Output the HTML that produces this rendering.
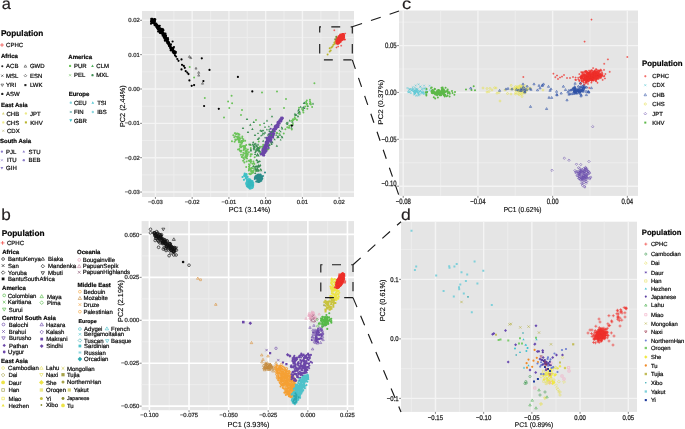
<!DOCTYPE html><html><head><meta charset="utf-8"><style>html,body{margin:0;padding:0;background:#fff;}svg{display:block;will-change:transform;}text{font-family:"Liberation Sans",sans-serif;stroke:#1a1a1a;stroke-width:0.22px;text-rendering:geometricPrecision;}</style></head><body>
<svg width="685" height="429" viewBox="0 0 685 429">
<rect width="685" height="429" fill="#fff"/>
<rect x="142" y="11" width="212" height="186" fill="#E5E5E5"/>
<g stroke="#EDEDED" stroke-width="1.0">
<line x1="173.8" y1="11" x2="173.8" y2="197"/>
<line x1="210.55" y1="11" x2="210.55" y2="197"/>
<line x1="247.3" y1="11" x2="247.3" y2="197"/>
<line x1="284.05" y1="11" x2="284.05" y2="197"/>
<line x1="320.8" y1="11" x2="320.8" y2="197"/>
<line x1="142" y1="174.88" x2="354" y2="174.88"/>
<line x1="142" y1="140.53" x2="354" y2="140.53"/>
<line x1="142" y1="106.18" x2="354" y2="106.18"/>
<line x1="142" y1="71.82" x2="354" y2="71.82"/>
<line x1="142" y1="37.47" x2="354" y2="37.47"/>
</g>
<g stroke="#F4F4F4" stroke-width="1.4">
<line x1="155.42" y1="11" x2="155.42" y2="197"/>
<line x1="192.17" y1="11" x2="192.17" y2="197"/>
<line x1="228.92" y1="11" x2="228.92" y2="197"/>
<line x1="265.67" y1="11" x2="265.67" y2="197"/>
<line x1="302.42" y1="11" x2="302.42" y2="197"/>
<line x1="339.17" y1="11" x2="339.17" y2="197"/>
<line x1="142" y1="192.06" x2="354" y2="192.06"/>
<line x1="142" y1="157.71" x2="354" y2="157.71"/>
<line x1="142" y1="123.35" x2="354" y2="123.35"/>
<line x1="142" y1="89" x2="354" y2="89"/>
<line x1="142" y1="54.65" x2="354" y2="54.65"/>
<line x1="142" y1="20.29" x2="354" y2="20.29"/>
</g>
<g stroke="#333333" stroke-width="0.6">
<line x1="155.42" y1="197" x2="155.42" y2="198.9"/>
<line x1="192.17" y1="197" x2="192.17" y2="198.9"/>
<line x1="228.92" y1="197" x2="228.92" y2="198.9"/>
<line x1="265.67" y1="197" x2="265.67" y2="198.9"/>
<line x1="302.42" y1="197" x2="302.42" y2="198.9"/>
<line x1="339.17" y1="197" x2="339.17" y2="198.9"/>
<line x1="140.1" y1="192.06" x2="142" y2="192.06"/>
<line x1="140.1" y1="157.71" x2="142" y2="157.71"/>
<line x1="140.1" y1="123.35" x2="142" y2="123.35"/>
<line x1="140.1" y1="89" x2="142" y2="89"/>
<line x1="140.1" y1="54.65" x2="142" y2="54.65"/>
<line x1="140.1" y1="20.29" x2="142" y2="20.29"/>
</g>
<g font-family='"Liberation Sans", sans-serif' font-size="5.9" fill="#383838">
<text transform="translate(155.42 202.08) scale(1.0 1.0)" y="2.12" text-anchor="middle">−0.03</text>
<text transform="translate(192.17 202.08) scale(1.0 1.0)" y="2.12" text-anchor="middle">−0.02</text>
<text transform="translate(228.92 202.08) scale(1.0 1.0)" y="2.12" text-anchor="middle">−0.01</text>
<text transform="translate(265.67 202.08) scale(1.0 1.0)" y="2.12" text-anchor="middle">0.00</text>
<text transform="translate(302.42 202.08) scale(1.0 1.0)" y="2.12" text-anchor="middle">0.01</text>
<text transform="translate(339.17 202.08) scale(1.0 1.0)" y="2.12" text-anchor="middle">0.02</text>
<text transform="translate(139.7 192.06) scale(1.0 1.0)" y="2.12" text-anchor="end">−0.03</text>
<text transform="translate(139.7 157.71) scale(1.0 1.0)" y="2.12" text-anchor="end">−0.02</text>
<text transform="translate(139.7 123.35) scale(1.0 1.0)" y="2.12" text-anchor="end">−0.01</text>
<text transform="translate(139.7 89) scale(1.0 1.0)" y="2.12" text-anchor="end">0.00</text>
<text transform="translate(139.7 54.65) scale(1.0 1.0)" y="2.12" text-anchor="end">0.01</text>
<text transform="translate(139.7 20.29) scale(1.0 1.0)" y="2.12" text-anchor="end">0.02</text>
</g>
<text x="249.5" y="212.4" font-size="7.25" font-weight="normal" text-anchor="middle" fill="#000" style="stroke-width:0.13px">PC1 (3.14%)</text>
<text x="125.2" y="106.2" font-size="7.25" font-weight="normal" text-anchor="middle" fill="#000" style="stroke-width:0.13px" transform="rotate(-90 125.2 106.2)">PC2 (2.44%)</text>
<rect x="399" y="10.5" width="239" height="185.4" fill="#E5E5E5"/>
<g stroke="#EDEDED" stroke-width="1.0">
<line x1="440.58" y1="10.5" x2="440.58" y2="195.9"/>
<line x1="515.28" y1="10.5" x2="515.28" y2="195.9"/>
<line x1="589.98" y1="10.5" x2="589.98" y2="195.9"/>
<line x1="399" y1="162.76" x2="638" y2="162.76"/>
<line x1="399" y1="115.89" x2="638" y2="115.89"/>
<line x1="399" y1="69.01" x2="638" y2="69.01"/>
<line x1="399" y1="22.14" x2="638" y2="22.14"/>
</g>
<g stroke="#F4F4F4" stroke-width="1.4">
<line x1="403.23" y1="10.5" x2="403.23" y2="195.9"/>
<line x1="477.93" y1="10.5" x2="477.93" y2="195.9"/>
<line x1="552.63" y1="10.5" x2="552.63" y2="195.9"/>
<line x1="627.33" y1="10.5" x2="627.33" y2="195.9"/>
<line x1="399" y1="186.2" x2="638" y2="186.2"/>
<line x1="399" y1="139.32" x2="638" y2="139.32"/>
<line x1="399" y1="92.45" x2="638" y2="92.45"/>
<line x1="399" y1="45.58" x2="638" y2="45.58"/>
</g>
<g stroke="#333333" stroke-width="0.6">
<line x1="403.23" y1="195.9" x2="403.23" y2="197.8"/>
<line x1="477.93" y1="195.9" x2="477.93" y2="197.8"/>
<line x1="552.63" y1="195.9" x2="552.63" y2="197.8"/>
<line x1="627.33" y1="195.9" x2="627.33" y2="197.8"/>
<line x1="397.1" y1="186.2" x2="399" y2="186.2"/>
<line x1="397.1" y1="139.32" x2="399" y2="139.32"/>
<line x1="397.1" y1="92.45" x2="399" y2="92.45"/>
<line x1="397.1" y1="45.58" x2="399" y2="45.58"/>
</g>
<g font-family='"Liberation Sans", sans-serif' font-size="6.0" fill="#383838">
<text transform="translate(403.23 201.04) scale(1.0 1.3)" y="2.16" text-anchor="middle">−0.08</text>
<text transform="translate(477.93 201.04) scale(1.0 1.3)" y="2.16" text-anchor="middle">−0.04</text>
<text transform="translate(552.63 201.04) scale(1.0 1.3)" y="2.16" text-anchor="middle">0.00</text>
<text transform="translate(627.33 201.04) scale(1.0 1.3)" y="2.16" text-anchor="middle">0.04</text>
<text transform="translate(396.7 183.5) scale(1.0 1.3)" y="2.16" text-anchor="end">−0.10</text>
<text transform="translate(396.7 139.32) scale(1.0 1.3)" y="2.16" text-anchor="end">−0.05</text>
<text transform="translate(396.7 92.45) scale(1.0 1.3)" y="2.16" text-anchor="end">0.00</text>
<text transform="translate(396.7 45.58) scale(1.0 1.3)" y="2.16" text-anchor="end">0.05</text>
</g>
<text transform="translate(522.6 211.6) scale(0.92 1)" font-size="7.2" text-anchor="middle" fill="#000" style="stroke-width:0.13px">PC1 (0.62%)</text>
<text transform="translate(383.2 102.2) rotate(-90) scale(1.10 0.95)" font-size="7.2" text-anchor="middle" fill="#000" style="stroke-width:0.13px">PC2 (0.37%)</text>
<rect x="141.6" y="221.1" width="212.4" height="189.1" fill="#E5E5E5"/>
<g stroke="#EDEDED" stroke-width="1.0">
<line x1="169.21" y1="221.1" x2="169.21" y2="410.2"/>
<line x1="208.82" y1="221.1" x2="208.82" y2="410.2"/>
<line x1="248.43" y1="221.1" x2="248.43" y2="410.2"/>
<line x1="288.04" y1="221.1" x2="288.04" y2="410.2"/>
<line x1="327.64" y1="221.1" x2="327.64" y2="410.2"/>
<line x1="141.6" y1="384.68" x2="354" y2="384.68"/>
<line x1="141.6" y1="341.75" x2="354" y2="341.75"/>
<line x1="141.6" y1="298.81" x2="354" y2="298.81"/>
<line x1="141.6" y1="255.88" x2="354" y2="255.88"/>
</g>
<g stroke="#FFFFFF" stroke-width="1.6">
<line x1="149.41" y1="221.1" x2="149.41" y2="410.2"/>
<line x1="189.02" y1="221.1" x2="189.02" y2="410.2"/>
<line x1="228.62" y1="221.1" x2="228.62" y2="410.2"/>
<line x1="268.23" y1="221.1" x2="268.23" y2="410.2"/>
<line x1="307.84" y1="221.1" x2="307.84" y2="410.2"/>
<line x1="347.45" y1="221.1" x2="347.45" y2="410.2"/>
<line x1="141.6" y1="406.14" x2="354" y2="406.14"/>
<line x1="141.6" y1="363.21" x2="354" y2="363.21"/>
<line x1="141.6" y1="320.28" x2="354" y2="320.28"/>
<line x1="141.6" y1="277.35" x2="354" y2="277.35"/>
<line x1="141.6" y1="234.41" x2="354" y2="234.41"/>
</g>
<g stroke="#333333" stroke-width="0.6">
<line x1="149.41" y1="410.2" x2="149.41" y2="412.1"/>
<line x1="189.02" y1="410.2" x2="189.02" y2="412.1"/>
<line x1="228.62" y1="410.2" x2="228.62" y2="412.1"/>
<line x1="268.23" y1="410.2" x2="268.23" y2="412.1"/>
<line x1="307.84" y1="410.2" x2="307.84" y2="412.1"/>
<line x1="347.45" y1="410.2" x2="347.45" y2="412.1"/>
<line x1="139.7" y1="406.14" x2="141.6" y2="406.14"/>
<line x1="139.7" y1="363.21" x2="141.6" y2="363.21"/>
<line x1="139.7" y1="320.28" x2="141.6" y2="320.28"/>
<line x1="139.7" y1="277.35" x2="141.6" y2="277.35"/>
<line x1="139.7" y1="234.41" x2="141.6" y2="234.41"/>
</g>
<g font-family='"Liberation Sans", sans-serif' font-size="5.9" fill="#383838">
<text transform="translate(149.41 415.28) scale(1.0 1.0)" y="2.12" text-anchor="middle">−0.100</text>
<text transform="translate(189.02 415.28) scale(1.0 1.0)" y="2.12" text-anchor="middle">−0.075</text>
<text transform="translate(228.62 415.28) scale(1.0 1.0)" y="2.12" text-anchor="middle">−0.050</text>
<text transform="translate(268.23 415.28) scale(1.0 1.0)" y="2.12" text-anchor="middle">−0.025</text>
<text transform="translate(307.84 415.28) scale(1.0 1.0)" y="2.12" text-anchor="middle">0.000</text>
<text transform="translate(347.45 415.28) scale(1.0 1.0)" y="2.12" text-anchor="middle">0.025</text>
<text transform="translate(139.3 406.14) scale(1.0 1.0)" y="2.12" text-anchor="end">−0.050</text>
<text transform="translate(139.3 363.21) scale(1.0 1.0)" y="2.12" text-anchor="end">−0.025</text>
<text transform="translate(139.3 320.28) scale(1.0 1.0)" y="2.12" text-anchor="end">0.000</text>
<text transform="translate(139.3 277.35) scale(1.0 1.0)" y="2.12" text-anchor="end">0.025</text>
<text transform="translate(139.3 234.41) scale(1.0 1.0)" y="2.12" text-anchor="end">0.050</text>
</g>
<text x="248.5" y="426.5" font-size="7.3" font-weight="normal" text-anchor="middle" fill="#000" style="stroke-width:0.13px">PC1 (3.93%)</text>
<text x="122.6" y="301" font-size="7.3" font-weight="normal" text-anchor="middle" fill="#000" style="stroke-width:0.13px" transform="rotate(-90 122.6 301)">PC2 (2.19%)</text>
<rect x="401" y="221.7" width="236" height="190.2" fill="#E5E5E5"/>
<g stroke="#EDEDED" stroke-width="1.0">
<line x1="459.56" y1="221.7" x2="459.56" y2="411.9"/>
<line x1="507.77" y1="221.7" x2="507.77" y2="411.9"/>
<line x1="555.99" y1="221.7" x2="555.99" y2="411.9"/>
<line x1="604.21" y1="221.7" x2="604.21" y2="411.9"/>
<line x1="411.34" y1="221.7" x2="411.34" y2="411.9"/>
<line x1="401" y1="368.63" x2="637" y2="368.63"/>
<line x1="401" y1="309.12" x2="637" y2="309.12"/>
<line x1="401" y1="249.61" x2="637" y2="249.61"/>
</g>
<g stroke="#F4F4F4" stroke-width="1.4">
<line x1="435.45" y1="221.7" x2="435.45" y2="411.9"/>
<line x1="483.67" y1="221.7" x2="483.67" y2="411.9"/>
<line x1="531.88" y1="221.7" x2="531.88" y2="411.9"/>
<line x1="580.1" y1="221.7" x2="580.1" y2="411.9"/>
<line x1="628.32" y1="221.7" x2="628.32" y2="411.9"/>
<line x1="401" y1="398.39" x2="637" y2="398.39"/>
<line x1="401" y1="338.88" x2="637" y2="338.88"/>
<line x1="401" y1="279.37" x2="637" y2="279.37"/>
</g>
<g stroke="#333333" stroke-width="0.6">
<line x1="435.45" y1="411.9" x2="435.45" y2="413.8"/>
<line x1="483.67" y1="411.9" x2="483.67" y2="413.8"/>
<line x1="531.88" y1="411.9" x2="531.88" y2="413.8"/>
<line x1="580.1" y1="411.9" x2="580.1" y2="413.8"/>
<line x1="628.32" y1="411.9" x2="628.32" y2="413.8"/>
<line x1="399.1" y1="398.39" x2="401" y2="398.39"/>
<line x1="399.1" y1="338.88" x2="401" y2="338.88"/>
<line x1="399.1" y1="279.37" x2="401" y2="279.37"/>
</g>
<g font-family='"Liberation Sans", sans-serif' font-size="6.0" fill="#383838">
<text transform="translate(435.45 417.04) scale(1.0 1.15)" y="2.16" text-anchor="middle">−0.15</text>
<text transform="translate(483.67 417.04) scale(1.0 1.15)" y="2.16" text-anchor="middle">−0.10</text>
<text transform="translate(531.88 417.04) scale(1.0 1.15)" y="2.16" text-anchor="middle">−0.05</text>
<text transform="translate(580.1 417.04) scale(1.0 1.15)" y="2.16" text-anchor="middle">0.00</text>
<text transform="translate(628.32 417.04) scale(1.0 1.15)" y="2.16" text-anchor="middle">0.05</text>
<text transform="translate(398.7 398.39) scale(1.0 1.15)" y="2.16" text-anchor="end">−0.1</text>
<text transform="translate(398.7 338.88) scale(1.0 1.15)" y="2.16" text-anchor="end">0.0</text>
<text transform="translate(398.7 279.37) scale(1.0 1.15)" y="2.16" text-anchor="end">0.1</text>
</g>
<text x="534" y="427.3" font-size="6.75" font-weight="normal" text-anchor="middle" fill="#000" style="stroke-width:0.13px">PC1 (0.89%)</text>
<text x="384.6" y="300.4" font-size="7.3" font-weight="normal" text-anchor="middle" fill="#000" style="stroke-width:0.13px" transform="rotate(-90 384.6 300.4)">PC2 (0.61%)</text>
<text transform="translate(1.7 8.7) scale(1.03 1)" font-size="16" fill="#231F20" style="stroke:#231F20;stroke-width:0.15px">a</text>
<text transform="translate(401.95 8.8) scale(1.15 1)" font-size="16" fill="#231F20" style="stroke:#231F20;stroke-width:0.15px">c</text>
<text transform="translate(1.35 219.8) scale(1.07 1)" font-size="16" fill="#231F20" style="stroke:#231F20;stroke-width:0.15px">b</text>
<text transform="translate(401.1 219.7) scale(1.1 1)" font-size="16" fill="#231F20" style="stroke:#231F20;stroke-width:0.15px">d</text>
<svg x="142" y="11" width="212" height="186" viewBox="142 11 212 186" overflow="hidden">
<path d="M239.07 146.64a1 1 0 1 0 2 0a1 1 0 1 0 -2 0M233.32 137.26a1 1 0 1 0 2 0a1 1 0 1 0 -2 0M245.76 153.97a1 1 0 1 0 2 0a1 1 0 1 0 -2 0M243.97 153.3a1 1 0 1 0 2 0a1 1 0 1 0 -2 0M235.57 134a1 1 0 1 0 2 0a1 1 0 1 0 -2 0M235.83 136.65a1 1 0 1 0 2 0a1 1 0 1 0 -2 0M242.65 149.9a1 1 0 1 0 2 0a1 1 0 1 0 -2 0M240.4 140.94a1 1 0 1 0 2 0a1 1 0 1 0 -2 0M243.36 159.31a1 1 0 1 0 2 0a1 1 0 1 0 -2 0M243.85 147.9a1 1 0 1 0 2 0a1 1 0 1 0 -2 0M248.29 173.81a1 1 0 1 0 2 0a1 1 0 1 0 -2 0M239.12 144.9a1 1 0 1 0 2 0a1 1 0 1 0 -2 0M236.02 139.36a1 1 0 1 0 2 0a1 1 0 1 0 -2 0M247.96 166.48a1 1 0 1 0 2 0a1 1 0 1 0 -2 0M241.16 138.08a1 1 0 1 0 2 0a1 1 0 1 0 -2 0M244.09 146.57a1 1 0 1 0 2 0a1 1 0 1 0 -2 0M244.46 155.05a1 1 0 1 0 2 0a1 1 0 1 0 -2 0M238.57 141.03a1 1 0 1 0 2 0a1 1 0 1 0 -2 0M249.41 159.65a1 1 0 1 0 2 0a1 1 0 1 0 -2 0M244.93 156.68a1 1 0 1 0 2 0a1 1 0 1 0 -2 0M245.32 150.17a1 1 0 1 0 2 0a1 1 0 1 0 -2 0M243.38 162.41a1 1 0 1 0 2 0a1 1 0 1 0 -2 0M242.43 140.97a1 1 0 1 0 2 0a1 1 0 1 0 -2 0M251.04 168.31a1 1 0 1 0 2 0a1 1 0 1 0 -2 0M249.66 161.87a1 1 0 1 0 2 0a1 1 0 1 0 -2 0M230.95 141.14a1 1 0 1 0 2 0a1 1 0 1 0 -2 0M243.09 149.36a1 1 0 1 0 2 0a1 1 0 1 0 -2 0M245.95 151.64a1 1 0 1 0 2 0a1 1 0 1 0 -2 0M236.57 133.47a1 1 0 1 0 2 0a1 1 0 1 0 -2 0M249.71 154.22a1 1 0 1 0 2 0a1 1 0 1 0 -2 0M251.14 168.3a1 1 0 1 0 2 0a1 1 0 1 0 -2 0M242.31 158.12a1 1 0 1 0 2 0a1 1 0 1 0 -2 0M250.77 154.14a1 1 0 1 0 2 0a1 1 0 1 0 -2 0M249.95 171.86a1 1 0 1 0 2 0a1 1 0 1 0 -2 0M244.64 151.44a1 1 0 1 0 2 0a1 1 0 1 0 -2 0M248.45 160.94a1 1 0 1 0 2 0a1 1 0 1 0 -2 0M242.1 160.74a1 1 0 1 0 2 0a1 1 0 1 0 -2 0M240.69 143.87a1 1 0 1 0 2 0a1 1 0 1 0 -2 0M242.79 147.89a1 1 0 1 0 2 0a1 1 0 1 0 -2 0M244.45 150.91a1 1 0 1 0 2 0a1 1 0 1 0 -2 0M237.4 139.75a1 1 0 1 0 2 0a1 1 0 1 0 -2 0M248.03 164.2a1 1 0 1 0 2 0a1 1 0 1 0 -2 0M237.04 137.94a1 1 0 1 0 2 0a1 1 0 1 0 -2 0M247.95 169.02a1 1 0 1 0 2 0a1 1 0 1 0 -2 0M238.38 134.52a1 1 0 1 0 2 0a1 1 0 1 0 -2 0M249.3 169.19a1 1 0 1 0 2 0a1 1 0 1 0 -2 0M248.11 166.58a1 1 0 1 0 2 0a1 1 0 1 0 -2 0M244.73 148.4a1 1 0 1 0 2 0a1 1 0 1 0 -2 0M237.05 149.41a1 1 0 1 0 2 0a1 1 0 1 0 -2 0M241.32 136.4a1 1 0 1 0 2 0a1 1 0 1 0 -2 0M238 139.81a1 1 0 1 0 2 0a1 1 0 1 0 -2 0M242.32 152.86a1 1 0 1 0 2 0a1 1 0 1 0 -2 0M246.02 156.43a1 1 0 1 0 2 0a1 1 0 1 0 -2 0M242.94 149.48a1 1 0 1 0 2 0a1 1 0 1 0 -2 0M248.13 144.39a1 1 0 1 0 2 0a1 1 0 1 0 -2 0M250.09 159.91a1 1 0 1 0 2 0a1 1 0 1 0 -2 0M247.83 152.18a1 1 0 1 0 2 0a1 1 0 1 0 -2 0M237.3 133.79a1 1 0 1 0 2 0a1 1 0 1 0 -2 0M249.55 169.87a1 1 0 1 0 2 0a1 1 0 1 0 -2 0M253.42 163.91a1 1 0 1 0 2 0a1 1 0 1 0 -2 0M243.64 147.79a1 1 0 1 0 2 0a1 1 0 1 0 -2 0M246.01 158.6a1 1 0 1 0 2 0a1 1 0 1 0 -2 0M234.22 136.15a1 1 0 1 0 2 0a1 1 0 1 0 -2 0M237.22 139.56a1 1 0 1 0 2 0a1 1 0 1 0 -2 0M241.54 146.22a1 1 0 1 0 2 0a1 1 0 1 0 -2 0M237.58 138.76a1 1 0 1 0 2 0a1 1 0 1 0 -2 0M236.72 136.66a1 1 0 1 0 2 0a1 1 0 1 0 -2 0M249.62 168.68a1 1 0 1 0 2 0a1 1 0 1 0 -2 0M245.21 157.94a1 1 0 1 0 2 0a1 1 0 1 0 -2 0M240.14 147.29a1 1 0 1 0 2 0a1 1 0 1 0 -2 0M238.42 148.99a1 1 0 1 0 2 0a1 1 0 1 0 -2 0M249.42 174.27a1 1 0 1 0 2 0a1 1 0 1 0 -2 0M245.17 150.84a1 1 0 1 0 2 0a1 1 0 1 0 -2 0M236.34 136.94a1 1 0 1 0 2 0a1 1 0 1 0 -2 0M242.1 146.07a1 1 0 1 0 2 0a1 1 0 1 0 -2 0M233.61 141.77a1 1 0 1 0 2 0a1 1 0 1 0 -2 0M232.3 135.28a1 1 0 1 0 2 0a1 1 0 1 0 -2 0M238.31 138.06a1 1 0 1 0 2 0a1 1 0 1 0 -2 0M241.99 155.79a1 1 0 1 0 2 0a1 1 0 1 0 -2 0M250.92 173.16a1 1 0 1 0 2 0a1 1 0 1 0 -2 0M250.34 167.96a1 1 0 1 0 2 0a1 1 0 1 0 -2 0M244.06 146.3a1 1 0 1 0 2 0a1 1 0 1 0 -2 0M237.58 139.59a1 1 0 1 0 2 0a1 1 0 1 0 -2 0M251.5 163.63a1 1 0 1 0 2 0a1 1 0 1 0 -2 0M240.59 146.18a1 1 0 1 0 2 0a1 1 0 1 0 -2 0M248.6 174.12a1 1 0 1 0 2 0a1 1 0 1 0 -2 0M248.38 168.02a1 1 0 1 0 2 0a1 1 0 1 0 -2 0M252.35 161.52a1 1 0 1 0 2 0a1 1 0 1 0 -2 0M241.67 140.48a1 1 0 1 0 2 0a1 1 0 1 0 -2 0M234.89 133.98a1 1 0 1 0 2 0a1 1 0 1 0 -2 0M234.94 133.89a1 1 0 1 0 2 0a1 1 0 1 0 -2 0M245.62 161.4a1 1 0 1 0 2 0a1 1 0 1 0 -2 0M254.57 171.1a1 1 0 1 0 2 0a1 1 0 1 0 -2 0M250.21 173.81a1 1 0 1 0 2 0a1 1 0 1 0 -2 0M251.7 171.84a1 1 0 1 0 2 0a1 1 0 1 0 -2 0M237.99 142.32a1 1 0 1 0 2 0a1 1 0 1 0 -2 0M237.75 141.05a1 1 0 1 0 2 0a1 1 0 1 0 -2 0M247.78 170.42a1 1 0 1 0 2 0a1 1 0 1 0 -2 0M252.57 166.26a1 1 0 1 0 2 0a1 1 0 1 0 -2 0M248.58 165.51a1 1 0 1 0 2 0a1 1 0 1 0 -2 0M238.43 134.71a1 1 0 1 0 2 0a1 1 0 1 0 -2 0M252.97 163.32a1 1 0 1 0 2 0a1 1 0 1 0 -2 0M249.8 162.8a1 1 0 1 0 2 0a1 1 0 1 0 -2 0M248.66 164.99a1 1 0 1 0 2 0a1 1 0 1 0 -2 0M239.26 146.98a1 1 0 1 0 2 0a1 1 0 1 0 -2 0M249.44 145.07a1 1 0 1 0 2 0a1 1 0 1 0 -2 0M238.79 150.67a1 1 0 1 0 2 0a1 1 0 1 0 -2 0M239.24 138.71a1 1 0 1 0 2 0a1 1 0 1 0 -2 0M234.28 139.54a1 1 0 1 0 2 0a1 1 0 1 0 -2 0M245.21 166.88a1 1 0 1 0 2 0a1 1 0 1 0 -2 0M234.6 140.35a1 1 0 1 0 2 0a1 1 0 1 0 -2 0M253.68 157.23a1 1 0 1 0 2 0a1 1 0 1 0 -2 0M243.13 145.95a1 1 0 1 0 2 0a1 1 0 1 0 -2 0M234.64 133.35a1 1 0 1 0 2 0a1 1 0 1 0 -2 0M252.27 172.42a1 1 0 1 0 2 0a1 1 0 1 0 -2 0M252.38 170.66a1 1 0 1 0 2 0a1 1 0 1 0 -2 0M240 151.69a1 1 0 1 0 2 0a1 1 0 1 0 -2 0M242.39 139.33a1 1 0 1 0 2 0a1 1 0 1 0 -2 0M240.33 142.41a1 1 0 1 0 2 0a1 1 0 1 0 -2 0M244.05 157.06a1 1 0 1 0 2 0a1 1 0 1 0 -2 0M241.16 142.37a1 1 0 1 0 2 0a1 1 0 1 0 -2 0M249.92 170.26a1 1 0 1 0 2 0a1 1 0 1 0 -2 0M245.22 145.07a1 1 0 1 0 2 0a1 1 0 1 0 -2 0M249.69 170.06a1 1 0 1 0 2 0a1 1 0 1 0 -2 0M240.47 150.79a1 1 0 1 0 2 0a1 1 0 1 0 -2 0M246.65 153.43a1 1 0 1 0 2 0a1 1 0 1 0 -2 0M242.03 154.83a1 1 0 1 0 2 0a1 1 0 1 0 -2 0M238.06 140.14a1 1 0 1 0 2 0a1 1 0 1 0 -2 0M233.74 133.37a1 1 0 1 0 2 0a1 1 0 1 0 -2 0M245.74 150.98a1 1 0 1 0 2 0a1 1 0 1 0 -2 0M250.03 161.56a1 1 0 1 0 2 0a1 1 0 1 0 -2 0M245.69 153.15a1 1 0 1 0 2 0a1 1 0 1 0 -2 0M245.18 155.13a1 1 0 1 0 2 0a1 1 0 1 0 -2 0M246.78 154.75a1 1 0 1 0 2 0a1 1 0 1 0 -2 0M240.5 142.16a1 1 0 1 0 2 0a1 1 0 1 0 -2 0M240.05 154.84a1 1 0 1 0 2 0a1 1 0 1 0 -2 0M245.19 155.44a1 1 0 1 0 2 0a1 1 0 1 0 -2 0M249.78 147.95a1 1 0 1 0 2 0a1 1 0 1 0 -2 0M249.55 156.18a1 1 0 1 0 2 0a1 1 0 1 0 -2 0M247.67 160.77a1 1 0 1 0 2 0a1 1 0 1 0 -2 0M246.88 149.52a1 1 0 1 0 2 0a1 1 0 1 0 -2 0M251.18 171.37a1 1 0 1 0 2 0a1 1 0 1 0 -2 0M243.35 162.43a1 1 0 1 0 2 0a1 1 0 1 0 -2 0M244.24 140.84a1 1 0 1 0 2 0a1 1 0 1 0 -2 0M240.7 157.07a1 1 0 1 0 2 0a1 1 0 1 0 -2 0M238.72 137.29a1 1 0 1 0 2 0a1 1 0 1 0 -2 0M237.67 137.13a1 1 0 1 0 2 0a1 1 0 1 0 -2 0M239.25 142.38a1 1 0 1 0 2 0a1 1 0 1 0 -2 0M237.47 134.7a1 1 0 1 0 2 0a1 1 0 1 0 -2 0M253.09 168.75a1 1 0 1 0 2 0a1 1 0 1 0 -2 0M188.7 67.1a1 1 0 1 0 2 0a1 1 0 1 0 -2 0M193.1 77.6a1 1 0 1 0 2 0a1 1 0 1 0 -2 0M203.8 97.9a1 1 0 1 0 2 0a1 1 0 1 0 -2 0M230.6 95.8a1 1 0 1 0 2 0a1 1 0 1 0 -2 0M227.1 101.4a1 1 0 1 0 2 0a1 1 0 1 0 -2 0M231.1 103.2a1 1 0 1 0 2 0a1 1 0 1 0 -2 0M228.3 107.9a1 1 0 1 0 2 0a1 1 0 1 0 -2 0M223 117.6a1 1 0 1 0 2 0a1 1 0 1 0 -2 0M241 110a1 1 0 1 0 2 0a1 1 0 1 0 -2 0M240 115a1 1 0 1 0 2 0a1 1 0 1 0 -2 0M261 92.5a1 1 0 1 0 2 0a1 1 0 1 0 -2 0M276 91.5a1 1 0 1 0 2 0a1 1 0 1 0 -2 0M285 99a1 1 0 1 0 2 0a1 1 0 1 0 -2 0M269 109a1 1 0 1 0 2 0a1 1 0 1 0 -2 0M283 108a1 1 0 1 0 2 0a1 1 0 1 0 -2 0M313.4 83.3a1 1 0 1 0 2 0a1 1 0 1 0 -2 0M255 120a1 1 0 1 0 2 0a1 1 0 1 0 -2 0M259 125a1 1 0 1 0 2 0a1 1 0 1 0 -2 0" fill="#6CC35A" stroke="none"/>
<path d="M259.87 150.38L261.08 152.49L258.66 152.49zM256.05 144.15L257.26 146.26L254.84 146.26zM263.21 139.64L264.42 141.75L262 141.75zM258.5 154.28L259.71 156.39L257.29 156.39zM254.03 148.21L255.24 150.32L252.82 150.32zM263.04 145.37L264.24 147.48L261.83 147.48zM258.8 148.95L260 151.06L257.59 151.06zM254.1 145.48L255.31 147.59L252.89 147.59zM257.94 148.68L259.14 150.79L256.73 150.79zM256.89 145.11L258.1 147.22L255.68 147.22zM253.75 144.54L254.96 146.65L252.54 146.65zM259.85 146.15L261.06 148.26L258.65 148.26zM254.27 142.85L255.48 144.96L253.06 144.96zM265.53 149.78L266.74 151.9L264.33 151.9zM259.04 136.72L260.25 138.83L257.83 138.83zM258.99 147.47L260.2 149.59L257.78 149.59zM262.39 147.29L263.6 149.4L261.18 149.4zM256.78 147.62L257.99 149.73L255.58 149.73zM250.78 149.41L251.99 151.52L249.57 151.52zM258.04 143.34L259.25 145.45L256.83 145.45zM261.24 152.13L262.45 154.24L260.03 154.24zM252.51 143.46L253.72 145.57L251.3 145.57zM257.93 146.43L259.14 148.55L256.72 148.55zM255.72 142.38L256.93 144.5L254.52 144.5zM263.79 149.42L264.99 151.54L262.58 151.54zM253.18 141.08L254.39 143.2L251.97 143.2zM262.45 149.25L263.66 151.37L261.24 151.37zM262.83 148.63L264.03 150.74L261.62 150.74zM254.21 146.7L255.42 148.82L253 148.82zM250.09 143.17L251.3 145.29L248.88 145.29zM256.81 147.62L258.02 149.74L255.6 149.74zM254.67 145.36L255.88 147.47L253.46 147.47zM258.47 147.11L259.67 149.22L257.26 149.22zM259.04 146.52L260.25 148.64L257.83 148.64zM255.96 148.55L257.17 150.67L254.76 150.67zM257.61 161.08L258.82 163.19L256.4 163.19zM256.12 164.79L257.33 166.9L254.92 166.9zM257.26 165.5L258.47 167.61L256.05 167.61zM257.5 165.58L258.71 167.7L256.29 167.7zM257.2 159.13L258.41 161.24L256 161.24zM258.43 169.53L259.63 171.65L257.22 171.65zM258.46 163.94L259.66 166.05L257.25 166.05zM258.48 160.45L259.69 162.56L257.27 162.56zM253.33 165.06L254.54 167.17L252.12 167.17zM255.45 168.12L256.66 170.23L254.25 170.23zM255.12 152.96L256.32 155.08L253.91 155.08zM255.21 171.89L256.42 174.01L254.01 174.01zM256.66 158.63L257.87 160.74L255.45 160.74zM255.82 167.14L257.03 169.25L254.61 169.25zM258.59 165.59L259.8 167.7L257.39 167.7zM260.76 167.97L261.97 170.08L259.56 170.08zM257.45 167.48L258.66 169.59L256.25 169.59zM261.14 169.16L262.35 171.28L259.93 171.28zM259.75 159.92L260.96 162.03L258.54 162.03zM257.17 168.08L258.38 170.19L255.97 170.19zM256.85 169.6L258.06 171.72L255.64 171.72zM258.81 168.88L260.02 170.99L257.6 170.99zM257.03 176.25L258.24 178.36L255.83 178.36zM260.23 163.82L261.44 165.94L259.02 165.94zM257.7 176.47L258.91 178.58L256.49 178.58zM256.74 168.73L257.95 170.84L255.54 170.84zM259.66 164.82L260.86 166.94L258.45 166.94zM254.93 165.64L256.14 167.75L253.72 167.75zM274.6 138.13L275.81 140.24L273.39 140.24zM277.77 135.21L278.98 137.32L276.57 137.32zM269.52 143.76L270.72 145.88L268.31 145.88zM267.27 147.86L268.48 149.97L266.06 149.97zM280.03 133.63L281.24 135.75L278.82 135.75zM292.47 123.98L293.68 126.1L291.26 126.1zM298.37 109.29L299.58 111.41L297.17 111.41zM303.85 101.94L305.05 104.05L302.64 104.05zM282.22 127.35L283.42 129.46L281.01 129.46zM276.86 144.58L278.07 146.7L275.65 146.7zM298.29 111.64L299.5 113.75L297.08 113.75zM303.28 105.94L304.48 108.05L302.07 108.05zM304.79 101.69L305.99 103.8L303.58 103.8zM300.7 105.73L301.91 107.85L299.49 107.85zM270.1 139.85L271.3 141.96L268.89 141.96zM303.36 106.04L304.56 108.15L302.15 108.15zM303.26 108.73L304.47 110.85L302.06 110.85zM304.77 101.58L305.98 103.7L303.57 103.7zM296.3 113.63L297.51 115.74L295.09 115.74zM266.21 146.21L267.42 148.32L265.01 148.32zM271.3 141.4L272.5 143.51L270.09 143.51zM304.27 106.79L305.48 108.9L303.07 108.9zM289.74 119.29L290.94 121.41L288.53 121.41zM294.96 112.63L296.17 114.74L293.75 114.74zM291.6 126.76L292.81 128.87L290.39 128.87zM299.75 110.74L300.96 112.86L298.55 112.86zM286.61 121.65L287.81 123.76L285.4 123.76zM268.34 144.88L269.54 146.99L267.13 146.99zM299.16 111.26L300.37 113.38L297.95 113.38zM278.42 135.8L279.63 137.91L277.22 137.91zM299.57 112.32L300.78 114.43L298.37 114.43zM313 102.5L314.21 104.61L311.79 104.61zM287.24 122.93L288.45 125.04L286.04 125.04zM298.01 115.09L299.21 117.2L296.8 117.2zM298.8 108.18L300.01 110.29L297.6 110.29zM267.75 143.38L268.96 145.5L266.55 145.5zM272.36 141.02L273.57 143.13L271.15 143.13zM282.24 136.1L283.45 138.21L281.03 138.21zM292.42 120.6L293.63 122.72L291.21 122.72zM278.05 135.05L279.26 137.16L276.85 137.16zM295.34 113.77L296.55 115.88L294.14 115.88zM277.09 131.7L278.3 133.81L275.88 133.81zM287.76 121.38L288.97 123.5L286.56 123.5zM271.59 142.94L272.79 145.05L270.38 145.05zM307.74 104.96L308.95 107.07L306.53 107.07zM247 117.79L248.21 119.91L245.79 119.91zM253.8 120.79L255.01 122.91L252.59 122.91zM250.3 123.59L251.51 125.71L249.09 125.71zM252.4 127.79L253.61 129.91L251.19 129.91zM267 119.39L268.21 121.51L265.79 121.51zM261.5 129.79L262.71 131.91L260.29 131.91zM265 131.29L266.21 133.41L263.79 133.41zM272 115.19L273.21 117.31L270.79 117.31zM248 130.79L249.21 132.91L246.79 132.91zM243 126.79L244.21 128.91L241.79 128.91zM255 133.79L256.21 135.91L253.79 135.91zM258 137.79L259.21 139.91L256.79 139.91z" fill="#3C8E52" stroke="none"/>
<path d="M311.13 106.99a1 1 0 1 0 2 0a1 1 0 1 0 -2 0M275.53 132.63a1 1 0 1 0 2 0a1 1 0 1 0 -2 0M309.46 102.73a1 1 0 1 0 2 0a1 1 0 1 0 -2 0M291.93 120.49a1 1 0 1 0 2 0a1 1 0 1 0 -2 0M308.91 103.76a1 1 0 1 0 2 0a1 1 0 1 0 -2 0M284.35 129.26a1 1 0 1 0 2 0a1 1 0 1 0 -2 0M293.82 117.36a1 1 0 1 0 2 0a1 1 0 1 0 -2 0M309.92 104.38a1 1 0 1 0 2 0a1 1 0 1 0 -2 0M295.98 119.93a1 1 0 1 0 2 0a1 1 0 1 0 -2 0M305.6 104.29a1 1 0 1 0 2 0a1 1 0 1 0 -2 0M305.36 103.22a1 1 0 1 0 2 0a1 1 0 1 0 -2 0M293.26 119.26a1 1 0 1 0 2 0a1 1 0 1 0 -2 0M293.31 118.96a1 1 0 1 0 2 0a1 1 0 1 0 -2 0M291.82 120.32a1 1 0 1 0 2 0a1 1 0 1 0 -2 0M289.83 125.3a1 1 0 1 0 2 0a1 1 0 1 0 -2 0M288.24 125.79a1 1 0 1 0 2 0a1 1 0 1 0 -2 0M301.02 109.06a1 1 0 1 0 2 0a1 1 0 1 0 -2 0M306.33 108.64a1 1 0 1 0 2 0a1 1 0 1 0 -2 0M302.4 112.51a1 1 0 1 0 2 0a1 1 0 1 0 -2 0M306.1 103.78a1 1 0 1 0 2 0a1 1 0 1 0 -2 0M291.91 123.9a1 1 0 1 0 2 0a1 1 0 1 0 -2 0M308.9 99.83a1 1 0 1 0 2 0a1 1 0 1 0 -2 0M290.64 120.81a1 1 0 1 0 2 0a1 1 0 1 0 -2 0M287.7 127.87a1 1 0 1 0 2 0a1 1 0 1 0 -2 0M304.16 106.48a1 1 0 1 0 2 0a1 1 0 1 0 -2 0M288.41 127.77a1 1 0 1 0 2 0a1 1 0 1 0 -2 0M286.25 127.35a1 1 0 1 0 2 0a1 1 0 1 0 -2 0M294.42 118.63a1 1 0 1 0 2 0a1 1 0 1 0 -2 0M309.59 103.75a1 1 0 1 0 2 0a1 1 0 1 0 -2 0M306.49 105.5a1 1 0 1 0 2 0a1 1 0 1 0 -2 0M305.12 101.8a1 1 0 1 0 2 0a1 1 0 1 0 -2 0M305.84 100.61a1 1 0 1 0 2 0a1 1 0 1 0 -2 0M278.33 133.79a1 1 0 1 0 2 0a1 1 0 1 0 -2 0M298.06 107.83a1 1 0 1 0 2 0a1 1 0 1 0 -2 0M298.68 113.78a1 1 0 1 0 2 0a1 1 0 1 0 -2 0M290.8 129.52a1 1 0 1 0 2 0a1 1 0 1 0 -2 0M282.76 133.41a1 1 0 1 0 2 0a1 1 0 1 0 -2 0M291.98 119.14a1 1 0 1 0 2 0a1 1 0 1 0 -2 0M301.84 110.44a1 1 0 1 0 2 0a1 1 0 1 0 -2 0M309.01 101.62a1 1 0 1 0 2 0a1 1 0 1 0 -2 0M265.37 143.4a1 1 0 1 0 2 0a1 1 0 1 0 -2 0M264.64 143.09a1 1 0 1 0 2 0a1 1 0 1 0 -2 0M262.12 146.44a1 1 0 1 0 2 0a1 1 0 1 0 -2 0M262.74 148.89a1 1 0 1 0 2 0a1 1 0 1 0 -2 0M259.04 146.63a1 1 0 1 0 2 0a1 1 0 1 0 -2 0M267.41 149.37a1 1 0 1 0 2 0a1 1 0 1 0 -2 0M260.93 146.67a1 1 0 1 0 2 0a1 1 0 1 0 -2 0M262.51 148.08a1 1 0 1 0 2 0a1 1 0 1 0 -2 0M262.48 147.49a1 1 0 1 0 2 0a1 1 0 1 0 -2 0M262.2 144.73a1 1 0 1 0 2 0a1 1 0 1 0 -2 0M264.89 150.06a1 1 0 1 0 2 0a1 1 0 1 0 -2 0M257.75 141.47a1 1 0 1 0 2 0a1 1 0 1 0 -2 0" fill="#6CC35A" stroke="none"/>
<path d="M248.54 182.52a1.1 1.1 0 1 0 2.2 0a1.1 1.1 0 1 0 -2.2 0M246.4 179.7a1.1 1.1 0 1 0 2.2 0a1.1 1.1 0 1 0 -2.2 0M246.11 184.53a1.1 1.1 0 1 0 2.2 0a1.1 1.1 0 1 0 -2.2 0M250.58 187.2a1.1 1.1 0 1 0 2.2 0a1.1 1.1 0 1 0 -2.2 0M246.11 182.03a1.1 1.1 0 1 0 2.2 0a1.1 1.1 0 1 0 -2.2 0M246.68 183.26a1.1 1.1 0 1 0 2.2 0a1.1 1.1 0 1 0 -2.2 0M249.55 188.46a1.1 1.1 0 1 0 2.2 0a1.1 1.1 0 1 0 -2.2 0M251.22 187.38a1.1 1.1 0 1 0 2.2 0a1.1 1.1 0 1 0 -2.2 0M248.75 184.73a1.1 1.1 0 1 0 2.2 0a1.1 1.1 0 1 0 -2.2 0M245.9 180.34a1.1 1.1 0 1 0 2.2 0a1.1 1.1 0 1 0 -2.2 0M246.36 184.67a1.1 1.1 0 1 0 2.2 0a1.1 1.1 0 1 0 -2.2 0M251.15 187.9a1.1 1.1 0 1 0 2.2 0a1.1 1.1 0 1 0 -2.2 0M250.64 184.87a1.1 1.1 0 1 0 2.2 0a1.1 1.1 0 1 0 -2.2 0M250.43 182.88a1.1 1.1 0 1 0 2.2 0a1.1 1.1 0 1 0 -2.2 0M247.82 179.08a1.1 1.1 0 1 0 2.2 0a1.1 1.1 0 1 0 -2.2 0M249.94 180.59a1.1 1.1 0 1 0 2.2 0a1.1 1.1 0 1 0 -2.2 0M252.01 184.48a1.1 1.1 0 1 0 2.2 0a1.1 1.1 0 1 0 -2.2 0M246.33 180.43a1.1 1.1 0 1 0 2.2 0a1.1 1.1 0 1 0 -2.2 0M247.34 185.63a1.1 1.1 0 1 0 2.2 0a1.1 1.1 0 1 0 -2.2 0M249.04 179.53a1.1 1.1 0 1 0 2.2 0a1.1 1.1 0 1 0 -2.2 0M245.78 184.85a1.1 1.1 0 1 0 2.2 0a1.1 1.1 0 1 0 -2.2 0M248.98 182.52a1.1 1.1 0 1 0 2.2 0a1.1 1.1 0 1 0 -2.2 0M247.05 185.33a1.1 1.1 0 1 0 2.2 0a1.1 1.1 0 1 0 -2.2 0M249.66 188.48a1.1 1.1 0 1 0 2.2 0a1.1 1.1 0 1 0 -2.2 0M250.74 187.39a1.1 1.1 0 1 0 2.2 0a1.1 1.1 0 1 0 -2.2 0M247.81 181.18a1.1 1.1 0 1 0 2.2 0a1.1 1.1 0 1 0 -2.2 0M249.6 181.48a1.1 1.1 0 1 0 2.2 0a1.1 1.1 0 1 0 -2.2 0M245.37 184.67a1.1 1.1 0 1 0 2.2 0a1.1 1.1 0 1 0 -2.2 0M249.7 182.67a1.1 1.1 0 1 0 2.2 0a1.1 1.1 0 1 0 -2.2 0M247.46 185.93a1.1 1.1 0 1 0 2.2 0a1.1 1.1 0 1 0 -2.2 0M245.02 183.04a1.1 1.1 0 1 0 2.2 0a1.1 1.1 0 1 0 -2.2 0M248.64 185.78a1.1 1.1 0 1 0 2.2 0a1.1 1.1 0 1 0 -2.2 0M247.4 187.35a1.1 1.1 0 1 0 2.2 0a1.1 1.1 0 1 0 -2.2 0M250.38 183.4a1.1 1.1 0 1 0 2.2 0a1.1 1.1 0 1 0 -2.2 0M248.25 187.37a1.1 1.1 0 1 0 2.2 0a1.1 1.1 0 1 0 -2.2 0M246.08 181.5a1.1 1.1 0 1 0 2.2 0a1.1 1.1 0 1 0 -2.2 0M249.96 181.25a1.1 1.1 0 1 0 2.2 0a1.1 1.1 0 1 0 -2.2 0M251.83 182.92a1.1 1.1 0 1 0 2.2 0a1.1 1.1 0 1 0 -2.2 0M245.78 181.6a1.1 1.1 0 1 0 2.2 0a1.1 1.1 0 1 0 -2.2 0M248.57 185.62a1.1 1.1 0 1 0 2.2 0a1.1 1.1 0 1 0 -2.2 0M247.19 181.11a1.1 1.1 0 1 0 2.2 0a1.1 1.1 0 1 0 -2.2 0M249.03 188a1.1 1.1 0 1 0 2.2 0a1.1 1.1 0 1 0 -2.2 0M251.99 185.42a1.1 1.1 0 1 0 2.2 0a1.1 1.1 0 1 0 -2.2 0M246.67 180.96a1.1 1.1 0 1 0 2.2 0a1.1 1.1 0 1 0 -2.2 0M245.89 186.32a1.1 1.1 0 1 0 2.2 0a1.1 1.1 0 1 0 -2.2 0M247.52 182.76a1.1 1.1 0 1 0 2.2 0a1.1 1.1 0 1 0 -2.2 0M246.64 180.79a1.1 1.1 0 1 0 2.2 0a1.1 1.1 0 1 0 -2.2 0M248.89 188.65a1.1 1.1 0 1 0 2.2 0a1.1 1.1 0 1 0 -2.2 0M246.28 182.91a1.1 1.1 0 1 0 2.2 0a1.1 1.1 0 1 0 -2.2 0M251.8 186.44a1.1 1.1 0 1 0 2.2 0a1.1 1.1 0 1 0 -2.2 0M247.02 179.4a1.1 1.1 0 1 0 2.2 0a1.1 1.1 0 1 0 -2.2 0M248.17 182.57a1.1 1.1 0 1 0 2.2 0a1.1 1.1 0 1 0 -2.2 0M248.82 188.04a1.1 1.1 0 1 0 2.2 0a1.1 1.1 0 1 0 -2.2 0M245.19 183.78a1.1 1.1 0 1 0 2.2 0a1.1 1.1 0 1 0 -2.2 0M251.59 185.9a1.1 1.1 0 1 0 2.2 0a1.1 1.1 0 1 0 -2.2 0M247.68 186.74a1.1 1.1 0 1 0 2.2 0a1.1 1.1 0 1 0 -2.2 0M251.04 181.44a1.1 1.1 0 1 0 2.2 0a1.1 1.1 0 1 0 -2.2 0M248.87 181.19a1.1 1.1 0 1 0 2.2 0a1.1 1.1 0 1 0 -2.2 0M249.71 181.55a1.1 1.1 0 1 0 2.2 0a1.1 1.1 0 1 0 -2.2 0M251.6 187.51a1.1 1.1 0 1 0 2.2 0a1.1 1.1 0 1 0 -2.2 0M250.82 188a1.1 1.1 0 1 0 2.2 0a1.1 1.1 0 1 0 -2.2 0M249.76 188.43a1.1 1.1 0 1 0 2.2 0a1.1 1.1 0 1 0 -2.2 0M251.55 181.81a1.1 1.1 0 1 0 2.2 0a1.1 1.1 0 1 0 -2.2 0M246.78 183.56a1.1 1.1 0 1 0 2.2 0a1.1 1.1 0 1 0 -2.2 0M249.81 188.11a1.1 1.1 0 1 0 2.2 0a1.1 1.1 0 1 0 -2.2 0M247.31 187.43a1.1 1.1 0 1 0 2.2 0a1.1 1.1 0 1 0 -2.2 0M251.23 186.6a1.1 1.1 0 1 0 2.2 0a1.1 1.1 0 1 0 -2.2 0M250.89 184.37a1.1 1.1 0 1 0 2.2 0a1.1 1.1 0 1 0 -2.2 0M247.02 182.31a1.1 1.1 0 1 0 2.2 0a1.1 1.1 0 1 0 -2.2 0M248.5 186.89a1.1 1.1 0 1 0 2.2 0a1.1 1.1 0 1 0 -2.2 0M249.78 180.79a1.1 1.1 0 1 0 2.2 0a1.1 1.1 0 1 0 -2.2 0M248.6 181.95a1.1 1.1 0 1 0 2.2 0a1.1 1.1 0 1 0 -2.2 0M249.25 185.91a1.1 1.1 0 1 0 2.2 0a1.1 1.1 0 1 0 -2.2 0M247.62 181.23a1.1 1.1 0 1 0 2.2 0a1.1 1.1 0 1 0 -2.2 0M248.45 185.16a1.1 1.1 0 1 0 2.2 0a1.1 1.1 0 1 0 -2.2 0M250.58 185.97a1.1 1.1 0 1 0 2.2 0a1.1 1.1 0 1 0 -2.2 0M251.56 184.81a1.1 1.1 0 1 0 2.2 0a1.1 1.1 0 1 0 -2.2 0M247.45 184.86a1.1 1.1 0 1 0 2.2 0a1.1 1.1 0 1 0 -2.2 0M248.46 186.43a1.1 1.1 0 1 0 2.2 0a1.1 1.1 0 1 0 -2.2 0M245.93 181.82a1.1 1.1 0 1 0 2.2 0a1.1 1.1 0 1 0 -2.2 0M246 180.79a1.1 1.1 0 1 0 2.2 0a1.1 1.1 0 1 0 -2.2 0M251.58 183.87a1.1 1.1 0 1 0 2.2 0a1.1 1.1 0 1 0 -2.2 0M247.21 183.08a1.1 1.1 0 1 0 2.2 0a1.1 1.1 0 1 0 -2.2 0M252.14 182.96a1.1 1.1 0 1 0 2.2 0a1.1 1.1 0 1 0 -2.2 0M247.66 187.4a1.1 1.1 0 1 0 2.2 0a1.1 1.1 0 1 0 -2.2 0M245.87 184.29a1.1 1.1 0 1 0 2.2 0a1.1 1.1 0 1 0 -2.2 0M251.84 186.63a1.1 1.1 0 1 0 2.2 0a1.1 1.1 0 1 0 -2.2 0M246.24 180.36a1.1 1.1 0 1 0 2.2 0a1.1 1.1 0 1 0 -2.2 0M250.44 187.97a1.1 1.1 0 1 0 2.2 0a1.1 1.1 0 1 0 -2.2 0M248.8 187.72a1.1 1.1 0 1 0 2.2 0a1.1 1.1 0 1 0 -2.2 0M247.7 181.48a1.1 1.1 0 1 0 2.2 0a1.1 1.1 0 1 0 -2.2 0M246.22 185.5a1.1 1.1 0 1 0 2.2 0a1.1 1.1 0 1 0 -2.2 0M248.77 180.74a1.1 1.1 0 1 0 2.2 0a1.1 1.1 0 1 0 -2.2 0M246.82 180.44a1.1 1.1 0 1 0 2.2 0a1.1 1.1 0 1 0 -2.2 0M245.98 181.89a1.1 1.1 0 1 0 2.2 0a1.1 1.1 0 1 0 -2.2 0M249.8 185.14a1.1 1.1 0 1 0 2.2 0a1.1 1.1 0 1 0 -2.2 0M247.98 185.91a1.1 1.1 0 1 0 2.2 0a1.1 1.1 0 1 0 -2.2 0M246 182.5a1.1 1.1 0 1 0 2.2 0a1.1 1.1 0 1 0 -2.2 0M247.43 187.32a1.1 1.1 0 1 0 2.2 0a1.1 1.1 0 1 0 -2.2 0M247.86 179.32a1.1 1.1 0 1 0 2.2 0a1.1 1.1 0 1 0 -2.2 0M245.65 183.49a1.1 1.1 0 1 0 2.2 0a1.1 1.1 0 1 0 -2.2 0M249.42 185.1a1.1 1.1 0 1 0 2.2 0a1.1 1.1 0 1 0 -2.2 0M249.82 182.53a1.1 1.1 0 1 0 2.2 0a1.1 1.1 0 1 0 -2.2 0M246.68 182.27a1.1 1.1 0 1 0 2.2 0a1.1 1.1 0 1 0 -2.2 0M251.35 181.07a1.1 1.1 0 1 0 2.2 0a1.1 1.1 0 1 0 -2.2 0M248.78 182.24a1.1 1.1 0 1 0 2.2 0a1.1 1.1 0 1 0 -2.2 0M249.1 187.61a1.1 1.1 0 1 0 2.2 0a1.1 1.1 0 1 0 -2.2 0M247.21 186.65a1.1 1.1 0 1 0 2.2 0a1.1 1.1 0 1 0 -2.2 0M251.29 182.29a1.1 1.1 0 1 0 2.2 0a1.1 1.1 0 1 0 -2.2 0M250.68 182.26a1.1 1.1 0 1 0 2.2 0a1.1 1.1 0 1 0 -2.2 0M251.26 182.69a1.1 1.1 0 1 0 2.2 0a1.1 1.1 0 1 0 -2.2 0M249.44 185.12a1.1 1.1 0 1 0 2.2 0a1.1 1.1 0 1 0 -2.2 0M249.2 182.27a1.1 1.1 0 1 0 2.2 0a1.1 1.1 0 1 0 -2.2 0M247.78 180.23a1.1 1.1 0 1 0 2.2 0a1.1 1.1 0 1 0 -2.2 0M247.25 184.42a1.1 1.1 0 1 0 2.2 0a1.1 1.1 0 1 0 -2.2 0M249.45 186.88a1.1 1.1 0 1 0 2.2 0a1.1 1.1 0 1 0 -2.2 0M251.96 182.74a1.1 1.1 0 1 0 2.2 0a1.1 1.1 0 1 0 -2.2 0M249.01 188.07a1.1 1.1 0 1 0 2.2 0a1.1 1.1 0 1 0 -2.2 0M250.41 186.84a1.1 1.1 0 1 0 2.2 0a1.1 1.1 0 1 0 -2.2 0M247.11 187.3a1.1 1.1 0 1 0 2.2 0a1.1 1.1 0 1 0 -2.2 0M244.76 176.82a1.1 1.1 0 1 0 2.2 0a1.1 1.1 0 1 0 -2.2 0M245.5 178.43a1.1 1.1 0 1 0 2.2 0a1.1 1.1 0 1 0 -2.2 0M241.43 177.02a1.1 1.1 0 1 0 2.2 0a1.1 1.1 0 1 0 -2.2 0M244.92 174.74a1.1 1.1 0 1 0 2.2 0a1.1 1.1 0 1 0 -2.2 0M245.04 175.81a1.1 1.1 0 1 0 2.2 0a1.1 1.1 0 1 0 -2.2 0M244.45 176.55a1.1 1.1 0 1 0 2.2 0a1.1 1.1 0 1 0 -2.2 0M246.47 176.92a1.1 1.1 0 1 0 2.2 0a1.1 1.1 0 1 0 -2.2 0M243.62 173.7a1.1 1.1 0 1 0 2.2 0a1.1 1.1 0 1 0 -2.2 0M242.87 179.84a1.1 1.1 0 1 0 2.2 0a1.1 1.1 0 1 0 -2.2 0M244.62 178.3a1.1 1.1 0 1 0 2.2 0a1.1 1.1 0 1 0 -2.2 0M245.36 174.1a1.1 1.1 0 1 0 2.2 0a1.1 1.1 0 1 0 -2.2 0M243.2 175.85a1.1 1.1 0 1 0 2.2 0a1.1 1.1 0 1 0 -2.2 0M245.47 174.85a1.1 1.1 0 1 0 2.2 0a1.1 1.1 0 1 0 -2.2 0M243.06 175.44a1.1 1.1 0 1 0 2.2 0a1.1 1.1 0 1 0 -2.2 0" fill="#3FC0C6" stroke="none"/>
<path d="M248.78 180.88a1.1 1.1 0 1 0 2.2 0a1.1 1.1 0 1 0 -2.2 0M249.72 184.42a1.1 1.1 0 1 0 2.2 0a1.1 1.1 0 1 0 -2.2 0M247.72 186.5a1.1 1.1 0 1 0 2.2 0a1.1 1.1 0 1 0 -2.2 0M250.56 184.18a1.1 1.1 0 1 0 2.2 0a1.1 1.1 0 1 0 -2.2 0M247.43 184.3a1.1 1.1 0 1 0 2.2 0a1.1 1.1 0 1 0 -2.2 0M248.74 181.4a1.1 1.1 0 1 0 2.2 0a1.1 1.1 0 1 0 -2.2 0M248.8 184.58a1.1 1.1 0 1 0 2.2 0a1.1 1.1 0 1 0 -2.2 0M246.71 185.54a1.1 1.1 0 1 0 2.2 0a1.1 1.1 0 1 0 -2.2 0M246.93 186.27a1.1 1.1 0 1 0 2.2 0a1.1 1.1 0 1 0 -2.2 0M250.54 184.59a1.1 1.1 0 1 0 2.2 0a1.1 1.1 0 1 0 -2.2 0M246.78 184.53a1.1 1.1 0 1 0 2.2 0a1.1 1.1 0 1 0 -2.2 0M248.46 187.93a1.1 1.1 0 1 0 2.2 0a1.1 1.1 0 1 0 -2.2 0M250.74 182.17a1.1 1.1 0 1 0 2.2 0a1.1 1.1 0 1 0 -2.2 0M251.6 184.44a1.1 1.1 0 1 0 2.2 0a1.1 1.1 0 1 0 -2.2 0M247.36 186.69a1.1 1.1 0 1 0 2.2 0a1.1 1.1 0 1 0 -2.2 0M248.32 186.45a1.1 1.1 0 1 0 2.2 0a1.1 1.1 0 1 0 -2.2 0M247.93 186.9a1.1 1.1 0 1 0 2.2 0a1.1 1.1 0 1 0 -2.2 0M247.25 184.52a1.1 1.1 0 1 0 2.2 0a1.1 1.1 0 1 0 -2.2 0M247.87 184.55a1.1 1.1 0 1 0 2.2 0a1.1 1.1 0 1 0 -2.2 0M248.16 180.98a1.1 1.1 0 1 0 2.2 0a1.1 1.1 0 1 0 -2.2 0M247.45 181.93a1.1 1.1 0 1 0 2.2 0a1.1 1.1 0 1 0 -2.2 0M251.37 185.87a1.1 1.1 0 1 0 2.2 0a1.1 1.1 0 1 0 -2.2 0M250.58 181.57a1.1 1.1 0 1 0 2.2 0a1.1 1.1 0 1 0 -2.2 0M249.26 185.54a1.1 1.1 0 1 0 2.2 0a1.1 1.1 0 1 0 -2.2 0M248.37 187.33a1.1 1.1 0 1 0 2.2 0a1.1 1.1 0 1 0 -2.2 0M249.39 185.11a1.1 1.1 0 1 0 2.2 0a1.1 1.1 0 1 0 -2.2 0M248.55 186.76a1.1 1.1 0 1 0 2.2 0a1.1 1.1 0 1 0 -2.2 0M249.5 183.44a1.1 1.1 0 1 0 2.2 0a1.1 1.1 0 1 0 -2.2 0M250.48 184.06a1.1 1.1 0 1 0 2.2 0a1.1 1.1 0 1 0 -2.2 0M247.42 186.35a1.1 1.1 0 1 0 2.2 0a1.1 1.1 0 1 0 -2.2 0M247.82 185.56a1.1 1.1 0 1 0 2.2 0a1.1 1.1 0 1 0 -2.2 0M251.62 185.15a1.1 1.1 0 1 0 2.2 0a1.1 1.1 0 1 0 -2.2 0M249.95 183.08a1.1 1.1 0 1 0 2.2 0a1.1 1.1 0 1 0 -2.2 0M247.28 185.38a1.1 1.1 0 1 0 2.2 0a1.1 1.1 0 1 0 -2.2 0M248.75 184.6a1.1 1.1 0 1 0 2.2 0a1.1 1.1 0 1 0 -2.2 0M247.68 185.66a1.1 1.1 0 1 0 2.2 0a1.1 1.1 0 1 0 -2.2 0M248.35 181.51a1.1 1.1 0 1 0 2.2 0a1.1 1.1 0 1 0 -2.2 0M248.36 182.4a1.1 1.1 0 1 0 2.2 0a1.1 1.1 0 1 0 -2.2 0M249.53 185.18a1.1 1.1 0 1 0 2.2 0a1.1 1.1 0 1 0 -2.2 0M247.56 185.44a1.1 1.1 0 1 0 2.2 0a1.1 1.1 0 1 0 -2.2 0" fill="#36B8BE" stroke="none"/>
<path d="M256.04 176a1 1 0 1 0 2 0a1 1 0 1 0 -2 0M259.97 180.19a1 1 0 1 0 2 0a1 1 0 1 0 -2 0M259.18 176.53a1 1 0 1 0 2 0a1 1 0 1 0 -2 0M258.84 178.13a1 1 0 1 0 2 0a1 1 0 1 0 -2 0M257.12 179.86a1 1 0 1 0 2 0a1 1 0 1 0 -2 0M258.87 181.4a1 1 0 1 0 2 0a1 1 0 1 0 -2 0M258.26 175.71a1 1 0 1 0 2 0a1 1 0 1 0 -2 0M257.46 177.56a1 1 0 1 0 2 0a1 1 0 1 0 -2 0M259.63 181a1 1 0 1 0 2 0a1 1 0 1 0 -2 0M253.98 177.75a1 1 0 1 0 2 0a1 1 0 1 0 -2 0M258.38 177.91a1 1 0 1 0 2 0a1 1 0 1 0 -2 0M259.77 179.8a1 1 0 1 0 2 0a1 1 0 1 0 -2 0M254.62 178.35a1 1 0 1 0 2 0a1 1 0 1 0 -2 0M254.5 176.13a1 1 0 1 0 2 0a1 1 0 1 0 -2 0M261.37 178.61a1 1 0 1 0 2 0a1 1 0 1 0 -2 0M260.92 178.54a1 1 0 1 0 2 0a1 1 0 1 0 -2 0M258.28 180.03a1 1 0 1 0 2 0a1 1 0 1 0 -2 0M256.23 176.69a1 1 0 1 0 2 0a1 1 0 1 0 -2 0M253.85 178.12a1 1 0 1 0 2 0a1 1 0 1 0 -2 0M253.78 179.06a1 1 0 1 0 2 0a1 1 0 1 0 -2 0M260.07 178.59a1 1 0 1 0 2 0a1 1 0 1 0 -2 0M260.8 178.31a1 1 0 1 0 2 0a1 1 0 1 0 -2 0M256.18 179.59a1 1 0 1 0 2 0a1 1 0 1 0 -2 0M258.25 180.45a1 1 0 1 0 2 0a1 1 0 1 0 -2 0M256.87 176.66a1 1 0 1 0 2 0a1 1 0 1 0 -2 0M260.35 180.79a1 1 0 1 0 2 0a1 1 0 1 0 -2 0M257.08 181.93a1 1 0 1 0 2 0a1 1 0 1 0 -2 0M256.7 180.96a1 1 0 1 0 2 0a1 1 0 1 0 -2 0M257.85 181.49a1 1 0 1 0 2 0a1 1 0 1 0 -2 0M255.42 177.27a1 1 0 1 0 2 0a1 1 0 1 0 -2 0M260.92 177.53a1 1 0 1 0 2 0a1 1 0 1 0 -2 0M259.56 178.62a1 1 0 1 0 2 0a1 1 0 1 0 -2 0M260.8 176.18a1 1 0 1 0 2 0a1 1 0 1 0 -2 0M260.7 178.24a1 1 0 1 0 2 0a1 1 0 1 0 -2 0M259.84 176.46a1 1 0 1 0 2 0a1 1 0 1 0 -2 0M259.42 177.86a1 1 0 1 0 2 0a1 1 0 1 0 -2 0M255.17 177.17a1 1 0 1 0 2 0a1 1 0 1 0 -2 0M256.85 175.03a1 1 0 1 0 2 0a1 1 0 1 0 -2 0M259.98 175.56a1 1 0 1 0 2 0a1 1 0 1 0 -2 0M255.16 181.4a1 1 0 1 0 2 0a1 1 0 1 0 -2 0M259.28 179.06a1 1 0 1 0 2 0a1 1 0 1 0 -2 0M257.59 174.49a1 1 0 1 0 2 0a1 1 0 1 0 -2 0M257.71 177.04a1 1 0 1 0 2 0a1 1 0 1 0 -2 0M261.01 179.13a1 1 0 1 0 2 0a1 1 0 1 0 -2 0M254.09 176.92a1 1 0 1 0 2 0a1 1 0 1 0 -2 0M260.27 177.94a1 1 0 1 0 2 0a1 1 0 1 0 -2 0M260.35 177.87a1 1 0 1 0 2 0a1 1 0 1 0 -2 0M254.61 176.52a1 1 0 1 0 2 0a1 1 0 1 0 -2 0M255.79 181.6a1 1 0 1 0 2 0a1 1 0 1 0 -2 0M254.87 178.29a1 1 0 1 0 2 0a1 1 0 1 0 -2 0M255.25 175.45a1 1 0 1 0 2 0a1 1 0 1 0 -2 0M255.09 177.84a1 1 0 1 0 2 0a1 1 0 1 0 -2 0M258.59 176.57a1 1 0 1 0 2 0a1 1 0 1 0 -2 0M258.12 182.07a1 1 0 1 0 2 0a1 1 0 1 0 -2 0M258.96 180.6a1 1 0 1 0 2 0a1 1 0 1 0 -2 0M256.64 174.74a1 1 0 1 0 2 0a1 1 0 1 0 -2 0M256.76 178.23a1 1 0 1 0 2 0a1 1 0 1 0 -2 0M258.91 176.2a1 1 0 1 0 2 0a1 1 0 1 0 -2 0M259.16 177.73a1 1 0 1 0 2 0a1 1 0 1 0 -2 0M257.01 181.82a1 1 0 1 0 2 0a1 1 0 1 0 -2 0M256.53 181.22a1 1 0 1 0 2 0a1 1 0 1 0 -2 0M257.5 178.28a1 1 0 1 0 2 0a1 1 0 1 0 -2 0M258.46 175.04a1 1 0 1 0 2 0a1 1 0 1 0 -2 0M256.98 177.32a1 1 0 1 0 2 0a1 1 0 1 0 -2 0M258.99 175.4a1 1 0 1 0 2 0a1 1 0 1 0 -2 0M259.85 175.1a1 1 0 1 0 2 0a1 1 0 1 0 -2 0M256.38 180.75a1 1 0 1 0 2 0a1 1 0 1 0 -2 0M256.11 175.74a1 1 0 1 0 2 0a1 1 0 1 0 -2 0M256.95 175a1 1 0 1 0 2 0a1 1 0 1 0 -2 0M260.34 178.45a1 1 0 1 0 2 0a1 1 0 1 0 -2 0M260.07 177.99a1 1 0 1 0 2 0a1 1 0 1 0 -2 0M256.22 178.23a1 1 0 1 0 2 0a1 1 0 1 0 -2 0M258.35 181.29a1 1 0 1 0 2 0a1 1 0 1 0 -2 0M257.48 181.89a1 1 0 1 0 2 0a1 1 0 1 0 -2 0M257.15 177.5a1 1 0 1 0 2 0a1 1 0 1 0 -2 0M259.25 175.01a1 1 0 1 0 2 0a1 1 0 1 0 -2 0M257.45 178.66a1 1 0 1 0 2 0a1 1 0 1 0 -2 0M260.32 178.95a1 1 0 1 0 2 0a1 1 0 1 0 -2 0M258.04 176.72a1 1 0 1 0 2 0a1 1 0 1 0 -2 0M255.09 176.72a1 1 0 1 0 2 0a1 1 0 1 0 -2 0M260.59 177.99a1 1 0 1 0 2 0a1 1 0 1 0 -2 0M258.02 175.16a1 1 0 1 0 2 0a1 1 0 1 0 -2 0M258.22 180.34a1 1 0 1 0 2 0a1 1 0 1 0 -2 0M256.73 175.52a1 1 0 1 0 2 0a1 1 0 1 0 -2 0M258.8 180.99a1 1 0 1 0 2 0a1 1 0 1 0 -2 0M254.61 177.32a1 1 0 1 0 2 0a1 1 0 1 0 -2 0M257 180.43a1 1 0 1 0 2 0a1 1 0 1 0 -2 0M258.67 174.65a1 1 0 1 0 2 0a1 1 0 1 0 -2 0M254.26 178.01a1 1 0 1 0 2 0a1 1 0 1 0 -2 0M256.48 179.14a1 1 0 1 0 2 0a1 1 0 1 0 -2 0M259.5 174.5a1 1 0 1 0 2 0a1 1 0 1 0 -2 0M262 176a1 1 0 1 0 2 0a1 1 0 1 0 -2 0M264 172.5a1 1 0 1 0 2 0a1 1 0 1 0 -2 0" fill="#2A8C8A" stroke="none"/>
<path d="M268.46 137.71L269.5 139.52L267.43 139.52zM277.31 136.34L278.34 138.15L276.27 138.15zM281.74 126.34L282.77 128.15L280.7 128.15zM270.36 136.45L271.4 138.26L269.33 138.26zM264.09 122.09L265.13 123.9L263.06 123.9zM280.63 130.54L281.66 132.35L279.59 132.35zM262.42 133.72L263.45 135.53L261.38 135.53zM271.21 130.71L272.25 132.52L270.18 132.52zM270.23 135.26L271.27 137.07L269.2 137.07zM278.09 135.7L279.13 137.51L277.06 137.51zM273.1 134.47L274.14 136.28L272.07 136.28zM260.32 129.33L261.35 131.14L259.28 131.14zM269.37 130.18L270.4 131.99L268.33 131.99zM269.12 128.44L270.15 130.25L268.08 130.25zM267.95 133.86L268.99 135.68L266.92 135.68zM258.01 132.27L259.04 134.09L256.97 134.09zM273.39 131.54L274.42 133.36L272.35 133.36zM267.12 136.7L268.15 138.51L266.08 138.51zM281.64 135.54L282.68 137.35L280.61 137.35zM264.08 132.78L265.11 134.59L263.04 134.59zM261.1 134.43L262.14 136.24L260.07 136.24zM262.9 131.89L263.94 133.7L261.87 133.7zM271.13 130.71L272.16 132.52L270.09 132.52zM265 125.84L266.03 127.65L263.96 127.65zM273.69 129.17L274.73 130.98L272.66 130.98zM265.06 136.39L266.09 138.2L264.02 138.2zM271.53 123.38L272.56 125.19L270.49 125.19zM268.89 125.43L269.92 127.25L267.85 127.25zM276.23 133.93L277.26 135.75L275.19 135.75zM266.89 128.55L267.93 130.36L265.86 130.36zM253.7 147.41L254.74 149.22L252.67 149.22zM260.24 152.07L261.28 153.88L259.21 153.88zM257.87 148.68L258.9 150.49L256.83 150.49zM257.52 152.85L258.56 154.66L256.49 154.66zM251.01 149.13L252.05 150.94L249.98 150.94zM257.83 146.51L258.87 148.32L256.8 148.32zM256.31 149.99L257.34 151.8L255.27 151.8zM254.48 146.15L255.52 147.96L253.45 147.96zM253.67 146.89L254.71 148.7L252.64 148.7zM257.58 153.57L258.62 155.38L256.55 155.38zM257.34 149.36L258.37 151.18L256.3 151.18zM255.26 151.13L256.29 152.94L254.22 152.94zM256.47 154.7L257.51 156.51L255.44 156.51zM257.73 153.97L258.76 155.78L256.69 155.78zM258.84 150.44L259.87 152.25L257.8 152.25zM258.29 147.32L259.32 149.13L257.25 149.13zM259.53 149.77L260.57 151.59L258.5 151.59zM255.35 150.69L256.39 152.51L254.32 152.51zM260.13 150.46L261.16 152.27L259.09 152.27zM250.9 148.19L251.93 150.01L249.86 150.01z" fill="#3C8E52" stroke="none"/>
<path d="M264.74 147.57a1.05 1.05 0 1 0 2.1 0a1.05 1.05 0 1 0 -2.1 0M272.05 131.58a1.05 1.05 0 1 0 2.1 0a1.05 1.05 0 1 0 -2.1 0M264.42 146.27a1.05 1.05 0 1 0 2.1 0a1.05 1.05 0 1 0 -2.1 0M265.35 148.22a1.05 1.05 0 1 0 2.1 0a1.05 1.05 0 1 0 -2.1 0M269.8 138.63a1.05 1.05 0 1 0 2.1 0a1.05 1.05 0 1 0 -2.1 0M275.28 125.2a1.05 1.05 0 1 0 2.1 0a1.05 1.05 0 1 0 -2.1 0M267.65 141.22a1.05 1.05 0 1 0 2.1 0a1.05 1.05 0 1 0 -2.1 0M263.76 147.95a1.05 1.05 0 1 0 2.1 0a1.05 1.05 0 1 0 -2.1 0M275.22 128.62a1.05 1.05 0 1 0 2.1 0a1.05 1.05 0 1 0 -2.1 0M267.67 136.9a1.05 1.05 0 1 0 2.1 0a1.05 1.05 0 1 0 -2.1 0M271.84 129.56a1.05 1.05 0 1 0 2.1 0a1.05 1.05 0 1 0 -2.1 0M263.92 149.5a1.05 1.05 0 1 0 2.1 0a1.05 1.05 0 1 0 -2.1 0M274.58 126.15a1.05 1.05 0 1 0 2.1 0a1.05 1.05 0 1 0 -2.1 0M271.45 132.93a1.05 1.05 0 1 0 2.1 0a1.05 1.05 0 1 0 -2.1 0M265.89 144.34a1.05 1.05 0 1 0 2.1 0a1.05 1.05 0 1 0 -2.1 0M274.67 127.61a1.05 1.05 0 1 0 2.1 0a1.05 1.05 0 1 0 -2.1 0M269.57 134.55a1.05 1.05 0 1 0 2.1 0a1.05 1.05 0 1 0 -2.1 0M272.39 133.52a1.05 1.05 0 1 0 2.1 0a1.05 1.05 0 1 0 -2.1 0M273.83 131.2a1.05 1.05 0 1 0 2.1 0a1.05 1.05 0 1 0 -2.1 0M262.45 152.54a1.05 1.05 0 1 0 2.1 0a1.05 1.05 0 1 0 -2.1 0M264.47 148.69a1.05 1.05 0 1 0 2.1 0a1.05 1.05 0 1 0 -2.1 0M262.87 151.64a1.05 1.05 0 1 0 2.1 0a1.05 1.05 0 1 0 -2.1 0M264.73 148.96a1.05 1.05 0 1 0 2.1 0a1.05 1.05 0 1 0 -2.1 0M267.33 140.81a1.05 1.05 0 1 0 2.1 0a1.05 1.05 0 1 0 -2.1 0M262.33 153.54a1.05 1.05 0 1 0 2.1 0a1.05 1.05 0 1 0 -2.1 0M267.11 141.79a1.05 1.05 0 1 0 2.1 0a1.05 1.05 0 1 0 -2.1 0M277.67 122.45a1.05 1.05 0 1 0 2.1 0a1.05 1.05 0 1 0 -2.1 0M275.66 125.82a1.05 1.05 0 1 0 2.1 0a1.05 1.05 0 1 0 -2.1 0M278.23 123.39a1.05 1.05 0 1 0 2.1 0a1.05 1.05 0 1 0 -2.1 0M262.85 151.56a1.05 1.05 0 1 0 2.1 0a1.05 1.05 0 1 0 -2.1 0M263.87 151.33a1.05 1.05 0 1 0 2.1 0a1.05 1.05 0 1 0 -2.1 0M267.65 139.78a1.05 1.05 0 1 0 2.1 0a1.05 1.05 0 1 0 -2.1 0M264.82 151.79a1.05 1.05 0 1 0 2.1 0a1.05 1.05 0 1 0 -2.1 0M264.41 146.8a1.05 1.05 0 1 0 2.1 0a1.05 1.05 0 1 0 -2.1 0M267.14 143.53a1.05 1.05 0 1 0 2.1 0a1.05 1.05 0 1 0 -2.1 0M269.53 136.99a1.05 1.05 0 1 0 2.1 0a1.05 1.05 0 1 0 -2.1 0M264.56 151.19a1.05 1.05 0 1 0 2.1 0a1.05 1.05 0 1 0 -2.1 0M269.08 137.93a1.05 1.05 0 1 0 2.1 0a1.05 1.05 0 1 0 -2.1 0M277.6 122.22a1.05 1.05 0 1 0 2.1 0a1.05 1.05 0 1 0 -2.1 0M269.09 134.96a1.05 1.05 0 1 0 2.1 0a1.05 1.05 0 1 0 -2.1 0M277.66 122.53a1.05 1.05 0 1 0 2.1 0a1.05 1.05 0 1 0 -2.1 0M271.54 136.11a1.05 1.05 0 1 0 2.1 0a1.05 1.05 0 1 0 -2.1 0M263.6 149.95a1.05 1.05 0 1 0 2.1 0a1.05 1.05 0 1 0 -2.1 0M281.16 117.76a1.05 1.05 0 1 0 2.1 0a1.05 1.05 0 1 0 -2.1 0M269.9 138.71a1.05 1.05 0 1 0 2.1 0a1.05 1.05 0 1 0 -2.1 0M266.32 141.88a1.05 1.05 0 1 0 2.1 0a1.05 1.05 0 1 0 -2.1 0M272.43 133.07a1.05 1.05 0 1 0 2.1 0a1.05 1.05 0 1 0 -2.1 0M260.93 153.45a1.05 1.05 0 1 0 2.1 0a1.05 1.05 0 1 0 -2.1 0M266.67 140.67a1.05 1.05 0 1 0 2.1 0a1.05 1.05 0 1 0 -2.1 0M281.3 119.04a1.05 1.05 0 1 0 2.1 0a1.05 1.05 0 1 0 -2.1 0M263.66 153.09a1.05 1.05 0 1 0 2.1 0a1.05 1.05 0 1 0 -2.1 0M272.56 128.78a1.05 1.05 0 1 0 2.1 0a1.05 1.05 0 1 0 -2.1 0M270.5 135.26a1.05 1.05 0 1 0 2.1 0a1.05 1.05 0 1 0 -2.1 0M261.37 150.74a1.05 1.05 0 1 0 2.1 0a1.05 1.05 0 1 0 -2.1 0M267.27 140.4a1.05 1.05 0 1 0 2.1 0a1.05 1.05 0 1 0 -2.1 0M272.85 129.38a1.05 1.05 0 1 0 2.1 0a1.05 1.05 0 1 0 -2.1 0M271.31 135.18a1.05 1.05 0 1 0 2.1 0a1.05 1.05 0 1 0 -2.1 0M269.47 136.71a1.05 1.05 0 1 0 2.1 0a1.05 1.05 0 1 0 -2.1 0M271.99 133.64a1.05 1.05 0 1 0 2.1 0a1.05 1.05 0 1 0 -2.1 0M273.31 133.68a1.05 1.05 0 1 0 2.1 0a1.05 1.05 0 1 0 -2.1 0M274.92 128.36a1.05 1.05 0 1 0 2.1 0a1.05 1.05 0 1 0 -2.1 0M265.31 149.05a1.05 1.05 0 1 0 2.1 0a1.05 1.05 0 1 0 -2.1 0M274.38 126.95a1.05 1.05 0 1 0 2.1 0a1.05 1.05 0 1 0 -2.1 0M268.4 135.26a1.05 1.05 0 1 0 2.1 0a1.05 1.05 0 1 0 -2.1 0M265.04 147.25a1.05 1.05 0 1 0 2.1 0a1.05 1.05 0 1 0 -2.1 0M273.85 129.61a1.05 1.05 0 1 0 2.1 0a1.05 1.05 0 1 0 -2.1 0M267.53 138.67a1.05 1.05 0 1 0 2.1 0a1.05 1.05 0 1 0 -2.1 0M267.4 140.92a1.05 1.05 0 1 0 2.1 0a1.05 1.05 0 1 0 -2.1 0M266.29 144.56a1.05 1.05 0 1 0 2.1 0a1.05 1.05 0 1 0 -2.1 0M263.64 150.99a1.05 1.05 0 1 0 2.1 0a1.05 1.05 0 1 0 -2.1 0M274.32 128.37a1.05 1.05 0 1 0 2.1 0a1.05 1.05 0 1 0 -2.1 0M281.08 117.69a1.05 1.05 0 1 0 2.1 0a1.05 1.05 0 1 0 -2.1 0M265.58 138.76a1.05 1.05 0 1 0 2.1 0a1.05 1.05 0 1 0 -2.1 0M266.44 141.59a1.05 1.05 0 1 0 2.1 0a1.05 1.05 0 1 0 -2.1 0M270.35 141.29a1.05 1.05 0 1 0 2.1 0a1.05 1.05 0 1 0 -2.1 0M269.06 140.88a1.05 1.05 0 1 0 2.1 0a1.05 1.05 0 1 0 -2.1 0M269.46 140.1a1.05 1.05 0 1 0 2.1 0a1.05 1.05 0 1 0 -2.1 0M266.26 142.59a1.05 1.05 0 1 0 2.1 0a1.05 1.05 0 1 0 -2.1 0M269.39 133.42a1.05 1.05 0 1 0 2.1 0a1.05 1.05 0 1 0 -2.1 0M264.66 145.72a1.05 1.05 0 1 0 2.1 0a1.05 1.05 0 1 0 -2.1 0M280.46 118.87a1.05 1.05 0 1 0 2.1 0a1.05 1.05 0 1 0 -2.1 0M263.57 145.8a1.05 1.05 0 1 0 2.1 0a1.05 1.05 0 1 0 -2.1 0M273.36 131.23a1.05 1.05 0 1 0 2.1 0a1.05 1.05 0 1 0 -2.1 0M263.89 148.19a1.05 1.05 0 1 0 2.1 0a1.05 1.05 0 1 0 -2.1 0M276.17 127.38a1.05 1.05 0 1 0 2.1 0a1.05 1.05 0 1 0 -2.1 0M274.84 128.77a1.05 1.05 0 1 0 2.1 0a1.05 1.05 0 1 0 -2.1 0M270.97 132.91a1.05 1.05 0 1 0 2.1 0a1.05 1.05 0 1 0 -2.1 0M266.98 141.07a1.05 1.05 0 1 0 2.1 0a1.05 1.05 0 1 0 -2.1 0M268.91 138.45a1.05 1.05 0 1 0 2.1 0a1.05 1.05 0 1 0 -2.1 0M279.98 118.65a1.05 1.05 0 1 0 2.1 0a1.05 1.05 0 1 0 -2.1 0M267.23 137.98a1.05 1.05 0 1 0 2.1 0a1.05 1.05 0 1 0 -2.1 0M262.99 152.27a1.05 1.05 0 1 0 2.1 0a1.05 1.05 0 1 0 -2.1 0M272.23 131.44a1.05 1.05 0 1 0 2.1 0a1.05 1.05 0 1 0 -2.1 0M265.36 137.84a1.05 1.05 0 1 0 2.1 0a1.05 1.05 0 1 0 -2.1 0M271.65 135.4a1.05 1.05 0 1 0 2.1 0a1.05 1.05 0 1 0 -2.1 0M270.6 131.85a1.05 1.05 0 1 0 2.1 0a1.05 1.05 0 1 0 -2.1 0M275.64 124.73a1.05 1.05 0 1 0 2.1 0a1.05 1.05 0 1 0 -2.1 0M277.65 122.92a1.05 1.05 0 1 0 2.1 0a1.05 1.05 0 1 0 -2.1 0M266.62 142.88a1.05 1.05 0 1 0 2.1 0a1.05 1.05 0 1 0 -2.1 0M278.24 121.75a1.05 1.05 0 1 0 2.1 0a1.05 1.05 0 1 0 -2.1 0M263.62 150.26a1.05 1.05 0 1 0 2.1 0a1.05 1.05 0 1 0 -2.1 0M277.39 121.52a1.05 1.05 0 1 0 2.1 0a1.05 1.05 0 1 0 -2.1 0M275.44 126.12a1.05 1.05 0 1 0 2.1 0a1.05 1.05 0 1 0 -2.1 0M265.62 144.77a1.05 1.05 0 1 0 2.1 0a1.05 1.05 0 1 0 -2.1 0M264.72 146.28a1.05 1.05 0 1 0 2.1 0a1.05 1.05 0 1 0 -2.1 0M264.93 143.53a1.05 1.05 0 1 0 2.1 0a1.05 1.05 0 1 0 -2.1 0M280.05 121.08a1.05 1.05 0 1 0 2.1 0a1.05 1.05 0 1 0 -2.1 0M267.92 140.88a1.05 1.05 0 1 0 2.1 0a1.05 1.05 0 1 0 -2.1 0M263.76 153.17a1.05 1.05 0 1 0 2.1 0a1.05 1.05 0 1 0 -2.1 0M274.12 125.89a1.05 1.05 0 1 0 2.1 0a1.05 1.05 0 1 0 -2.1 0M281.4 118.19a1.05 1.05 0 1 0 2.1 0a1.05 1.05 0 1 0 -2.1 0M281.59 118.51a1.05 1.05 0 1 0 2.1 0a1.05 1.05 0 1 0 -2.1 0M280.26 120.99a1.05 1.05 0 1 0 2.1 0a1.05 1.05 0 1 0 -2.1 0M274.07 128.75a1.05 1.05 0 1 0 2.1 0a1.05 1.05 0 1 0 -2.1 0M264.35 150.13a1.05 1.05 0 1 0 2.1 0a1.05 1.05 0 1 0 -2.1 0M269.39 134.79a1.05 1.05 0 1 0 2.1 0a1.05 1.05 0 1 0 -2.1 0M268.23 138.46a1.05 1.05 0 1 0 2.1 0a1.05 1.05 0 1 0 -2.1 0M271.49 133.55a1.05 1.05 0 1 0 2.1 0a1.05 1.05 0 1 0 -2.1 0M265.27 147.61a1.05 1.05 0 1 0 2.1 0a1.05 1.05 0 1 0 -2.1 0M273.59 131.09a1.05 1.05 0 1 0 2.1 0a1.05 1.05 0 1 0 -2.1 0M272.74 133.19a1.05 1.05 0 1 0 2.1 0a1.05 1.05 0 1 0 -2.1 0M271.81 131.11a1.05 1.05 0 1 0 2.1 0a1.05 1.05 0 1 0 -2.1 0M267.69 148.07a1.05 1.05 0 1 0 2.1 0a1.05 1.05 0 1 0 -2.1 0M268.88 138.4a1.05 1.05 0 1 0 2.1 0a1.05 1.05 0 1 0 -2.1 0M261.69 154.33a1.05 1.05 0 1 0 2.1 0a1.05 1.05 0 1 0 -2.1 0M265.79 143.43a1.05 1.05 0 1 0 2.1 0a1.05 1.05 0 1 0 -2.1 0M268.93 140.3a1.05 1.05 0 1 0 2.1 0a1.05 1.05 0 1 0 -2.1 0M261.32 154.36a1.05 1.05 0 1 0 2.1 0a1.05 1.05 0 1 0 -2.1 0M275.04 129.23a1.05 1.05 0 1 0 2.1 0a1.05 1.05 0 1 0 -2.1 0M270.69 132.67a1.05 1.05 0 1 0 2.1 0a1.05 1.05 0 1 0 -2.1 0M267.36 143.25a1.05 1.05 0 1 0 2.1 0a1.05 1.05 0 1 0 -2.1 0M266.47 138.87a1.05 1.05 0 1 0 2.1 0a1.05 1.05 0 1 0 -2.1 0M275.52 128.25a1.05 1.05 0 1 0 2.1 0a1.05 1.05 0 1 0 -2.1 0M281.54 117.78a1.05 1.05 0 1 0 2.1 0a1.05 1.05 0 1 0 -2.1 0M267.22 138.52a1.05 1.05 0 1 0 2.1 0a1.05 1.05 0 1 0 -2.1 0M264.09 147.96a1.05 1.05 0 1 0 2.1 0a1.05 1.05 0 1 0 -2.1 0M264.28 148.86a1.05 1.05 0 1 0 2.1 0a1.05 1.05 0 1 0 -2.1 0M263.38 147.46a1.05 1.05 0 1 0 2.1 0a1.05 1.05 0 1 0 -2.1 0M275.61 127.83a1.05 1.05 0 1 0 2.1 0a1.05 1.05 0 1 0 -2.1 0M263.14 149.25a1.05 1.05 0 1 0 2.1 0a1.05 1.05 0 1 0 -2.1 0M264.44 152.56a1.05 1.05 0 1 0 2.1 0a1.05 1.05 0 1 0 -2.1 0M272.24 129.42a1.05 1.05 0 1 0 2.1 0a1.05 1.05 0 1 0 -2.1 0M263.9 147.01a1.05 1.05 0 1 0 2.1 0a1.05 1.05 0 1 0 -2.1 0M276.52 124.68a1.05 1.05 0 1 0 2.1 0a1.05 1.05 0 1 0 -2.1 0M277.47 126.97a1.05 1.05 0 1 0 2.1 0a1.05 1.05 0 1 0 -2.1 0M268.57 140.17a1.05 1.05 0 1 0 2.1 0a1.05 1.05 0 1 0 -2.1 0M277.1 125.35a1.05 1.05 0 1 0 2.1 0a1.05 1.05 0 1 0 -2.1 0M275.28 126.65a1.05 1.05 0 1 0 2.1 0a1.05 1.05 0 1 0 -2.1 0M272.65 135.15a1.05 1.05 0 1 0 2.1 0a1.05 1.05 0 1 0 -2.1 0M279.03 120.52a1.05 1.05 0 1 0 2.1 0a1.05 1.05 0 1 0 -2.1 0M276.98 126.6a1.05 1.05 0 1 0 2.1 0a1.05 1.05 0 1 0 -2.1 0M266.67 137.91a1.05 1.05 0 1 0 2.1 0a1.05 1.05 0 1 0 -2.1 0M270.99 137.3a1.05 1.05 0 1 0 2.1 0a1.05 1.05 0 1 0 -2.1 0M271.08 135.17a1.05 1.05 0 1 0 2.1 0a1.05 1.05 0 1 0 -2.1 0M276.95 124.53a1.05 1.05 0 1 0 2.1 0a1.05 1.05 0 1 0 -2.1 0M277.16 124.1a1.05 1.05 0 1 0 2.1 0a1.05 1.05 0 1 0 -2.1 0M269.83 138.76a1.05 1.05 0 1 0 2.1 0a1.05 1.05 0 1 0 -2.1 0M272.49 132.32a1.05 1.05 0 1 0 2.1 0a1.05 1.05 0 1 0 -2.1 0M280.45 119.27a1.05 1.05 0 1 0 2.1 0a1.05 1.05 0 1 0 -2.1 0M262.01 155.5a1.05 1.05 0 1 0 2.1 0a1.05 1.05 0 1 0 -2.1 0M267.12 140.68a1.05 1.05 0 1 0 2.1 0a1.05 1.05 0 1 0 -2.1 0M263.95 146.56a1.05 1.05 0 1 0 2.1 0a1.05 1.05 0 1 0 -2.1 0M272.27 129.33a1.05 1.05 0 1 0 2.1 0a1.05 1.05 0 1 0 -2.1 0M269.41 136.39a1.05 1.05 0 1 0 2.1 0a1.05 1.05 0 1 0 -2.1 0M261.76 155.1a1.05 1.05 0 1 0 2.1 0a1.05 1.05 0 1 0 -2.1 0M265.09 150.62a1.05 1.05 0 1 0 2.1 0a1.05 1.05 0 1 0 -2.1 0M275.05 126.85a1.05 1.05 0 1 0 2.1 0a1.05 1.05 0 1 0 -2.1 0M267.56 147.76a1.05 1.05 0 1 0 2.1 0a1.05 1.05 0 1 0 -2.1 0M263.9 145.6a1.05 1.05 0 1 0 2.1 0a1.05 1.05 0 1 0 -2.1 0M263.42 147.8a1.05 1.05 0 1 0 2.1 0a1.05 1.05 0 1 0 -2.1 0M280.66 119.07a1.05 1.05 0 1 0 2.1 0a1.05 1.05 0 1 0 -2.1 0M276.39 124.62a1.05 1.05 0 1 0 2.1 0a1.05 1.05 0 1 0 -2.1 0M280.09 119.35a1.05 1.05 0 1 0 2.1 0a1.05 1.05 0 1 0 -2.1 0M268.12 137.56a1.05 1.05 0 1 0 2.1 0a1.05 1.05 0 1 0 -2.1 0M263.24 153.66a1.05 1.05 0 1 0 2.1 0a1.05 1.05 0 1 0 -2.1 0M261.57 151.37a1.05 1.05 0 1 0 2.1 0a1.05 1.05 0 1 0 -2.1 0M271.55 131.54a1.05 1.05 0 1 0 2.1 0a1.05 1.05 0 1 0 -2.1 0M278.1 121.56a1.05 1.05 0 1 0 2.1 0a1.05 1.05 0 1 0 -2.1 0M269.04 138.36a1.05 1.05 0 1 0 2.1 0a1.05 1.05 0 1 0 -2.1 0M265.66 140.44a1.05 1.05 0 1 0 2.1 0a1.05 1.05 0 1 0 -2.1 0M272.51 131.93a1.05 1.05 0 1 0 2.1 0a1.05 1.05 0 1 0 -2.1 0M269.63 133.09a1.05 1.05 0 1 0 2.1 0a1.05 1.05 0 1 0 -2.1 0M259.67 154.42a1.05 1.05 0 1 0 2.1 0a1.05 1.05 0 1 0 -2.1 0M275.5 125.12a1.05 1.05 0 1 0 2.1 0a1.05 1.05 0 1 0 -2.1 0M272.91 130.1a1.05 1.05 0 1 0 2.1 0a1.05 1.05 0 1 0 -2.1 0M261.29 150.94a1.05 1.05 0 1 0 2.1 0a1.05 1.05 0 1 0 -2.1 0M280.83 119.67a1.05 1.05 0 1 0 2.1 0a1.05 1.05 0 1 0 -2.1 0M265.29 147.1a1.05 1.05 0 1 0 2.1 0a1.05 1.05 0 1 0 -2.1 0M263.21 155.39a1.05 1.05 0 1 0 2.1 0a1.05 1.05 0 1 0 -2.1 0M279.67 119.29a1.05 1.05 0 1 0 2.1 0a1.05 1.05 0 1 0 -2.1 0M261.13 152.56a1.05 1.05 0 1 0 2.1 0a1.05 1.05 0 1 0 -2.1 0M267.23 142.82a1.05 1.05 0 1 0 2.1 0a1.05 1.05 0 1 0 -2.1 0M263.83 145.13a1.05 1.05 0 1 0 2.1 0a1.05 1.05 0 1 0 -2.1 0M279.06 121.49a1.05 1.05 0 1 0 2.1 0a1.05 1.05 0 1 0 -2.1 0M278.02 121.72a1.05 1.05 0 1 0 2.1 0a1.05 1.05 0 1 0 -2.1 0M270.04 134.87a1.05 1.05 0 1 0 2.1 0a1.05 1.05 0 1 0 -2.1 0M277.55 122.39a1.05 1.05 0 1 0 2.1 0a1.05 1.05 0 1 0 -2.1 0M264.85 141.81a1.05 1.05 0 1 0 2.1 0a1.05 1.05 0 1 0 -2.1 0M276.56 124.43a1.05 1.05 0 1 0 2.1 0a1.05 1.05 0 1 0 -2.1 0M280.37 118.75a1.05 1.05 0 1 0 2.1 0a1.05 1.05 0 1 0 -2.1 0M262.92 152.94a1.05 1.05 0 1 0 2.1 0a1.05 1.05 0 1 0 -2.1 0M263.06 149.93a1.05 1.05 0 1 0 2.1 0a1.05 1.05 0 1 0 -2.1 0M271.43 133.94a1.05 1.05 0 1 0 2.1 0a1.05 1.05 0 1 0 -2.1 0M278.2 120.41a1.05 1.05 0 1 0 2.1 0a1.05 1.05 0 1 0 -2.1 0M268.56 141.19a1.05 1.05 0 1 0 2.1 0a1.05 1.05 0 1 0 -2.1 0M271.99 134.46a1.05 1.05 0 1 0 2.1 0a1.05 1.05 0 1 0 -2.1 0M268.85 134.1a1.05 1.05 0 1 0 2.1 0a1.05 1.05 0 1 0 -2.1 0M267.09 140.45a1.05 1.05 0 1 0 2.1 0a1.05 1.05 0 1 0 -2.1 0M279.86 119.48a1.05 1.05 0 1 0 2.1 0a1.05 1.05 0 1 0 -2.1 0M266.74 144.33a1.05 1.05 0 1 0 2.1 0a1.05 1.05 0 1 0 -2.1 0M263.72 150.34a1.05 1.05 0 1 0 2.1 0a1.05 1.05 0 1 0 -2.1 0M275.41 127.32a1.05 1.05 0 1 0 2.1 0a1.05 1.05 0 1 0 -2.1 0M274.68 127.1a1.05 1.05 0 1 0 2.1 0a1.05 1.05 0 1 0 -2.1 0M264.32 149.14a1.05 1.05 0 1 0 2.1 0a1.05 1.05 0 1 0 -2.1 0M269.68 135.16a1.05 1.05 0 1 0 2.1 0a1.05 1.05 0 1 0 -2.1 0M273.51 128.75a1.05 1.05 0 1 0 2.1 0a1.05 1.05 0 1 0 -2.1 0M262.23 154.73a1.05 1.05 0 1 0 2.1 0a1.05 1.05 0 1 0 -2.1 0M279.58 119.28a1.05 1.05 0 1 0 2.1 0a1.05 1.05 0 1 0 -2.1 0M276.93 125.48a1.05 1.05 0 1 0 2.1 0a1.05 1.05 0 1 0 -2.1 0M270.67 135.01a1.05 1.05 0 1 0 2.1 0a1.05 1.05 0 1 0 -2.1 0M275.97 124.39a1.05 1.05 0 1 0 2.1 0a1.05 1.05 0 1 0 -2.1 0M269.65 128.68a1.05 1.05 0 1 0 2.1 0a1.05 1.05 0 1 0 -2.1 0M262.94 152.54a1.05 1.05 0 1 0 2.1 0a1.05 1.05 0 1 0 -2.1 0M279.35 121.28a1.05 1.05 0 1 0 2.1 0a1.05 1.05 0 1 0 -2.1 0M279.16 119.01a1.05 1.05 0 1 0 2.1 0a1.05 1.05 0 1 0 -2.1 0M266.78 144.95a1.05 1.05 0 1 0 2.1 0a1.05 1.05 0 1 0 -2.1 0M280.11 117.5a1.05 1.05 0 1 0 2.1 0a1.05 1.05 0 1 0 -2.1 0M264.86 147.88a1.05 1.05 0 1 0 2.1 0a1.05 1.05 0 1 0 -2.1 0M281.33 117.64a1.05 1.05 0 1 0 2.1 0a1.05 1.05 0 1 0 -2.1 0M264.83 149.05a1.05 1.05 0 1 0 2.1 0a1.05 1.05 0 1 0 -2.1 0M271.41 133.35a1.05 1.05 0 1 0 2.1 0a1.05 1.05 0 1 0 -2.1 0M262.63 151.84a1.05 1.05 0 1 0 2.1 0a1.05 1.05 0 1 0 -2.1 0M277.32 121.95a1.05 1.05 0 1 0 2.1 0a1.05 1.05 0 1 0 -2.1 0M276.86 123.85a1.05 1.05 0 1 0 2.1 0a1.05 1.05 0 1 0 -2.1 0M277.7 125.23a1.05 1.05 0 1 0 2.1 0a1.05 1.05 0 1 0 -2.1 0M278.98 120.03a1.05 1.05 0 1 0 2.1 0a1.05 1.05 0 1 0 -2.1 0M269.39 135.23a1.05 1.05 0 1 0 2.1 0a1.05 1.05 0 1 0 -2.1 0M274.56 127.17a1.05 1.05 0 1 0 2.1 0a1.05 1.05 0 1 0 -2.1 0M264.64 143.13a1.05 1.05 0 1 0 2.1 0a1.05 1.05 0 1 0 -2.1 0M265.12 148.21a1.05 1.05 0 1 0 2.1 0a1.05 1.05 0 1 0 -2.1 0M280.04 120.09a1.05 1.05 0 1 0 2.1 0a1.05 1.05 0 1 0 -2.1 0M267.38 145.5a1.05 1.05 0 1 0 2.1 0a1.05 1.05 0 1 0 -2.1 0M279.76 119.33a1.05 1.05 0 1 0 2.1 0a1.05 1.05 0 1 0 -2.1 0M265.61 148.38a1.05 1.05 0 1 0 2.1 0a1.05 1.05 0 1 0 -2.1 0M261.64 149.33a1.05 1.05 0 1 0 2.1 0a1.05 1.05 0 1 0 -2.1 0M267.89 134.36a1.05 1.05 0 1 0 2.1 0a1.05 1.05 0 1 0 -2.1 0M270.29 134.77a1.05 1.05 0 1 0 2.1 0a1.05 1.05 0 1 0 -2.1 0M263.56 150.35a1.05 1.05 0 1 0 2.1 0a1.05 1.05 0 1 0 -2.1 0M263.32 148.36a1.05 1.05 0 1 0 2.1 0a1.05 1.05 0 1 0 -2.1 0M272.29 130.47a1.05 1.05 0 1 0 2.1 0a1.05 1.05 0 1 0 -2.1 0M267.31 138.96a1.05 1.05 0 1 0 2.1 0a1.05 1.05 0 1 0 -2.1 0M281.83 118.15a1.05 1.05 0 1 0 2.1 0a1.05 1.05 0 1 0 -2.1 0M269.9 136.45a1.05 1.05 0 1 0 2.1 0a1.05 1.05 0 1 0 -2.1 0M278.72 122.05a1.05 1.05 0 1 0 2.1 0a1.05 1.05 0 1 0 -2.1 0M265.7 150.81a1.05 1.05 0 1 0 2.1 0a1.05 1.05 0 1 0 -2.1 0M273.98 129.19a1.05 1.05 0 1 0 2.1 0a1.05 1.05 0 1 0 -2.1 0M266.6 146.03a1.05 1.05 0 1 0 2.1 0a1.05 1.05 0 1 0 -2.1 0M279.21 119.24a1.05 1.05 0 1 0 2.1 0a1.05 1.05 0 1 0 -2.1 0M272.04 136.52a1.05 1.05 0 1 0 2.1 0a1.05 1.05 0 1 0 -2.1 0M271.11 136.94a1.05 1.05 0 1 0 2.1 0a1.05 1.05 0 1 0 -2.1 0M281.12 118.49a1.05 1.05 0 1 0 2.1 0a1.05 1.05 0 1 0 -2.1 0M262.01 154.14a1.05 1.05 0 1 0 2.1 0a1.05 1.05 0 1 0 -2.1 0M278.62 121.02a1.05 1.05 0 1 0 2.1 0a1.05 1.05 0 1 0 -2.1 0M275.31 126.45a1.05 1.05 0 1 0 2.1 0a1.05 1.05 0 1 0 -2.1 0M279.22 121.13a1.05 1.05 0 1 0 2.1 0a1.05 1.05 0 1 0 -2.1 0M266.29 143.45a1.05 1.05 0 1 0 2.1 0a1.05 1.05 0 1 0 -2.1 0M267.95 139.5a1.05 1.05 0 1 0 2.1 0a1.05 1.05 0 1 0 -2.1 0M270.31 139.58a1.05 1.05 0 1 0 2.1 0a1.05 1.05 0 1 0 -2.1 0M279.06 121.35a1.05 1.05 0 1 0 2.1 0a1.05 1.05 0 1 0 -2.1 0M263.59 150.25a1.05 1.05 0 1 0 2.1 0a1.05 1.05 0 1 0 -2.1 0M278.6 122.09a1.05 1.05 0 1 0 2.1 0a1.05 1.05 0 1 0 -2.1 0M271.04 135.96a1.05 1.05 0 1 0 2.1 0a1.05 1.05 0 1 0 -2.1 0M278.46 121.93a1.05 1.05 0 1 0 2.1 0a1.05 1.05 0 1 0 -2.1 0M271.01 131.73a1.05 1.05 0 1 0 2.1 0a1.05 1.05 0 1 0 -2.1 0M262.43 149.45a1.05 1.05 0 1 0 2.1 0a1.05 1.05 0 1 0 -2.1 0M278.7 123.45a1.05 1.05 0 1 0 2.1 0a1.05 1.05 0 1 0 -2.1 0M277.84 123.73a1.05 1.05 0 1 0 2.1 0a1.05 1.05 0 1 0 -2.1 0M263.09 148a1.05 1.05 0 1 0 2.1 0a1.05 1.05 0 1 0 -2.1 0M271.96 132.92a1.05 1.05 0 1 0 2.1 0a1.05 1.05 0 1 0 -2.1 0M265.16 149.44a1.05 1.05 0 1 0 2.1 0a1.05 1.05 0 1 0 -2.1 0M262.66 153.18a1.05 1.05 0 1 0 2.1 0a1.05 1.05 0 1 0 -2.1 0M265.49 146.75a1.05 1.05 0 1 0 2.1 0a1.05 1.05 0 1 0 -2.1 0M272.92 129.25a1.05 1.05 0 1 0 2.1 0a1.05 1.05 0 1 0 -2.1 0M269.48 132.4a1.05 1.05 0 1 0 2.1 0a1.05 1.05 0 1 0 -2.1 0M263.13 152.05a1.05 1.05 0 1 0 2.1 0a1.05 1.05 0 1 0 -2.1 0M264.14 147.94a1.05 1.05 0 1 0 2.1 0a1.05 1.05 0 1 0 -2.1 0M270.02 136.59a1.05 1.05 0 1 0 2.1 0a1.05 1.05 0 1 0 -2.1 0M261.55 153.55a1.05 1.05 0 1 0 2.1 0a1.05 1.05 0 1 0 -2.1 0M271.86 132.94a1.05 1.05 0 1 0 2.1 0a1.05 1.05 0 1 0 -2.1 0M268.45 141.35a1.05 1.05 0 1 0 2.1 0a1.05 1.05 0 1 0 -2.1 0M279.36 119.78a1.05 1.05 0 1 0 2.1 0a1.05 1.05 0 1 0 -2.1 0M271.55 133.31a1.05 1.05 0 1 0 2.1 0a1.05 1.05 0 1 0 -2.1 0M278.02 122.54a1.05 1.05 0 1 0 2.1 0a1.05 1.05 0 1 0 -2.1 0M261.69 154.14a1.05 1.05 0 1 0 2.1 0a1.05 1.05 0 1 0 -2.1 0M270.19 142.24a1.05 1.05 0 1 0 2.1 0a1.05 1.05 0 1 0 -2.1 0M262.62 147.01a1.05 1.05 0 1 0 2.1 0a1.05 1.05 0 1 0 -2.1 0M281.26 119.31a1.05 1.05 0 1 0 2.1 0a1.05 1.05 0 1 0 -2.1 0M267.53 141.3a1.05 1.05 0 1 0 2.1 0a1.05 1.05 0 1 0 -2.1 0M273.69 126.6a1.05 1.05 0 1 0 2.1 0a1.05 1.05 0 1 0 -2.1 0M267.9 136.73a1.05 1.05 0 1 0 2.1 0a1.05 1.05 0 1 0 -2.1 0M275.87 126.81a1.05 1.05 0 1 0 2.1 0a1.05 1.05 0 1 0 -2.1 0M272.08 137.77a1.05 1.05 0 1 0 2.1 0a1.05 1.05 0 1 0 -2.1 0M273.75 127.35a1.05 1.05 0 1 0 2.1 0a1.05 1.05 0 1 0 -2.1 0M274.39 128.66a1.05 1.05 0 1 0 2.1 0a1.05 1.05 0 1 0 -2.1 0M268.71 139.63a1.05 1.05 0 1 0 2.1 0a1.05 1.05 0 1 0 -2.1 0M263.08 154.01a1.05 1.05 0 1 0 2.1 0a1.05 1.05 0 1 0 -2.1 0M270.77 134.53a1.05 1.05 0 1 0 2.1 0a1.05 1.05 0 1 0 -2.1 0M269.08 136.91a1.05 1.05 0 1 0 2.1 0a1.05 1.05 0 1 0 -2.1 0M277.99 122.08a1.05 1.05 0 1 0 2.1 0a1.05 1.05 0 1 0 -2.1 0M274.96 128.42a1.05 1.05 0 1 0 2.1 0a1.05 1.05 0 1 0 -2.1 0M275.2 126.03a1.05 1.05 0 1 0 2.1 0a1.05 1.05 0 1 0 -2.1 0M280.24 121.41a1.05 1.05 0 1 0 2.1 0a1.05 1.05 0 1 0 -2.1 0M268.58 140.32a1.05 1.05 0 1 0 2.1 0a1.05 1.05 0 1 0 -2.1 0M269.15 138.69a1.05 1.05 0 1 0 2.1 0a1.05 1.05 0 1 0 -2.1 0M266.82 144.21a1.05 1.05 0 1 0 2.1 0a1.05 1.05 0 1 0 -2.1 0M272.16 134.96a1.05 1.05 0 1 0 2.1 0a1.05 1.05 0 1 0 -2.1 0M271.08 134.8a1.05 1.05 0 1 0 2.1 0a1.05 1.05 0 1 0 -2.1 0M273.99 128.67a1.05 1.05 0 1 0 2.1 0a1.05 1.05 0 1 0 -2.1 0M269.07 135.88a1.05 1.05 0 1 0 2.1 0a1.05 1.05 0 1 0 -2.1 0M272.49 131.41a1.05 1.05 0 1 0 2.1 0a1.05 1.05 0 1 0 -2.1 0M273.13 130.26a1.05 1.05 0 1 0 2.1 0a1.05 1.05 0 1 0 -2.1 0M263.52 149.87a1.05 1.05 0 1 0 2.1 0a1.05 1.05 0 1 0 -2.1 0M268.89 134.78a1.05 1.05 0 1 0 2.1 0a1.05 1.05 0 1 0 -2.1 0M273.94 127.34a1.05 1.05 0 1 0 2.1 0a1.05 1.05 0 1 0 -2.1 0M265.18 146.39a1.05 1.05 0 1 0 2.1 0a1.05 1.05 0 1 0 -2.1 0M276.41 122.37a1.05 1.05 0 1 0 2.1 0a1.05 1.05 0 1 0 -2.1 0M270.38 133.06a1.05 1.05 0 1 0 2.1 0a1.05 1.05 0 1 0 -2.1 0M280.36 120.13a1.05 1.05 0 1 0 2.1 0a1.05 1.05 0 1 0 -2.1 0M264.91 144.55a1.05 1.05 0 1 0 2.1 0a1.05 1.05 0 1 0 -2.1 0M278.58 121.33a1.05 1.05 0 1 0 2.1 0a1.05 1.05 0 1 0 -2.1 0" fill="#6B46A8" stroke="none"/>
<path d="M279.47 129.47L280.45 131.18L278.5 131.18zM269.04 132.94L270.01 134.65L268.06 134.65zM272.85 129.92L273.83 131.63L271.87 131.63zM270.98 140.91L271.96 142.62L270.01 142.62zM263.38 129.6L264.36 131.31L262.4 131.31zM271.27 134.03L272.25 135.74L270.29 135.74zM262.56 129.48L263.53 131.19L261.58 131.19zM271.4 131.07L272.37 132.78L270.42 132.78zM269.03 143.88L270 145.59L268.05 145.59zM280.66 138.86L281.63 140.57L279.68 140.57z" fill="#3C8E52" stroke="none"/>
<path d="M150.2 21.2a2.6 2.6 0 1 0 5.2 0a2.6 2.6 0 1 0 -5.2 0" fill="#000" stroke="none"/>
<path d="M165.44 39.78a1.1 1.1 0 1 0 2.2 0a1.1 1.1 0 1 0 -2.2 0M162.71 37.4a1.1 1.1 0 1 0 2.2 0a1.1 1.1 0 1 0 -2.2 0M162.2 33.9a1.1 1.1 0 1 0 2.2 0a1.1 1.1 0 1 0 -2.2 0M168.8 46.98a1.1 1.1 0 1 0 2.2 0a1.1 1.1 0 1 0 -2.2 0M161.93 32.24a1.1 1.1 0 1 0 2.2 0a1.1 1.1 0 1 0 -2.2 0M163.97 34.37a1.1 1.1 0 1 0 2.2 0a1.1 1.1 0 1 0 -2.2 0M158.76 30.23a1.1 1.1 0 1 0 2.2 0a1.1 1.1 0 1 0 -2.2 0M162.12 32.64a1.1 1.1 0 1 0 2.2 0a1.1 1.1 0 1 0 -2.2 0M160.09 30.67a1.1 1.1 0 1 0 2.2 0a1.1 1.1 0 1 0 -2.2 0M169.04 46.99a1.1 1.1 0 1 0 2.2 0a1.1 1.1 0 1 0 -2.2 0M163.31 34.42a1.1 1.1 0 1 0 2.2 0a1.1 1.1 0 1 0 -2.2 0M156.6 26.4a1.1 1.1 0 1 0 2.2 0a1.1 1.1 0 1 0 -2.2 0M164.86 39.64a1.1 1.1 0 1 0 2.2 0a1.1 1.1 0 1 0 -2.2 0M163.91 40.47a1.1 1.1 0 1 0 2.2 0a1.1 1.1 0 1 0 -2.2 0M158.87 31.7a1.1 1.1 0 1 0 2.2 0a1.1 1.1 0 1 0 -2.2 0M169.8 49.15a1.1 1.1 0 1 0 2.2 0a1.1 1.1 0 1 0 -2.2 0M158.68 25.84a1.1 1.1 0 1 0 2.2 0a1.1 1.1 0 1 0 -2.2 0M162.03 34.42a1.1 1.1 0 1 0 2.2 0a1.1 1.1 0 1 0 -2.2 0M152.9 22.38a1.1 1.1 0 1 0 2.2 0a1.1 1.1 0 1 0 -2.2 0M166.84 38.03a1.1 1.1 0 1 0 2.2 0a1.1 1.1 0 1 0 -2.2 0M169.19 46.27a1.1 1.1 0 1 0 2.2 0a1.1 1.1 0 1 0 -2.2 0M163.57 38.68a1.1 1.1 0 1 0 2.2 0a1.1 1.1 0 1 0 -2.2 0M164.13 37.38a1.1 1.1 0 1 0 2.2 0a1.1 1.1 0 1 0 -2.2 0M167.96 42.92a1.1 1.1 0 1 0 2.2 0a1.1 1.1 0 1 0 -2.2 0M165.19 40.34a1.1 1.1 0 1 0 2.2 0a1.1 1.1 0 1 0 -2.2 0M159.24 32.67a1.1 1.1 0 1 0 2.2 0a1.1 1.1 0 1 0 -2.2 0M164.67 37.44a1.1 1.1 0 1 0 2.2 0a1.1 1.1 0 1 0 -2.2 0M154.69 23.54a1.1 1.1 0 1 0 2.2 0a1.1 1.1 0 1 0 -2.2 0M164.43 39.24a1.1 1.1 0 1 0 2.2 0a1.1 1.1 0 1 0 -2.2 0M163.78 40.2a1.1 1.1 0 1 0 2.2 0a1.1 1.1 0 1 0 -2.2 0M164.89 35.41a1.1 1.1 0 1 0 2.2 0a1.1 1.1 0 1 0 -2.2 0M164.38 33.52a1.1 1.1 0 1 0 2.2 0a1.1 1.1 0 1 0 -2.2 0M162.33 30.23a1.1 1.1 0 1 0 2.2 0a1.1 1.1 0 1 0 -2.2 0M164.18 37.95a1.1 1.1 0 1 0 2.2 0a1.1 1.1 0 1 0 -2.2 0M160.19 30.41a1.1 1.1 0 1 0 2.2 0a1.1 1.1 0 1 0 -2.2 0M173.15 53.45a1.1 1.1 0 1 0 2.2 0a1.1 1.1 0 1 0 -2.2 0M155.25 23.67a1.1 1.1 0 1 0 2.2 0a1.1 1.1 0 1 0 -2.2 0M172.07 50.18a1.1 1.1 0 1 0 2.2 0a1.1 1.1 0 1 0 -2.2 0M174.58 53.11a1.1 1.1 0 1 0 2.2 0a1.1 1.1 0 1 0 -2.2 0M171.83 50.02a1.1 1.1 0 1 0 2.2 0a1.1 1.1 0 1 0 -2.2 0M158.81 30.04a1.1 1.1 0 1 0 2.2 0a1.1 1.1 0 1 0 -2.2 0M164.54 36.89a1.1 1.1 0 1 0 2.2 0a1.1 1.1 0 1 0 -2.2 0M156.43 26.46a1.1 1.1 0 1 0 2.2 0a1.1 1.1 0 1 0 -2.2 0M166.91 40.98a1.1 1.1 0 1 0 2.2 0a1.1 1.1 0 1 0 -2.2 0M174.06 53.61a1.1 1.1 0 1 0 2.2 0a1.1 1.1 0 1 0 -2.2 0M165.75 41.94a1.1 1.1 0 1 0 2.2 0a1.1 1.1 0 1 0 -2.2 0M169.33 46.85a1.1 1.1 0 1 0 2.2 0a1.1 1.1 0 1 0 -2.2 0M159.47 30.38a1.1 1.1 0 1 0 2.2 0a1.1 1.1 0 1 0 -2.2 0M159.46 30.28a1.1 1.1 0 1 0 2.2 0a1.1 1.1 0 1 0 -2.2 0M171.39 48.17a1.1 1.1 0 1 0 2.2 0a1.1 1.1 0 1 0 -2.2 0M157.39 26.44a1.1 1.1 0 1 0 2.2 0a1.1 1.1 0 1 0 -2.2 0M164.31 36.33a1.1 1.1 0 1 0 2.2 0a1.1 1.1 0 1 0 -2.2 0M166.88 41.77a1.1 1.1 0 1 0 2.2 0a1.1 1.1 0 1 0 -2.2 0M163.35 38.48a1.1 1.1 0 1 0 2.2 0a1.1 1.1 0 1 0 -2.2 0M161.81 33.83a1.1 1.1 0 1 0 2.2 0a1.1 1.1 0 1 0 -2.2 0M154.16 25.21a1.1 1.1 0 1 0 2.2 0a1.1 1.1 0 1 0 -2.2 0M153.45 25.04a1.1 1.1 0 1 0 2.2 0a1.1 1.1 0 1 0 -2.2 0M153.85 24.35a1.1 1.1 0 1 0 2.2 0a1.1 1.1 0 1 0 -2.2 0M169.54 48.37a1.1 1.1 0 1 0 2.2 0a1.1 1.1 0 1 0 -2.2 0M165.92 40.76a1.1 1.1 0 1 0 2.2 0a1.1 1.1 0 1 0 -2.2 0M152.13 21.19a1.1 1.1 0 1 0 2.2 0a1.1 1.1 0 1 0 -2.2 0M169.62 45.89a1.1 1.1 0 1 0 2.2 0a1.1 1.1 0 1 0 -2.2 0M159.3 32.76a1.1 1.1 0 1 0 2.2 0a1.1 1.1 0 1 0 -2.2 0M156.1 26.05a1.1 1.1 0 1 0 2.2 0a1.1 1.1 0 1 0 -2.2 0M171.6 50.91a1.1 1.1 0 1 0 2.2 0a1.1 1.1 0 1 0 -2.2 0M165.9 39.36a1.1 1.1 0 1 0 2.2 0a1.1 1.1 0 1 0 -2.2 0M160.48 33.5a1.1 1.1 0 1 0 2.2 0a1.1 1.1 0 1 0 -2.2 0M152.39 23.22a1.1 1.1 0 1 0 2.2 0a1.1 1.1 0 1 0 -2.2 0M173.5 52.35a1.1 1.1 0 1 0 2.2 0a1.1 1.1 0 1 0 -2.2 0M162.88 34.49a1.1 1.1 0 1 0 2.2 0a1.1 1.1 0 1 0 -2.2 0M153.09 22.03a1.1 1.1 0 1 0 2.2 0a1.1 1.1 0 1 0 -2.2 0M172.14 51.84a1.1 1.1 0 1 0 2.2 0a1.1 1.1 0 1 0 -2.2 0M172.16 50.32a1.1 1.1 0 1 0 2.2 0a1.1 1.1 0 1 0 -2.2 0M170.36 47.56a1.1 1.1 0 1 0 2.2 0a1.1 1.1 0 1 0 -2.2 0M172.36 53.08a1.1 1.1 0 1 0 2.2 0a1.1 1.1 0 1 0 -2.2 0M163.1 37.02a1.1 1.1 0 1 0 2.2 0a1.1 1.1 0 1 0 -2.2 0M161.52 33a1.1 1.1 0 1 0 2.2 0a1.1 1.1 0 1 0 -2.2 0M168.01 44.42a1.1 1.1 0 1 0 2.2 0a1.1 1.1 0 1 0 -2.2 0M170.75 50.07a1.1 1.1 0 1 0 2.2 0a1.1 1.1 0 1 0 -2.2 0M163.26 36.38a1.1 1.1 0 1 0 2.2 0a1.1 1.1 0 1 0 -2.2 0M156.7 25.74a1.1 1.1 0 1 0 2.2 0a1.1 1.1 0 1 0 -2.2 0M159.74 32.68a1.1 1.1 0 1 0 2.2 0a1.1 1.1 0 1 0 -2.2 0M157.03 31.44a1.1 1.1 0 1 0 2.2 0a1.1 1.1 0 1 0 -2.2 0M164.27 39.34a1.1 1.1 0 1 0 2.2 0a1.1 1.1 0 1 0 -2.2 0M160.54 33.46a1.1 1.1 0 1 0 2.2 0a1.1 1.1 0 1 0 -2.2 0M161.23 33.84a1.1 1.1 0 1 0 2.2 0a1.1 1.1 0 1 0 -2.2 0M170.14 48.14a1.1 1.1 0 1 0 2.2 0a1.1 1.1 0 1 0 -2.2 0M160.45 31.87a1.1 1.1 0 1 0 2.2 0a1.1 1.1 0 1 0 -2.2 0M158.35 30.07a1.1 1.1 0 1 0 2.2 0a1.1 1.1 0 1 0 -2.2 0M156.59 29.08a1.1 1.1 0 1 0 2.2 0a1.1 1.1 0 1 0 -2.2 0M159.97 31.71a1.1 1.1 0 1 0 2.2 0a1.1 1.1 0 1 0 -2.2 0M155.8 25.6a1.1 1.1 0 1 0 2.2 0a1.1 1.1 0 1 0 -2.2 0M158.89 28.96a1.1 1.1 0 1 0 2.2 0a1.1 1.1 0 1 0 -2.2 0M169.98 48.66a1.1 1.1 0 1 0 2.2 0a1.1 1.1 0 1 0 -2.2 0M169.99 48.71a1.1 1.1 0 1 0 2.2 0a1.1 1.1 0 1 0 -2.2 0M169.53 47.53a1.1 1.1 0 1 0 2.2 0a1.1 1.1 0 1 0 -2.2 0M167.65 44.81a1.1 1.1 0 1 0 2.2 0a1.1 1.1 0 1 0 -2.2 0M160.48 33.08a1.1 1.1 0 1 0 2.2 0a1.1 1.1 0 1 0 -2.2 0M172.96 52.28a1.1 1.1 0 1 0 2.2 0a1.1 1.1 0 1 0 -2.2 0M163.75 37.04a1.1 1.1 0 1 0 2.2 0a1.1 1.1 0 1 0 -2.2 0M154.29 25.6a1.1 1.1 0 1 0 2.2 0a1.1 1.1 0 1 0 -2.2 0M167.97 43.89a1.1 1.1 0 1 0 2.2 0a1.1 1.1 0 1 0 -2.2 0M163.86 40.77a1.1 1.1 0 1 0 2.2 0a1.1 1.1 0 1 0 -2.2 0M160.81 32.43a1.1 1.1 0 1 0 2.2 0a1.1 1.1 0 1 0 -2.2 0M156.07 28.24a1.1 1.1 0 1 0 2.2 0a1.1 1.1 0 1 0 -2.2 0M170.68 49.98a1.1 1.1 0 1 0 2.2 0a1.1 1.1 0 1 0 -2.2 0M163.95 38.65a1.1 1.1 0 1 0 2.2 0a1.1 1.1 0 1 0 -2.2 0M158.45 29.33a1.1 1.1 0 1 0 2.2 0a1.1 1.1 0 1 0 -2.2 0M167.61 41.84a1.1 1.1 0 1 0 2.2 0a1.1 1.1 0 1 0 -2.2 0M165.41 38.97a1.1 1.1 0 1 0 2.2 0a1.1 1.1 0 1 0 -2.2 0M153.25 24.12a1.1 1.1 0 1 0 2.2 0a1.1 1.1 0 1 0 -2.2 0M155.88 26.65a1.1 1.1 0 1 0 2.2 0a1.1 1.1 0 1 0 -2.2 0M167.52 42.14a1.1 1.1 0 1 0 2.2 0a1.1 1.1 0 1 0 -2.2 0M155.07 23.74a1.1 1.1 0 1 0 2.2 0a1.1 1.1 0 1 0 -2.2 0M164.06 36.62a1.1 1.1 0 1 0 2.2 0a1.1 1.1 0 1 0 -2.2 0M158.55 30.59a1.1 1.1 0 1 0 2.2 0a1.1 1.1 0 1 0 -2.2 0M157.22 28.06a1.1 1.1 0 1 0 2.2 0a1.1 1.1 0 1 0 -2.2 0M155.04 24.68a1.1 1.1 0 1 0 2.2 0a1.1 1.1 0 1 0 -2.2 0M162.29 33.14a1.1 1.1 0 1 0 2.2 0a1.1 1.1 0 1 0 -2.2 0M171.79 51.03a1.1 1.1 0 1 0 2.2 0a1.1 1.1 0 1 0 -2.2 0M172.24 48.56a1.1 1.1 0 1 0 2.2 0a1.1 1.1 0 1 0 -2.2 0M155.11 24.94a1.1 1.1 0 1 0 2.2 0a1.1 1.1 0 1 0 -2.2 0M167.17 43.12a1.1 1.1 0 1 0 2.2 0a1.1 1.1 0 1 0 -2.2 0M167.46 42.21a1.1 1.1 0 1 0 2.2 0a1.1 1.1 0 1 0 -2.2 0M166.33 42.65a1.1 1.1 0 1 0 2.2 0a1.1 1.1 0 1 0 -2.2 0M167.71 43.7a1.1 1.1 0 1 0 2.2 0a1.1 1.1 0 1 0 -2.2 0M158.82 32.99a1.1 1.1 0 1 0 2.2 0a1.1 1.1 0 1 0 -2.2 0M166.18 41.34a1.1 1.1 0 1 0 2.2 0a1.1 1.1 0 1 0 -2.2 0M171.79 51.2a1.1 1.1 0 1 0 2.2 0a1.1 1.1 0 1 0 -2.2 0M168.47 44.87a1.1 1.1 0 1 0 2.2 0a1.1 1.1 0 1 0 -2.2 0M152.83 22.04a1.1 1.1 0 1 0 2.2 0a1.1 1.1 0 1 0 -2.2 0M155.68 26.03a1.1 1.1 0 1 0 2.2 0a1.1 1.1 0 1 0 -2.2 0M160.44 33.29a1.1 1.1 0 1 0 2.2 0a1.1 1.1 0 1 0 -2.2 0M152.97 21.88a1.1 1.1 0 1 0 2.2 0a1.1 1.1 0 1 0 -2.2 0M155.36 27.25a1.1 1.1 0 1 0 2.2 0a1.1 1.1 0 1 0 -2.2 0M171.44 48.01a1.1 1.1 0 1 0 2.2 0a1.1 1.1 0 1 0 -2.2 0M158.74 28.33a1.1 1.1 0 1 0 2.2 0a1.1 1.1 0 1 0 -2.2 0M162.63 34.43a1.1 1.1 0 1 0 2.2 0a1.1 1.1 0 1 0 -2.2 0M152.14 20.58a1.1 1.1 0 1 0 2.2 0a1.1 1.1 0 1 0 -2.2 0M170.36 48.41a1.1 1.1 0 1 0 2.2 0a1.1 1.1 0 1 0 -2.2 0M153.25 21.84a1.1 1.1 0 1 0 2.2 0a1.1 1.1 0 1 0 -2.2 0M170.99 48.95a1.1 1.1 0 1 0 2.2 0a1.1 1.1 0 1 0 -2.2 0M158.09 28.3a1.1 1.1 0 1 0 2.2 0a1.1 1.1 0 1 0 -2.2 0M154.41 24.44a1.1 1.1 0 1 0 2.2 0a1.1 1.1 0 1 0 -2.2 0M172.47 50.87a1.1 1.1 0 1 0 2.2 0a1.1 1.1 0 1 0 -2.2 0M167.85 45.95a1.1 1.1 0 1 0 2.2 0a1.1 1.1 0 1 0 -2.2 0M160.74 33.71a1.1 1.1 0 1 0 2.2 0a1.1 1.1 0 1 0 -2.2 0M168.44 45.52a1.1 1.1 0 1 0 2.2 0a1.1 1.1 0 1 0 -2.2 0M154.45 23.28a1.1 1.1 0 1 0 2.2 0a1.1 1.1 0 1 0 -2.2 0M173.89 51.48a1.1 1.1 0 1 0 2.2 0a1.1 1.1 0 1 0 -2.2 0M166.83 43.86a1.1 1.1 0 1 0 2.2 0a1.1 1.1 0 1 0 -2.2 0M168.06 45.32a1.1 1.1 0 1 0 2.2 0a1.1 1.1 0 1 0 -2.2 0M163.72 34.56a1.1 1.1 0 1 0 2.2 0a1.1 1.1 0 1 0 -2.2 0M153.25 22.44a1.1 1.1 0 1 0 2.2 0a1.1 1.1 0 1 0 -2.2 0M164.84 36.73a1.1 1.1 0 1 0 2.2 0a1.1 1.1 0 1 0 -2.2 0M171.72 51.98a1.1 1.1 0 1 0 2.2 0a1.1 1.1 0 1 0 -2.2 0M151.98 22.99a1.1 1.1 0 1 0 2.2 0a1.1 1.1 0 1 0 -2.2 0M167.61 43.92a1.1 1.1 0 1 0 2.2 0a1.1 1.1 0 1 0 -2.2 0M165.28 38.06a1.1 1.1 0 1 0 2.2 0a1.1 1.1 0 1 0 -2.2 0M173.68 52.69a1.1 1.1 0 1 0 2.2 0a1.1 1.1 0 1 0 -2.2 0M158.84 28a1.1 1.1 0 1 0 2.2 0a1.1 1.1 0 1 0 -2.2 0M153.58 22.41a1.1 1.1 0 1 0 2.2 0a1.1 1.1 0 1 0 -2.2 0M156.25 27.54a1.1 1.1 0 1 0 2.2 0a1.1 1.1 0 1 0 -2.2 0M158.69 31.17a1.1 1.1 0 1 0 2.2 0a1.1 1.1 0 1 0 -2.2 0M166.3 43.18a1.1 1.1 0 1 0 2.2 0a1.1 1.1 0 1 0 -2.2 0M157.73 28.25a1.1 1.1 0 1 0 2.2 0a1.1 1.1 0 1 0 -2.2 0M161.56 35.63a1.1 1.1 0 1 0 2.2 0a1.1 1.1 0 1 0 -2.2 0M172.82 51.65a1.1 1.1 0 1 0 2.2 0a1.1 1.1 0 1 0 -2.2 0M171.06 50.35a1.1 1.1 0 1 0 2.2 0a1.1 1.1 0 1 0 -2.2 0M155.93 24.74a1.1 1.1 0 1 0 2.2 0a1.1 1.1 0 1 0 -2.2 0M170.28 47.58a1.1 1.1 0 1 0 2.2 0a1.1 1.1 0 1 0 -2.2 0M164.7 38.48a1.1 1.1 0 1 0 2.2 0a1.1 1.1 0 1 0 -2.2 0M167.52 42.31a1.1 1.1 0 1 0 2.2 0a1.1 1.1 0 1 0 -2.2 0M167 39.49a1.1 1.1 0 1 0 2.2 0a1.1 1.1 0 1 0 -2.2 0M170.12 48.4a1.1 1.1 0 1 0 2.2 0a1.1 1.1 0 1 0 -2.2 0M154.78 24.29a1.1 1.1 0 1 0 2.2 0a1.1 1.1 0 1 0 -2.2 0M156.28 27.77a1.1 1.1 0 1 0 2.2 0a1.1 1.1 0 1 0 -2.2 0M153.27 22.74a1.1 1.1 0 1 0 2.2 0a1.1 1.1 0 1 0 -2.2 0M167.32 44.04a1.1 1.1 0 1 0 2.2 0a1.1 1.1 0 1 0 -2.2 0M162.06 35.44a1.1 1.1 0 1 0 2.2 0a1.1 1.1 0 1 0 -2.2 0M162.6 36.07a1.1 1.1 0 1 0 2.2 0a1.1 1.1 0 1 0 -2.2 0M160.57 32.35a1.1 1.1 0 1 0 2.2 0a1.1 1.1 0 1 0 -2.2 0M151.68 21.5a1.1 1.1 0 1 0 2.2 0a1.1 1.1 0 1 0 -2.2 0M173.73 53.73a1.1 1.1 0 1 0 2.2 0a1.1 1.1 0 1 0 -2.2 0M168.37 44.15a1.1 1.1 0 1 0 2.2 0a1.1 1.1 0 1 0 -2.2 0M173.71 53.19a1.1 1.1 0 1 0 2.2 0a1.1 1.1 0 1 0 -2.2 0M163.67 36.33a1.1 1.1 0 1 0 2.2 0a1.1 1.1 0 1 0 -2.2 0M161.93 34.86a1.1 1.1 0 1 0 2.2 0a1.1 1.1 0 1 0 -2.2 0M151.11 21.87a1.1 1.1 0 1 0 2.2 0a1.1 1.1 0 1 0 -2.2 0M172.69 50.97a1.1 1.1 0 1 0 2.2 0a1.1 1.1 0 1 0 -2.2 0M173.14 51.42a1.1 1.1 0 1 0 2.2 0a1.1 1.1 0 1 0 -2.2 0M166.81 42.08a1.1 1.1 0 1 0 2.2 0a1.1 1.1 0 1 0 -2.2 0M154.72 25.63a1.1 1.1 0 1 0 2.2 0a1.1 1.1 0 1 0 -2.2 0M152.15 21.99a1.1 1.1 0 1 0 2.2 0a1.1 1.1 0 1 0 -2.2 0M160.75 28.88a1.1 1.1 0 1 0 2.2 0a1.1 1.1 0 1 0 -2.2 0M157.43 25.75a1.1 1.1 0 1 0 2.2 0a1.1 1.1 0 1 0 -2.2 0M173.18 51a1.1 1.1 0 1 0 2.2 0a1.1 1.1 0 1 0 -2.2 0M155.75 26.31a1.1 1.1 0 1 0 2.2 0a1.1 1.1 0 1 0 -2.2 0M169.83 44.46a1.1 1.1 0 1 0 2.2 0a1.1 1.1 0 1 0 -2.2 0M159.27 31.47a1.1 1.1 0 1 0 2.2 0a1.1 1.1 0 1 0 -2.2 0M158.34 31.92a1.1 1.1 0 1 0 2.2 0a1.1 1.1 0 1 0 -2.2 0M161.63 31.91a1.1 1.1 0 1 0 2.2 0a1.1 1.1 0 1 0 -2.2 0M170.57 48.15a1.1 1.1 0 1 0 2.2 0a1.1 1.1 0 1 0 -2.2 0M156.8 29.03a1.1 1.1 0 1 0 2.2 0a1.1 1.1 0 1 0 -2.2 0M166.07 41.38a1.1 1.1 0 1 0 2.2 0a1.1 1.1 0 1 0 -2.2 0M170.53 47.63a1.1 1.1 0 1 0 2.2 0a1.1 1.1 0 1 0 -2.2 0M173.88 51.42a1.1 1.1 0 1 0 2.2 0a1.1 1.1 0 1 0 -2.2 0M164.11 36.3a1.1 1.1 0 1 0 2.2 0a1.1 1.1 0 1 0 -2.2 0M159.27 30.17a1.1 1.1 0 1 0 2.2 0a1.1 1.1 0 1 0 -2.2 0M164.35 40.19a1.1 1.1 0 1 0 2.2 0a1.1 1.1 0 1 0 -2.2 0M155.38 26.38a1.1 1.1 0 1 0 2.2 0a1.1 1.1 0 1 0 -2.2 0M162.16 35.14a1.1 1.1 0 1 0 2.2 0a1.1 1.1 0 1 0 -2.2 0M152.71 22.15a1.1 1.1 0 1 0 2.2 0a1.1 1.1 0 1 0 -2.2 0M161.95 35.1a1.1 1.1 0 1 0 2.2 0a1.1 1.1 0 1 0 -2.2 0M150.77 21.88a1.1 1.1 0 1 0 2.2 0a1.1 1.1 0 1 0 -2.2 0M169.9 48.98a1.1 1.1 0 1 0 2.2 0a1.1 1.1 0 1 0 -2.2 0M163.26 33.55a1.1 1.1 0 1 0 2.2 0a1.1 1.1 0 1 0 -2.2 0M159.4 29.26a1.1 1.1 0 1 0 2.2 0a1.1 1.1 0 1 0 -2.2 0M162.87 33.61a1.1 1.1 0 1 0 2.2 0a1.1 1.1 0 1 0 -2.2 0M161.38 30.64a1.1 1.1 0 1 0 2.2 0a1.1 1.1 0 1 0 -2.2 0M169.92 48.28a1.1 1.1 0 1 0 2.2 0a1.1 1.1 0 1 0 -2.2 0M171.62 50.9a1.1 1.1 0 1 0 2.2 0a1.1 1.1 0 1 0 -2.2 0M161.92 35.3a1.1 1.1 0 1 0 2.2 0a1.1 1.1 0 1 0 -2.2 0M165.33 38.81a1.1 1.1 0 1 0 2.2 0a1.1 1.1 0 1 0 -2.2 0M153.48 23.87a1.1 1.1 0 1 0 2.2 0a1.1 1.1 0 1 0 -2.2 0M162.01 29.3a1.1 1.1 0 1 0 2.2 0a1.1 1.1 0 1 0 -2.2 0M171.59 51.14a1.1 1.1 0 1 0 2.2 0a1.1 1.1 0 1 0 -2.2 0M169.52 50.33a1.1 1.1 0 1 0 2.2 0a1.1 1.1 0 1 0 -2.2 0M166.46 40.77a1.1 1.1 0 1 0 2.2 0a1.1 1.1 0 1 0 -2.2 0M169.08 48.08a1.1 1.1 0 1 0 2.2 0a1.1 1.1 0 1 0 -2.2 0M152.31 20.49a1.1 1.1 0 1 0 2.2 0a1.1 1.1 0 1 0 -2.2 0M151.12 18.75a1.1 1.1 0 1 0 2.2 0a1.1 1.1 0 1 0 -2.2 0M150.53 19.62a1.1 1.1 0 1 0 2.2 0a1.1 1.1 0 1 0 -2.2 0M151.89 20.89a1.1 1.1 0 1 0 2.2 0a1.1 1.1 0 1 0 -2.2 0M152.66 21.4a1.1 1.1 0 1 0 2.2 0a1.1 1.1 0 1 0 -2.2 0M151.53 21.82a1.1 1.1 0 1 0 2.2 0a1.1 1.1 0 1 0 -2.2 0M153.24 20.76a1.1 1.1 0 1 0 2.2 0a1.1 1.1 0 1 0 -2.2 0M151.85 20.63a1.1 1.1 0 1 0 2.2 0a1.1 1.1 0 1 0 -2.2 0M150.8 20.2a1.1 1.1 0 1 0 2.2 0a1.1 1.1 0 1 0 -2.2 0M151.15 19.81a1.1 1.1 0 1 0 2.2 0a1.1 1.1 0 1 0 -2.2 0M151.43 20.77a1.1 1.1 0 1 0 2.2 0a1.1 1.1 0 1 0 -2.2 0M152.03 22.18a1.1 1.1 0 1 0 2.2 0a1.1 1.1 0 1 0 -2.2 0M153.79 20.69a1.1 1.1 0 1 0 2.2 0a1.1 1.1 0 1 0 -2.2 0M151.54 21.74a1.1 1.1 0 1 0 2.2 0a1.1 1.1 0 1 0 -2.2 0M151.06 22.32a1.1 1.1 0 1 0 2.2 0a1.1 1.1 0 1 0 -2.2 0M152.46 21.19a1.1 1.1 0 1 0 2.2 0a1.1 1.1 0 1 0 -2.2 0M152.98 20.46a1.1 1.1 0 1 0 2.2 0a1.1 1.1 0 1 0 -2.2 0M151.44 20.72a1.1 1.1 0 1 0 2.2 0a1.1 1.1 0 1 0 -2.2 0M151.46 19.74a1.1 1.1 0 1 0 2.2 0a1.1 1.1 0 1 0 -2.2 0M151.58 22.19a1.1 1.1 0 1 0 2.2 0a1.1 1.1 0 1 0 -2.2 0M152.24 22.26a1.1 1.1 0 1 0 2.2 0a1.1 1.1 0 1 0 -2.2 0M152.23 22.11a1.1 1.1 0 1 0 2.2 0a1.1 1.1 0 1 0 -2.2 0M150.65 20.79a1.1 1.1 0 1 0 2.2 0a1.1 1.1 0 1 0 -2.2 0M149.9 23.73a1.1 1.1 0 1 0 2.2 0a1.1 1.1 0 1 0 -2.2 0M153.92 21.11a1.1 1.1 0 1 0 2.2 0a1.1 1.1 0 1 0 -2.2 0M151.2 21.73a1.1 1.1 0 1 0 2.2 0a1.1 1.1 0 1 0 -2.2 0M150.74 22.53a1.1 1.1 0 1 0 2.2 0a1.1 1.1 0 1 0 -2.2 0M154.16 19.45a1.1 1.1 0 1 0 2.2 0a1.1 1.1 0 1 0 -2.2 0M150.97 22.44a1.1 1.1 0 1 0 2.2 0a1.1 1.1 0 1 0 -2.2 0M153.14 21.96a1.1 1.1 0 1 0 2.2 0a1.1 1.1 0 1 0 -2.2 0M151.99 21.07a1.1 1.1 0 1 0 2.2 0a1.1 1.1 0 1 0 -2.2 0M151.84 20.57a1.1 1.1 0 1 0 2.2 0a1.1 1.1 0 1 0 -2.2 0M151.27 20.67a1.1 1.1 0 1 0 2.2 0a1.1 1.1 0 1 0 -2.2 0M153.34 19.14a1.1 1.1 0 1 0 2.2 0a1.1 1.1 0 1 0 -2.2 0M152.73 19.58a1.1 1.1 0 1 0 2.2 0a1.1 1.1 0 1 0 -2.2 0M150.16 18.93a1.1 1.1 0 1 0 2.2 0a1.1 1.1 0 1 0 -2.2 0M150.75 21.66a1.1 1.1 0 1 0 2.2 0a1.1 1.1 0 1 0 -2.2 0M151.22 21.17a1.1 1.1 0 1 0 2.2 0a1.1 1.1 0 1 0 -2.2 0M150.7 21.34a1.1 1.1 0 1 0 2.2 0a1.1 1.1 0 1 0 -2.2 0M150.04 21.46a1.1 1.1 0 1 0 2.2 0a1.1 1.1 0 1 0 -2.2 0M151.2 19.94a1.1 1.1 0 1 0 2.2 0a1.1 1.1 0 1 0 -2.2 0M152.99 22.87a1.1 1.1 0 1 0 2.2 0a1.1 1.1 0 1 0 -2.2 0M151.14 22.64a1.1 1.1 0 1 0 2.2 0a1.1 1.1 0 1 0 -2.2 0M152.1 22.32a1.1 1.1 0 1 0 2.2 0a1.1 1.1 0 1 0 -2.2 0M152.51 21.38a1.1 1.1 0 1 0 2.2 0a1.1 1.1 0 1 0 -2.2 0M175 56.6a1.1 1.1 0 1 0 2.2 0a1.1 1.1 0 1 0 -2.2 0M176.2 59a1.1 1.1 0 1 0 2.2 0a1.1 1.1 0 1 0 -2.2 0M177.4 60.8a1.1 1.1 0 1 0 2.2 0a1.1 1.1 0 1 0 -2.2 0M180.4 59.4a1.1 1.1 0 1 0 2.2 0a1.1 1.1 0 1 0 -2.2 0M180.9 64.8a1.1 1.1 0 1 0 2.2 0a1.1 1.1 0 1 0 -2.2 0M182.7 65.9a1.1 1.1 0 1 0 2.2 0a1.1 1.1 0 1 0 -2.2 0M183.7 67.8a1.1 1.1 0 1 0 2.2 0a1.1 1.1 0 1 0 -2.2 0M180.4 69.4a1.1 1.1 0 1 0 2.2 0a1.1 1.1 0 1 0 -2.2 0M184.6 71.1a1.1 1.1 0 1 0 2.2 0a1.1 1.1 0 1 0 -2.2 0M186.2 72.5a1.1 1.1 0 1 0 2.2 0a1.1 1.1 0 1 0 -2.2 0M187.4 74.1a1.1 1.1 0 1 0 2.2 0a1.1 1.1 0 1 0 -2.2 0M188.3 80.4a1.1 1.1 0 1 0 2.2 0a1.1 1.1 0 1 0 -2.2 0M190.6 85.8a1.1 1.1 0 1 0 2.2 0a1.1 1.1 0 1 0 -2.2 0M193 85.1a1.1 1.1 0 1 0 2.2 0a1.1 1.1 0 1 0 -2.2 0M172.7 53.1a1.1 1.1 0 1 0 2.2 0a1.1 1.1 0 1 0 -2.2 0M173.9 55.5a1.1 1.1 0 1 0 2.2 0a1.1 1.1 0 1 0 -2.2 0M171.5 41.5a1.1 1.1 0 1 0 2.2 0a1.1 1.1 0 1 0 -2.2 0M172.9 47a1.1 1.1 0 1 0 2.2 0a1.1 1.1 0 1 0 -2.2 0M174.9 52a1.1 1.1 0 1 0 2.2 0a1.1 1.1 0 1 0 -2.2 0M200.7 58.3a1.1 1.1 0 1 0 2.2 0a1.1 1.1 0 1 0 -2.2 0M208.4 69.9a1.1 1.1 0 1 0 2.2 0a1.1 1.1 0 1 0 -2.2 0M236.8 76.9a1.1 1.1 0 1 0 2.2 0a1.1 1.1 0 1 0 -2.2 0M202.3 81.1a1.1 1.1 0 1 0 2.2 0a1.1 1.1 0 1 0 -2.2 0M203 106a1.1 1.1 0 1 0 2.2 0a1.1 1.1 0 1 0 -2.2 0M217.7 108.8a1.1 1.1 0 1 0 2.2 0a1.1 1.1 0 1 0 -2.2 0M251.2 91.4a1.1 1.1 0 1 0 2.2 0a1.1 1.1 0 1 0 -2.2 0M290.7 125.7a1.1 1.1 0 1 0 2.2 0a1.1 1.1 0 1 0 -2.2 0" fill="#000" stroke="none"/>
<path d="M189.4 55.57L190.44 57.38L188.37 57.38zM190.8 56.77L191.84 58.58L189.77 58.58zM196 67.27L197.03 69.08L194.97 69.08zM198.7 71.47L199.73 73.28L197.66 73.28zM198.7 74.27L199.73 76.08L197.66 76.08zM202.5 82.37L203.53 84.18L201.47 84.18z" fill="none" stroke="#222" stroke-width="0.5"/>
<path d="M326.6 54.6a1 1 0 1 0 2 0a1 1 0 1 0 -2 0M328.7 51.5a1 1 0 1 0 2 0a1 1 0 1 0 -2 0M329.7 50.4a1 1 0 1 0 2 0a1 1 0 1 0 -2 0M328.7 48.3a1 1 0 1 0 2 0a1 1 0 1 0 -2 0M330.5 47.5a1 1 0 1 0 2 0a1 1 0 1 0 -2 0M332.4 44.7a1 1 0 1 0 2 0a1 1 0 1 0 -2 0M333.4 42.6a1 1 0 1 0 2 0a1 1 0 1 0 -2 0M334.5 41a1 1 0 1 0 2 0a1 1 0 1 0 -2 0M335.5 37.8a1 1 0 1 0 2 0a1 1 0 1 0 -2 0M331.5 46.5a1 1 0 1 0 2 0a1 1 0 1 0 -2 0M333.8 43.8a1 1 0 1 0 2 0a1 1 0 1 0 -2 0" fill="#B8B42C" stroke="none"/>
<path d="M335.3 36.8a1 1 0 1 0 2 0a1 1 0 1 0 -2 0M334.2 39.2a1 1 0 1 0 2 0a1 1 0 1 0 -2 0M336.2 38.6a1 1 0 1 0 2 0a1 1 0 1 0 -2 0" fill="#7E8A34" stroke="none"/>
<path d="M342.92 35.35a1.05 1.05 0 1 0 2.1 0a1.05 1.05 0 1 0 -2.1 0M336.15 40.33a1.05 1.05 0 1 0 2.1 0a1.05 1.05 0 1 0 -2.1 0M340.12 40.43a1.05 1.05 0 1 0 2.1 0a1.05 1.05 0 1 0 -2.1 0M338.19 36.96a1.05 1.05 0 1 0 2.1 0a1.05 1.05 0 1 0 -2.1 0M340.06 35.07a1.05 1.05 0 1 0 2.1 0a1.05 1.05 0 1 0 -2.1 0M338.7 37.75a1.05 1.05 0 1 0 2.1 0a1.05 1.05 0 1 0 -2.1 0M340.03 36.75a1.05 1.05 0 1 0 2.1 0a1.05 1.05 0 1 0 -2.1 0M340.18 39.1a1.05 1.05 0 1 0 2.1 0a1.05 1.05 0 1 0 -2.1 0M336.64 42.25a1.05 1.05 0 1 0 2.1 0a1.05 1.05 0 1 0 -2.1 0M343.04 36.23a1.05 1.05 0 1 0 2.1 0a1.05 1.05 0 1 0 -2.1 0M342.17 36.39a1.05 1.05 0 1 0 2.1 0a1.05 1.05 0 1 0 -2.1 0M338.28 39.86a1.05 1.05 0 1 0 2.1 0a1.05 1.05 0 1 0 -2.1 0M338.06 43.21a1.05 1.05 0 1 0 2.1 0a1.05 1.05 0 1 0 -2.1 0M339.87 41.04a1.05 1.05 0 1 0 2.1 0a1.05 1.05 0 1 0 -2.1 0M338.26 36.56a1.05 1.05 0 1 0 2.1 0a1.05 1.05 0 1 0 -2.1 0M336.78 39.68a1.05 1.05 0 1 0 2.1 0a1.05 1.05 0 1 0 -2.1 0M342.35 35.39a1.05 1.05 0 1 0 2.1 0a1.05 1.05 0 1 0 -2.1 0M338.02 40.14a1.05 1.05 0 1 0 2.1 0a1.05 1.05 0 1 0 -2.1 0M339.26 37.82a1.05 1.05 0 1 0 2.1 0a1.05 1.05 0 1 0 -2.1 0M339.06 37.64a1.05 1.05 0 1 0 2.1 0a1.05 1.05 0 1 0 -2.1 0M335.53 43.37a1.05 1.05 0 1 0 2.1 0a1.05 1.05 0 1 0 -2.1 0M337.27 42.81a1.05 1.05 0 1 0 2.1 0a1.05 1.05 0 1 0 -2.1 0M336.6 40.4a1.05 1.05 0 1 0 2.1 0a1.05 1.05 0 1 0 -2.1 0M338.2 38.18a1.05 1.05 0 1 0 2.1 0a1.05 1.05 0 1 0 -2.1 0M339.76 38.32a1.05 1.05 0 1 0 2.1 0a1.05 1.05 0 1 0 -2.1 0M336.03 43.55a1.05 1.05 0 1 0 2.1 0a1.05 1.05 0 1 0 -2.1 0M342.59 37.42a1.05 1.05 0 1 0 2.1 0a1.05 1.05 0 1 0 -2.1 0M341.66 36.67a1.05 1.05 0 1 0 2.1 0a1.05 1.05 0 1 0 -2.1 0M339.57 37.2a1.05 1.05 0 1 0 2.1 0a1.05 1.05 0 1 0 -2.1 0M338.75 41.88a1.05 1.05 0 1 0 2.1 0a1.05 1.05 0 1 0 -2.1 0M339.68 36.57a1.05 1.05 0 1 0 2.1 0a1.05 1.05 0 1 0 -2.1 0M342.01 37.1a1.05 1.05 0 1 0 2.1 0a1.05 1.05 0 1 0 -2.1 0M339.75 39.22a1.05 1.05 0 1 0 2.1 0a1.05 1.05 0 1 0 -2.1 0M338.27 40.49a1.05 1.05 0 1 0 2.1 0a1.05 1.05 0 1 0 -2.1 0M336.72 38.48a1.05 1.05 0 1 0 2.1 0a1.05 1.05 0 1 0 -2.1 0M337.27 39.93a1.05 1.05 0 1 0 2.1 0a1.05 1.05 0 1 0 -2.1 0M342.6 34.16a1.05 1.05 0 1 0 2.1 0a1.05 1.05 0 1 0 -2.1 0M337.17 39.4a1.05 1.05 0 1 0 2.1 0a1.05 1.05 0 1 0 -2.1 0M336.63 40.99a1.05 1.05 0 1 0 2.1 0a1.05 1.05 0 1 0 -2.1 0M341.64 35.2a1.05 1.05 0 1 0 2.1 0a1.05 1.05 0 1 0 -2.1 0M339.03 39.63a1.05 1.05 0 1 0 2.1 0a1.05 1.05 0 1 0 -2.1 0M336.4 39.8a1.05 1.05 0 1 0 2.1 0a1.05 1.05 0 1 0 -2.1 0M335.23 42.46a1.05 1.05 0 1 0 2.1 0a1.05 1.05 0 1 0 -2.1 0M338.67 41.42a1.05 1.05 0 1 0 2.1 0a1.05 1.05 0 1 0 -2.1 0M341.27 39.72a1.05 1.05 0 1 0 2.1 0a1.05 1.05 0 1 0 -2.1 0M339.68 41.7a1.05 1.05 0 1 0 2.1 0a1.05 1.05 0 1 0 -2.1 0M338.07 36.84a1.05 1.05 0 1 0 2.1 0a1.05 1.05 0 1 0 -2.1 0M337.15 42.22a1.05 1.05 0 1 0 2.1 0a1.05 1.05 0 1 0 -2.1 0M340.85 36.05a1.05 1.05 0 1 0 2.1 0a1.05 1.05 0 1 0 -2.1 0M340.63 40.25a1.05 1.05 0 1 0 2.1 0a1.05 1.05 0 1 0 -2.1 0M336.56 40.32a1.05 1.05 0 1 0 2.1 0a1.05 1.05 0 1 0 -2.1 0M338.29 41.74a1.05 1.05 0 1 0 2.1 0a1.05 1.05 0 1 0 -2.1 0M336.71 41.3a1.05 1.05 0 1 0 2.1 0a1.05 1.05 0 1 0 -2.1 0M337.4 42.08a1.05 1.05 0 1 0 2.1 0a1.05 1.05 0 1 0 -2.1 0M342.37 35.86a1.05 1.05 0 1 0 2.1 0a1.05 1.05 0 1 0 -2.1 0M337.89 42.51a1.05 1.05 0 1 0 2.1 0a1.05 1.05 0 1 0 -2.1 0M342.9 34.77a1.05 1.05 0 1 0 2.1 0a1.05 1.05 0 1 0 -2.1 0M341.23 34.82a1.05 1.05 0 1 0 2.1 0a1.05 1.05 0 1 0 -2.1 0M335.28 41.44a1.05 1.05 0 1 0 2.1 0a1.05 1.05 0 1 0 -2.1 0M340.92 39.68a1.05 1.05 0 1 0 2.1 0a1.05 1.05 0 1 0 -2.1 0M341.85 38.83a1.05 1.05 0 1 0 2.1 0a1.05 1.05 0 1 0 -2.1 0M336.38 41.14a1.05 1.05 0 1 0 2.1 0a1.05 1.05 0 1 0 -2.1 0M341.55 36.96a1.05 1.05 0 1 0 2.1 0a1.05 1.05 0 1 0 -2.1 0M339.18 40.35a1.05 1.05 0 1 0 2.1 0a1.05 1.05 0 1 0 -2.1 0M336.21 39.12a1.05 1.05 0 1 0 2.1 0a1.05 1.05 0 1 0 -2.1 0M336.72 38.35a1.05 1.05 0 1 0 2.1 0a1.05 1.05 0 1 0 -2.1 0M339.4 37.19a1.05 1.05 0 1 0 2.1 0a1.05 1.05 0 1 0 -2.1 0M339.5 39.25a1.05 1.05 0 1 0 2.1 0a1.05 1.05 0 1 0 -2.1 0M337.25 41.12a1.05 1.05 0 1 0 2.1 0a1.05 1.05 0 1 0 -2.1 0M341.56 39.75a1.05 1.05 0 1 0 2.1 0a1.05 1.05 0 1 0 -2.1 0M336.4 43.5a1.05 1.05 0 1 0 2.1 0a1.05 1.05 0 1 0 -2.1 0M340.09 36.24a1.05 1.05 0 1 0 2.1 0a1.05 1.05 0 1 0 -2.1 0M337.64 43.13a1.05 1.05 0 1 0 2.1 0a1.05 1.05 0 1 0 -2.1 0M338.75 39.75a1.05 1.05 0 1 0 2.1 0a1.05 1.05 0 1 0 -2.1 0M340.01 38.22a1.05 1.05 0 1 0 2.1 0a1.05 1.05 0 1 0 -2.1 0M340.69 37.7a1.05 1.05 0 1 0 2.1 0a1.05 1.05 0 1 0 -2.1 0M338.89 41.25a1.05 1.05 0 1 0 2.1 0a1.05 1.05 0 1 0 -2.1 0M338.25 41.86a1.05 1.05 0 1 0 2.1 0a1.05 1.05 0 1 0 -2.1 0M342.15 37.21a1.05 1.05 0 1 0 2.1 0a1.05 1.05 0 1 0 -2.1 0M338.86 41.55a1.05 1.05 0 1 0 2.1 0a1.05 1.05 0 1 0 -2.1 0M342.41 34.18a1.05 1.05 0 1 0 2.1 0a1.05 1.05 0 1 0 -2.1 0M337.64 41.1a1.05 1.05 0 1 0 2.1 0a1.05 1.05 0 1 0 -2.1 0M335.51 43.53a1.05 1.05 0 1 0 2.1 0a1.05 1.05 0 1 0 -2.1 0M341.37 38.24a1.05 1.05 0 1 0 2.1 0a1.05 1.05 0 1 0 -2.1 0M338.21 42.28a1.05 1.05 0 1 0 2.1 0a1.05 1.05 0 1 0 -2.1 0M339.38 39.05a1.05 1.05 0 1 0 2.1 0a1.05 1.05 0 1 0 -2.1 0M336.78 39.13a1.05 1.05 0 1 0 2.1 0a1.05 1.05 0 1 0 -2.1 0M337.77 42.71a1.05 1.05 0 1 0 2.1 0a1.05 1.05 0 1 0 -2.1 0M339.69 39.32a1.05 1.05 0 1 0 2.1 0a1.05 1.05 0 1 0 -2.1 0M339.23 41.3a1.05 1.05 0 1 0 2.1 0a1.05 1.05 0 1 0 -2.1 0M338.16 38.75a1.05 1.05 0 1 0 2.1 0a1.05 1.05 0 1 0 -2.1 0M339.1 35.36a1.05 1.05 0 1 0 2.1 0a1.05 1.05 0 1 0 -2.1 0M339.81 37.21a1.05 1.05 0 1 0 2.1 0a1.05 1.05 0 1 0 -2.1 0M339.25 38.01a1.05 1.05 0 1 0 2.1 0a1.05 1.05 0 1 0 -2.1 0M338.97 36.85a1.05 1.05 0 1 0 2.1 0a1.05 1.05 0 1 0 -2.1 0M336.41 40.56a1.05 1.05 0 1 0 2.1 0a1.05 1.05 0 1 0 -2.1 0M337.6 38.73a1.05 1.05 0 1 0 2.1 0a1.05 1.05 0 1 0 -2.1 0M338.04 42.52a1.05 1.05 0 1 0 2.1 0a1.05 1.05 0 1 0 -2.1 0M339.38 36.93a1.05 1.05 0 1 0 2.1 0a1.05 1.05 0 1 0 -2.1 0M338.28 37.2a1.05 1.05 0 1 0 2.1 0a1.05 1.05 0 1 0 -2.1 0M338.47 41.89a1.05 1.05 0 1 0 2.1 0a1.05 1.05 0 1 0 -2.1 0M340.61 35.15a1.05 1.05 0 1 0 2.1 0a1.05 1.05 0 1 0 -2.1 0M337.88 40.47a1.05 1.05 0 1 0 2.1 0a1.05 1.05 0 1 0 -2.1 0M340.86 37.44a1.05 1.05 0 1 0 2.1 0a1.05 1.05 0 1 0 -2.1 0M339.13 39.59a1.05 1.05 0 1 0 2.1 0a1.05 1.05 0 1 0 -2.1 0M340.76 34.36a1.05 1.05 0 1 0 2.1 0a1.05 1.05 0 1 0 -2.1 0M341.36 34.8a1.05 1.05 0 1 0 2.1 0a1.05 1.05 0 1 0 -2.1 0M342.62 37.31a1.05 1.05 0 1 0 2.1 0a1.05 1.05 0 1 0 -2.1 0M338.31 43.04a1.05 1.05 0 1 0 2.1 0a1.05 1.05 0 1 0 -2.1 0M339.25 35.43a1.05 1.05 0 1 0 2.1 0a1.05 1.05 0 1 0 -2.1 0M337.49 42.62a1.05 1.05 0 1 0 2.1 0a1.05 1.05 0 1 0 -2.1 0M335.55 42.34a1.05 1.05 0 1 0 2.1 0a1.05 1.05 0 1 0 -2.1 0M343.04 35.54a1.05 1.05 0 1 0 2.1 0a1.05 1.05 0 1 0 -2.1 0M342.02 36.67a1.05 1.05 0 1 0 2.1 0a1.05 1.05 0 1 0 -2.1 0M335.83 43.34a1.05 1.05 0 1 0 2.1 0a1.05 1.05 0 1 0 -2.1 0M336.93 41.26a1.05 1.05 0 1 0 2.1 0a1.05 1.05 0 1 0 -2.1 0M337.6 37.93a1.05 1.05 0 1 0 2.1 0a1.05 1.05 0 1 0 -2.1 0M337.35 38.62a1.05 1.05 0 1 0 2.1 0a1.05 1.05 0 1 0 -2.1 0M339.08 36.06a1.05 1.05 0 1 0 2.1 0a1.05 1.05 0 1 0 -2.1 0M340.87 36.62a1.05 1.05 0 1 0 2.1 0a1.05 1.05 0 1 0 -2.1 0M335.77 42.17a1.05 1.05 0 1 0 2.1 0a1.05 1.05 0 1 0 -2.1 0M340.79 40.2a1.05 1.05 0 1 0 2.1 0a1.05 1.05 0 1 0 -2.1 0M336.93 39.49a1.05 1.05 0 1 0 2.1 0a1.05 1.05 0 1 0 -2.1 0M339.91 36a1.05 1.05 0 1 0 2.1 0a1.05 1.05 0 1 0 -2.1 0M335.88 41.29a1.05 1.05 0 1 0 2.1 0a1.05 1.05 0 1 0 -2.1 0M338.85 38.54a1.05 1.05 0 1 0 2.1 0a1.05 1.05 0 1 0 -2.1 0M339.01 37.94a1.05 1.05 0 1 0 2.1 0a1.05 1.05 0 1 0 -2.1 0M340.43 37.56a1.05 1.05 0 1 0 2.1 0a1.05 1.05 0 1 0 -2.1 0M340.26 39a1.05 1.05 0 1 0 2.1 0a1.05 1.05 0 1 0 -2.1 0M340.32 36.51a1.05 1.05 0 1 0 2.1 0a1.05 1.05 0 1 0 -2.1 0M337.51 40.4a1.05 1.05 0 1 0 2.1 0a1.05 1.05 0 1 0 -2.1 0M342.11 34.03a1.05 1.05 0 1 0 2.1 0a1.05 1.05 0 1 0 -2.1 0M337.96 39.73a1.05 1.05 0 1 0 2.1 0a1.05 1.05 0 1 0 -2.1 0M341.25 34.08a1.05 1.05 0 1 0 2.1 0a1.05 1.05 0 1 0 -2.1 0M339.46 37.47a1.05 1.05 0 1 0 2.1 0a1.05 1.05 0 1 0 -2.1 0M336.07 40.48a1.05 1.05 0 1 0 2.1 0a1.05 1.05 0 1 0 -2.1 0M342.83 37.41a1.05 1.05 0 1 0 2.1 0a1.05 1.05 0 1 0 -2.1 0M336.67 43.8a1.05 1.05 0 1 0 2.1 0a1.05 1.05 0 1 0 -2.1 0M338.47 41.02a1.05 1.05 0 1 0 2.1 0a1.05 1.05 0 1 0 -2.1 0M338.77 37.88a1.05 1.05 0 1 0 2.1 0a1.05 1.05 0 1 0 -2.1 0M342.34 37.6a1.05 1.05 0 1 0 2.1 0a1.05 1.05 0 1 0 -2.1 0M339.59 39.08a1.05 1.05 0 1 0 2.1 0a1.05 1.05 0 1 0 -2.1 0M341.06 38.39a1.05 1.05 0 1 0 2.1 0a1.05 1.05 0 1 0 -2.1 0M339.12 40.7a1.05 1.05 0 1 0 2.1 0a1.05 1.05 0 1 0 -2.1 0M338.49 40a1.05 1.05 0 1 0 2.1 0a1.05 1.05 0 1 0 -2.1 0M340.67 38.35a1.05 1.05 0 1 0 2.1 0a1.05 1.05 0 1 0 -2.1 0M338.38 40.99a1.05 1.05 0 1 0 2.1 0a1.05 1.05 0 1 0 -2.1 0M338.36 37.65a1.05 1.05 0 1 0 2.1 0a1.05 1.05 0 1 0 -2.1 0M339.02 37.11a1.05 1.05 0 1 0 2.1 0a1.05 1.05 0 1 0 -2.1 0M342 34.9a1.05 1.05 0 1 0 2.1 0a1.05 1.05 0 1 0 -2.1 0M340.84 36.84a1.05 1.05 0 1 0 2.1 0a1.05 1.05 0 1 0 -2.1 0M337.87 38.29a1.05 1.05 0 1 0 2.1 0a1.05 1.05 0 1 0 -2.1 0M339.45 38.7a1.05 1.05 0 1 0 2.1 0a1.05 1.05 0 1 0 -2.1 0M340.6 39.58a1.05 1.05 0 1 0 2.1 0a1.05 1.05 0 1 0 -2.1 0M335.95 40.42a1.05 1.05 0 1 0 2.1 0a1.05 1.05 0 1 0 -2.1 0M341.32 35.7a1.05 1.05 0 1 0 2.1 0a1.05 1.05 0 1 0 -2.1 0M341.47 38.54a1.05 1.05 0 1 0 2.1 0a1.05 1.05 0 1 0 -2.1 0M335.38 42.92a1.05 1.05 0 1 0 2.1 0a1.05 1.05 0 1 0 -2.1 0M342.82 36.67a1.05 1.05 0 1 0 2.1 0a1.05 1.05 0 1 0 -2.1 0M335.77 40.09a1.05 1.05 0 1 0 2.1 0a1.05 1.05 0 1 0 -2.1 0M339.33 41.19a1.05 1.05 0 1 0 2.1 0a1.05 1.05 0 1 0 -2.1 0M339.12 38.55a1.05 1.05 0 1 0 2.1 0a1.05 1.05 0 1 0 -2.1 0M335.76 42.53a1.05 1.05 0 1 0 2.1 0a1.05 1.05 0 1 0 -2.1 0M338.7 39.32a1.05 1.05 0 1 0 2.1 0a1.05 1.05 0 1 0 -2.1 0M342.34 36.82a1.05 1.05 0 1 0 2.1 0a1.05 1.05 0 1 0 -2.1 0M337.34 42.8a1.05 1.05 0 1 0 2.1 0a1.05 1.05 0 1 0 -2.1 0M338.27 40.24a1.05 1.05 0 1 0 2.1 0a1.05 1.05 0 1 0 -2.1 0M336.74 41.03a1.05 1.05 0 1 0 2.1 0a1.05 1.05 0 1 0 -2.1 0M337.52 40.07a1.05 1.05 0 1 0 2.1 0a1.05 1.05 0 1 0 -2.1 0M337.89 36.89a1.05 1.05 0 1 0 2.1 0a1.05 1.05 0 1 0 -2.1 0M337.7 42.64a1.05 1.05 0 1 0 2.1 0a1.05 1.05 0 1 0 -2.1 0M336.82 40.53a1.05 1.05 0 1 0 2.1 0a1.05 1.05 0 1 0 -2.1 0M338.62 42.38a1.05 1.05 0 1 0 2.1 0a1.05 1.05 0 1 0 -2.1 0M336.74 43.23a1.05 1.05 0 1 0 2.1 0a1.05 1.05 0 1 0 -2.1 0M340.55 34.56a1.05 1.05 0 1 0 2.1 0a1.05 1.05 0 1 0 -2.1 0M339.76 40.52a1.05 1.05 0 1 0 2.1 0a1.05 1.05 0 1 0 -2.1 0M339.49 37.38a1.05 1.05 0 1 0 2.1 0a1.05 1.05 0 1 0 -2.1 0M335.63 43.1a1.05 1.05 0 1 0 2.1 0a1.05 1.05 0 1 0 -2.1 0M339.04 40.81a1.05 1.05 0 1 0 2.1 0a1.05 1.05 0 1 0 -2.1 0M337.3 40.59a1.05 1.05 0 1 0 2.1 0a1.05 1.05 0 1 0 -2.1 0M341.46 38.42a1.05 1.05 0 1 0 2.1 0a1.05 1.05 0 1 0 -2.1 0M337.63 39.97a1.05 1.05 0 1 0 2.1 0a1.05 1.05 0 1 0 -2.1 0M341.41 39.42a1.05 1.05 0 1 0 2.1 0a1.05 1.05 0 1 0 -2.1 0M340.17 36.49a1.05 1.05 0 1 0 2.1 0a1.05 1.05 0 1 0 -2.1 0M339.66 36.8a1.05 1.05 0 1 0 2.1 0a1.05 1.05 0 1 0 -2.1 0M337.07 43.78a1.05 1.05 0 1 0 2.1 0a1.05 1.05 0 1 0 -2.1 0M338.38 40.13a1.05 1.05 0 1 0 2.1 0a1.05 1.05 0 1 0 -2.1 0M340.73 40.14a1.05 1.05 0 1 0 2.1 0a1.05 1.05 0 1 0 -2.1 0M339.67 37.9a1.05 1.05 0 1 0 2.1 0a1.05 1.05 0 1 0 -2.1 0M340.23 40.28a1.05 1.05 0 1 0 2.1 0a1.05 1.05 0 1 0 -2.1 0M338.43 39.64a1.05 1.05 0 1 0 2.1 0a1.05 1.05 0 1 0 -2.1 0M341.73 34.98a1.05 1.05 0 1 0 2.1 0a1.05 1.05 0 1 0 -2.1 0M339.13 39.02a1.05 1.05 0 1 0 2.1 0a1.05 1.05 0 1 0 -2.1 0M342.18 36.3a1.05 1.05 0 1 0 2.1 0a1.05 1.05 0 1 0 -2.1 0M340.49 36.3a1.05 1.05 0 1 0 2.1 0a1.05 1.05 0 1 0 -2.1 0M336.55 43.84a1.05 1.05 0 1 0 2.1 0a1.05 1.05 0 1 0 -2.1 0M340.61 39.19a1.05 1.05 0 1 0 2.1 0a1.05 1.05 0 1 0 -2.1 0M339.57 35.16a1.05 1.05 0 1 0 2.1 0a1.05 1.05 0 1 0 -2.1 0M337.19 43.61a1.05 1.05 0 1 0 2.1 0a1.05 1.05 0 1 0 -2.1 0M337.84 36.94a1.05 1.05 0 1 0 2.1 0a1.05 1.05 0 1 0 -2.1 0M341.3 37.8a1.05 1.05 0 1 0 2.1 0a1.05 1.05 0 1 0 -2.1 0M337.25 37.73a1.05 1.05 0 1 0 2.1 0a1.05 1.05 0 1 0 -2.1 0M340.2 36.82a1.05 1.05 0 1 0 2.1 0a1.05 1.05 0 1 0 -2.1 0M342.92 36.98a1.05 1.05 0 1 0 2.1 0a1.05 1.05 0 1 0 -2.1 0M335.93 41.8a1.05 1.05 0 1 0 2.1 0a1.05 1.05 0 1 0 -2.1 0M337.31 37.24a1.05 1.05 0 1 0 2.1 0a1.05 1.05 0 1 0 -2.1 0M336.69 40.62a1.05 1.05 0 1 0 2.1 0a1.05 1.05 0 1 0 -2.1 0M338.81 42.33a1.05 1.05 0 1 0 2.1 0a1.05 1.05 0 1 0 -2.1 0M339.6 38.4a1.05 1.05 0 1 0 2.1 0a1.05 1.05 0 1 0 -2.1 0M336.78 38.31a1.05 1.05 0 1 0 2.1 0a1.05 1.05 0 1 0 -2.1 0M339.2 41.88a1.05 1.05 0 1 0 2.1 0a1.05 1.05 0 1 0 -2.1 0M342.75 37.08a1.05 1.05 0 1 0 2.1 0a1.05 1.05 0 1 0 -2.1 0M336.21 40.33a1.05 1.05 0 1 0 2.1 0a1.05 1.05 0 1 0 -2.1 0M336.06 43.3a1.05 1.05 0 1 0 2.1 0a1.05 1.05 0 1 0 -2.1 0M338.1 40a1.05 1.05 0 1 0 2.1 0a1.05 1.05 0 1 0 -2.1 0M339.4 39.26a1.05 1.05 0 1 0 2.1 0a1.05 1.05 0 1 0 -2.1 0M339.38 41.09a1.05 1.05 0 1 0 2.1 0a1.05 1.05 0 1 0 -2.1 0M337.76 37.01a1.05 1.05 0 1 0 2.1 0a1.05 1.05 0 1 0 -2.1 0M337.94 40.78a1.05 1.05 0 1 0 2.1 0a1.05 1.05 0 1 0 -2.1 0M338.75 39.97a1.05 1.05 0 1 0 2.1 0a1.05 1.05 0 1 0 -2.1 0M336.97 39.91a1.05 1.05 0 1 0 2.1 0a1.05 1.05 0 1 0 -2.1 0M340.46 35.44a1.05 1.05 0 1 0 2.1 0a1.05 1.05 0 1 0 -2.1 0M341.88 37.79a1.05 1.05 0 1 0 2.1 0a1.05 1.05 0 1 0 -2.1 0M339.63 37.88a1.05 1.05 0 1 0 2.1 0a1.05 1.05 0 1 0 -2.1 0M342.07 34.57a1.05 1.05 0 1 0 2.1 0a1.05 1.05 0 1 0 -2.1 0M339.23 39.95a1.05 1.05 0 1 0 2.1 0a1.05 1.05 0 1 0 -2.1 0M336.44 43.29a1.05 1.05 0 1 0 2.1 0a1.05 1.05 0 1 0 -2.1 0M340.79 39.22a1.05 1.05 0 1 0 2.1 0a1.05 1.05 0 1 0 -2.1 0M339.83 39.44a1.05 1.05 0 1 0 2.1 0a1.05 1.05 0 1 0 -2.1 0M339.59 36.61a1.05 1.05 0 1 0 2.1 0a1.05 1.05 0 1 0 -2.1 0M338.41 42.69a1.05 1.05 0 1 0 2.1 0a1.05 1.05 0 1 0 -2.1 0M335.44 40.51a1.05 1.05 0 1 0 2.1 0a1.05 1.05 0 1 0 -2.1 0M337.36 43.63a1.05 1.05 0 1 0 2.1 0a1.05 1.05 0 1 0 -2.1 0M342.07 34.32a1.05 1.05 0 1 0 2.1 0a1.05 1.05 0 1 0 -2.1 0M339.33 36.65a1.05 1.05 0 1 0 2.1 0a1.05 1.05 0 1 0 -2.1 0M342.82 35.57a1.05 1.05 0 1 0 2.1 0a1.05 1.05 0 1 0 -2.1 0M338.73 35.65a1.05 1.05 0 1 0 2.1 0a1.05 1.05 0 1 0 -2.1 0M340.75 35.06a1.05 1.05 0 1 0 2.1 0a1.05 1.05 0 1 0 -2.1 0M337.55 41.71a1.05 1.05 0 1 0 2.1 0a1.05 1.05 0 1 0 -2.1 0M338.08 40.82a1.05 1.05 0 1 0 2.1 0a1.05 1.05 0 1 0 -2.1 0M339.24 41.61a1.05 1.05 0 1 0 2.1 0a1.05 1.05 0 1 0 -2.1 0M337.83 43.14a1.05 1.05 0 1 0 2.1 0a1.05 1.05 0 1 0 -2.1 0M342.18 33.97a1.05 1.05 0 1 0 2.1 0a1.05 1.05 0 1 0 -2.1 0M335.3 43.01a1.05 1.05 0 1 0 2.1 0a1.05 1.05 0 1 0 -2.1 0M339.06 36.72a1.05 1.05 0 1 0 2.1 0a1.05 1.05 0 1 0 -2.1 0M337.86 37.24a1.05 1.05 0 1 0 2.1 0a1.05 1.05 0 1 0 -2.1 0M339.8 39.93a1.05 1.05 0 1 0 2.1 0a1.05 1.05 0 1 0 -2.1 0M339.36 40.11a1.05 1.05 0 1 0 2.1 0a1.05 1.05 0 1 0 -2.1 0M338.5 38.02a1.05 1.05 0 1 0 2.1 0a1.05 1.05 0 1 0 -2.1 0M339.05 41.11a1.05 1.05 0 1 0 2.1 0a1.05 1.05 0 1 0 -2.1 0M340.84 40.23a1.05 1.05 0 1 0 2.1 0a1.05 1.05 0 1 0 -2.1 0M336.15 42.75a1.05 1.05 0 1 0 2.1 0a1.05 1.05 0 1 0 -2.1 0M342.17 35.71a1.05 1.05 0 1 0 2.1 0a1.05 1.05 0 1 0 -2.1 0M337.8 37.27a1.05 1.05 0 1 0 2.1 0a1.05 1.05 0 1 0 -2.1 0M335.63 41.66a1.05 1.05 0 1 0 2.1 0a1.05 1.05 0 1 0 -2.1 0M336.17 43.68a1.05 1.05 0 1 0 2.1 0a1.05 1.05 0 1 0 -2.1 0M341.9 33.95a1.05 1.05 0 1 0 2.1 0a1.05 1.05 0 1 0 -2.1 0M342.98 35.11a1.05 1.05 0 1 0 2.1 0a1.05 1.05 0 1 0 -2.1 0M335.23 42.71a1.05 1.05 0 1 0 2.1 0a1.05 1.05 0 1 0 -2.1 0M337.78 38.62a1.05 1.05 0 1 0 2.1 0a1.05 1.05 0 1 0 -2.1 0M338.86 39.22a1.05 1.05 0 1 0 2.1 0a1.05 1.05 0 1 0 -2.1 0M338.88 39.64a1.05 1.05 0 1 0 2.1 0a1.05 1.05 0 1 0 -2.1 0M339.58 40.64a1.05 1.05 0 1 0 2.1 0a1.05 1.05 0 1 0 -2.1 0M341.1 38.39a1.05 1.05 0 1 0 2.1 0a1.05 1.05 0 1 0 -2.1 0M340.62 37.59a1.05 1.05 0 1 0 2.1 0a1.05 1.05 0 1 0 -2.1 0M337.63 40.4a1.05 1.05 0 1 0 2.1 0a1.05 1.05 0 1 0 -2.1 0M339.09 38.07a1.05 1.05 0 1 0 2.1 0a1.05 1.05 0 1 0 -2.1 0M339.1 38.33a1.05 1.05 0 1 0 2.1 0a1.05 1.05 0 1 0 -2.1 0M338.15 38.58a1.05 1.05 0 1 0 2.1 0a1.05 1.05 0 1 0 -2.1 0M337.92 38.45a1.05 1.05 0 1 0 2.1 0a1.05 1.05 0 1 0 -2.1 0M341.01 37.06a1.05 1.05 0 1 0 2.1 0a1.05 1.05 0 1 0 -2.1 0M340.88 38.27a1.05 1.05 0 1 0 2.1 0a1.05 1.05 0 1 0 -2.1 0M340.13 39.82a1.05 1.05 0 1 0 2.1 0a1.05 1.05 0 1 0 -2.1 0M336.86 40.81a1.05 1.05 0 1 0 2.1 0a1.05 1.05 0 1 0 -2.1 0M341.17 39.62a1.05 1.05 0 1 0 2.1 0a1.05 1.05 0 1 0 -2.1 0M341.66 37.3a1.05 1.05 0 1 0 2.1 0a1.05 1.05 0 1 0 -2.1 0M339.93 36.89a1.05 1.05 0 1 0 2.1 0a1.05 1.05 0 1 0 -2.1 0M338.75 38.26a1.05 1.05 0 1 0 2.1 0a1.05 1.05 0 1 0 -2.1 0M338.48 37.47a1.05 1.05 0 1 0 2.1 0a1.05 1.05 0 1 0 -2.1 0M338.71 38.6a1.05 1.05 0 1 0 2.1 0a1.05 1.05 0 1 0 -2.1 0M339.51 37.31a1.05 1.05 0 1 0 2.1 0a1.05 1.05 0 1 0 -2.1 0M340.41 38.26a1.05 1.05 0 1 0 2.1 0a1.05 1.05 0 1 0 -2.1 0M340.87 38.24a1.05 1.05 0 1 0 2.1 0a1.05 1.05 0 1 0 -2.1 0M338.55 39.96a1.05 1.05 0 1 0 2.1 0a1.05 1.05 0 1 0 -2.1 0M340.36 39.46a1.05 1.05 0 1 0 2.1 0a1.05 1.05 0 1 0 -2.1 0M339.28 39.38a1.05 1.05 0 1 0 2.1 0a1.05 1.05 0 1 0 -2.1 0M337.68 40.31a1.05 1.05 0 1 0 2.1 0a1.05 1.05 0 1 0 -2.1 0M338.64 39.57a1.05 1.05 0 1 0 2.1 0a1.05 1.05 0 1 0 -2.1 0M338.73 39.41a1.05 1.05 0 1 0 2.1 0a1.05 1.05 0 1 0 -2.1 0M338.84 37.42a1.05 1.05 0 1 0 2.1 0a1.05 1.05 0 1 0 -2.1 0M339.83 36.9a1.05 1.05 0 1 0 2.1 0a1.05 1.05 0 1 0 -2.1 0M342.98 36.08a1.05 1.05 0 1 0 2.1 0a1.05 1.05 0 1 0 -2.1 0M340.38 37.54a1.05 1.05 0 1 0 2.1 0a1.05 1.05 0 1 0 -2.1 0M341.38 36.6a1.05 1.05 0 1 0 2.1 0a1.05 1.05 0 1 0 -2.1 0M338.26 41.46a1.05 1.05 0 1 0 2.1 0a1.05 1.05 0 1 0 -2.1 0M337.57 36.37a1.05 1.05 0 1 0 2.1 0a1.05 1.05 0 1 0 -2.1 0M338.73 42.13a1.05 1.05 0 1 0 2.1 0a1.05 1.05 0 1 0 -2.1 0M339.25 37.46a1.05 1.05 0 1 0 2.1 0a1.05 1.05 0 1 0 -2.1 0M336.43 40.52a1.05 1.05 0 1 0 2.1 0a1.05 1.05 0 1 0 -2.1 0M339.19 34.48a1.05 1.05 0 1 0 2.1 0a1.05 1.05 0 1 0 -2.1 0M342.36 39.36a1.05 1.05 0 1 0 2.1 0a1.05 1.05 0 1 0 -2.1 0M338.81 37.62a1.05 1.05 0 1 0 2.1 0a1.05 1.05 0 1 0 -2.1 0M340.71 38.1a1.05 1.05 0 1 0 2.1 0a1.05 1.05 0 1 0 -2.1 0M339.78 37.76a1.05 1.05 0 1 0 2.1 0a1.05 1.05 0 1 0 -2.1 0M338.16 41.28a1.05 1.05 0 1 0 2.1 0a1.05 1.05 0 1 0 -2.1 0M340.75 37.61a1.05 1.05 0 1 0 2.1 0a1.05 1.05 0 1 0 -2.1 0M340.23 37.8a1.05 1.05 0 1 0 2.1 0a1.05 1.05 0 1 0 -2.1 0M343.77 39.55a1.05 1.05 0 1 0 2.1 0a1.05 1.05 0 1 0 -2.1 0M339.11 39.54a1.05 1.05 0 1 0 2.1 0a1.05 1.05 0 1 0 -2.1 0M336.46 39.01a1.05 1.05 0 1 0 2.1 0a1.05 1.05 0 1 0 -2.1 0M340.82 39.46a1.05 1.05 0 1 0 2.1 0a1.05 1.05 0 1 0 -2.1 0M337.94 39.64a1.05 1.05 0 1 0 2.1 0a1.05 1.05 0 1 0 -2.1 0M337.53 38.32a1.05 1.05 0 1 0 2.1 0a1.05 1.05 0 1 0 -2.1 0M337.9 40.76a1.05 1.05 0 1 0 2.1 0a1.05 1.05 0 1 0 -2.1 0M338.75 39.05a1.05 1.05 0 1 0 2.1 0a1.05 1.05 0 1 0 -2.1 0M339.66 40.93a1.05 1.05 0 1 0 2.1 0a1.05 1.05 0 1 0 -2.1 0M341.37 34.41a1.05 1.05 0 1 0 2.1 0a1.05 1.05 0 1 0 -2.1 0M338.88 41.73a1.05 1.05 0 1 0 2.1 0a1.05 1.05 0 1 0 -2.1 0M343.06 37.7a1.05 1.05 0 1 0 2.1 0a1.05 1.05 0 1 0 -2.1 0M338.39 39.79a1.05 1.05 0 1 0 2.1 0a1.05 1.05 0 1 0 -2.1 0" fill="#EE312C" stroke="none"/>
<path d="M333.4 30.3h1.8M334.3 29.4v1.8M337.3 46.5h1.8M338.2 45.6v1.8M335.6 47.5h1.8M336.5 46.6v1.8M340.3 45.7h1.8M341.2 44.8v1.8M344.3 33.5h1.8M345.2 32.6v1.8" fill="none" stroke="#EE312C" stroke-width="0.6"/>
</svg>
<svg x="399" y="10.5" width="239" height="185.4" viewBox="399 10.5 239 185.4" overflow="hidden">
<path d="M408.91 91.29l1.8 1.8M408.91 93.09l1.8 -1.8M411.78 86.35l1.8 1.8M411.78 88.15l1.8 -1.8M421 91.3l1.8 1.8M421 93.1l1.8 -1.8M408.51 88.53l1.8 1.8M408.51 90.33l1.8 -1.8M428.76 84.85l1.8 1.8M428.76 86.65l1.8 -1.8M415.4 94.82l1.8 1.8M415.4 96.62l1.8 -1.8M425.65 90.71l1.8 1.8M425.65 92.51l1.8 -1.8M414.19 91.18l1.8 1.8M414.19 92.98l1.8 -1.8M414.76 91.12l1.8 1.8M414.76 92.92l1.8 -1.8M422.42 90.52l1.8 1.8M422.42 92.32l1.8 -1.8M422.94 93.23l1.8 1.8M422.94 95.03l1.8 -1.8M413.78 89.73l1.8 1.8M413.78 91.53l1.8 -1.8M413.15 91.16l1.8 1.8M413.15 92.96l1.8 -1.8M409.61 88.05l1.8 1.8M409.61 89.85l1.8 -1.8M407.59 91.38l1.8 1.8M407.59 93.18l1.8 -1.8M413.43 93.16l1.8 1.8M413.43 94.96l1.8 -1.8M421.08 91.38l1.8 1.8M421.08 93.18l1.8 -1.8M414.01 86.68l1.8 1.8M414.01 88.48l1.8 -1.8M412.69 90.36l1.8 1.8M412.69 92.16l1.8 -1.8M417.18 89.88l1.8 1.8M417.18 91.68l1.8 -1.8M417.66 93.53l1.8 1.8M417.66 95.33l1.8 -1.8M422.99 87.57l1.8 1.8M422.99 89.37l1.8 -1.8M420.67 88.29l1.8 1.8M420.67 90.09l1.8 -1.8M418.7 90.79l1.8 1.8M418.7 92.59l1.8 -1.8M421.79 92.09l1.8 1.8M421.79 93.89l1.8 -1.8M412.3 90.04l1.8 1.8M412.3 91.84l1.8 -1.8M419.51 89.83l1.8 1.8M419.51 91.63l1.8 -1.8M424.69 87.14l1.8 1.8M424.69 88.94l1.8 -1.8M420.01 90.71l1.8 1.8M420.01 92.51l1.8 -1.8M415.42 90.03l1.8 1.8M415.42 91.83l1.8 -1.8M416.38 90.95l1.8 1.8M416.38 92.75l1.8 -1.8M414.97 89.52l1.8 1.8M414.97 91.32l1.8 -1.8M429.06 89.24l1.8 1.8M429.06 91.04l1.8 -1.8M420.09 92.73l1.8 1.8M420.09 94.53l1.8 -1.8M413.57 92.11l1.8 1.8M413.57 93.91l1.8 -1.8M414.75 84.56l1.8 1.8M414.75 86.36l1.8 -1.8M417.62 83.43l1.8 1.8M417.62 85.23l1.8 -1.8M417.02 91.91l1.8 1.8M417.02 93.71l1.8 -1.8M425.65 91.78l1.8 1.8M425.65 93.58l1.8 -1.8M422.4 91.73l1.8 1.8M422.4 93.53l1.8 -1.8M417.61 92.68l1.8 1.8M417.61 94.48l1.8 -1.8M415.88 90.94l1.8 1.8M415.88 92.74l1.8 -1.8M414.34 89.66l1.8 1.8M414.34 91.46l1.8 -1.8M419.3 85.97l1.8 1.8M419.3 87.77l1.8 -1.8M414.62 88.07l1.8 1.8M414.62 89.87l1.8 -1.8M417.21 94.69l1.8 1.8M417.21 96.49l1.8 -1.8M413.38 89.84l1.8 1.8M413.38 91.64l1.8 -1.8M416.02 88.53l1.8 1.8M416.02 90.33l1.8 -1.8M414.1 92.4l1.8 1.8M414.1 94.2l1.8 -1.8M416.46 88.58l1.8 1.8M416.46 90.38l1.8 -1.8M412.08 88.31l1.8 1.8M412.08 90.11l1.8 -1.8M421.53 88.07l1.8 1.8M421.53 89.87l1.8 -1.8M408.62 88.11l1.8 1.8M408.62 89.91l1.8 -1.8M417.65 91.08l1.8 1.8M417.65 92.88l1.8 -1.8M417.37 92.07l1.8 1.8M417.37 93.87l1.8 -1.8M411.59 87.96l1.8 1.8M411.59 89.76l1.8 -1.8M415.83 90.33l1.8 1.8M415.83 92.13l1.8 -1.8M407.91 89.79l1.8 1.8M407.91 91.59l1.8 -1.8M410.01 92.29l1.8 1.8M410.01 94.09l1.8 -1.8M418.49 94.01l1.8 1.8M418.49 95.81l1.8 -1.8M426.23 91.3l1.8 1.8M426.23 93.1l1.8 -1.8M415.98 87.73l1.8 1.8M415.98 89.53l1.8 -1.8M414.45 92.5l1.8 1.8M414.45 94.3l1.8 -1.8M418.93 90.25l1.8 1.8M418.93 92.05l1.8 -1.8M411.01 89.55l1.8 1.8M411.01 91.35l1.8 -1.8M425.25 89.56l1.8 1.8M425.25 91.36l1.8 -1.8M423.18 84.71l1.8 1.8M423.18 86.51l1.8 -1.8M423.68 87.83l1.8 1.8M423.68 89.63l1.8 -1.8M410.91 89.3l1.8 1.8M410.91 91.1l1.8 -1.8M413.57 93.82l1.8 1.8M413.57 95.62l1.8 -1.8M415.93 89.63l1.8 1.8M415.93 91.43l1.8 -1.8M414.14 91.88l1.8 1.8M414.14 93.68l1.8 -1.8M422.72 92.18l1.8 1.8M422.72 93.98l1.8 -1.8M410.34 89.58l1.8 1.8M410.34 91.38l1.8 -1.8M419.67 85.61l1.8 1.8M419.67 87.41l1.8 -1.8M406.6 87.1l1.8 1.8M406.6 88.9l1.8 -1.8M407.6 91.1l1.8 1.8M407.6 92.9l1.8 -1.8M425.1 93.1l1.8 1.8M425.1 94.9l1.8 -1.8" fill="none" stroke="#5CC8D4" stroke-width="0.55"/>
<path d="M437.85 94.27a1 1 0 1 0 2 0a1 1 0 1 0 -2 0M446.81 93.25a1 1 0 1 0 2 0a1 1 0 1 0 -2 0M443.25 94.13a1 1 0 1 0 2 0a1 1 0 1 0 -2 0M440.55 87.85a1 1 0 1 0 2 0a1 1 0 1 0 -2 0M448.81 93.74a1 1 0 1 0 2 0a1 1 0 1 0 -2 0M438.15 90.29a1 1 0 1 0 2 0a1 1 0 1 0 -2 0M451.51 92.96a1 1 0 1 0 2 0a1 1 0 1 0 -2 0M443.66 91.28a1 1 0 1 0 2 0a1 1 0 1 0 -2 0M440.01 92.15a1 1 0 1 0 2 0a1 1 0 1 0 -2 0M444.59 87.85a1 1 0 1 0 2 0a1 1 0 1 0 -2 0M448.5 92.14a1 1 0 1 0 2 0a1 1 0 1 0 -2 0M442.76 94.41a1 1 0 1 0 2 0a1 1 0 1 0 -2 0M435.68 94a1 1 0 1 0 2 0a1 1 0 1 0 -2 0M432.19 92.66a1 1 0 1 0 2 0a1 1 0 1 0 -2 0M434.21 94.53a1 1 0 1 0 2 0a1 1 0 1 0 -2 0M446.69 89.41a1 1 0 1 0 2 0a1 1 0 1 0 -2 0M440.33 90.46a1 1 0 1 0 2 0a1 1 0 1 0 -2 0M430.78 91.95a1 1 0 1 0 2 0a1 1 0 1 0 -2 0M444.25 94.75a1 1 0 1 0 2 0a1 1 0 1 0 -2 0M435.59 91.53a1 1 0 1 0 2 0a1 1 0 1 0 -2 0M446.67 92.06a1 1 0 1 0 2 0a1 1 0 1 0 -2 0M448.6 96.46a1 1 0 1 0 2 0a1 1 0 1 0 -2 0M441.69 90.34a1 1 0 1 0 2 0a1 1 0 1 0 -2 0M436.88 93.98a1 1 0 1 0 2 0a1 1 0 1 0 -2 0M437.38 92.34a1 1 0 1 0 2 0a1 1 0 1 0 -2 0M441.13 88.63a1 1 0 1 0 2 0a1 1 0 1 0 -2 0M436.18 91.26a1 1 0 1 0 2 0a1 1 0 1 0 -2 0M433.8 92.7a1 1 0 1 0 2 0a1 1 0 1 0 -2 0M436.46 91.14a1 1 0 1 0 2 0a1 1 0 1 0 -2 0M446.55 95.49a1 1 0 1 0 2 0a1 1 0 1 0 -2 0M437.38 90.89a1 1 0 1 0 2 0a1 1 0 1 0 -2 0M429.97 88a1 1 0 1 0 2 0a1 1 0 1 0 -2 0M447.18 92.2a1 1 0 1 0 2 0a1 1 0 1 0 -2 0M433.88 89.05a1 1 0 1 0 2 0a1 1 0 1 0 -2 0M445.33 91.44a1 1 0 1 0 2 0a1 1 0 1 0 -2 0M441.91 94.26a1 1 0 1 0 2 0a1 1 0 1 0 -2 0M434.02 88.91a1 1 0 1 0 2 0a1 1 0 1 0 -2 0M437.89 93.3a1 1 0 1 0 2 0a1 1 0 1 0 -2 0M437.26 91.85a1 1 0 1 0 2 0a1 1 0 1 0 -2 0M440.76 89.98a1 1 0 1 0 2 0a1 1 0 1 0 -2 0M442.43 94.34a1 1 0 1 0 2 0a1 1 0 1 0 -2 0M432.33 90.24a1 1 0 1 0 2 0a1 1 0 1 0 -2 0M436.33 90.65a1 1 0 1 0 2 0a1 1 0 1 0 -2 0M437 94.57a1 1 0 1 0 2 0a1 1 0 1 0 -2 0M430.83 92.99a1 1 0 1 0 2 0a1 1 0 1 0 -2 0M436.28 90.48a1 1 0 1 0 2 0a1 1 0 1 0 -2 0M430.74 87.38a1 1 0 1 0 2 0a1 1 0 1 0 -2 0M438.96 95.35a1 1 0 1 0 2 0a1 1 0 1 0 -2 0M433.52 93.74a1 1 0 1 0 2 0a1 1 0 1 0 -2 0M431.69 93.18a1 1 0 1 0 2 0a1 1 0 1 0 -2 0M436.95 91.28a1 1 0 1 0 2 0a1 1 0 1 0 -2 0M430.63 90.9a1 1 0 1 0 2 0a1 1 0 1 0 -2 0M436.09 95.15a1 1 0 1 0 2 0a1 1 0 1 0 -2 0M442.13 93.13a1 1 0 1 0 2 0a1 1 0 1 0 -2 0M435.01 92.68a1 1 0 1 0 2 0a1 1 0 1 0 -2 0M442.88 95.17a1 1 0 1 0 2 0a1 1 0 1 0 -2 0M443.67 96.39a1 1 0 1 0 2 0a1 1 0 1 0 -2 0M437.41 90.03a1 1 0 1 0 2 0a1 1 0 1 0 -2 0M445.7 96.25a1 1 0 1 0 2 0a1 1 0 1 0 -2 0M443.69 92.21a1 1 0 1 0 2 0a1 1 0 1 0 -2 0M439.41 91.44a1 1 0 1 0 2 0a1 1 0 1 0 -2 0M436.78 92.17a1 1 0 1 0 2 0a1 1 0 1 0 -2 0M440.93 89.54a1 1 0 1 0 2 0a1 1 0 1 0 -2 0M441.38 92.53a1 1 0 1 0 2 0a1 1 0 1 0 -2 0M437.51 92.82a1 1 0 1 0 2 0a1 1 0 1 0 -2 0M436.6 92.82a1 1 0 1 0 2 0a1 1 0 1 0 -2 0M446.79 91.19a1 1 0 1 0 2 0a1 1 0 1 0 -2 0M443.24 90.83a1 1 0 1 0 2 0a1 1 0 1 0 -2 0M437.36 92.72a1 1 0 1 0 2 0a1 1 0 1 0 -2 0M435.31 94.53a1 1 0 1 0 2 0a1 1 0 1 0 -2 0M430.38 91.74a1 1 0 1 0 2 0a1 1 0 1 0 -2 0M438.68 92.4a1 1 0 1 0 2 0a1 1 0 1 0 -2 0M437.68 89.89a1 1 0 1 0 2 0a1 1 0 1 0 -2 0M438.83 95.29a1 1 0 1 0 2 0a1 1 0 1 0 -2 0M442.05 91.81a1 1 0 1 0 2 0a1 1 0 1 0 -2 0M431.67 90.07a1 1 0 1 0 2 0a1 1 0 1 0 -2 0M442.94 90.9a1 1 0 1 0 2 0a1 1 0 1 0 -2 0M436.88 97.41a1 1 0 1 0 2 0a1 1 0 1 0 -2 0M425.34 94.26a1 1 0 1 0 2 0a1 1 0 1 0 -2 0M425.54 89.08a1 1 0 1 0 2 0a1 1 0 1 0 -2 0M453.4 94.66a1 1 0 1 0 2 0a1 1 0 1 0 -2 0M441.77 93.99a1 1 0 1 0 2 0a1 1 0 1 0 -2 0M443.59 90.82a1 1 0 1 0 2 0a1 1 0 1 0 -2 0M430.98 90.28a1 1 0 1 0 2 0a1 1 0 1 0 -2 0M440.44 93.16a1 1 0 1 0 2 0a1 1 0 1 0 -2 0M444.29 91.99a1 1 0 1 0 2 0a1 1 0 1 0 -2 0M442.6 92.06a1 1 0 1 0 2 0a1 1 0 1 0 -2 0M432.28 90.89a1 1 0 1 0 2 0a1 1 0 1 0 -2 0M440.4 91.86a1 1 0 1 0 2 0a1 1 0 1 0 -2 0M435.45 92.01a1 1 0 1 0 2 0a1 1 0 1 0 -2 0M446.14 90.43a1 1 0 1 0 2 0a1 1 0 1 0 -2 0M424.65 92.22a1 1 0 1 0 2 0a1 1 0 1 0 -2 0M425.37 95.53a1 1 0 1 0 2 0a1 1 0 1 0 -2 0M434.68 92.14a1 1 0 1 0 2 0a1 1 0 1 0 -2 0M437.02 92.4a1 1 0 1 0 2 0a1 1 0 1 0 -2 0M439.87 94.71a1 1 0 1 0 2 0a1 1 0 1 0 -2 0M432.23 91.07a1 1 0 1 0 2 0a1 1 0 1 0 -2 0M435.8 91.45a1 1 0 1 0 2 0a1 1 0 1 0 -2 0M441.64 87.51a1 1 0 1 0 2 0a1 1 0 1 0 -2 0M426.23 92.06a1 1 0 1 0 2 0a1 1 0 1 0 -2 0M440.58 93.28a1 1 0 1 0 2 0a1 1 0 1 0 -2 0M443.68 95.65a1 1 0 1 0 2 0a1 1 0 1 0 -2 0M433 91.27a1 1 0 1 0 2 0a1 1 0 1 0 -2 0M439.72 93.34a1 1 0 1 0 2 0a1 1 0 1 0 -2 0M441.01 92.75a1 1 0 1 0 2 0a1 1 0 1 0 -2 0M432.77 97.36a1 1 0 1 0 2 0a1 1 0 1 0 -2 0M438.27 93.03a1 1 0 1 0 2 0a1 1 0 1 0 -2 0M432.88 92.83a1 1 0 1 0 2 0a1 1 0 1 0 -2 0M436.36 94.6a1 1 0 1 0 2 0a1 1 0 1 0 -2 0M443.56 90.73a1 1 0 1 0 2 0a1 1 0 1 0 -2 0M438.81 92.29a1 1 0 1 0 2 0a1 1 0 1 0 -2 0M440.16 95.34a1 1 0 1 0 2 0a1 1 0 1 0 -2 0M434.22 98.38a1 1 0 1 0 2 0a1 1 0 1 0 -2 0M433.7 88.86a1 1 0 1 0 2 0a1 1 0 1 0 -2 0M442.52 89.16a1 1 0 1 0 2 0a1 1 0 1 0 -2 0M465 89.4a1 1 0 1 0 2 0a1 1 0 1 0 -2 0M472.7 86.2a1 1 0 1 0 2 0a1 1 0 1 0 -2 0M470.5 90a1 1 0 1 0 2 0a1 1 0 1 0 -2 0M474 90.3a1 1 0 1 0 2 0a1 1 0 1 0 -2 0M451 91a1 1 0 1 0 2 0a1 1 0 1 0 -2 0M454 92a1 1 0 1 0 2 0a1 1 0 1 0 -2 0" fill="#5CB848" stroke="none"/>
<path d="M482.05 88a0.95 0.95 0 1 0 1.9 0a0.95 0.95 0 1 0 -1.9 0M486.05 88.5a0.95 0.95 0 1 0 1.9 0a0.95 0.95 0 1 0 -1.9 0M489.05 88.4a0.95 0.95 0 1 0 1.9 0a0.95 0.95 0 1 0 -1.9 0M493.65 87.8a0.95 0.95 0 1 0 1.9 0a0.95 0.95 0 1 0 -1.9 0M495.05 88a0.95 0.95 0 1 0 1.9 0a0.95 0.95 0 1 0 -1.9 0M486.05 92a0.95 0.95 0 1 0 1.9 0a0.95 0.95 0 1 0 -1.9 0M488.05 91.6a0.95 0.95 0 1 0 1.9 0a0.95 0.95 0 1 0 -1.9 0M496.05 93.2a0.95 0.95 0 1 0 1.9 0a0.95 0.95 0 1 0 -1.9 0M498.05 92.5a0.95 0.95 0 1 0 1.9 0a0.95 0.95 0 1 0 -1.9 0M499.05 101a0.95 0.95 0 1 0 1.9 0a0.95 0.95 0 1 0 -1.9 0M506.55 93.5a0.95 0.95 0 1 0 1.9 0a0.95 0.95 0 1 0 -1.9 0M510.05 94a0.95 0.95 0 1 0 1.9 0a0.95 0.95 0 1 0 -1.9 0M521.05 96.5a0.95 0.95 0 1 0 1.9 0a0.95 0.95 0 1 0 -1.9 0M523.05 92a0.95 0.95 0 1 0 1.9 0a0.95 0.95 0 1 0 -1.9 0M542.05 90a0.95 0.95 0 1 0 1.9 0a0.95 0.95 0 1 0 -1.9 0M504.05 90a0.95 0.95 0 1 0 1.9 0a0.95 0.95 0 1 0 -1.9 0M491.05 90a0.95 0.95 0 1 0 1.9 0a0.95 0.95 0 1 0 -1.9 0M525.14 89.73a0.95 0.95 0 1 0 1.9 0a0.95 0.95 0 1 0 -1.9 0M517.48 90.73a0.95 0.95 0 1 0 1.9 0a0.95 0.95 0 1 0 -1.9 0M519.81 86.9a0.95 0.95 0 1 0 1.9 0a0.95 0.95 0 1 0 -1.9 0M517.26 93.7a0.95 0.95 0 1 0 1.9 0a0.95 0.95 0 1 0 -1.9 0M520.05 89.63a0.95 0.95 0 1 0 1.9 0a0.95 0.95 0 1 0 -1.9 0M514.55 94.05a0.95 0.95 0 1 0 1.9 0a0.95 0.95 0 1 0 -1.9 0M522.14 88.06a0.95 0.95 0 1 0 1.9 0a0.95 0.95 0 1 0 -1.9 0M519.17 87.44a0.95 0.95 0 1 0 1.9 0a0.95 0.95 0 1 0 -1.9 0M525.32 91.16a0.95 0.95 0 1 0 1.9 0a0.95 0.95 0 1 0 -1.9 0M516.06 87.91a0.95 0.95 0 1 0 1.9 0a0.95 0.95 0 1 0 -1.9 0M517.15 89.22a0.95 0.95 0 1 0 1.9 0a0.95 0.95 0 1 0 -1.9 0M529.54 88.13a0.95 0.95 0 1 0 1.9 0a0.95 0.95 0 1 0 -1.9 0M521 87.91a0.95 0.95 0 1 0 1.9 0a0.95 0.95 0 1 0 -1.9 0M518.25 89.85a0.95 0.95 0 1 0 1.9 0a0.95 0.95 0 1 0 -1.9 0M524.38 85.95a0.95 0.95 0 1 0 1.9 0a0.95 0.95 0 1 0 -1.9 0M516.2 88.28a0.95 0.95 0 1 0 1.9 0a0.95 0.95 0 1 0 -1.9 0M514.78 92.66a0.95 0.95 0 1 0 1.9 0a0.95 0.95 0 1 0 -1.9 0M522.59 91.66a0.95 0.95 0 1 0 1.9 0a0.95 0.95 0 1 0 -1.9 0M521.27 85.97a0.95 0.95 0 1 0 1.9 0a0.95 0.95 0 1 0 -1.9 0M523.58 88.58a0.95 0.95 0 1 0 1.9 0a0.95 0.95 0 1 0 -1.9 0M516.23 86.74a0.95 0.95 0 1 0 1.9 0a0.95 0.95 0 1 0 -1.9 0M513.85 87.64a0.95 0.95 0 1 0 1.9 0a0.95 0.95 0 1 0 -1.9 0M520 91.84a0.95 0.95 0 1 0 1.9 0a0.95 0.95 0 1 0 -1.9 0M516.19 90.7a0.95 0.95 0 1 0 1.9 0a0.95 0.95 0 1 0 -1.9 0M520.85 90.8a0.95 0.95 0 1 0 1.9 0a0.95 0.95 0 1 0 -1.9 0M519.28 85.57a0.95 0.95 0 1 0 1.9 0a0.95 0.95 0 1 0 -1.9 0M524.62 90.59a0.95 0.95 0 1 0 1.9 0a0.95 0.95 0 1 0 -1.9 0M513.72 88.96a0.95 0.95 0 1 0 1.9 0a0.95 0.95 0 1 0 -1.9 0M518.27 94.68a0.95 0.95 0 1 0 1.9 0a0.95 0.95 0 1 0 -1.9 0M526.54 89.23a0.95 0.95 0 1 0 1.9 0a0.95 0.95 0 1 0 -1.9 0M518.34 90.77a0.95 0.95 0 1 0 1.9 0a0.95 0.95 0 1 0 -1.9 0M520.58 90.6a0.95 0.95 0 1 0 1.9 0a0.95 0.95 0 1 0 -1.9 0M518.18 86.28a0.95 0.95 0 1 0 1.9 0a0.95 0.95 0 1 0 -1.9 0M510.19 85.39a0.95 0.95 0 1 0 1.9 0a0.95 0.95 0 1 0 -1.9 0M511.65 88.88a0.95 0.95 0 1 0 1.9 0a0.95 0.95 0 1 0 -1.9 0M522.2 93.18a0.95 0.95 0 1 0 1.9 0a0.95 0.95 0 1 0 -1.9 0M520.43 94.34a0.95 0.95 0 1 0 1.9 0a0.95 0.95 0 1 0 -1.9 0M527.06 88.6a0.95 0.95 0 1 0 1.9 0a0.95 0.95 0 1 0 -1.9 0M516.68 89.52a0.95 0.95 0 1 0 1.9 0a0.95 0.95 0 1 0 -1.9 0M516.98 87.82a0.95 0.95 0 1 0 1.9 0a0.95 0.95 0 1 0 -1.9 0M519.38 90.21a0.95 0.95 0 1 0 1.9 0a0.95 0.95 0 1 0 -1.9 0M510.15 89.15a0.95 0.95 0 1 0 1.9 0a0.95 0.95 0 1 0 -1.9 0M519.39 90.9a0.95 0.95 0 1 0 1.9 0a0.95 0.95 0 1 0 -1.9 0M514.84 90.28a0.95 0.95 0 1 0 1.9 0a0.95 0.95 0 1 0 -1.9 0M514.65 86.55a0.95 0.95 0 1 0 1.9 0a0.95 0.95 0 1 0 -1.9 0M515.32 89.31a0.95 0.95 0 1 0 1.9 0a0.95 0.95 0 1 0 -1.9 0M517.79 91.96a0.95 0.95 0 1 0 1.9 0a0.95 0.95 0 1 0 -1.9 0M521.48 88.36a0.95 0.95 0 1 0 1.9 0a0.95 0.95 0 1 0 -1.9 0M524.02 93.13a0.95 0.95 0 1 0 1.9 0a0.95 0.95 0 1 0 -1.9 0M519.91 93.65a0.95 0.95 0 1 0 1.9 0a0.95 0.95 0 1 0 -1.9 0" fill="none" stroke="#E6E050" stroke-width="0.6"/>
<path d="M470.7 87.01L471.79 88.92L469.61 88.92zM499.6 89.41L500.69 91.32L498.51 91.32zM506 87.91L507.09 89.82L504.91 89.82zM508 87.41L509.09 89.32L506.91 89.32zM512 87.91L513.09 89.82L510.91 89.82zM523 82.91L524.09 84.82L521.91 84.82zM534 82.91L535.09 84.82L532.91 84.82zM539 84.41L540.09 86.32L537.91 86.32zM542.5 83.91L543.59 85.82L541.41 85.82zM543.5 82.91L544.59 84.82L542.41 84.82zM540 86.91L541.09 88.82L538.91 88.82zM531 88.41L532.09 90.32L529.91 90.32zM530 87.41L531.09 89.32L528.91 89.32zM537.5 88.91L538.59 90.82L536.41 90.82zM548.5 85.41L549.59 87.32L547.41 87.32zM551 87.91L552.09 89.82L549.91 89.82zM550 89.41L551.09 91.32L548.91 91.32zM549 96.41L550.09 98.32L547.91 98.32zM556.6 90.41L557.69 92.32L555.51 92.32zM557 93.91L558.09 95.82L555.91 95.82zM530.5 105.51L531.59 107.42L529.41 107.42zM546.6 107.61L547.69 109.52L545.51 109.52zM567 98.91L568.09 100.82L565.91 100.82zM551.7 96.51L552.79 98.42L550.61 98.42zM542.2 84.61L543.29 86.52L541.11 86.52zM556.8 93.31L557.89 95.22L555.71 95.22zM561.2 92.11L562.29 94.02L560.11 94.02zM563.4 85.31L564.49 87.22L562.31 87.22zM565.5 88.61L566.59 90.52L564.41 90.52zM522.41 87.74L523.5 89.65L521.31 89.65zM518.22 88.99L519.31 90.91L517.13 90.91zM524.72 87.47L525.81 89.38L523.63 89.38zM524.77 91.12L525.86 93.03L523.67 93.03zM527.1 85.12L528.19 87.03L526.01 87.03zM520.65 89.6L521.74 91.51L519.56 91.51zM524.39 89.19L525.48 91.1L523.29 91.1zM516.47 88.45L517.56 90.36L515.37 90.36zM523.32 85.8L524.42 87.72L522.23 87.72zM526.63 88.54L527.72 90.45L525.54 90.45zM525 90.3L526.09 92.21L523.91 92.21zM520.76 87.7L521.86 89.61L519.67 89.61zM521.56 89.23L522.65 91.14L520.46 91.14zM583.53 86.34L584.62 88.26L582.44 88.26zM574.98 86.35L576.07 88.26L573.88 88.26zM579.91 86.03L581 87.94L578.82 87.94zM573.86 92.56L574.95 94.47L572.76 94.47zM574.43 90.56L575.52 92.48L573.33 92.48zM567.92 91.06L569.02 92.97L566.83 92.97zM571.72 92.76L572.81 94.68L570.63 94.68zM579.94 90.53L581.04 92.44L578.85 92.44zM574.21 90.09L575.3 92L573.11 92zM576.32 91.54L577.41 93.45L575.23 93.45zM576.6 88.37L577.69 90.28L575.51 90.28zM574.83 88.16L575.92 90.07L573.73 90.07zM582.9 88.38L583.99 90.3L581.8 90.3zM580.49 82.06L581.58 83.97L579.4 83.97zM583.44 85.49L584.53 87.4L582.35 87.4zM568.95 89.29L570.04 91.2L567.85 91.2zM569.01 93.25L570.1 95.16L567.92 95.16zM578.2 88.61L579.29 90.52L577.11 90.52zM582.25 88.45L583.34 90.36L581.15 90.36zM579.04 89.56L580.13 91.47L577.95 91.47zM588.85 90.95L589.94 92.86L587.76 92.86zM576.37 89.48L577.46 91.39L575.28 91.39zM569.94 92.47L571.03 94.38L568.84 94.38zM572.82 87.71L573.91 89.62L571.73 89.62zM578.03 89.94L579.12 91.85L576.94 91.85zM574.64 87.17L575.73 89.08L573.55 89.08zM575.08 82.34L576.17 84.25L573.98 84.25zM575.49 90.6L576.58 92.51L574.39 92.51zM583.72 87.01L584.81 88.92L582.62 88.92zM573.47 91.37L574.56 93.28L572.38 93.28zM576.56 92.32L577.65 94.23L575.46 94.23zM574.56 90.01L575.65 91.92L573.46 91.92zM578.06 89.41L579.15 91.32L576.97 91.32zM582.5 89.27L583.59 91.18L581.41 91.18zM578.04 88.64L579.13 90.56L576.95 90.56zM586.42 90.52L587.51 92.44L585.32 92.44zM578.3 85.24L579.39 87.15L577.21 87.15zM581.39 87.34L582.49 89.25L580.3 89.25zM570.79 88.95L571.88 90.86L569.7 90.86zM574.72 88.88L575.81 90.79L573.63 90.79zM579.68 88.26L580.78 90.18L578.59 90.18zM575.31 88.51L576.4 90.42L574.21 90.42zM591.39 86.75L592.48 88.66L590.29 88.66zM573.26 86.96L574.35 88.87L572.17 88.87zM572.89 88.16L573.98 90.07L571.8 90.07zM574.5 89.8L575.59 91.71L573.4 91.71zM579.23 91.36L580.32 93.27L578.14 93.27zM578.93 89.7L580.02 91.62L577.84 91.62zM580.41 82.04L581.5 83.95L579.31 83.95zM579.02 88.11L580.12 90.02L577.93 90.02zM574.81 89.11L575.9 91.02L573.71 91.02zM575.39 90.69L576.49 92.61L574.3 92.61zM581 85.56L582.09 87.48L579.91 87.48zM582.64 84.96L583.73 86.87L581.55 86.87zM581.24 93.9L582.33 95.81L580.15 95.81zM585.01 86.21L586.11 88.13L583.92 88.13zM586.4 93.7L587.49 95.61L585.31 95.61zM580.3 89.67L581.39 91.58L579.21 91.58zM588.22 90.17L589.31 92.08L587.12 92.08zM571.45 88.84L572.55 90.76L570.36 90.76zM579.19 90.99L580.28 92.9L578.1 92.9zM588.58 90.99L589.68 92.9L587.49 92.9zM584.65 85.64L585.74 87.55L583.55 87.55zM574.68 89.52L575.77 91.43L573.58 91.43zM581.02 94.98L582.12 96.89L579.93 96.89zM586.66 86.1L587.75 88.02L585.57 88.02zM583.37 87.23L584.47 89.15L582.28 89.15zM576.99 89.32L578.09 91.23L575.9 91.23zM578.84 89.73L579.93 91.64L577.75 91.64zM576.39 91.31L577.48 93.23L575.3 93.23zM577.41 88.66L578.5 90.58L576.31 90.58zM575.81 89.38L576.9 91.29L574.72 91.29zM574.8 86.8L575.89 88.71L573.71 88.71zM583.03 90.41L584.13 92.32L581.94 92.32zM580.93 89.51L582.03 91.43L579.84 91.43zM574.57 85.67L575.66 87.58L573.48 87.58zM584.29 89.19L585.39 91.1L583.2 91.1zM581.74 89.4L582.83 91.31L580.65 91.31zM583.33 86.44L584.42 88.35L582.24 88.35zM583.86 83.74L584.95 85.65L582.77 85.65zM580.28 92.55L581.37 94.47L579.19 94.47zM580.81 89.89L581.9 91.8L579.71 91.8zM575.37 91.65L576.46 93.56L574.28 93.56zM579.49 91.06L580.58 92.97L578.39 92.97zM582.19 88.63L583.28 90.54L581.1 90.54z" fill="none" stroke="#2F52A6" stroke-width="0.6"/>
<path d="M587.24 78.89h2M588.24 77.89v2M593.36 76.69h2M594.36 75.69v2M592.41 74.72h2M593.41 73.72v2M590.48 78.48h2M591.48 77.48v2M590.42 70.18h2M591.42 69.18v2M591.44 75.13h2M592.44 74.13v2M588.62 77.23h2M589.62 76.23v2M597.06 70.4h2M598.06 69.4v2M585.81 81.92h2M586.81 80.92v2M587.45 81.5h2M588.45 80.5v2M596.96 73.39h2M597.96 72.39v2M588.94 78.95h2M589.94 77.95v2M598.45 75.36h2M599.45 74.36v2M591.25 75.54h2M592.25 74.54v2M600.49 70.68h2M601.49 69.68v2M591.62 78.63h2M592.62 77.63v2M591.7 75.31h2M592.7 74.31v2M592.26 74.68h2M593.26 73.68v2M585.72 82.41h2M586.72 81.41v2M599.3 73.34h2M600.3 72.34v2M590.11 80.08h2M591.11 79.08v2M589.64 75.76h2M590.64 74.76v2M588.51 72.26h2M589.51 71.26v2M590.54 74.35h2M591.54 73.35v2M587.82 73.02h2M588.82 72.02v2M589.13 75.55h2M590.13 74.55v2M587.1 78.79h2M588.1 77.79v2M577.21 77.77h2M578.21 76.77v2M578.34 74.11h2M579.34 73.11v2M597.68 75.99h2M598.68 74.99v2M591.99 71.39h2M592.99 70.39v2M582.89 78.88h2M583.89 77.88v2M591.39 78.84h2M592.39 77.84v2M590.61 77.29h2M591.61 76.29v2M591.84 76.01h2M592.84 75.01v2M582.6 79.8h2M583.6 78.8v2M587.2 76.5h2M588.2 75.5v2M588.7 78.28h2M589.7 77.28v2M587.55 73.52h2M588.55 72.52v2M590.5 79.11h2M591.5 78.11v2M587.75 80.26h2M588.75 79.26v2M588.97 77.48h2M589.97 76.48v2M599.35 78.06h2M600.35 77.06v2M608.71 71.85h2M609.71 70.85v2M590.52 78.46h2M591.52 77.46v2M587.81 74.59h2M588.81 73.59v2M591.82 75.76h2M592.82 74.76v2M588.06 75.46h2M589.06 74.46v2M591.42 76.11h2M592.42 75.11v2M588.9 74.86h2M589.9 73.86v2M586.22 73.58h2M587.22 72.58v2M591.07 75.8h2M592.07 74.8v2M586.44 76.87h2M587.44 75.87v2M592.05 77.44h2M593.05 76.44v2M588.75 78.54h2M589.75 77.54v2M593.38 71.04h2M594.38 70.04v2M584.09 78.92h2M585.09 77.92v2M590.78 77.9h2M591.78 76.9v2M594.9 73.03h2M595.9 72.03v2M591.19 79.07h2M592.19 78.07v2M584.79 81.22h2M585.79 80.22v2M578.97 77.09h2M579.97 76.09v2M601.54 73.95h2M602.54 72.95v2M590.28 77.31h2M591.28 76.31v2M588.24 78.69h2M589.24 77.69v2M589.45 74.7h2M590.45 73.7v2M602.75 76.38h2M603.75 75.38v2M584.53 72.04h2M585.53 71.04v2M587.51 77.98h2M588.51 76.98v2M581.87 76.13h2M582.87 75.13v2M589.01 76.58h2M590.01 75.58v2M596.33 71.36h2M597.33 70.36v2M585.08 82.39h2M586.08 81.39v2M581.27 77.88h2M582.27 76.88v2M591.53 78.8h2M592.53 77.8v2M585.34 78.62h2M586.34 77.62v2M596.51 75.3h2M597.51 74.3v2M592.76 73.77h2M593.76 72.77v2M593.9 75.29h2M594.9 74.29v2M587.33 76.46h2M588.33 75.46v2M581.34 73.65h2M582.34 72.65v2M590.6 76.31h2M591.6 75.31v2M587.97 72.67h2M588.97 71.67v2M590.29 75.28h2M591.29 74.28v2M582.26 80.19h2M583.26 79.19v2M601.25 75.13h2M602.25 74.13v2M584.65 71.05h2M585.65 70.05v2M594.88 76.32h2M595.88 75.32v2M595.14 81.04h2M596.14 80.04v2M586.57 77.24h2M587.57 76.24v2M597.37 72.79h2M598.37 71.79v2M595.2 75.7h2M596.2 74.7v2M586.52 77.09h2M587.52 76.09v2M592.79 75.82h2M593.79 74.82v2M590.85 77.93h2M591.85 76.93v2M593.11 74.92h2M594.11 73.92v2M589.46 70.91h2M590.46 69.91v2M582.7 75.13h2M583.7 74.13v2M586.8 75.94h2M587.8 74.94v2M583.99 78.49h2M584.99 77.49v2M595.11 79.49h2M596.11 78.49v2M590.25 77.59h2M591.25 76.59v2M594.07 80.07h2M595.07 79.07v2M587.37 78.58h2M588.37 77.58v2M582.36 74.64h2M583.36 73.64v2M583.3 78.93h2M584.3 77.93v2M588.5 76.72h2M589.5 75.72v2M584.76 76.85h2M585.76 75.85v2M598.37 71h2M599.37 70v2M583.48 79.68h2M584.48 78.68v2M584.28 77.24h2M585.28 76.24v2M589.5 72.24h2M590.5 71.24v2M587.35 76.52h2M588.35 75.52v2M591.4 77.71h2M592.4 76.71v2M589.29 76.31h2M590.29 75.31v2M588.8 76.72h2M589.8 75.72v2M593.03 73.99h2M594.03 72.99v2M574.34 79.77h2M575.34 78.77v2M590.39 82.61h2M591.39 81.61v2M583.84 78.56h2M584.84 77.56v2M592.7 73.62h2M593.7 72.62v2M588.2 73.94h2M589.2 72.94v2M592.17 75.94h2M593.17 74.94v2M591.15 77.48h2M592.15 76.48v2M591.2 79.2h2M592.2 78.2v2M593.09 75.18h2M594.09 74.18v2M585.48 78.02h2M586.48 77.02v2M580.78 75.92h2M581.78 74.92v2M594.63 77.92h2M595.63 76.92v2M600.27 74.05h2M601.27 73.05v2M588.89 78.73h2M589.89 77.73v2M595.41 72.39h2M596.41 71.39v2M594.79 76.22h2M595.79 75.22v2M598.55 75.46h2M599.55 74.46v2M586.79 75.27h2M587.79 74.27v2M587.27 75.43h2M588.27 74.43v2M580.12 78.16h2M581.12 77.16v2M585.97 80.08h2M586.97 79.08v2M593.3 74.51h2M594.3 73.51v2M588.23 77.76h2M589.23 76.76v2M596.09 78.33h2M597.09 77.33v2M593.88 75.86h2M594.88 74.86v2M592.86 73.01h2M593.86 72.01v2M592.18 75.88h2M593.18 74.88v2M587.86 76.29h2M588.86 75.29v2M585.41 75.98h2M586.41 74.98v2M596.27 74.1h2M597.27 73.1v2M582.64 78.77h2M583.64 77.77v2M586.95 75.27h2M587.95 74.27v2M596.36 75.29h2M597.36 74.29v2M592.36 76.63h2M593.36 75.63v2M598.38 77.05h2M599.38 76.05v2M582.45 81.86h2M583.45 80.86v2M586.69 75.92h2M587.69 74.92v2M593.43 75.65h2M594.43 74.65v2M587.33 75.78h2M588.33 74.78v2M588.18 79.55h2M589.18 78.55v2M591.6 79.6h2M592.6 78.6v2M599.38 77.06h2M600.38 76.06v2M585.19 77.39h2M586.19 76.39v2M591.27 72.93h2M592.27 71.93v2M588.55 73.78h2M589.55 72.78v2M594.91 71.14h2M595.91 70.14v2M587.65 77.4h2M588.65 76.4v2M590.12 73.98h2M591.12 72.98v2M593.12 75.78h2M594.12 74.78v2M597.05 75.7h2M598.05 74.7v2M593.16 71.74h2M594.16 70.74v2M590.44 76.55h2M591.44 75.55v2M583.4 71.53h2M584.4 70.53v2M593.6 79.12h2M594.6 78.12v2M586.58 79.06h2M587.58 78.06v2M592.56 74.54h2M593.56 73.54v2M586.98 83.91h2M587.98 82.91v2M592.8 77.06h2M593.8 76.06v2M587.23 73.11h2M588.23 72.11v2M590.71 75.88h2M591.71 74.88v2M591.08 76.15h2M592.08 75.15v2M580.05 76.66h2M581.05 75.66v2M589.93 75.38h2M590.93 74.38v2M590.76 77.01h2M591.76 76.01v2M588.67 75.41h2M589.67 74.41v2M598.03 75.98h2M599.03 74.98v2M591.26 77.53h2M592.26 76.53v2M589.88 71.44h2M590.88 70.44v2M587.33 77.45h2M588.33 76.45v2M592.07 76.26h2M593.07 75.26v2M583.6 76.48h2M584.6 75.48v2M591.53 76.39h2M592.53 75.39v2M603.41 75.91h2M604.41 74.91v2M591.88 75.7h2M592.88 74.7v2M578.49 80.35h2M579.49 79.35v2M586.31 80.25h2M587.31 79.25v2M587.17 75.98h2M588.17 74.98v2M594.77 74.71h2M595.77 73.71v2M581.02 78.73h2M582.02 77.73v2M591.87 77.23h2M592.87 76.23v2M588.68 77.4h2M589.68 76.4v2M584.8 77.04h2M585.8 76.04v2M592.14 68.12h2M593.14 67.12v2M592.7 78.98h2M593.7 77.98v2M597.38 74.55h2M598.38 73.55v2M592.1 75.91h2M593.1 74.91v2M584.55 78.1h2M585.55 77.1v2M594.56 77.93h2M595.56 76.93v2M579.73 77.39h2M580.73 76.39v2M588.9 76.74h2M589.9 75.74v2M582.78 82.52h2M583.78 81.52v2M581.23 75.15h2M582.23 74.15v2M598.34 75.98h2M599.34 74.98v2M585.22 75.27h2M586.22 74.27v2M592.78 74.35h2M593.78 73.35v2M593.48 77.25h2M594.48 76.25v2M591.92 78.29h2M592.92 77.29v2M585.8 73.27h2M586.8 72.27v2M580.95 77.63h2M581.95 76.63v2M585.85 81.02h2M586.85 80.02v2M585.2 81.19h2M586.2 80.19v2M588.72 76.61h2M589.72 75.61v2M579.58 77.67h2M580.58 76.67v2M596.36 71.72h2M597.36 70.72v2M596.34 77.58h2M597.34 76.58v2M593.72 73.25h2M594.72 72.25v2M597.14 72.43h2M598.14 71.43v2M597.98 78.28h2M598.98 77.28v2M580.94 81.54h2M581.94 80.54v2M598.68 74.93h2M599.68 73.93v2M581.25 77.04h2M582.25 76.04v2M588.17 78.81h2M589.17 77.81v2M584.07 74.82h2M585.07 73.82v2M590.64 77.14h2M591.64 76.14v2M580.4 78.88h2M581.4 77.88v2M586.39 75.72h2M587.39 74.72v2M592.81 77.78h2M593.81 76.78v2M592.59 80.55h2M593.59 79.55v2M590.74 76.33h2M591.74 75.33v2M591.73 79.98h2M592.73 78.98v2M592.89 76.81h2M593.89 75.81v2M594.21 71.84h2M595.21 70.84v2M594.97 77.76h2M595.97 76.76v2M587.4 72.9h2M588.4 71.9v2M580.21 72.13h2M581.21 71.13v2M591.24 75.88h2M592.24 74.88v2M585.02 79.39h2M586.02 78.39v2M584.7 79.78h2M585.7 78.78v2M593.72 77.28h2M594.72 76.28v2M583.25 74.52h2M584.25 73.52v2M590.14 79.11h2M591.14 78.11v2M583.99 77.78h2M584.99 76.78v2M593.41 71.48h2M594.41 70.48v2M599.17 74.55h2M600.17 73.55v2M586.73 77.35h2M587.73 76.35v2M588.16 74.2h2M589.16 73.2v2M586.1 76.27h2M587.1 75.27v2M584.13 79.79h2M585.13 78.79v2M592.98 77.85h2M593.98 76.85v2M580.68 76.44h2M581.68 75.44v2M592.1 75.84h2M593.1 74.84v2M579.91 78.76h2M580.91 77.76v2M600.25 77.64h2M601.25 76.64v2M588.52 73.47h2M589.52 72.47v2M595.05 77.17h2M596.05 76.17v2M587.59 75.88h2M588.59 74.88v2M593.62 75.59h2M594.62 74.59v2M585.44 73.97h2M586.44 72.97v2M587.31 75.95h2M588.31 74.95v2M588.23 87.92h2M589.23 86.92v2M582.25 73.04h2M583.25 72.04v2M586.02 79.19h2M587.02 78.19v2M599.15 70.8h2M600.15 69.8v2M586.62 78.45h2M587.62 77.45v2M585.76 78.47h2M586.76 77.47v2M587.98 79.64h2M588.98 78.64v2M590.73 80.72h2M591.73 79.72v2M582.91 80.3h2M583.91 79.3v2M587.87 79.65h2M588.87 78.65v2M586.75 79.04h2M587.75 78.04v2M595.14 76.47h2M596.14 75.47v2M583.77 75.53h2M584.77 74.53v2M586.71 76.3h2M587.71 75.3v2M594.2 72.76h2M595.2 71.76v2M588.74 76.7h2M589.74 75.7v2M589.2 74.16h2M590.2 73.16v2M596.23 75.39h2M597.23 74.39v2M585.32 76.83h2M586.32 75.83v2M595.75 77.09h2M596.75 76.09v2M595.77 76.93h2M596.77 75.93v2M586.71 73.15h2M587.71 72.15v2M584.91 76.98h2M585.91 75.98v2M580.85 77.06h2M581.85 76.06v2M585.58 80.06h2M586.58 79.06v2M579.87 83.68h2M580.87 82.68v2M593.14 74.8h2M594.14 73.8v2M590.57 80.45h2M591.57 79.45v2M593.08 75.22h2M594.08 74.22v2M586.09 73.21h2M587.09 72.21v2M591.39 78.47h2M592.39 77.47v2M589.16 76.61h2M590.16 75.61v2M585.35 77.43h2M586.35 76.43v2M591.73 72.97h2M592.73 71.97v2M593.03 75.35h2M594.03 74.35v2M592.18 76.2h2M593.18 75.2v2M591.48 76.88h2M592.48 75.88v2M593.25 74.16h2M594.25 73.16v2M588.72 73.66h2M589.72 72.66v2M590.33 79.23h2M591.33 78.23v2M588.56 79.28h2M589.56 78.28v2M587.34 77.79h2M588.34 76.79v2M595.99 76.43h2M596.99 75.43v2M592.22 79.63h2M593.22 78.63v2M593.19 78.45h2M594.19 77.45v2M587.87 74.91h2M588.87 73.91v2M593.25 73.43h2M594.25 72.43v2M595.48 74.34h2M596.48 73.34v2M591.41 78.34h2M592.41 77.34v2M584.75 82.13h2M585.75 81.13v2M589.57 76.02h2M590.57 75.02v2M583.78 73.12h2M584.78 72.12v2M580.28 75.37h2M581.28 74.37v2M592.3 74.97h2M593.3 73.97v2M595.26 73.32h2M596.26 72.32v2M582.09 78.8h2M583.09 77.8v2M587.81 73.18h2M588.81 72.18v2M596.98 76.2h2M597.98 75.2v2M582.28 76.32h2M583.28 75.32v2M585.34 80.06h2M586.34 79.06v2M586.76 75.38h2M587.76 74.38v2M591.69 80.24h2M592.69 79.24v2M596.66 75.54h2M597.66 74.54v2M587.86 75.26h2M588.86 74.26v2M594.23 73.2h2M595.23 72.2v2M589.6 78.27h2M590.6 77.27v2M585.4 71.01h2M586.4 70.01v2M586.52 74.86h2M587.52 73.86v2M584.44 75.78h2M585.44 74.78v2M593.22 72.27h2M594.22 71.27v2M583.34 77.06h2M584.34 76.06v2M593.98 73.83h2M594.98 72.83v2M592.82 78.68h2M593.82 77.68v2M585.75 76.5h2M586.75 75.5v2M593.95 76.41h2M594.95 75.41v2M586.38 76.59h2M587.38 75.59v2M588.22 76.86h2M589.22 75.86v2M590.99 76.65h2M591.99 75.65v2M586.44 76.91h2M587.44 75.91v2M590.94 75.78h2M591.94 74.78v2M597.55 74.15h2M598.55 73.15v2M578.31 81.07h2M579.31 80.07v2M587.17 77.69h2M588.17 76.69v2M588.47 79h2M589.47 78v2M586.87 78.26h2M587.87 77.26v2M597.59 76.86h2M598.59 75.86v2M585.79 81.32h2M586.79 80.32v2M595.1 75.65h2M596.1 74.65v2M582.23 78.1h2M583.23 77.1v2M589.16 77.67h2M590.16 76.67v2M590.69 80.27h2M591.69 79.27v2M590.2 75.38h2M591.2 74.38v2M587.45 77.52h2M588.45 76.52v2M591.6 73.03h2M592.6 72.03v2M584.57 79.49h2M585.57 78.49v2M588.64 79.26h2M589.64 78.26v2M588.25 74.98h2M589.25 73.98v2M591.85 76.8h2M592.85 75.8v2M603.91 78.44h2M604.91 77.44v2M589.04 77.17h2M590.04 76.17v2M592.34 77.37h2M593.34 76.37v2M593.18 75.77h2M594.18 74.77v2M586.84 72.84h2M587.84 71.84v2M588.08 79.32h2M589.08 78.32v2M590.5 77.09h2M591.5 76.09v2M581.84 72.26h2M582.84 71.26v2M592.18 74.06h2M593.18 73.06v2M585.69 71.9h2M586.69 70.9v2M597.36 78.95h2M598.36 77.95v2M580.01 76.34h2M581.01 75.34v2M588.28 77.7h2M589.28 76.7v2M593.79 75.66h2M594.79 74.66v2M588.93 77.92h2M589.93 76.92v2M580.43 77.35h2M581.43 76.35v2M589.26 77.2h2M590.26 76.2v2M583.79 75.5h2M584.79 74.5v2M583.19 76.88h2M584.19 75.88v2M584.74 83.37h2M585.74 82.37v2M586.39 80.07h2M587.39 79.07v2M585.93 75.83h2M586.93 74.83v2M593.77 75.08h2M594.77 74.08v2M600.64 76h2M601.64 75v2M580.76 81.07h2M581.76 80.07v2M574.59 77.58h2M575.59 76.58v2M584.96 77.09h2M585.96 76.09v2M584.95 75.81h2M585.95 74.81v2M587.48 78.55h2M588.48 77.55v2M584.33 76.15h2M585.33 75.15v2M601.66 79.9h2M602.66 78.9v2M595.24 75.62h2M596.24 74.62v2M586.25 77.05h2M587.25 76.05v2M582.77 80.22h2M583.77 79.22v2M584.6 71.56h2M585.6 70.56v2M595.12 79.45h2M596.12 78.45v2M594.17 77.39h2M595.17 76.39v2M592.3 79.98h2M593.3 78.98v2M595.62 71.55h2M596.62 70.55v2M592.2 75.8h2M593.2 74.8v2M597.59 74.51h2M598.59 73.51v2M586.71 72.55h2M587.71 71.55v2M589.64 77.18h2M590.64 76.18v2M596.6 74.92h2M597.6 73.92v2M594.93 81.1h2M595.93 80.1v2M583.52 79.97h2M584.52 78.97v2M588.53 72.2h2M589.53 71.2v2M585.06 77.14h2M586.06 76.14v2M583.65 78.92h2M584.65 77.92v2M585.57 79.74h2M586.57 78.74v2M587.81 79.8h2M588.81 78.8v2M595.45 77.95h2M596.45 76.95v2M596.47 82.77h2M597.47 81.77v2M593.79 71.58h2M594.79 70.58v2M587.36 79.2h2M588.36 78.2v2M594.49 74.24h2M595.49 73.24v2M592.02 76.27h2M593.02 75.27v2M587.79 75.49h2M588.79 74.49v2M589.96 79.6h2M590.96 78.6v2M580.67 80.46h2M581.67 79.46v2M589.89 72.2h2M590.89 71.2v2M590.77 75.86h2M591.77 74.86v2M584.64 78.57h2M585.64 77.57v2M588.26 79.68h2M589.26 78.68v2M596.66 76.58h2M597.66 75.58v2M591.18 73.74h2M592.18 72.74v2M589.63 79.46h2M590.63 78.46v2M598.94 70.48h2M599.94 69.48v2M590.7 76.18h2M591.7 75.18v2M600.93 75.78h2M601.93 74.78v2M599.71 69.62h2M600.71 68.62v2M580.17 78.16h2M581.17 77.16v2M581.16 72.48h2M582.16 71.48v2M586.93 75.6h2M587.93 74.6v2M590.59 80.28h2M591.59 79.28v2M584.05 75.33h2M585.05 74.33v2M581.35 77.83h2M582.35 76.83v2M595.43 78.49h2M596.43 77.49v2M577.35 79.44h2M578.35 78.44v2M587.57 75.28h2M588.57 74.28v2M582.92 75.97h2M583.92 74.97v2M591.25 78.04h2M592.25 77.04v2M593.4 73.74h2M594.4 72.74v2M589.07 74.17h2M590.07 73.17v2M594.16 75.96h2M595.16 74.96v2M582.61 80.2h2M583.61 79.2v2M597.9 70.69h2M598.9 69.69v2M599.23 76.42h2M600.23 75.42v2M588.05 70.61h2M589.05 69.61v2M582.09 74.92h2M583.09 73.92v2M593.54 75.54h2M594.54 74.54v2M590.42 76.61h2M591.42 75.61v2M591.68 75.26h2M592.68 74.26v2M595.61 69.6h2M596.61 68.6v2M584.14 76.13h2M585.14 75.13v2M585.11 80.51h2M586.11 79.51v2M586.18 71.79h2M587.18 70.79v2M586.23 75.62h2M587.23 74.62v2M584.61 75.29h2M585.61 74.29v2M586.75 78.67h2M587.75 77.67v2M588.58 77.43h2M589.58 76.43v2M589.33 79.71h2M590.33 78.71v2M589.73 77.18h2M590.73 76.18v2M595.71 79.17h2M596.71 78.17v2M595.69 73.55h2M596.69 72.55v2M583.25 84.56h2M584.25 83.56v2M589.85 73.62h2M590.85 72.62v2M589.73 75.64h2M590.73 74.64v2M594.01 70.28h2M595.01 69.28v2M597.52 74h2M598.52 73v2M597.59 77.07h2M598.59 76.07v2M594.17 77.18h2M595.17 76.18v2M591.7 75.15h2M592.7 74.15v2M593.57 75.37h2M594.57 74.37v2M595.8 75.46h2M596.8 74.46v2M592.79 76.44h2M593.79 75.44v2M593.02 76.76h2M594.02 75.76v2M591.54 72.68h2M592.54 71.68v2M601 72.44h2M602 71.44v2M596.61 78.44h2M597.61 77.44v2M596.32 75.96h2M597.32 74.96v2M593.83 74.96h2M594.83 73.96v2M591.62 76.14h2M592.62 75.14v2M596.29 72.39h2M597.29 71.39v2M587.68 81.35h2M588.68 80.35v2M593.64 72.92h2M594.64 71.92v2M590.95 76.71h2M591.95 75.71v2M598.09 73.21h2M599.09 72.21v2M593.1 76.24h2M594.1 75.24v2M592.65 75.74h2M593.65 74.74v2M595.37 76.58h2M596.37 75.58v2M597.23 75.37h2M598.23 74.37v2M592.32 72.39h2M593.32 71.39v2M593.93 73.08h2M594.93 72.08v2M592.85 74.66h2M593.85 73.66v2M593.86 76.96h2M594.86 75.96v2M595.12 75.28h2M596.12 74.28v2M599.03 75.19h2M600.03 74.19v2M599.58 75.05h2M600.58 74.05v2M595.32 73.04h2M596.32 72.04v2M594.42 73.26h2M595.42 72.26v2M598.39 75.52h2M599.39 74.52v2M598.4 76.11h2M599.4 75.11v2M591.16 70.46h2M592.16 69.46v2M593.87 74h2M594.87 73v2M592.85 75.75h2M593.85 74.75v2M594.53 74.58h2M595.53 73.58v2M595.13 73.75h2M596.13 72.75v2M591.47 74.14h2M592.47 73.14v2M597.35 76.38h2M598.35 75.38v2M593.13 75.96h2M594.13 74.96v2M596.12 73.03h2M597.12 72.03v2M599.88 74.42h2M600.88 73.42v2M590.94 75.31h2M591.94 74.31v2M594.79 77.79h2M595.79 76.79v2M598.05 74.3h2M599.05 73.3v2M592.6 74.51h2M593.6 73.51v2M593.26 73.19h2M594.26 72.19v2M593.88 77.64h2M594.88 76.64v2M596.97 74.5h2M597.97 73.5v2M590.49 76.47h2M591.49 75.47v2M597.89 72.31h2M598.89 71.31v2M595.8 78.62h2M596.8 77.62v2M597.52 76.42h2M598.52 75.42v2M594.05 73.93h2M595.05 72.93v2M595.19 77.6h2M596.19 76.6v2M596.4 76.81h2M597.4 75.81v2M593.9 74.7h2M594.9 73.7v2M598.45 75.35h2M599.45 74.35v2M596.99 74.2h2M597.99 73.2v2M591.05 75.43h2M592.05 74.43v2M594.95 69.11h2M595.95 68.11v2M591.55 75.8h2M592.55 74.8v2M593.34 72.68h2M594.34 71.68v2M593.95 76.03h2M594.95 75.03v2M598.19 71.36h2M599.19 70.36v2M594.15 73.79h2M595.15 72.79v2M600.75 75.89h2M601.75 74.89v2M590.88 76.45h2M591.88 75.45v2M596.68 77.12h2M597.68 76.12v2M597.27 74.15h2M598.27 73.15v2M590.27 75.6h2M591.27 74.6v2M593.86 74.22h2M594.86 73.22v2M588.74 76.34h2M589.74 75.34v2M595.72 77.5h2M596.72 76.5v2M595.31 74.69h2M596.31 73.69v2M552.4 73.7h2M553.4 72.7v2M554.3 77.2h2M555.3 76.2v2M557 79h2M558 78v2M561 76.6h2M562 75.6v2M563 75h2M564 74v2M566 78h2M567 77v2M569 78h2M570 77v2M572 77h2M573 76v2M575 80h2M576 79v2M522.3 77h2M523.3 76v2M590.5 19.6h2M591.5 18.6v2M583.6 41.6h2M584.6 40.6v2M626.3 57h2M627.3 56v2M606.9 59.4h2M607.9 58.4v2M603.2 63.8h2M604.2 62.8v2M603 69.9h2M604 68.9v2M604.4 74h2M605.4 73v2M559 77.5h2M560 76.5v2M556 75.5h2M557 74.5v2" fill="none" stroke="#EE312C" stroke-width="0.6"/>
<path d="M580.22 172.22L581.45 173.46L580.22 174.69L578.98 173.46zM580.26 172.86L581.49 174.09L580.26 175.33L579.02 174.09zM580.68 178.87L581.92 180.1L580.68 181.34L579.45 180.1zM582.97 175.87L584.21 177.1L582.97 178.34L581.74 177.1zM583.54 172.33L584.77 173.56L583.54 174.8L582.3 173.56zM576.38 171.94L577.62 173.18L576.38 174.41L575.15 173.18zM581.92 179.06L583.15 180.29L581.92 181.53L580.68 180.29zM579.38 177.29L580.62 178.52L579.38 179.76L578.15 178.52zM585.83 173.57L587.07 174.81L585.83 176.04L584.6 174.81zM583.23 178.09L584.46 179.33L583.23 180.56L581.99 179.33zM584.38 185.11L585.62 186.35L584.38 187.58L583.15 186.35zM574.95 169.39L576.19 170.63L574.95 171.86L573.72 170.63zM590.67 175.92L591.9 177.16L590.67 178.39L589.43 177.16zM576.48 162.99L577.71 164.23L576.48 165.46L575.24 164.23zM578.5 166.56L579.73 167.8L578.5 169.03L577.26 167.8zM576.62 170.86L577.85 172.09L576.62 173.33L575.38 172.09zM582.54 168.29L583.78 169.52L582.54 170.76L581.31 169.52zM583.01 171.34L584.25 172.58L583.01 173.81L581.78 172.58zM586.47 167.39L587.71 168.62L586.47 169.86L585.24 168.62zM583.18 174.43L584.42 175.66L583.18 176.9L581.95 175.66zM586.36 168.08L587.59 169.32L586.36 170.55L585.12 169.32zM583.42 167.58L584.66 168.81L583.42 170.05L582.19 168.81zM586.1 176.1L587.33 177.33L586.1 178.57L584.86 177.33zM587.58 172.44L588.81 173.67L587.58 174.91L586.34 173.67zM589.59 171.36L590.83 172.6L589.59 173.83L588.36 172.6zM577.49 170.15L578.72 171.39L577.49 172.62L576.25 171.39zM583.2 178.89L584.44 180.12L583.2 181.36L581.97 180.12zM581.56 170.95L582.8 172.19L581.56 173.42L580.33 172.19zM585.61 167.61L586.84 168.85L585.61 170.08L584.37 168.85zM586.76 176.07L588 177.3L586.76 178.54L585.53 177.3zM579.74 173.37L580.98 174.61L579.74 175.84L578.51 174.61zM581.03 169.45L582.26 170.69L581.03 171.92L579.79 170.69zM584.51 172.19L585.74 173.43L584.51 174.66L583.27 173.43zM586.69 174L587.92 175.23L586.69 176.47L585.45 175.23zM577.65 174.69L578.88 175.93L577.65 177.16L576.41 175.93zM586.03 175.27L587.27 176.5L586.03 177.74L584.8 176.5zM578.37 170.71L579.61 171.95L578.37 173.18L577.14 171.95zM578.93 172.43L580.16 173.67L578.93 174.9L577.69 173.67zM580.81 177.98L582.04 179.21L580.81 180.45L579.57 179.21zM584.77 185.79L586.01 187.02L584.77 188.26L583.54 187.02zM585.36 166.7L586.59 167.94L585.36 169.17L584.12 167.94zM582.67 182.25L583.9 183.48L582.67 184.72L581.43 183.48zM582.14 174.33L583.38 175.56L582.14 176.8L580.91 175.56zM586.74 180.4L587.97 181.64L586.74 182.87L585.5 181.64zM587.54 173.32L588.78 174.55L587.54 175.79L586.31 174.55zM579.35 171.17L580.59 172.41L579.35 173.64L578.12 172.41zM585.59 166.22L586.83 167.45L585.59 168.69L584.36 167.45zM583.96 181.15L585.19 182.39L583.96 183.62L582.72 182.39zM579.22 177.24L580.46 178.48L579.22 179.71L577.99 178.48zM580.64 170.1L581.87 171.33L580.64 172.57L579.4 171.33zM584.98 176.78L586.22 178.02L584.98 179.25L583.75 178.02zM583.13 175.9L584.37 177.13L583.13 178.37L581.9 177.13zM585.95 182.06L587.18 183.29L585.95 184.53L584.71 183.29zM580.19 169.17L581.42 170.41L580.19 171.64L578.95 170.41zM589.63 177.68L590.87 178.92L589.63 180.15L588.4 178.92zM581.09 176.7L582.33 177.93L581.09 179.17L579.86 177.93zM589.29 172.06L590.53 173.29L589.29 174.53L588.06 173.29zM584.79 178L586.02 179.23L584.79 180.47L583.55 179.23zM581.28 168.6L582.51 169.84L581.28 171.07L580.04 169.84zM586.41 173.73L587.64 174.97L586.41 176.2L585.17 174.97zM584.23 170.15L585.46 171.39L584.23 172.62L582.99 171.39zM585.74 178.38L586.98 179.62L585.74 180.85L584.51 179.62zM583.74 174.07L584.98 175.31L583.74 176.54L582.51 175.31zM580.27 170.89L581.5 172.12L580.27 173.36L579.03 172.12zM578.95 174.13L580.18 175.37L578.95 176.6L577.71 175.37zM584.18 170.75L585.41 171.98L584.18 173.22L582.94 171.98zM579.1 172.89L580.34 174.13L579.1 175.36L577.87 174.13zM585.82 180.23L587.05 181.46L585.82 182.7L584.58 181.46zM577.28 174.43L578.51 175.67L577.28 176.9L576.04 175.67zM588.25 169.99L589.49 171.23L588.25 172.46L587.02 171.23zM582.07 177.91L583.3 179.15L582.07 180.38L580.83 179.15zM584.22 169.75L585.46 170.99L584.22 172.22L582.99 170.99zM579.65 171.32L580.89 172.55L579.65 173.79L578.42 172.55zM583.38 174.72L584.62 175.96L583.38 177.19L582.15 175.96zM586.52 169.82L587.76 171.05L586.52 172.29L585.29 171.05zM585.21 175.71L586.45 176.95L585.21 178.18L583.98 176.95zM582.47 177.31L583.71 178.55L582.47 179.78L581.24 178.55zM583.27 175.99L584.51 177.23L583.27 178.46L582.04 177.23zM581.39 169.78L582.63 171.01L581.39 172.25L580.16 171.01zM581.67 182.09L582.91 183.32L581.67 184.56L580.44 183.32zM585.02 175.17L586.25 176.41L585.02 177.64L583.78 176.41zM580.85 174.66L582.09 175.9L580.85 177.13L579.62 175.9zM579.44 175.36L580.68 176.6L579.44 177.83L578.21 176.6zM583.4 171.24L584.64 172.48L583.4 173.71L582.17 172.48zM585.27 167.87L586.5 169.11L585.27 170.34L584.03 169.11zM579.09 177.08L580.32 178.31L579.09 179.55L577.85 178.31zM579.7 167.23L580.94 168.46L579.7 169.7L578.47 168.46zM587.7 176.71L588.94 177.95L587.7 179.18L586.47 177.95zM585.21 173.85L586.44 175.09L585.21 176.32L583.97 175.09zM579.62 175.86L580.86 177.09L579.62 178.33L578.39 177.09zM583.43 170.54L584.67 171.78L583.43 173.01L582.2 171.78zM584.09 175.89L585.33 177.13L584.09 178.36L582.86 177.13zM583.52 177.64L584.76 178.87L583.52 180.11L582.29 178.87zM585.37 168.55L586.6 169.79L585.37 171.02L584.13 169.79zM585.26 171.94L586.5 173.17L585.26 174.41L584.03 173.17zM588.93 160.24L590.17 161.48L588.93 162.71L587.7 161.48zM582.47 176.55L583.71 177.79L582.47 179.02L581.24 177.79zM587.26 169.14L588.5 170.38L587.26 171.61L586.03 170.38zM583.64 175.88L584.87 177.12L583.64 178.35L582.4 177.12zM581.61 177.01L582.84 178.25L581.61 179.48L580.37 178.25zM581.14 170.37L582.38 171.61L581.14 172.84L579.91 171.61zM587.77 170.15L589.01 171.38L587.77 172.62L586.54 171.38zM582.36 184.08L583.59 185.32L582.36 186.55L581.12 185.32zM588.04 172.15L589.28 173.39L588.04 174.62L586.81 173.39zM584.8 170.49L586.03 171.72L584.8 172.96L583.56 171.72zM579.81 171.76L581.04 172.99L579.81 174.23L578.57 172.99zM586.34 176.22L587.57 177.45L586.34 178.69L585.1 177.45zM580.79 163.31L582.03 164.55L580.79 165.78L579.56 164.55zM587.98 170.64L589.21 171.88L587.98 173.11L586.74 171.88zM586.3 177.48L587.54 178.72L586.3 179.95L585.07 178.72zM592.7 125.47L593.94 126.7L592.7 127.94L591.47 126.7zM564.3 156.96L565.53 158.2L564.3 159.44L563.06 158.2zM569 158.96L570.24 160.2L569 161.44L567.76 160.2zM552 169.06L553.24 170.3L552 171.54L550.76 170.3zM575.5 170.76L576.74 172L575.5 173.24L574.26 172zM590 176.76L591.24 178L590 179.24L588.76 178z" fill="none" stroke="#6E52AE" stroke-width="0.55"/>
</svg>
<svg x="141.6" y="221.1" width="212.4" height="189.1" viewBox="141.6 221.1 212.4 189.1" overflow="hidden">
<path d="M165.18 246.88a1.35 1.35 0 1 0 2.7 0a1.35 1.35 0 1 0 -2.7 0M162.98 240.15a1.35 1.35 0 1 0 2.7 0a1.35 1.35 0 1 0 -2.7 0M168.89 248.25a1.35 1.35 0 1 0 2.7 0a1.35 1.35 0 1 0 -2.7 0M161.84 241.89a1.35 1.35 0 1 0 2.7 0a1.35 1.35 0 1 0 -2.7 0M169.33 245.51a1.35 1.35 0 1 0 2.7 0a1.35 1.35 0 1 0 -2.7 0M152.84 233.54a1.35 1.35 0 1 0 2.7 0a1.35 1.35 0 1 0 -2.7 0M163.9 248.87a1.35 1.35 0 1 0 2.7 0a1.35 1.35 0 1 0 -2.7 0M168.58 243.92a1.35 1.35 0 1 0 2.7 0a1.35 1.35 0 1 0 -2.7 0M156.88 236.26a1.35 1.35 0 1 0 2.7 0a1.35 1.35 0 1 0 -2.7 0M157.42 234.58a1.35 1.35 0 1 0 2.7 0a1.35 1.35 0 1 0 -2.7 0M159.65 235.81a1.35 1.35 0 1 0 2.7 0a1.35 1.35 0 1 0 -2.7 0M165.29 246.08a1.35 1.35 0 1 0 2.7 0a1.35 1.35 0 1 0 -2.7 0M155.21 237.05a1.35 1.35 0 1 0 2.7 0a1.35 1.35 0 1 0 -2.7 0M164.19 241.52a1.35 1.35 0 1 0 2.7 0a1.35 1.35 0 1 0 -2.7 0M154.32 236.42a1.35 1.35 0 1 0 2.7 0a1.35 1.35 0 1 0 -2.7 0M163.51 241.15a1.35 1.35 0 1 0 2.7 0a1.35 1.35 0 1 0 -2.7 0M159.71 237.88a1.35 1.35 0 1 0 2.7 0a1.35 1.35 0 1 0 -2.7 0M168.9 243.73a1.35 1.35 0 1 0 2.7 0a1.35 1.35 0 1 0 -2.7 0M169.69 247.04a1.35 1.35 0 1 0 2.7 0a1.35 1.35 0 1 0 -2.7 0M164.64 243.67a1.35 1.35 0 1 0 2.7 0a1.35 1.35 0 1 0 -2.7 0M168.91 249.85a1.35 1.35 0 1 0 2.7 0a1.35 1.35 0 1 0 -2.7 0M164.75 243.34a1.35 1.35 0 1 0 2.7 0a1.35 1.35 0 1 0 -2.7 0M163.46 239.7a1.35 1.35 0 1 0 2.7 0a1.35 1.35 0 1 0 -2.7 0M172.38 252.05a1.35 1.35 0 1 0 2.7 0a1.35 1.35 0 1 0 -2.7 0M156.26 233a1.35 1.35 0 1 0 2.7 0a1.35 1.35 0 1 0 -2.7 0M162.84 247.4a1.35 1.35 0 1 0 2.7 0a1.35 1.35 0 1 0 -2.7 0M172.59 251.93a1.35 1.35 0 1 0 2.7 0a1.35 1.35 0 1 0 -2.7 0M168.41 246.21a1.35 1.35 0 1 0 2.7 0a1.35 1.35 0 1 0 -2.7 0M154.34 238.28a1.35 1.35 0 1 0 2.7 0a1.35 1.35 0 1 0 -2.7 0M170.38 248.3a1.35 1.35 0 1 0 2.7 0a1.35 1.35 0 1 0 -2.7 0M171.45 249.75a1.35 1.35 0 1 0 2.7 0a1.35 1.35 0 1 0 -2.7 0M161.14 241.92a1.35 1.35 0 1 0 2.7 0a1.35 1.35 0 1 0 -2.7 0M165.75 240.77a1.35 1.35 0 1 0 2.7 0a1.35 1.35 0 1 0 -2.7 0M170.12 249.95a1.35 1.35 0 1 0 2.7 0a1.35 1.35 0 1 0 -2.7 0M157.41 241.73a1.35 1.35 0 1 0 2.7 0a1.35 1.35 0 1 0 -2.7 0M153.38 232.8a1.35 1.35 0 1 0 2.7 0a1.35 1.35 0 1 0 -2.7 0M153.9 234.21a1.35 1.35 0 1 0 2.7 0a1.35 1.35 0 1 0 -2.7 0M165.46 245.02a1.35 1.35 0 1 0 2.7 0a1.35 1.35 0 1 0 -2.7 0M158.45 238.6a1.35 1.35 0 1 0 2.7 0a1.35 1.35 0 1 0 -2.7 0M156.37 240.31a1.35 1.35 0 1 0 2.7 0a1.35 1.35 0 1 0 -2.7 0M172.25 248.14a1.35 1.35 0 1 0 2.7 0a1.35 1.35 0 1 0 -2.7 0M175.11 250.13a1.35 1.35 0 1 0 2.7 0a1.35 1.35 0 1 0 -2.7 0M157.91 238.7a1.35 1.35 0 1 0 2.7 0a1.35 1.35 0 1 0 -2.7 0M171.5 251.17a1.35 1.35 0 1 0 2.7 0a1.35 1.35 0 1 0 -2.7 0M159.3 234.87a1.35 1.35 0 1 0 2.7 0a1.35 1.35 0 1 0 -2.7 0M153.51 235.5a1.35 1.35 0 1 0 2.7 0a1.35 1.35 0 1 0 -2.7 0M166.48 243.38a1.35 1.35 0 1 0 2.7 0a1.35 1.35 0 1 0 -2.7 0M169.71 250.34a1.35 1.35 0 1 0 2.7 0a1.35 1.35 0 1 0 -2.7 0M161.04 243.06a1.35 1.35 0 1 0 2.7 0a1.35 1.35 0 1 0 -2.7 0M170.11 246.87a1.35 1.35 0 1 0 2.7 0a1.35 1.35 0 1 0 -2.7 0M172.57 251.31a1.35 1.35 0 1 0 2.7 0a1.35 1.35 0 1 0 -2.7 0M158.76 237.76a1.35 1.35 0 1 0 2.7 0a1.35 1.35 0 1 0 -2.7 0M160.19 234.74a1.35 1.35 0 1 0 2.7 0a1.35 1.35 0 1 0 -2.7 0M168.21 245.07a1.35 1.35 0 1 0 2.7 0a1.35 1.35 0 1 0 -2.7 0M156.83 237.17a1.35 1.35 0 1 0 2.7 0a1.35 1.35 0 1 0 -2.7 0M173.57 250.22a1.35 1.35 0 1 0 2.7 0a1.35 1.35 0 1 0 -2.7 0M162.26 243.3a1.35 1.35 0 1 0 2.7 0a1.35 1.35 0 1 0 -2.7 0M153.19 233.04a1.35 1.35 0 1 0 2.7 0a1.35 1.35 0 1 0 -2.7 0M173.07 247.55a1.35 1.35 0 1 0 2.7 0a1.35 1.35 0 1 0 -2.7 0M160.02 239.61a1.35 1.35 0 1 0 2.7 0a1.35 1.35 0 1 0 -2.7 0M167.07 247.72a1.35 1.35 0 1 0 2.7 0a1.35 1.35 0 1 0 -2.7 0M168.08 243.71a1.35 1.35 0 1 0 2.7 0a1.35 1.35 0 1 0 -2.7 0M155.24 236.24a1.35 1.35 0 1 0 2.7 0a1.35 1.35 0 1 0 -2.7 0M173.29 249.05a1.35 1.35 0 1 0 2.7 0a1.35 1.35 0 1 0 -2.7 0M169.07 247.94a1.35 1.35 0 1 0 2.7 0a1.35 1.35 0 1 0 -2.7 0M157.1 236.03a1.35 1.35 0 1 0 2.7 0a1.35 1.35 0 1 0 -2.7 0M170.98 247.07a1.35 1.35 0 1 0 2.7 0a1.35 1.35 0 1 0 -2.7 0M154.91 234.02a1.35 1.35 0 1 0 2.7 0a1.35 1.35 0 1 0 -2.7 0M161.2 243.68a1.35 1.35 0 1 0 2.7 0a1.35 1.35 0 1 0 -2.7 0M161.5 238.82a1.35 1.35 0 1 0 2.7 0a1.35 1.35 0 1 0 -2.7 0M162.44 240.36a1.35 1.35 0 1 0 2.7 0a1.35 1.35 0 1 0 -2.7 0M152.49 232.76a1.35 1.35 0 1 0 2.7 0a1.35 1.35 0 1 0 -2.7 0M171.11 247.68a1.35 1.35 0 1 0 2.7 0a1.35 1.35 0 1 0 -2.7 0M165.9 241.44a1.35 1.35 0 1 0 2.7 0a1.35 1.35 0 1 0 -2.7 0M156.22 233.88a1.35 1.35 0 1 0 2.7 0a1.35 1.35 0 1 0 -2.7 0M169.79 246.83a1.35 1.35 0 1 0 2.7 0a1.35 1.35 0 1 0 -2.7 0M166.92 250.07a1.35 1.35 0 1 0 2.7 0a1.35 1.35 0 1 0 -2.7 0M166.56 246.04a1.35 1.35 0 1 0 2.7 0a1.35 1.35 0 1 0 -2.7 0M168.34 244.07a1.35 1.35 0 1 0 2.7 0a1.35 1.35 0 1 0 -2.7 0M172.51 251.23a1.35 1.35 0 1 0 2.7 0a1.35 1.35 0 1 0 -2.7 0M160.94 240.95a1.35 1.35 0 1 0 2.7 0a1.35 1.35 0 1 0 -2.7 0M163.03 242.81a1.35 1.35 0 1 0 2.7 0a1.35 1.35 0 1 0 -2.7 0M170.27 249.97a1.35 1.35 0 1 0 2.7 0a1.35 1.35 0 1 0 -2.7 0M160.49 240.41a1.35 1.35 0 1 0 2.7 0a1.35 1.35 0 1 0 -2.7 0M164.35 244.24a1.35 1.35 0 1 0 2.7 0a1.35 1.35 0 1 0 -2.7 0M158.15 234.53a1.35 1.35 0 1 0 2.7 0a1.35 1.35 0 1 0 -2.7 0M161.82 241.15a1.35 1.35 0 1 0 2.7 0a1.35 1.35 0 1 0 -2.7 0M163.31 242.24a1.35 1.35 0 1 0 2.7 0a1.35 1.35 0 1 0 -2.7 0M172.4 250.41a1.35 1.35 0 1 0 2.7 0a1.35 1.35 0 1 0 -2.7 0M155.05 238.38a1.35 1.35 0 1 0 2.7 0a1.35 1.35 0 1 0 -2.7 0M164.33 243.95a1.35 1.35 0 1 0 2.7 0a1.35 1.35 0 1 0 -2.7 0M163.71 243.26a1.35 1.35 0 1 0 2.7 0a1.35 1.35 0 1 0 -2.7 0M157.17 240.61a1.35 1.35 0 1 0 2.7 0a1.35 1.35 0 1 0 -2.7 0M167.89 246.69a1.35 1.35 0 1 0 2.7 0a1.35 1.35 0 1 0 -2.7 0M164.87 246.7a1.35 1.35 0 1 0 2.7 0a1.35 1.35 0 1 0 -2.7 0M161.07 239.07a1.35 1.35 0 1 0 2.7 0a1.35 1.35 0 1 0 -2.7 0M166.35 244.85a1.35 1.35 0 1 0 2.7 0a1.35 1.35 0 1 0 -2.7 0M166.44 246.69a1.35 1.35 0 1 0 2.7 0a1.35 1.35 0 1 0 -2.7 0M166.9 247.93a1.35 1.35 0 1 0 2.7 0a1.35 1.35 0 1 0 -2.7 0M153.76 235.63a1.35 1.35 0 1 0 2.7 0a1.35 1.35 0 1 0 -2.7 0M155.33 231.64a1.35 1.35 0 1 0 2.7 0a1.35 1.35 0 1 0 -2.7 0M157.22 238.07a1.35 1.35 0 1 0 2.7 0a1.35 1.35 0 1 0 -2.7 0M154.14 234.56a1.35 1.35 0 1 0 2.7 0a1.35 1.35 0 1 0 -2.7 0M163.13 241.83a1.35 1.35 0 1 0 2.7 0a1.35 1.35 0 1 0 -2.7 0M161.46 242.49a1.35 1.35 0 1 0 2.7 0a1.35 1.35 0 1 0 -2.7 0M149.15 229.3a1.35 1.35 0 1 0 2.7 0a1.35 1.35 0 1 0 -2.7 0M149.15 232.8a1.35 1.35 0 1 0 2.7 0a1.35 1.35 0 1 0 -2.7 0M153.85 240.5a1.35 1.35 0 1 0 2.7 0a1.35 1.35 0 1 0 -2.7 0M157.25 247.3a1.35 1.35 0 1 0 2.7 0a1.35 1.35 0 1 0 -2.7 0M161.95 249.1a1.35 1.35 0 1 0 2.7 0a1.35 1.35 0 1 0 -2.7 0M167.75 255.7a1.35 1.35 0 1 0 2.7 0a1.35 1.35 0 1 0 -2.7 0M172.45 255a1.35 1.35 0 1 0 2.7 0a1.35 1.35 0 1 0 -2.7 0M174.75 255a1.35 1.35 0 1 0 2.7 0a1.35 1.35 0 1 0 -2.7 0M173.65 248a1.35 1.35 0 1 0 2.7 0a1.35 1.35 0 1 0 -2.7 0M187.65 265.2a1.35 1.35 0 1 0 2.7 0a1.35 1.35 0 1 0 -2.7 0M158.65 243a1.35 1.35 0 1 0 2.7 0a1.35 1.35 0 1 0 -2.7 0M164.65 250.5a1.35 1.35 0 1 0 2.7 0a1.35 1.35 0 1 0 -2.7 0M169.65 253a1.35 1.35 0 1 0 2.7 0a1.35 1.35 0 1 0 -2.7 0" fill="none" stroke="#111" stroke-width="0.65"/>
<path d="M173.8 237.81L175.3 240.42L172.31 240.42z" fill="none" stroke="#111" stroke-width="0.6"/>
<path d="M163.3 230.8L164.8 228.18L161.81 228.18zM176.1 249.5L177.59 246.88L174.6 246.88z" fill="none" stroke="#111" stroke-width="0.6"/>
<path d="M181.8 262a1.3 1.3 0 1 0 2.6 0a1.3 1.3 0 1 0 -2.6 0" fill="#111" stroke="none"/>
<path d="M157.28 237.18a1.1 1.1 0 1 0 2.2 0a1.1 1.1 0 1 0 -2.2 0M160.12 237.54a1.1 1.1 0 1 0 2.2 0a1.1 1.1 0 1 0 -2.2 0M159.84 238.12a1.1 1.1 0 1 0 2.2 0a1.1 1.1 0 1 0 -2.2 0M159.28 237.97a1.1 1.1 0 1 0 2.2 0a1.1 1.1 0 1 0 -2.2 0M160.26 236.03a1.1 1.1 0 1 0 2.2 0a1.1 1.1 0 1 0 -2.2 0M160.88 238.96a1.1 1.1 0 1 0 2.2 0a1.1 1.1 0 1 0 -2.2 0M161.94 240.59a1.1 1.1 0 1 0 2.2 0a1.1 1.1 0 1 0 -2.2 0M156.26 236.08a1.1 1.1 0 1 0 2.2 0a1.1 1.1 0 1 0 -2.2 0M158.56 237.43a1.1 1.1 0 1 0 2.2 0a1.1 1.1 0 1 0 -2.2 0M162.23 241.84a1.1 1.1 0 1 0 2.2 0a1.1 1.1 0 1 0 -2.2 0" fill="#111" stroke="none"/>
<path d="M197.8 277.04L199.06 279.25L196.54 279.25zM215.8 303.13L217.06 305.35L214.54 305.35zM251.5 341.44L252.76 343.65L250.24 343.65zM261.7 353.74L262.96 355.95L260.44 355.95zM268 354.74L269.26 356.95L266.74 356.95zM263 358.24L264.26 360.45L261.74 360.45z" fill="none" stroke="#D98A2C" stroke-width="0.55"/>
<path d="M199.6 278.9h1.8v1.8h-1.8z" fill="none" stroke="#D98A2C" stroke-width="0.55"/>
<path d="M242 320.8h2.6v2.6h-2.6z" fill="#6B46A8" stroke="none"/>
<path d="M250.3 321.48L252.12 323.3L250.3 325.12L248.48 323.3z" fill="#6B46A8" stroke="none"/>
<path d="M265.49 365L266.81 367.31L264.17 367.31zM264.08 366.63L265.4 368.94L262.76 368.94zM270.05 362.99L271.37 365.31L268.73 365.31zM269.75 367.2L271.07 369.51L268.42 369.51zM270.72 363.76L272.05 366.07L269.4 366.07zM266.6 362.79L267.92 365.1L265.27 365.1zM264.95 365.87L266.27 368.18L263.62 368.18zM268.61 367.99L269.93 370.3L267.29 370.3zM269.25 364.5L270.58 366.82L267.93 366.82zM264.58 368.5L265.9 370.82L263.25 370.82zM268.95 365.13L270.28 367.44L267.63 367.44zM265.74 362.95L267.06 365.26L264.41 365.26zM270.24 363.11L271.56 365.42L268.92 365.42zM270.11 366.54L271.43 368.85L268.79 368.85zM267.45 361.72L268.77 364.04L266.13 364.04zM269.63 368.21L270.95 370.52L268.31 370.52zM266.23 362.49L267.56 364.81L264.91 364.81zM271.49 365.5L272.82 367.82L270.17 367.82zM266.79 367.82L268.11 370.14L265.46 370.14zM267.74 366.16L269.06 368.48L266.42 368.48zM267.4 363.59L268.72 365.9L266.07 365.9zM269.1 363.36L270.43 365.67L267.78 365.67zM263.62 364.04L264.94 366.36L262.3 366.36zM271.89 367.55L273.22 369.86L270.57 369.86zM274.48 367.32L275.8 369.64L273.15 369.64zM272.94 365.73L274.26 368.05L271.61 368.05zM267.3 366.19L268.63 368.51L265.98 368.51zM265.89 366.77L267.21 369.08L264.57 369.08zM267.27 365.75L268.59 368.06L265.95 368.06zM266.16 364.91L267.48 367.23L264.84 367.23zM271.19 364.74L272.52 367.05L269.87 367.05zM266.65 365.8L267.97 368.12L265.33 368.12zM270.92 364.8L272.24 367.11L269.6 367.11zM265.29 361.87L266.61 364.19L263.97 364.19zM264.82 367.47L266.14 369.79L263.5 369.79zM268.26 366.22L269.58 368.53L266.93 368.53zM271.45 365.81L272.77 368.12L270.13 368.12zM269.82 364.12L271.15 366.44L268.5 366.44zM264.08 366.54L265.4 368.86L262.76 368.86zM268.24 366.43L269.56 368.74L266.91 368.74zM262 360.68L263.32 362.99L260.68 362.99zM276 361.68L277.32 363.99L274.68 363.99zM273 369.68L274.32 371.99L271.68 371.99z" fill="none" stroke="#C58A3A" stroke-width="0.55"/>
<path d="M286.4 378.47a1.15 1.15 0 1 0 2.3 0a1.15 1.15 0 1 0 -2.3 0M280.3 384.1a1.15 1.15 0 1 0 2.3 0a1.15 1.15 0 1 0 -2.3 0M279.02 367.94a1.15 1.15 0 1 0 2.3 0a1.15 1.15 0 1 0 -2.3 0M285.29 368.86a1.15 1.15 0 1 0 2.3 0a1.15 1.15 0 1 0 -2.3 0M279.38 372.77a1.15 1.15 0 1 0 2.3 0a1.15 1.15 0 1 0 -2.3 0M286.9 393.64a1.15 1.15 0 1 0 2.3 0a1.15 1.15 0 1 0 -2.3 0M288.66 383.84a1.15 1.15 0 1 0 2.3 0a1.15 1.15 0 1 0 -2.3 0M284.01 371.38a1.15 1.15 0 1 0 2.3 0a1.15 1.15 0 1 0 -2.3 0M286.29 375.86a1.15 1.15 0 1 0 2.3 0a1.15 1.15 0 1 0 -2.3 0M285.14 373.1a1.15 1.15 0 1 0 2.3 0a1.15 1.15 0 1 0 -2.3 0M284.18 389.26a1.15 1.15 0 1 0 2.3 0a1.15 1.15 0 1 0 -2.3 0M288.02 371.72a1.15 1.15 0 1 0 2.3 0a1.15 1.15 0 1 0 -2.3 0M292.48 384.08a1.15 1.15 0 1 0 2.3 0a1.15 1.15 0 1 0 -2.3 0M277.28 373.24a1.15 1.15 0 1 0 2.3 0a1.15 1.15 0 1 0 -2.3 0M284.64 389.13a1.15 1.15 0 1 0 2.3 0a1.15 1.15 0 1 0 -2.3 0M288.25 387.8a1.15 1.15 0 1 0 2.3 0a1.15 1.15 0 1 0 -2.3 0M282.6 376.28a1.15 1.15 0 1 0 2.3 0a1.15 1.15 0 1 0 -2.3 0M287.07 377.92a1.15 1.15 0 1 0 2.3 0a1.15 1.15 0 1 0 -2.3 0M295.38 390.62a1.15 1.15 0 1 0 2.3 0a1.15 1.15 0 1 0 -2.3 0M291.05 388.1a1.15 1.15 0 1 0 2.3 0a1.15 1.15 0 1 0 -2.3 0M290.52 381.31a1.15 1.15 0 1 0 2.3 0a1.15 1.15 0 1 0 -2.3 0M291.61 391.95a1.15 1.15 0 1 0 2.3 0a1.15 1.15 0 1 0 -2.3 0M277.07 369.94a1.15 1.15 0 1 0 2.3 0a1.15 1.15 0 1 0 -2.3 0M281.71 369.3a1.15 1.15 0 1 0 2.3 0a1.15 1.15 0 1 0 -2.3 0M280.27 373.89a1.15 1.15 0 1 0 2.3 0a1.15 1.15 0 1 0 -2.3 0M284.6 377.65a1.15 1.15 0 1 0 2.3 0a1.15 1.15 0 1 0 -2.3 0M280.18 366.45a1.15 1.15 0 1 0 2.3 0a1.15 1.15 0 1 0 -2.3 0M286.38 382.21a1.15 1.15 0 1 0 2.3 0a1.15 1.15 0 1 0 -2.3 0M290.04 387.56a1.15 1.15 0 1 0 2.3 0a1.15 1.15 0 1 0 -2.3 0M279.96 379.2a1.15 1.15 0 1 0 2.3 0a1.15 1.15 0 1 0 -2.3 0M285.52 390.03a1.15 1.15 0 1 0 2.3 0a1.15 1.15 0 1 0 -2.3 0M293.1 391.56a1.15 1.15 0 1 0 2.3 0a1.15 1.15 0 1 0 -2.3 0M275.61 374.44a1.15 1.15 0 1 0 2.3 0a1.15 1.15 0 1 0 -2.3 0M288.85 386.4a1.15 1.15 0 1 0 2.3 0a1.15 1.15 0 1 0 -2.3 0M283.46 379.63a1.15 1.15 0 1 0 2.3 0a1.15 1.15 0 1 0 -2.3 0M288.81 394.73a1.15 1.15 0 1 0 2.3 0a1.15 1.15 0 1 0 -2.3 0M286.7 375.29a1.15 1.15 0 1 0 2.3 0a1.15 1.15 0 1 0 -2.3 0M290.66 384.94a1.15 1.15 0 1 0 2.3 0a1.15 1.15 0 1 0 -2.3 0M283.91 377.38a1.15 1.15 0 1 0 2.3 0a1.15 1.15 0 1 0 -2.3 0M281.27 385.01a1.15 1.15 0 1 0 2.3 0a1.15 1.15 0 1 0 -2.3 0M274.69 367.45a1.15 1.15 0 1 0 2.3 0a1.15 1.15 0 1 0 -2.3 0M289.33 396.09a1.15 1.15 0 1 0 2.3 0a1.15 1.15 0 1 0 -2.3 0M281.91 373.46a1.15 1.15 0 1 0 2.3 0a1.15 1.15 0 1 0 -2.3 0M284.8 377.43a1.15 1.15 0 1 0 2.3 0a1.15 1.15 0 1 0 -2.3 0M291.76 385.37a1.15 1.15 0 1 0 2.3 0a1.15 1.15 0 1 0 -2.3 0M292.48 388.5a1.15 1.15 0 1 0 2.3 0a1.15 1.15 0 1 0 -2.3 0M291.63 395.46a1.15 1.15 0 1 0 2.3 0a1.15 1.15 0 1 0 -2.3 0M282.06 373.8a1.15 1.15 0 1 0 2.3 0a1.15 1.15 0 1 0 -2.3 0M281.8 382.53a1.15 1.15 0 1 0 2.3 0a1.15 1.15 0 1 0 -2.3 0M293.66 383.67a1.15 1.15 0 1 0 2.3 0a1.15 1.15 0 1 0 -2.3 0M283.47 381.4a1.15 1.15 0 1 0 2.3 0a1.15 1.15 0 1 0 -2.3 0M286.68 380.13a1.15 1.15 0 1 0 2.3 0a1.15 1.15 0 1 0 -2.3 0M289.62 396.3a1.15 1.15 0 1 0 2.3 0a1.15 1.15 0 1 0 -2.3 0M287.84 392.09a1.15 1.15 0 1 0 2.3 0a1.15 1.15 0 1 0 -2.3 0M284.79 385.81a1.15 1.15 0 1 0 2.3 0a1.15 1.15 0 1 0 -2.3 0M294.87 390.56a1.15 1.15 0 1 0 2.3 0a1.15 1.15 0 1 0 -2.3 0M284.23 378.77a1.15 1.15 0 1 0 2.3 0a1.15 1.15 0 1 0 -2.3 0M291.04 395.94a1.15 1.15 0 1 0 2.3 0a1.15 1.15 0 1 0 -2.3 0M282.62 382.97a1.15 1.15 0 1 0 2.3 0a1.15 1.15 0 1 0 -2.3 0M281.33 370.58a1.15 1.15 0 1 0 2.3 0a1.15 1.15 0 1 0 -2.3 0M289.82 385.03a1.15 1.15 0 1 0 2.3 0a1.15 1.15 0 1 0 -2.3 0M285.31 368.55a1.15 1.15 0 1 0 2.3 0a1.15 1.15 0 1 0 -2.3 0M289.45 389.53a1.15 1.15 0 1 0 2.3 0a1.15 1.15 0 1 0 -2.3 0M291.37 396.37a1.15 1.15 0 1 0 2.3 0a1.15 1.15 0 1 0 -2.3 0M288.05 392.78a1.15 1.15 0 1 0 2.3 0a1.15 1.15 0 1 0 -2.3 0M280.18 383.95a1.15 1.15 0 1 0 2.3 0a1.15 1.15 0 1 0 -2.3 0M289.72 388.06a1.15 1.15 0 1 0 2.3 0a1.15 1.15 0 1 0 -2.3 0M290.79 375.44a1.15 1.15 0 1 0 2.3 0a1.15 1.15 0 1 0 -2.3 0M290.6 380.02a1.15 1.15 0 1 0 2.3 0a1.15 1.15 0 1 0 -2.3 0M276.44 376.23a1.15 1.15 0 1 0 2.3 0a1.15 1.15 0 1 0 -2.3 0M274.91 371.93a1.15 1.15 0 1 0 2.3 0a1.15 1.15 0 1 0 -2.3 0M283.27 379.96a1.15 1.15 0 1 0 2.3 0a1.15 1.15 0 1 0 -2.3 0M288.14 390.67a1.15 1.15 0 1 0 2.3 0a1.15 1.15 0 1 0 -2.3 0M276.43 378.26a1.15 1.15 0 1 0 2.3 0a1.15 1.15 0 1 0 -2.3 0M281.5 373.57a1.15 1.15 0 1 0 2.3 0a1.15 1.15 0 1 0 -2.3 0M285.64 376.75a1.15 1.15 0 1 0 2.3 0a1.15 1.15 0 1 0 -2.3 0M283.87 383.3a1.15 1.15 0 1 0 2.3 0a1.15 1.15 0 1 0 -2.3 0M278.21 368.39a1.15 1.15 0 1 0 2.3 0a1.15 1.15 0 1 0 -2.3 0M278.02 379.22a1.15 1.15 0 1 0 2.3 0a1.15 1.15 0 1 0 -2.3 0M289.45 394.96a1.15 1.15 0 1 0 2.3 0a1.15 1.15 0 1 0 -2.3 0M284.18 374.76a1.15 1.15 0 1 0 2.3 0a1.15 1.15 0 1 0 -2.3 0M294.14 380.69a1.15 1.15 0 1 0 2.3 0a1.15 1.15 0 1 0 -2.3 0M294.16 385.61a1.15 1.15 0 1 0 2.3 0a1.15 1.15 0 1 0 -2.3 0M291.15 392.98a1.15 1.15 0 1 0 2.3 0a1.15 1.15 0 1 0 -2.3 0M284.34 379.75a1.15 1.15 0 1 0 2.3 0a1.15 1.15 0 1 0 -2.3 0M280.61 378a1.15 1.15 0 1 0 2.3 0a1.15 1.15 0 1 0 -2.3 0M293.95 386.15a1.15 1.15 0 1 0 2.3 0a1.15 1.15 0 1 0 -2.3 0M287.11 379.68a1.15 1.15 0 1 0 2.3 0a1.15 1.15 0 1 0 -2.3 0M282.18 380.26a1.15 1.15 0 1 0 2.3 0a1.15 1.15 0 1 0 -2.3 0M286.08 383.15a1.15 1.15 0 1 0 2.3 0a1.15 1.15 0 1 0 -2.3 0M278.79 381.93a1.15 1.15 0 1 0 2.3 0a1.15 1.15 0 1 0 -2.3 0M286.35 371.97a1.15 1.15 0 1 0 2.3 0a1.15 1.15 0 1 0 -2.3 0M289.79 379.37a1.15 1.15 0 1 0 2.3 0a1.15 1.15 0 1 0 -2.3 0M274.24 366.25a1.15 1.15 0 1 0 2.3 0a1.15 1.15 0 1 0 -2.3 0M288.7 372.62a1.15 1.15 0 1 0 2.3 0a1.15 1.15 0 1 0 -2.3 0M286.82 374.38a1.15 1.15 0 1 0 2.3 0a1.15 1.15 0 1 0 -2.3 0M278.16 370.28a1.15 1.15 0 1 0 2.3 0a1.15 1.15 0 1 0 -2.3 0M289.56 375.59a1.15 1.15 0 1 0 2.3 0a1.15 1.15 0 1 0 -2.3 0M287.49 377.79a1.15 1.15 0 1 0 2.3 0a1.15 1.15 0 1 0 -2.3 0M293.81 386.98a1.15 1.15 0 1 0 2.3 0a1.15 1.15 0 1 0 -2.3 0M276.17 377.37a1.15 1.15 0 1 0 2.3 0a1.15 1.15 0 1 0 -2.3 0M292.41 390.24a1.15 1.15 0 1 0 2.3 0a1.15 1.15 0 1 0 -2.3 0M286.85 391.85a1.15 1.15 0 1 0 2.3 0a1.15 1.15 0 1 0 -2.3 0M285.65 377.21a1.15 1.15 0 1 0 2.3 0a1.15 1.15 0 1 0 -2.3 0M285.49 389.95a1.15 1.15 0 1 0 2.3 0a1.15 1.15 0 1 0 -2.3 0M289.21 386.4a1.15 1.15 0 1 0 2.3 0a1.15 1.15 0 1 0 -2.3 0M285.29 384.27a1.15 1.15 0 1 0 2.3 0a1.15 1.15 0 1 0 -2.3 0M281.06 376.69a1.15 1.15 0 1 0 2.3 0a1.15 1.15 0 1 0 -2.3 0M290.06 385.07a1.15 1.15 0 1 0 2.3 0a1.15 1.15 0 1 0 -2.3 0M277.02 369.02a1.15 1.15 0 1 0 2.3 0a1.15 1.15 0 1 0 -2.3 0M289.47 387.75a1.15 1.15 0 1 0 2.3 0a1.15 1.15 0 1 0 -2.3 0M279.4 372.18a1.15 1.15 0 1 0 2.3 0a1.15 1.15 0 1 0 -2.3 0M278.17 369.11a1.15 1.15 0 1 0 2.3 0a1.15 1.15 0 1 0 -2.3 0M277.04 372.89a1.15 1.15 0 1 0 2.3 0a1.15 1.15 0 1 0 -2.3 0M280.58 381.25a1.15 1.15 0 1 0 2.3 0a1.15 1.15 0 1 0 -2.3 0M290.24 383.63a1.15 1.15 0 1 0 2.3 0a1.15 1.15 0 1 0 -2.3 0M279.3 382.11a1.15 1.15 0 1 0 2.3 0a1.15 1.15 0 1 0 -2.3 0M284.91 387.87a1.15 1.15 0 1 0 2.3 0a1.15 1.15 0 1 0 -2.3 0M275.95 369.84a1.15 1.15 0 1 0 2.3 0a1.15 1.15 0 1 0 -2.3 0M287.59 393.76a1.15 1.15 0 1 0 2.3 0a1.15 1.15 0 1 0 -2.3 0M290.87 380.25a1.15 1.15 0 1 0 2.3 0a1.15 1.15 0 1 0 -2.3 0M290.24 389.54a1.15 1.15 0 1 0 2.3 0a1.15 1.15 0 1 0 -2.3 0M290.26 389.84a1.15 1.15 0 1 0 2.3 0a1.15 1.15 0 1 0 -2.3 0M283.71 392.64a1.15 1.15 0 1 0 2.3 0a1.15 1.15 0 1 0 -2.3 0M290.09 378.75a1.15 1.15 0 1 0 2.3 0a1.15 1.15 0 1 0 -2.3 0M288.89 388.93a1.15 1.15 0 1 0 2.3 0a1.15 1.15 0 1 0 -2.3 0M286.62 392.05a1.15 1.15 0 1 0 2.3 0a1.15 1.15 0 1 0 -2.3 0M275.88 369.47a1.15 1.15 0 1 0 2.3 0a1.15 1.15 0 1 0 -2.3 0M279.19 369.21a1.15 1.15 0 1 0 2.3 0a1.15 1.15 0 1 0 -2.3 0M292.98 389.43a1.15 1.15 0 1 0 2.3 0a1.15 1.15 0 1 0 -2.3 0M284.96 381.87a1.15 1.15 0 1 0 2.3 0a1.15 1.15 0 1 0 -2.3 0M292.63 379.37a1.15 1.15 0 1 0 2.3 0a1.15 1.15 0 1 0 -2.3 0M282.4 385.74a1.15 1.15 0 1 0 2.3 0a1.15 1.15 0 1 0 -2.3 0M285.33 381.88a1.15 1.15 0 1 0 2.3 0a1.15 1.15 0 1 0 -2.3 0M280.42 369.18a1.15 1.15 0 1 0 2.3 0a1.15 1.15 0 1 0 -2.3 0M294.43 380.24a1.15 1.15 0 1 0 2.3 0a1.15 1.15 0 1 0 -2.3 0M289.18 391.1a1.15 1.15 0 1 0 2.3 0a1.15 1.15 0 1 0 -2.3 0M286.97 391.15a1.15 1.15 0 1 0 2.3 0a1.15 1.15 0 1 0 -2.3 0M291.92 391.5a1.15 1.15 0 1 0 2.3 0a1.15 1.15 0 1 0 -2.3 0M278.18 367.38a1.15 1.15 0 1 0 2.3 0a1.15 1.15 0 1 0 -2.3 0M286.89 390.63a1.15 1.15 0 1 0 2.3 0a1.15 1.15 0 1 0 -2.3 0M293.13 385.62a1.15 1.15 0 1 0 2.3 0a1.15 1.15 0 1 0 -2.3 0M284.14 389.81a1.15 1.15 0 1 0 2.3 0a1.15 1.15 0 1 0 -2.3 0M282.19 379.27a1.15 1.15 0 1 0 2.3 0a1.15 1.15 0 1 0 -2.3 0M281.02 378.21a1.15 1.15 0 1 0 2.3 0a1.15 1.15 0 1 0 -2.3 0M281.79 379.45a1.15 1.15 0 1 0 2.3 0a1.15 1.15 0 1 0 -2.3 0M280.15 364.33a1.15 1.15 0 1 0 2.3 0a1.15 1.15 0 1 0 -2.3 0M279.89 380.57a1.15 1.15 0 1 0 2.3 0a1.15 1.15 0 1 0 -2.3 0M293.07 393.14a1.15 1.15 0 1 0 2.3 0a1.15 1.15 0 1 0 -2.3 0M288.18 391.42a1.15 1.15 0 1 0 2.3 0a1.15 1.15 0 1 0 -2.3 0M293.12 393.93a1.15 1.15 0 1 0 2.3 0a1.15 1.15 0 1 0 -2.3 0M284.78 370.21a1.15 1.15 0 1 0 2.3 0a1.15 1.15 0 1 0 -2.3 0M289.42 379.6a1.15 1.15 0 1 0 2.3 0a1.15 1.15 0 1 0 -2.3 0M286.51 380.5a1.15 1.15 0 1 0 2.3 0a1.15 1.15 0 1 0 -2.3 0M278.22 376.03a1.15 1.15 0 1 0 2.3 0a1.15 1.15 0 1 0 -2.3 0M282.26 385.08a1.15 1.15 0 1 0 2.3 0a1.15 1.15 0 1 0 -2.3 0M274.18 368.94a1.15 1.15 0 1 0 2.3 0a1.15 1.15 0 1 0 -2.3 0M281.11 384.91a1.15 1.15 0 1 0 2.3 0a1.15 1.15 0 1 0 -2.3 0M275.79 374.22a1.15 1.15 0 1 0 2.3 0a1.15 1.15 0 1 0 -2.3 0M277.73 371.71a1.15 1.15 0 1 0 2.3 0a1.15 1.15 0 1 0 -2.3 0M281.04 377.33a1.15 1.15 0 1 0 2.3 0a1.15 1.15 0 1 0 -2.3 0M284.29 376.59a1.15 1.15 0 1 0 2.3 0a1.15 1.15 0 1 0 -2.3 0M284.74 387.88a1.15 1.15 0 1 0 2.3 0a1.15 1.15 0 1 0 -2.3 0M283.87 382.8a1.15 1.15 0 1 0 2.3 0a1.15 1.15 0 1 0 -2.3 0M289.62 379.52a1.15 1.15 0 1 0 2.3 0a1.15 1.15 0 1 0 -2.3 0M285.68 376.37a1.15 1.15 0 1 0 2.3 0a1.15 1.15 0 1 0 -2.3 0M280.18 375.24a1.15 1.15 0 1 0 2.3 0a1.15 1.15 0 1 0 -2.3 0M288.66 393.92a1.15 1.15 0 1 0 2.3 0a1.15 1.15 0 1 0 -2.3 0M274.76 371.28a1.15 1.15 0 1 0 2.3 0a1.15 1.15 0 1 0 -2.3 0M291.05 384.55a1.15 1.15 0 1 0 2.3 0a1.15 1.15 0 1 0 -2.3 0" fill="none" stroke="#F5A033" stroke-width="0.6"/>
<path d="M281.87 366.46a1 1 0 1 0 2 0a1 1 0 1 0 -2 0M288.49 376.38a1 1 0 1 0 2 0a1 1 0 1 0 -2 0M276.83 369.74a1 1 0 1 0 2 0a1 1 0 1 0 -2 0M287.71 388.05a1 1 0 1 0 2 0a1 1 0 1 0 -2 0M280.03 371.79a1 1 0 1 0 2 0a1 1 0 1 0 -2 0M278.62 369.69a1 1 0 1 0 2 0a1 1 0 1 0 -2 0M285.22 370.69a1 1 0 1 0 2 0a1 1 0 1 0 -2 0M276.95 372.91a1 1 0 1 0 2 0a1 1 0 1 0 -2 0M286.52 388.5a1 1 0 1 0 2 0a1 1 0 1 0 -2 0M288.42 391.42a1 1 0 1 0 2 0a1 1 0 1 0 -2 0M288.45 375.85a1 1 0 1 0 2 0a1 1 0 1 0 -2 0M281.99 369.77a1 1 0 1 0 2 0a1 1 0 1 0 -2 0M285.96 378.04a1 1 0 1 0 2 0a1 1 0 1 0 -2 0M292.67 394.52a1 1 0 1 0 2 0a1 1 0 1 0 -2 0M291.33 384.26a1 1 0 1 0 2 0a1 1 0 1 0 -2 0M280.61 378.37a1 1 0 1 0 2 0a1 1 0 1 0 -2 0M289.59 389.87a1 1 0 1 0 2 0a1 1 0 1 0 -2 0M280.9 368.73a1 1 0 1 0 2 0a1 1 0 1 0 -2 0M282.74 377.42a1 1 0 1 0 2 0a1 1 0 1 0 -2 0M280.15 375.5a1 1 0 1 0 2 0a1 1 0 1 0 -2 0M289.67 377.42a1 1 0 1 0 2 0a1 1 0 1 0 -2 0M285.72 378.4a1 1 0 1 0 2 0a1 1 0 1 0 -2 0M276.01 371.39a1 1 0 1 0 2 0a1 1 0 1 0 -2 0M290.59 382.16a1 1 0 1 0 2 0a1 1 0 1 0 -2 0M284.15 384.23a1 1 0 1 0 2 0a1 1 0 1 0 -2 0M275.74 368.69a1 1 0 1 0 2 0a1 1 0 1 0 -2 0M291.55 387.76a1 1 0 1 0 2 0a1 1 0 1 0 -2 0M285.9 391.13a1 1 0 1 0 2 0a1 1 0 1 0 -2 0M292.73 390.14a1 1 0 1 0 2 0a1 1 0 1 0 -2 0M290.45 388.52a1 1 0 1 0 2 0a1 1 0 1 0 -2 0M283.52 392.43a1 1 0 1 0 2 0a1 1 0 1 0 -2 0M287.55 379.39a1 1 0 1 0 2 0a1 1 0 1 0 -2 0M289.59 380.83a1 1 0 1 0 2 0a1 1 0 1 0 -2 0M292.71 377.27a1 1 0 1 0 2 0a1 1 0 1 0 -2 0M275.78 369.48a1 1 0 1 0 2 0a1 1 0 1 0 -2 0M280.65 373.71a1 1 0 1 0 2 0a1 1 0 1 0 -2 0M292.83 392.39a1 1 0 1 0 2 0a1 1 0 1 0 -2 0M279.54 386.46a1 1 0 1 0 2 0a1 1 0 1 0 -2 0M294.68 388.74a1 1 0 1 0 2 0a1 1 0 1 0 -2 0M277.17 376.93a1 1 0 1 0 2 0a1 1 0 1 0 -2 0M278.73 366.01a1 1 0 1 0 2 0a1 1 0 1 0 -2 0M284.94 374.12a1 1 0 1 0 2 0a1 1 0 1 0 -2 0M286.74 373.83a1 1 0 1 0 2 0a1 1 0 1 0 -2 0M288.8 380.68a1 1 0 1 0 2 0a1 1 0 1 0 -2 0M293.27 392.98a1 1 0 1 0 2 0a1 1 0 1 0 -2 0M284.35 371.93a1 1 0 1 0 2 0a1 1 0 1 0 -2 0M282.54 385.6a1 1 0 1 0 2 0a1 1 0 1 0 -2 0M281.9 376.7a1 1 0 1 0 2 0a1 1 0 1 0 -2 0M287.48 392.58a1 1 0 1 0 2 0a1 1 0 1 0 -2 0M290.06 397.34a1 1 0 1 0 2 0a1 1 0 1 0 -2 0M279.97 365.66a1 1 0 1 0 2 0a1 1 0 1 0 -2 0M284.61 376.14a1 1 0 1 0 2 0a1 1 0 1 0 -2 0M281.99 385.29a1 1 0 1 0 2 0a1 1 0 1 0 -2 0M289.15 376.72a1 1 0 1 0 2 0a1 1 0 1 0 -2 0M285.43 390.92a1 1 0 1 0 2 0a1 1 0 1 0 -2 0M283.49 373.84a1 1 0 1 0 2 0a1 1 0 1 0 -2 0M290.1 386.5a1 1 0 1 0 2 0a1 1 0 1 0 -2 0M286.45 394.32a1 1 0 1 0 2 0a1 1 0 1 0 -2 0M277.36 378.18a1 1 0 1 0 2 0a1 1 0 1 0 -2 0M292.56 394.16a1 1 0 1 0 2 0a1 1 0 1 0 -2 0M290.13 384.87a1 1 0 1 0 2 0a1 1 0 1 0 -2 0M281.6 371.79a1 1 0 1 0 2 0a1 1 0 1 0 -2 0M278.39 367.16a1 1 0 1 0 2 0a1 1 0 1 0 -2 0M279.41 379.44a1 1 0 1 0 2 0a1 1 0 1 0 -2 0M281.16 381.29a1 1 0 1 0 2 0a1 1 0 1 0 -2 0M289.18 375.26a1 1 0 1 0 2 0a1 1 0 1 0 -2 0M289.07 377.92a1 1 0 1 0 2 0a1 1 0 1 0 -2 0M289.25 380.78a1 1 0 1 0 2 0a1 1 0 1 0 -2 0M287.41 379.69a1 1 0 1 0 2 0a1 1 0 1 0 -2 0M286.71 394.55a1 1 0 1 0 2 0a1 1 0 1 0 -2 0M280.28 371.51a1 1 0 1 0 2 0a1 1 0 1 0 -2 0M288.21 394.21a1 1 0 1 0 2 0a1 1 0 1 0 -2 0M280.55 379.74a1 1 0 1 0 2 0a1 1 0 1 0 -2 0M294.26 387.1a1 1 0 1 0 2 0a1 1 0 1 0 -2 0M288.05 371.11a1 1 0 1 0 2 0a1 1 0 1 0 -2 0M287.23 384.1a1 1 0 1 0 2 0a1 1 0 1 0 -2 0M280.55 384.8a1 1 0 1 0 2 0a1 1 0 1 0 -2 0M290.03 377.78a1 1 0 1 0 2 0a1 1 0 1 0 -2 0M289.94 388.25a1 1 0 1 0 2 0a1 1 0 1 0 -2 0M291.45 386.77a1 1 0 1 0 2 0a1 1 0 1 0 -2 0M283.08 377.31a1 1 0 1 0 2 0a1 1 0 1 0 -2 0M294.14 391.91a1 1 0 1 0 2 0a1 1 0 1 0 -2 0M291.49 390.71a1 1 0 1 0 2 0a1 1 0 1 0 -2 0M275.01 366.96a1 1 0 1 0 2 0a1 1 0 1 0 -2 0M285.32 372.46a1 1 0 1 0 2 0a1 1 0 1 0 -2 0M288.78 390.45a1 1 0 1 0 2 0a1 1 0 1 0 -2 0M290.93 395.53a1 1 0 1 0 2 0a1 1 0 1 0 -2 0M281.23 376.25a1 1 0 1 0 2 0a1 1 0 1 0 -2 0M284.17 369.21a1 1 0 1 0 2 0a1 1 0 1 0 -2 0M289.16 381.53a1 1 0 1 0 2 0a1 1 0 1 0 -2 0M282.46 388.17a1 1 0 1 0 2 0a1 1 0 1 0 -2 0M289.09 384.41a1 1 0 1 0 2 0a1 1 0 1 0 -2 0M275.52 368.54a1 1 0 1 0 2 0a1 1 0 1 0 -2 0M290.03 386.4a1 1 0 1 0 2 0a1 1 0 1 0 -2 0M291.88 386.33a1 1 0 1 0 2 0a1 1 0 1 0 -2 0M283.32 375a1 1 0 1 0 2 0a1 1 0 1 0 -2 0M287.85 396.26a1 1 0 1 0 2 0a1 1 0 1 0 -2 0M278.97 383a1 1 0 1 0 2 0a1 1 0 1 0 -2 0M285.36 385.41a1 1 0 1 0 2 0a1 1 0 1 0 -2 0M276.9 369.7a1 1 0 1 0 2 0a1 1 0 1 0 -2 0M276.74 365.66a1 1 0 1 0 2 0a1 1 0 1 0 -2 0M279.58 377.66a1 1 0 1 0 2 0a1 1 0 1 0 -2 0M279.26 373.69a1 1 0 1 0 2 0a1 1 0 1 0 -2 0M283.06 375.85a1 1 0 1 0 2 0a1 1 0 1 0 -2 0M290.38 381.27a1 1 0 1 0 2 0a1 1 0 1 0 -2 0M293.72 381.33a1 1 0 1 0 2 0a1 1 0 1 0 -2 0M285.23 383.93a1 1 0 1 0 2 0a1 1 0 1 0 -2 0M286.62 386.52a1 1 0 1 0 2 0a1 1 0 1 0 -2 0M283.45 367.41a1 1 0 1 0 2 0a1 1 0 1 0 -2 0M293.66 395.42a1 1 0 1 0 2 0a1 1 0 1 0 -2 0M278.12 377.75a1 1 0 1 0 2 0a1 1 0 1 0 -2 0M290.4 393.59a1 1 0 1 0 2 0a1 1 0 1 0 -2 0M288.24 372.93a1 1 0 1 0 2 0a1 1 0 1 0 -2 0M276.29 373.4a1 1 0 1 0 2 0a1 1 0 1 0 -2 0M285.29 392.69a1 1 0 1 0 2 0a1 1 0 1 0 -2 0M285.52 370.98a1 1 0 1 0 2 0a1 1 0 1 0 -2 0M293.48 386.91a1 1 0 1 0 2 0a1 1 0 1 0 -2 0M287.03 382.53a1 1 0 1 0 2 0a1 1 0 1 0 -2 0M287.22 385.42a1 1 0 1 0 2 0a1 1 0 1 0 -2 0M286.05 375.99a1 1 0 1 0 2 0a1 1 0 1 0 -2 0M284.21 381.07a1 1 0 1 0 2 0a1 1 0 1 0 -2 0M290.34 381.8a1 1 0 1 0 2 0a1 1 0 1 0 -2 0M286.37 380.72a1 1 0 1 0 2 0a1 1 0 1 0 -2 0M284.22 378a1 1 0 1 0 2 0a1 1 0 1 0 -2 0M289.1 381.07a1 1 0 1 0 2 0a1 1 0 1 0 -2 0M283.99 382.88a1 1 0 1 0 2 0a1 1 0 1 0 -2 0M277.21 380.32a1 1 0 1 0 2 0a1 1 0 1 0 -2 0M285.49 377.92a1 1 0 1 0 2 0a1 1 0 1 0 -2 0M279.56 377.65a1 1 0 1 0 2 0a1 1 0 1 0 -2 0M284.98 391.28a1 1 0 1 0 2 0a1 1 0 1 0 -2 0M277.87 377.58a1 1 0 1 0 2 0a1 1 0 1 0 -2 0M288.1 384.07a1 1 0 1 0 2 0a1 1 0 1 0 -2 0M286.55 384.68a1 1 0 1 0 2 0a1 1 0 1 0 -2 0M281.71 387.75a1 1 0 1 0 2 0a1 1 0 1 0 -2 0M282.32 373.79a1 1 0 1 0 2 0a1 1 0 1 0 -2 0M280.17 381.03a1 1 0 1 0 2 0a1 1 0 1 0 -2 0M290.93 388.18a1 1 0 1 0 2 0a1 1 0 1 0 -2 0M292.12 380.06a1 1 0 1 0 2 0a1 1 0 1 0 -2 0M279.32 369.98a1 1 0 1 0 2 0a1 1 0 1 0 -2 0M286.8 394.13a1 1 0 1 0 2 0a1 1 0 1 0 -2 0M283.94 370.13a1 1 0 1 0 2 0a1 1 0 1 0 -2 0M288.48 380.91a1 1 0 1 0 2 0a1 1 0 1 0 -2 0M295.86 385.06a1 1 0 1 0 2 0a1 1 0 1 0 -2 0M278.09 373.56a1 1 0 1 0 2 0a1 1 0 1 0 -2 0M286.15 380.26a1 1 0 1 0 2 0a1 1 0 1 0 -2 0M288.96 383.97a1 1 0 1 0 2 0a1 1 0 1 0 -2 0M282.31 381a1 1 0 1 0 2 0a1 1 0 1 0 -2 0M293.72 380.35a1 1 0 1 0 2 0a1 1 0 1 0 -2 0M285.35 391.45a1 1 0 1 0 2 0a1 1 0 1 0 -2 0M290.58 378.75a1 1 0 1 0 2 0a1 1 0 1 0 -2 0M275.64 368.17a1 1 0 1 0 2 0a1 1 0 1 0 -2 0M285.84 383.33a1 1 0 1 0 2 0a1 1 0 1 0 -2 0M284.11 374.87a1 1 0 1 0 2 0a1 1 0 1 0 -2 0M277.11 368.68a1 1 0 1 0 2 0a1 1 0 1 0 -2 0M289.06 396.69a1 1 0 1 0 2 0a1 1 0 1 0 -2 0M291.33 380.57a1 1 0 1 0 2 0a1 1 0 1 0 -2 0M277.2 372.82a1 1 0 1 0 2 0a1 1 0 1 0 -2 0M287.52 393.31a1 1 0 1 0 2 0a1 1 0 1 0 -2 0M293.22 383.51a1 1 0 1 0 2 0a1 1 0 1 0 -2 0M287.15 384.42a1 1 0 1 0 2 0a1 1 0 1 0 -2 0M276.29 372.11a1 1 0 1 0 2 0a1 1 0 1 0 -2 0M276.55 372.44a1 1 0 1 0 2 0a1 1 0 1 0 -2 0M285.23 372.32a1 1 0 1 0 2 0a1 1 0 1 0 -2 0M280.1 378.37a1 1 0 1 0 2 0a1 1 0 1 0 -2 0M285.42 375.79a1 1 0 1 0 2 0a1 1 0 1 0 -2 0M281.09 384.06a1 1 0 1 0 2 0a1 1 0 1 0 -2 0M287.51 375.36a1 1 0 1 0 2 0a1 1 0 1 0 -2 0M285.53 371.55a1 1 0 1 0 2 0a1 1 0 1 0 -2 0M282.43 372.08a1 1 0 1 0 2 0a1 1 0 1 0 -2 0M287.61 376.5a1 1 0 1 0 2 0a1 1 0 1 0 -2 0M277.69 376.02a1 1 0 1 0 2 0a1 1 0 1 0 -2 0M279.65 373.66a1 1 0 1 0 2 0a1 1 0 1 0 -2 0M284.84 394.98a1 1 0 1 0 2 0a1 1 0 1 0 -2 0M283.93 382.85a1 1 0 1 0 2 0a1 1 0 1 0 -2 0M294.8 381.1a1 1 0 1 0 2 0a1 1 0 1 0 -2 0M286.01 380.17a1 1 0 1 0 2 0a1 1 0 1 0 -2 0M275.59 365.11a1 1 0 1 0 2 0a1 1 0 1 0 -2 0M288.78 381.68a1 1 0 1 0 2 0a1 1 0 1 0 -2 0M292.31 384.96a1 1 0 1 0 2 0a1 1 0 1 0 -2 0M294.01 383.92a1 1 0 1 0 2 0a1 1 0 1 0 -2 0M293.11 392.54a1 1 0 1 0 2 0a1 1 0 1 0 -2 0M292.29 377.37a1 1 0 1 0 2 0a1 1 0 1 0 -2 0M294.74 385.15a1 1 0 1 0 2 0a1 1 0 1 0 -2 0M286.19 371.34a1 1 0 1 0 2 0a1 1 0 1 0 -2 0M289.11 385.66a1 1 0 1 0 2 0a1 1 0 1 0 -2 0M292.92 382.17a1 1 0 1 0 2 0a1 1 0 1 0 -2 0M289.14 380.9a1 1 0 1 0 2 0a1 1 0 1 0 -2 0M279.16 367.95a1 1 0 1 0 2 0a1 1 0 1 0 -2 0M288.09 385.6a1 1 0 1 0 2 0a1 1 0 1 0 -2 0M285.1 370.69a1 1 0 1 0 2 0a1 1 0 1 0 -2 0M286.01 381.08a1 1 0 1 0 2 0a1 1 0 1 0 -2 0M282.9 383.31a1 1 0 1 0 2 0a1 1 0 1 0 -2 0M294.27 387.73a1 1 0 1 0 2 0a1 1 0 1 0 -2 0M287.97 384.41a1 1 0 1 0 2 0a1 1 0 1 0 -2 0M292 381.57a1 1 0 1 0 2 0a1 1 0 1 0 -2 0M279.29 378.77a1 1 0 1 0 2 0a1 1 0 1 0 -2 0M291.95 387.68a1 1 0 1 0 2 0a1 1 0 1 0 -2 0M285.47 381.91a1 1 0 1 0 2 0a1 1 0 1 0 -2 0M289.8 375.67a1 1 0 1 0 2 0a1 1 0 1 0 -2 0M279.97 367.44a1 1 0 1 0 2 0a1 1 0 1 0 -2 0" fill="#F5A033" stroke="none"/>
<path d="M304.43 364.97a1.05 1.05 0 1 0 2.1 0a1.05 1.05 0 1 0 -2.1 0M290.67 376.87a1.05 1.05 0 1 0 2.1 0a1.05 1.05 0 1 0 -2.1 0M296.56 364.58a1.05 1.05 0 1 0 2.1 0a1.05 1.05 0 1 0 -2.1 0M304.87 371.23a1.05 1.05 0 1 0 2.1 0a1.05 1.05 0 1 0 -2.1 0M290.45 379.21a1.05 1.05 0 1 0 2.1 0a1.05 1.05 0 1 0 -2.1 0M308.75 358.37a1.05 1.05 0 1 0 2.1 0a1.05 1.05 0 1 0 -2.1 0M301.32 375.04a1.05 1.05 0 1 0 2.1 0a1.05 1.05 0 1 0 -2.1 0M304.36 367.47a1.05 1.05 0 1 0 2.1 0a1.05 1.05 0 1 0 -2.1 0M302.31 372.64a1.05 1.05 0 1 0 2.1 0a1.05 1.05 0 1 0 -2.1 0M296.07 376.91a1.05 1.05 0 1 0 2.1 0a1.05 1.05 0 1 0 -2.1 0M309.91 354.92a1.05 1.05 0 1 0 2.1 0a1.05 1.05 0 1 0 -2.1 0M297.15 363.38a1.05 1.05 0 1 0 2.1 0a1.05 1.05 0 1 0 -2.1 0M300.36 365.97a1.05 1.05 0 1 0 2.1 0a1.05 1.05 0 1 0 -2.1 0M294.61 368.03a1.05 1.05 0 1 0 2.1 0a1.05 1.05 0 1 0 -2.1 0M292.6 366.73a1.05 1.05 0 1 0 2.1 0a1.05 1.05 0 1 0 -2.1 0M293.17 378.49a1.05 1.05 0 1 0 2.1 0a1.05 1.05 0 1 0 -2.1 0M291.34 360.98a1.05 1.05 0 1 0 2.1 0a1.05 1.05 0 1 0 -2.1 0M297.46 365.41a1.05 1.05 0 1 0 2.1 0a1.05 1.05 0 1 0 -2.1 0M295.2 380.51a1.05 1.05 0 1 0 2.1 0a1.05 1.05 0 1 0 -2.1 0M300.39 362.82a1.05 1.05 0 1 0 2.1 0a1.05 1.05 0 1 0 -2.1 0M303.51 363.12a1.05 1.05 0 1 0 2.1 0a1.05 1.05 0 1 0 -2.1 0M297.55 361.93a1.05 1.05 0 1 0 2.1 0a1.05 1.05 0 1 0 -2.1 0M302.69 364.17a1.05 1.05 0 1 0 2.1 0a1.05 1.05 0 1 0 -2.1 0M298.38 367.88a1.05 1.05 0 1 0 2.1 0a1.05 1.05 0 1 0 -2.1 0M298.33 355.7a1.05 1.05 0 1 0 2.1 0a1.05 1.05 0 1 0 -2.1 0M292.79 357.68a1.05 1.05 0 1 0 2.1 0a1.05 1.05 0 1 0 -2.1 0M307.62 360.11a1.05 1.05 0 1 0 2.1 0a1.05 1.05 0 1 0 -2.1 0M291.87 372.19a1.05 1.05 0 1 0 2.1 0a1.05 1.05 0 1 0 -2.1 0M304.79 372.67a1.05 1.05 0 1 0 2.1 0a1.05 1.05 0 1 0 -2.1 0M303.14 365.93a1.05 1.05 0 1 0 2.1 0a1.05 1.05 0 1 0 -2.1 0M308.18 363.41a1.05 1.05 0 1 0 2.1 0a1.05 1.05 0 1 0 -2.1 0M296.38 363.56a1.05 1.05 0 1 0 2.1 0a1.05 1.05 0 1 0 -2.1 0M293.33 355.89a1.05 1.05 0 1 0 2.1 0a1.05 1.05 0 1 0 -2.1 0M307.53 355.09a1.05 1.05 0 1 0 2.1 0a1.05 1.05 0 1 0 -2.1 0M306.38 370.04a1.05 1.05 0 1 0 2.1 0a1.05 1.05 0 1 0 -2.1 0M297.41 356.99a1.05 1.05 0 1 0 2.1 0a1.05 1.05 0 1 0 -2.1 0M290.61 377.16a1.05 1.05 0 1 0 2.1 0a1.05 1.05 0 1 0 -2.1 0M295.11 370.74a1.05 1.05 0 1 0 2.1 0a1.05 1.05 0 1 0 -2.1 0M293.05 371.25a1.05 1.05 0 1 0 2.1 0a1.05 1.05 0 1 0 -2.1 0M289.77 366.68a1.05 1.05 0 1 0 2.1 0a1.05 1.05 0 1 0 -2.1 0M293.08 359.47a1.05 1.05 0 1 0 2.1 0a1.05 1.05 0 1 0 -2.1 0M294.38 371.13a1.05 1.05 0 1 0 2.1 0a1.05 1.05 0 1 0 -2.1 0M304.22 367.68a1.05 1.05 0 1 0 2.1 0a1.05 1.05 0 1 0 -2.1 0M307.58 363.89a1.05 1.05 0 1 0 2.1 0a1.05 1.05 0 1 0 -2.1 0M300.24 353.62a1.05 1.05 0 1 0 2.1 0a1.05 1.05 0 1 0 -2.1 0M297.02 362.61a1.05 1.05 0 1 0 2.1 0a1.05 1.05 0 1 0 -2.1 0M305.56 363.25a1.05 1.05 0 1 0 2.1 0a1.05 1.05 0 1 0 -2.1 0M304.04 357.59a1.05 1.05 0 1 0 2.1 0a1.05 1.05 0 1 0 -2.1 0M303.55 370.41a1.05 1.05 0 1 0 2.1 0a1.05 1.05 0 1 0 -2.1 0M307.01 353.51a1.05 1.05 0 1 0 2.1 0a1.05 1.05 0 1 0 -2.1 0M294.61 364.99a1.05 1.05 0 1 0 2.1 0a1.05 1.05 0 1 0 -2.1 0M294.33 373.95a1.05 1.05 0 1 0 2.1 0a1.05 1.05 0 1 0 -2.1 0M302.36 373.11a1.05 1.05 0 1 0 2.1 0a1.05 1.05 0 1 0 -2.1 0M304.14 363.51a1.05 1.05 0 1 0 2.1 0a1.05 1.05 0 1 0 -2.1 0M304.61 371.62a1.05 1.05 0 1 0 2.1 0a1.05 1.05 0 1 0 -2.1 0M295.64 375.22a1.05 1.05 0 1 0 2.1 0a1.05 1.05 0 1 0 -2.1 0M304.51 366.72a1.05 1.05 0 1 0 2.1 0a1.05 1.05 0 1 0 -2.1 0M302.67 368.25a1.05 1.05 0 1 0 2.1 0a1.05 1.05 0 1 0 -2.1 0M290.82 367.02a1.05 1.05 0 1 0 2.1 0a1.05 1.05 0 1 0 -2.1 0M291.27 378.51a1.05 1.05 0 1 0 2.1 0a1.05 1.05 0 1 0 -2.1 0M303.73 372.82a1.05 1.05 0 1 0 2.1 0a1.05 1.05 0 1 0 -2.1 0M298.9 368.55a1.05 1.05 0 1 0 2.1 0a1.05 1.05 0 1 0 -2.1 0M302.68 354.67a1.05 1.05 0 1 0 2.1 0a1.05 1.05 0 1 0 -2.1 0M304.48 368.73a1.05 1.05 0 1 0 2.1 0a1.05 1.05 0 1 0 -2.1 0M292.32 367.41a1.05 1.05 0 1 0 2.1 0a1.05 1.05 0 1 0 -2.1 0M293.4 373.6a1.05 1.05 0 1 0 2.1 0a1.05 1.05 0 1 0 -2.1 0M306.19 359.04a1.05 1.05 0 1 0 2.1 0a1.05 1.05 0 1 0 -2.1 0M303.53 367.12a1.05 1.05 0 1 0 2.1 0a1.05 1.05 0 1 0 -2.1 0M297.42 365.75a1.05 1.05 0 1 0 2.1 0a1.05 1.05 0 1 0 -2.1 0M303.15 362.61a1.05 1.05 0 1 0 2.1 0a1.05 1.05 0 1 0 -2.1 0M295.67 368.43a1.05 1.05 0 1 0 2.1 0a1.05 1.05 0 1 0 -2.1 0M291.51 359.97a1.05 1.05 0 1 0 2.1 0a1.05 1.05 0 1 0 -2.1 0M299.68 355.03a1.05 1.05 0 1 0 2.1 0a1.05 1.05 0 1 0 -2.1 0M293.56 361.3a1.05 1.05 0 1 0 2.1 0a1.05 1.05 0 1 0 -2.1 0M294.76 370.58a1.05 1.05 0 1 0 2.1 0a1.05 1.05 0 1 0 -2.1 0M301.83 355.35a1.05 1.05 0 1 0 2.1 0a1.05 1.05 0 1 0 -2.1 0M305.15 370.04a1.05 1.05 0 1 0 2.1 0a1.05 1.05 0 1 0 -2.1 0M292.74 357.06a1.05 1.05 0 1 0 2.1 0a1.05 1.05 0 1 0 -2.1 0M290.54 365.65a1.05 1.05 0 1 0 2.1 0a1.05 1.05 0 1 0 -2.1 0M306.86 367.76a1.05 1.05 0 1 0 2.1 0a1.05 1.05 0 1 0 -2.1 0M294.44 371.19a1.05 1.05 0 1 0 2.1 0a1.05 1.05 0 1 0 -2.1 0M300.72 373.18a1.05 1.05 0 1 0 2.1 0a1.05 1.05 0 1 0 -2.1 0M293.86 360.27a1.05 1.05 0 1 0 2.1 0a1.05 1.05 0 1 0 -2.1 0M298.48 380.54a1.05 1.05 0 1 0 2.1 0a1.05 1.05 0 1 0 -2.1 0M304.69 357.52a1.05 1.05 0 1 0 2.1 0a1.05 1.05 0 1 0 -2.1 0M292.61 363.59a1.05 1.05 0 1 0 2.1 0a1.05 1.05 0 1 0 -2.1 0M294.56 374.13a1.05 1.05 0 1 0 2.1 0a1.05 1.05 0 1 0 -2.1 0M307.61 357.14a1.05 1.05 0 1 0 2.1 0a1.05 1.05 0 1 0 -2.1 0M301.05 368.56a1.05 1.05 0 1 0 2.1 0a1.05 1.05 0 1 0 -2.1 0M293.38 358.18a1.05 1.05 0 1 0 2.1 0a1.05 1.05 0 1 0 -2.1 0M304.94 369.07a1.05 1.05 0 1 0 2.1 0a1.05 1.05 0 1 0 -2.1 0M306.04 367.09a1.05 1.05 0 1 0 2.1 0a1.05 1.05 0 1 0 -2.1 0M303.21 363.66a1.05 1.05 0 1 0 2.1 0a1.05 1.05 0 1 0 -2.1 0M292.25 361.44a1.05 1.05 0 1 0 2.1 0a1.05 1.05 0 1 0 -2.1 0M301.95 367.93a1.05 1.05 0 1 0 2.1 0a1.05 1.05 0 1 0 -2.1 0M298.99 366.32a1.05 1.05 0 1 0 2.1 0a1.05 1.05 0 1 0 -2.1 0M299.19 360.11a1.05 1.05 0 1 0 2.1 0a1.05 1.05 0 1 0 -2.1 0M294.1 359.19a1.05 1.05 0 1 0 2.1 0a1.05 1.05 0 1 0 -2.1 0M296.45 368.88a1.05 1.05 0 1 0 2.1 0a1.05 1.05 0 1 0 -2.1 0M301.26 356.11a1.05 1.05 0 1 0 2.1 0a1.05 1.05 0 1 0 -2.1 0M303.69 360.72a1.05 1.05 0 1 0 2.1 0a1.05 1.05 0 1 0 -2.1 0M291.35 375.94a1.05 1.05 0 1 0 2.1 0a1.05 1.05 0 1 0 -2.1 0M307.36 354.55a1.05 1.05 0 1 0 2.1 0a1.05 1.05 0 1 0 -2.1 0M304.01 372.89a1.05 1.05 0 1 0 2.1 0a1.05 1.05 0 1 0 -2.1 0M303.48 372.59a1.05 1.05 0 1 0 2.1 0a1.05 1.05 0 1 0 -2.1 0M299.51 360.5a1.05 1.05 0 1 0 2.1 0a1.05 1.05 0 1 0 -2.1 0M302.29 367.08a1.05 1.05 0 1 0 2.1 0a1.05 1.05 0 1 0 -2.1 0M290.06 365.55a1.05 1.05 0 1 0 2.1 0a1.05 1.05 0 1 0 -2.1 0M298.76 356.51a1.05 1.05 0 1 0 2.1 0a1.05 1.05 0 1 0 -2.1 0M290.52 374.42a1.05 1.05 0 1 0 2.1 0a1.05 1.05 0 1 0 -2.1 0M294.06 380.1a1.05 1.05 0 1 0 2.1 0a1.05 1.05 0 1 0 -2.1 0M303.62 356.16a1.05 1.05 0 1 0 2.1 0a1.05 1.05 0 1 0 -2.1 0M291.57 378.24a1.05 1.05 0 1 0 2.1 0a1.05 1.05 0 1 0 -2.1 0M302.87 357.87a1.05 1.05 0 1 0 2.1 0a1.05 1.05 0 1 0 -2.1 0M300.6 354.1a1.05 1.05 0 1 0 2.1 0a1.05 1.05 0 1 0 -2.1 0M300.87 372.99a1.05 1.05 0 1 0 2.1 0a1.05 1.05 0 1 0 -2.1 0M295.61 373.94a1.05 1.05 0 1 0 2.1 0a1.05 1.05 0 1 0 -2.1 0M294.48 366.56a1.05 1.05 0 1 0 2.1 0a1.05 1.05 0 1 0 -2.1 0M298.73 356.58a1.05 1.05 0 1 0 2.1 0a1.05 1.05 0 1 0 -2.1 0M296.73 368.4a1.05 1.05 0 1 0 2.1 0a1.05 1.05 0 1 0 -2.1 0M294.37 380.91a1.05 1.05 0 1 0 2.1 0a1.05 1.05 0 1 0 -2.1 0M296.55 370.86a1.05 1.05 0 1 0 2.1 0a1.05 1.05 0 1 0 -2.1 0M292.95 380.4a1.05 1.05 0 1 0 2.1 0a1.05 1.05 0 1 0 -2.1 0M305.44 355.35a1.05 1.05 0 1 0 2.1 0a1.05 1.05 0 1 0 -2.1 0M305.72 372.49a1.05 1.05 0 1 0 2.1 0a1.05 1.05 0 1 0 -2.1 0M294.21 370.79a1.05 1.05 0 1 0 2.1 0a1.05 1.05 0 1 0 -2.1 0M300.65 369.4a1.05 1.05 0 1 0 2.1 0a1.05 1.05 0 1 0 -2.1 0M295.98 359.14a1.05 1.05 0 1 0 2.1 0a1.05 1.05 0 1 0 -2.1 0M306.87 357.75a1.05 1.05 0 1 0 2.1 0a1.05 1.05 0 1 0 -2.1 0M309.79 361.87a1.05 1.05 0 1 0 2.1 0a1.05 1.05 0 1 0 -2.1 0M294.35 366.11a1.05 1.05 0 1 0 2.1 0a1.05 1.05 0 1 0 -2.1 0M292.21 362.61a1.05 1.05 0 1 0 2.1 0a1.05 1.05 0 1 0 -2.1 0M291.66 375.65a1.05 1.05 0 1 0 2.1 0a1.05 1.05 0 1 0 -2.1 0M302.59 361.28a1.05 1.05 0 1 0 2.1 0a1.05 1.05 0 1 0 -2.1 0M293.88 378.87a1.05 1.05 0 1 0 2.1 0a1.05 1.05 0 1 0 -2.1 0M291.97 372.24a1.05 1.05 0 1 0 2.1 0a1.05 1.05 0 1 0 -2.1 0M302.42 359.67a1.05 1.05 0 1 0 2.1 0a1.05 1.05 0 1 0 -2.1 0M306.52 370.06a1.05 1.05 0 1 0 2.1 0a1.05 1.05 0 1 0 -2.1 0M290.82 377.43a1.05 1.05 0 1 0 2.1 0a1.05 1.05 0 1 0 -2.1 0M301.29 366.17a1.05 1.05 0 1 0 2.1 0a1.05 1.05 0 1 0 -2.1 0M295.02 367.78a1.05 1.05 0 1 0 2.1 0a1.05 1.05 0 1 0 -2.1 0M302.91 358.91a1.05 1.05 0 1 0 2.1 0a1.05 1.05 0 1 0 -2.1 0M299.97 366.05a1.05 1.05 0 1 0 2.1 0a1.05 1.05 0 1 0 -2.1 0M307.3 366.66a1.05 1.05 0 1 0 2.1 0a1.05 1.05 0 1 0 -2.1 0M291.59 360.99a1.05 1.05 0 1 0 2.1 0a1.05 1.05 0 1 0 -2.1 0M300.41 361.38a1.05 1.05 0 1 0 2.1 0a1.05 1.05 0 1 0 -2.1 0M297.24 372.76a1.05 1.05 0 1 0 2.1 0a1.05 1.05 0 1 0 -2.1 0M297.16 377.43a1.05 1.05 0 1 0 2.1 0a1.05 1.05 0 1 0 -2.1 0M291.78 376.31a1.05 1.05 0 1 0 2.1 0a1.05 1.05 0 1 0 -2.1 0M299.95 372.79a1.05 1.05 0 1 0 2.1 0a1.05 1.05 0 1 0 -2.1 0M304.72 358.07a1.05 1.05 0 1 0 2.1 0a1.05 1.05 0 1 0 -2.1 0M293.81 363.41a1.05 1.05 0 1 0 2.1 0a1.05 1.05 0 1 0 -2.1 0M291.64 371.89a1.05 1.05 0 1 0 2.1 0a1.05 1.05 0 1 0 -2.1 0M304.49 362.55a1.05 1.05 0 1 0 2.1 0a1.05 1.05 0 1 0 -2.1 0M295.2 360.15a1.05 1.05 0 1 0 2.1 0a1.05 1.05 0 1 0 -2.1 0M300.27 355.19a1.05 1.05 0 1 0 2.1 0a1.05 1.05 0 1 0 -2.1 0M308.83 356.97a1.05 1.05 0 1 0 2.1 0a1.05 1.05 0 1 0 -2.1 0M293.9 360.09a1.05 1.05 0 1 0 2.1 0a1.05 1.05 0 1 0 -2.1 0M291.8 359.77a1.05 1.05 0 1 0 2.1 0a1.05 1.05 0 1 0 -2.1 0M305.65 361.07a1.05 1.05 0 1 0 2.1 0a1.05 1.05 0 1 0 -2.1 0M292.37 363.57a1.05 1.05 0 1 0 2.1 0a1.05 1.05 0 1 0 -2.1 0M305.42 367.9a1.05 1.05 0 1 0 2.1 0a1.05 1.05 0 1 0 -2.1 0M303.95 366.99a1.05 1.05 0 1 0 2.1 0a1.05 1.05 0 1 0 -2.1 0M295.68 358.15a1.05 1.05 0 1 0 2.1 0a1.05 1.05 0 1 0 -2.1 0M293.31 373.87a1.05 1.05 0 1 0 2.1 0a1.05 1.05 0 1 0 -2.1 0M294.39 373.75a1.05 1.05 0 1 0 2.1 0a1.05 1.05 0 1 0 -2.1 0M303.59 372.87a1.05 1.05 0 1 0 2.1 0a1.05 1.05 0 1 0 -2.1 0M306.39 363.18a1.05 1.05 0 1 0 2.1 0a1.05 1.05 0 1 0 -2.1 0M299.58 374.92a1.05 1.05 0 1 0 2.1 0a1.05 1.05 0 1 0 -2.1 0M300.04 365.4a1.05 1.05 0 1 0 2.1 0a1.05 1.05 0 1 0 -2.1 0M293.85 360.43a1.05 1.05 0 1 0 2.1 0a1.05 1.05 0 1 0 -2.1 0M299.17 377.7a1.05 1.05 0 1 0 2.1 0a1.05 1.05 0 1 0 -2.1 0M298.13 357.55a1.05 1.05 0 1 0 2.1 0a1.05 1.05 0 1 0 -2.1 0M303.2 363.45a1.05 1.05 0 1 0 2.1 0a1.05 1.05 0 1 0 -2.1 0M296.93 377.36a1.05 1.05 0 1 0 2.1 0a1.05 1.05 0 1 0 -2.1 0M302.4 376.2a1.05 1.05 0 1 0 2.1 0a1.05 1.05 0 1 0 -2.1 0M301.18 370.31a1.05 1.05 0 1 0 2.1 0a1.05 1.05 0 1 0 -2.1 0M303.29 373.23a1.05 1.05 0 1 0 2.1 0a1.05 1.05 0 1 0 -2.1 0M298.21 373.7a1.05 1.05 0 1 0 2.1 0a1.05 1.05 0 1 0 -2.1 0M292.21 375.17a1.05 1.05 0 1 0 2.1 0a1.05 1.05 0 1 0 -2.1 0M299.23 355.62a1.05 1.05 0 1 0 2.1 0a1.05 1.05 0 1 0 -2.1 0M305.55 355.12a1.05 1.05 0 1 0 2.1 0a1.05 1.05 0 1 0 -2.1 0M292.38 378.2a1.05 1.05 0 1 0 2.1 0a1.05 1.05 0 1 0 -2.1 0M293.77 357.86a1.05 1.05 0 1 0 2.1 0a1.05 1.05 0 1 0 -2.1 0M298.72 371.74a1.05 1.05 0 1 0 2.1 0a1.05 1.05 0 1 0 -2.1 0M305.36 357.08a1.05 1.05 0 1 0 2.1 0a1.05 1.05 0 1 0 -2.1 0M291.4 372.46a1.05 1.05 0 1 0 2.1 0a1.05 1.05 0 1 0 -2.1 0M299.24 363.61a1.05 1.05 0 1 0 2.1 0a1.05 1.05 0 1 0 -2.1 0M304.36 356.03a1.05 1.05 0 1 0 2.1 0a1.05 1.05 0 1 0 -2.1 0M300.74 360.64a1.05 1.05 0 1 0 2.1 0a1.05 1.05 0 1 0 -2.1 0" fill="#6B46A8" stroke="none"/>
<path d="M298.69 368.3L299.86 369.47L298.69 370.64L297.52 369.47zM301.06 372.25L302.23 373.42L301.06 374.59L299.89 373.42zM298.43 373.04L299.6 374.21L298.43 375.38L297.26 374.21zM293.99 361.72L295.16 362.89L293.99 364.06L292.82 362.89zM309.65 353.92L310.82 355.09L309.65 356.26L308.48 355.09zM309.43 364.45L310.6 365.62L309.43 366.79L308.26 365.62zM306.18 369.91L307.35 371.08L306.18 372.25L305.01 371.08zM291.33 366.08L292.5 367.25L291.33 368.42L290.16 367.25zM294.61 367.91L295.78 369.08L294.61 370.25L293.44 369.08zM303.27 364.76L304.44 365.93L303.27 367.1L302.1 365.93zM296.63 356.39L297.8 357.56L296.63 358.73L295.46 357.56zM309.2 366.99L310.37 368.16L309.2 369.33L308.03 368.16zM304.76 365.51L305.93 366.68L304.76 367.85L303.59 366.68zM297.69 375.7L298.86 376.87L297.69 378.04L296.52 376.87zM295.36 363.28L296.53 364.45L295.36 365.62L294.19 364.45zM312.06 361.55L313.23 362.72L312.06 363.89L310.89 362.72zM301.42 369.06L302.59 370.23L301.42 371.4L300.25 370.23zM301.07 373.09L302.24 374.26L301.07 375.43L299.9 374.26zM304.93 368.04L306.1 369.21L304.93 370.38L303.76 369.21zM292.43 356.89L293.6 358.06L292.43 359.23L291.26 358.06zM294.09 364.58L295.26 365.75L294.09 366.92L292.92 365.75zM294.03 356.82L295.2 357.99L294.03 359.16L292.86 357.99zM302.05 365.76L303.22 366.93L302.05 368.1L300.88 366.93zM296.39 368.67L297.56 369.84L296.39 371.01L295.22 369.84zM297.77 374.77L298.94 375.94L297.77 377.11L296.6 375.94zM300.53 365.77L301.7 366.94L300.53 368.11L299.36 366.94zM301.88 364.31L303.05 365.48L301.88 366.65L300.71 365.48zM299.54 366.68L300.71 367.85L299.54 369.02L298.37 367.85zM301.03 356.47L302.2 357.64L301.03 358.81L299.86 357.64zM294.73 365.42L295.9 366.59L294.73 367.76L293.56 366.59z" fill="#6B46A8" stroke="none"/>
<path d="M265.4 348.9l2.4 2.4M265.4 351.3l2.4 -2.4M277.1 358.9l2.4 2.4M277.1 361.3l2.4 -2.4" fill="none" stroke="#6B46A8" stroke-width="0.6"/>
<path d="M269 352h2.2v2.2h-2.2zM281.9 361.4h2.2v2.2h-2.2zM285.3 363h2.2v2.2h-2.2z" fill="#6B46A8" stroke="none"/>
<path d="M274.8 348.3a1.2 1.2 0 1 0 2.4 0a1.2 1.2 0 1 0 -2.4 0" fill="none" stroke="#6B46A8" stroke-width="0.6"/>
<path d="M287.6 353.11L289.29 354.8L287.6 356.49L285.91 354.8zM289.9 354.31L291.59 356L289.9 357.69L288.21 356zM294.6 360.11L296.29 361.8L294.6 363.49L292.91 361.8z" fill="#6B46A8" stroke="none"/>
<path d="M294.52 399.11a1.05 1.05 0 1 0 2.1 0a1.05 1.05 0 1 0 -2.1 0M296.9 400.07a1.05 1.05 0 1 0 2.1 0a1.05 1.05 0 1 0 -2.1 0M303.76 375.57a1.05 1.05 0 1 0 2.1 0a1.05 1.05 0 1 0 -2.1 0M292.06 400.99a1.05 1.05 0 1 0 2.1 0a1.05 1.05 0 1 0 -2.1 0M293.41 392.37a1.05 1.05 0 1 0 2.1 0a1.05 1.05 0 1 0 -2.1 0M296.36 393.99a1.05 1.05 0 1 0 2.1 0a1.05 1.05 0 1 0 -2.1 0M303.83 386.06a1.05 1.05 0 1 0 2.1 0a1.05 1.05 0 1 0 -2.1 0M305.46 385.09a1.05 1.05 0 1 0 2.1 0a1.05 1.05 0 1 0 -2.1 0M292.94 401.28a1.05 1.05 0 1 0 2.1 0a1.05 1.05 0 1 0 -2.1 0M303.84 388.18a1.05 1.05 0 1 0 2.1 0a1.05 1.05 0 1 0 -2.1 0M297.56 387.81a1.05 1.05 0 1 0 2.1 0a1.05 1.05 0 1 0 -2.1 0M295.89 395.43a1.05 1.05 0 1 0 2.1 0a1.05 1.05 0 1 0 -2.1 0M302.9 382.28a1.05 1.05 0 1 0 2.1 0a1.05 1.05 0 1 0 -2.1 0M292.75 401.58a1.05 1.05 0 1 0 2.1 0a1.05 1.05 0 1 0 -2.1 0M296.61 389.76a1.05 1.05 0 1 0 2.1 0a1.05 1.05 0 1 0 -2.1 0M299.52 380.82a1.05 1.05 0 1 0 2.1 0a1.05 1.05 0 1 0 -2.1 0M291.75 402.7a1.05 1.05 0 1 0 2.1 0a1.05 1.05 0 1 0 -2.1 0M300.47 388.92a1.05 1.05 0 1 0 2.1 0a1.05 1.05 0 1 0 -2.1 0M292.2 400.1a1.05 1.05 0 1 0 2.1 0a1.05 1.05 0 1 0 -2.1 0M302.2 385.54a1.05 1.05 0 1 0 2.1 0a1.05 1.05 0 1 0 -2.1 0M296.53 391.5a1.05 1.05 0 1 0 2.1 0a1.05 1.05 0 1 0 -2.1 0M295.71 389.92a1.05 1.05 0 1 0 2.1 0a1.05 1.05 0 1 0 -2.1 0M298.52 395.17a1.05 1.05 0 1 0 2.1 0a1.05 1.05 0 1 0 -2.1 0M299.11 396a1.05 1.05 0 1 0 2.1 0a1.05 1.05 0 1 0 -2.1 0M298.96 392.2a1.05 1.05 0 1 0 2.1 0a1.05 1.05 0 1 0 -2.1 0M301.15 387.87a1.05 1.05 0 1 0 2.1 0a1.05 1.05 0 1 0 -2.1 0M296.89 394.2a1.05 1.05 0 1 0 2.1 0a1.05 1.05 0 1 0 -2.1 0M295.1 390.16a1.05 1.05 0 1 0 2.1 0a1.05 1.05 0 1 0 -2.1 0M291.15 393.82a1.05 1.05 0 1 0 2.1 0a1.05 1.05 0 1 0 -2.1 0M304.93 380.84a1.05 1.05 0 1 0 2.1 0a1.05 1.05 0 1 0 -2.1 0M298.1 389.29a1.05 1.05 0 1 0 2.1 0a1.05 1.05 0 1 0 -2.1 0M294.61 392.56a1.05 1.05 0 1 0 2.1 0a1.05 1.05 0 1 0 -2.1 0M297.62 381.22a1.05 1.05 0 1 0 2.1 0a1.05 1.05 0 1 0 -2.1 0M298.84 395.42a1.05 1.05 0 1 0 2.1 0a1.05 1.05 0 1 0 -2.1 0M298.54 394.01a1.05 1.05 0 1 0 2.1 0a1.05 1.05 0 1 0 -2.1 0M303.42 375.92a1.05 1.05 0 1 0 2.1 0a1.05 1.05 0 1 0 -2.1 0M300.58 386.11a1.05 1.05 0 1 0 2.1 0a1.05 1.05 0 1 0 -2.1 0M293.92 404.23a1.05 1.05 0 1 0 2.1 0a1.05 1.05 0 1 0 -2.1 0M296.86 395.66a1.05 1.05 0 1 0 2.1 0a1.05 1.05 0 1 0 -2.1 0M299.07 397.85a1.05 1.05 0 1 0 2.1 0a1.05 1.05 0 1 0 -2.1 0M300.58 385.67a1.05 1.05 0 1 0 2.1 0a1.05 1.05 0 1 0 -2.1 0M305.55 375.42a1.05 1.05 0 1 0 2.1 0a1.05 1.05 0 1 0 -2.1 0M299.1 390.09a1.05 1.05 0 1 0 2.1 0a1.05 1.05 0 1 0 -2.1 0M298.7 387.4a1.05 1.05 0 1 0 2.1 0a1.05 1.05 0 1 0 -2.1 0M295.73 398.03a1.05 1.05 0 1 0 2.1 0a1.05 1.05 0 1 0 -2.1 0M296.37 384.93a1.05 1.05 0 1 0 2.1 0a1.05 1.05 0 1 0 -2.1 0M306.98 375.35a1.05 1.05 0 1 0 2.1 0a1.05 1.05 0 1 0 -2.1 0M302.01 380.53a1.05 1.05 0 1 0 2.1 0a1.05 1.05 0 1 0 -2.1 0M295.06 389.2a1.05 1.05 0 1 0 2.1 0a1.05 1.05 0 1 0 -2.1 0M306.03 378.64a1.05 1.05 0 1 0 2.1 0a1.05 1.05 0 1 0 -2.1 0M300.77 390.3a1.05 1.05 0 1 0 2.1 0a1.05 1.05 0 1 0 -2.1 0M302.3 384.29a1.05 1.05 0 1 0 2.1 0a1.05 1.05 0 1 0 -2.1 0M296.51 387.07a1.05 1.05 0 1 0 2.1 0a1.05 1.05 0 1 0 -2.1 0M301.68 381.57a1.05 1.05 0 1 0 2.1 0a1.05 1.05 0 1 0 -2.1 0M297.35 389.5a1.05 1.05 0 1 0 2.1 0a1.05 1.05 0 1 0 -2.1 0M298.35 393.26a1.05 1.05 0 1 0 2.1 0a1.05 1.05 0 1 0 -2.1 0M297.19 392.06a1.05 1.05 0 1 0 2.1 0a1.05 1.05 0 1 0 -2.1 0M303.1 383.66a1.05 1.05 0 1 0 2.1 0a1.05 1.05 0 1 0 -2.1 0M302.36 385.4a1.05 1.05 0 1 0 2.1 0a1.05 1.05 0 1 0 -2.1 0M300.06 385.77a1.05 1.05 0 1 0 2.1 0a1.05 1.05 0 1 0 -2.1 0M292.93 399.83a1.05 1.05 0 1 0 2.1 0a1.05 1.05 0 1 0 -2.1 0M295.77 389.71a1.05 1.05 0 1 0 2.1 0a1.05 1.05 0 1 0 -2.1 0M295.3 384.69a1.05 1.05 0 1 0 2.1 0a1.05 1.05 0 1 0 -2.1 0M302.89 378.76a1.05 1.05 0 1 0 2.1 0a1.05 1.05 0 1 0 -2.1 0M303.89 378.33a1.05 1.05 0 1 0 2.1 0a1.05 1.05 0 1 0 -2.1 0M291.88 401.38a1.05 1.05 0 1 0 2.1 0a1.05 1.05 0 1 0 -2.1 0M300.13 388.65a1.05 1.05 0 1 0 2.1 0a1.05 1.05 0 1 0 -2.1 0M297.29 399.78a1.05 1.05 0 1 0 2.1 0a1.05 1.05 0 1 0 -2.1 0M296.24 387.27a1.05 1.05 0 1 0 2.1 0a1.05 1.05 0 1 0 -2.1 0M297.11 398.42a1.05 1.05 0 1 0 2.1 0a1.05 1.05 0 1 0 -2.1 0M295.69 391a1.05 1.05 0 1 0 2.1 0a1.05 1.05 0 1 0 -2.1 0M298.34 378.79a1.05 1.05 0 1 0 2.1 0a1.05 1.05 0 1 0 -2.1 0M297.06 382.96a1.05 1.05 0 1 0 2.1 0a1.05 1.05 0 1 0 -2.1 0M303.56 385.94a1.05 1.05 0 1 0 2.1 0a1.05 1.05 0 1 0 -2.1 0M293.92 400.12a1.05 1.05 0 1 0 2.1 0a1.05 1.05 0 1 0 -2.1 0M290.56 394.61a1.05 1.05 0 1 0 2.1 0a1.05 1.05 0 1 0 -2.1 0M299.88 385.26a1.05 1.05 0 1 0 2.1 0a1.05 1.05 0 1 0 -2.1 0M304.57 378.15a1.05 1.05 0 1 0 2.1 0a1.05 1.05 0 1 0 -2.1 0M298.57 392a1.05 1.05 0 1 0 2.1 0a1.05 1.05 0 1 0 -2.1 0M294.23 388.9a1.05 1.05 0 1 0 2.1 0a1.05 1.05 0 1 0 -2.1 0M293.68 393.25a1.05 1.05 0 1 0 2.1 0a1.05 1.05 0 1 0 -2.1 0M299.76 387.68a1.05 1.05 0 1 0 2.1 0a1.05 1.05 0 1 0 -2.1 0M299.87 381.74a1.05 1.05 0 1 0 2.1 0a1.05 1.05 0 1 0 -2.1 0M294.29 388.88a1.05 1.05 0 1 0 2.1 0a1.05 1.05 0 1 0 -2.1 0M293.01 403.47a1.05 1.05 0 1 0 2.1 0a1.05 1.05 0 1 0 -2.1 0M305.37 376.92a1.05 1.05 0 1 0 2.1 0a1.05 1.05 0 1 0 -2.1 0M298.55 388.8a1.05 1.05 0 1 0 2.1 0a1.05 1.05 0 1 0 -2.1 0M302.88 387.43a1.05 1.05 0 1 0 2.1 0a1.05 1.05 0 1 0 -2.1 0M294.1 403.35a1.05 1.05 0 1 0 2.1 0a1.05 1.05 0 1 0 -2.1 0M306.01 375.34a1.05 1.05 0 1 0 2.1 0a1.05 1.05 0 1 0 -2.1 0M293.82 399.89a1.05 1.05 0 1 0 2.1 0a1.05 1.05 0 1 0 -2.1 0M290.72 400.6a1.05 1.05 0 1 0 2.1 0a1.05 1.05 0 1 0 -2.1 0M303.36 387.52a1.05 1.05 0 1 0 2.1 0a1.05 1.05 0 1 0 -2.1 0M292.86 402.11a1.05 1.05 0 1 0 2.1 0a1.05 1.05 0 1 0 -2.1 0M293.16 394.79a1.05 1.05 0 1 0 2.1 0a1.05 1.05 0 1 0 -2.1 0M293.89 388.54a1.05 1.05 0 1 0 2.1 0a1.05 1.05 0 1 0 -2.1 0M295.81 399.87a1.05 1.05 0 1 0 2.1 0a1.05 1.05 0 1 0 -2.1 0M301.29 377a1.05 1.05 0 1 0 2.1 0a1.05 1.05 0 1 0 -2.1 0M297.97 397.7a1.05 1.05 0 1 0 2.1 0a1.05 1.05 0 1 0 -2.1 0M299.91 389.94a1.05 1.05 0 1 0 2.1 0a1.05 1.05 0 1 0 -2.1 0M306.59 376.06a1.05 1.05 0 1 0 2.1 0a1.05 1.05 0 1 0 -2.1 0M294.03 396.22a1.05 1.05 0 1 0 2.1 0a1.05 1.05 0 1 0 -2.1 0M301.68 377.29a1.05 1.05 0 1 0 2.1 0a1.05 1.05 0 1 0 -2.1 0M303.25 380.26a1.05 1.05 0 1 0 2.1 0a1.05 1.05 0 1 0 -2.1 0M293.31 392.52a1.05 1.05 0 1 0 2.1 0a1.05 1.05 0 1 0 -2.1 0M294.5 387.47a1.05 1.05 0 1 0 2.1 0a1.05 1.05 0 1 0 -2.1 0M304.62 375.71a1.05 1.05 0 1 0 2.1 0a1.05 1.05 0 1 0 -2.1 0M292.15 399.42a1.05 1.05 0 1 0 2.1 0a1.05 1.05 0 1 0 -2.1 0M292.32 398.4a1.05 1.05 0 1 0 2.1 0a1.05 1.05 0 1 0 -2.1 0M296.21 388.8a1.05 1.05 0 1 0 2.1 0a1.05 1.05 0 1 0 -2.1 0M294.19 395.27a1.05 1.05 0 1 0 2.1 0a1.05 1.05 0 1 0 -2.1 0M300.57 392.31a1.05 1.05 0 1 0 2.1 0a1.05 1.05 0 1 0 -2.1 0M297.25 395.08a1.05 1.05 0 1 0 2.1 0a1.05 1.05 0 1 0 -2.1 0M294.31 387.62a1.05 1.05 0 1 0 2.1 0a1.05 1.05 0 1 0 -2.1 0M296.87 392.47a1.05 1.05 0 1 0 2.1 0a1.05 1.05 0 1 0 -2.1 0M301.04 387.6a1.05 1.05 0 1 0 2.1 0a1.05 1.05 0 1 0 -2.1 0M292.05 393.02a1.05 1.05 0 1 0 2.1 0a1.05 1.05 0 1 0 -2.1 0M303.43 387.45a1.05 1.05 0 1 0 2.1 0a1.05 1.05 0 1 0 -2.1 0M295.18 394.17a1.05 1.05 0 1 0 2.1 0a1.05 1.05 0 1 0 -2.1 0M302.95 385.36a1.05 1.05 0 1 0 2.1 0a1.05 1.05 0 1 0 -2.1 0M305.39 380.45a1.05 1.05 0 1 0 2.1 0a1.05 1.05 0 1 0 -2.1 0M301.44 385.03a1.05 1.05 0 1 0 2.1 0a1.05 1.05 0 1 0 -2.1 0M302.16 376.69a1.05 1.05 0 1 0 2.1 0a1.05 1.05 0 1 0 -2.1 0M294.21 400.2a1.05 1.05 0 1 0 2.1 0a1.05 1.05 0 1 0 -2.1 0M298.09 393.23a1.05 1.05 0 1 0 2.1 0a1.05 1.05 0 1 0 -2.1 0M303.13 383.09a1.05 1.05 0 1 0 2.1 0a1.05 1.05 0 1 0 -2.1 0M305.71 376.31a1.05 1.05 0 1 0 2.1 0a1.05 1.05 0 1 0 -2.1 0M300.21 386.69a1.05 1.05 0 1 0 2.1 0a1.05 1.05 0 1 0 -2.1 0M302.44 385.89a1.05 1.05 0 1 0 2.1 0a1.05 1.05 0 1 0 -2.1 0M298.12 392.03a1.05 1.05 0 1 0 2.1 0a1.05 1.05 0 1 0 -2.1 0M295.69 399.89a1.05 1.05 0 1 0 2.1 0a1.05 1.05 0 1 0 -2.1 0M297.46 385.94a1.05 1.05 0 1 0 2.1 0a1.05 1.05 0 1 0 -2.1 0M296.87 389.85a1.05 1.05 0 1 0 2.1 0a1.05 1.05 0 1 0 -2.1 0M299.68 381.53a1.05 1.05 0 1 0 2.1 0a1.05 1.05 0 1 0 -2.1 0M305.65 375.79a1.05 1.05 0 1 0 2.1 0a1.05 1.05 0 1 0 -2.1 0M299.26 390.88a1.05 1.05 0 1 0 2.1 0a1.05 1.05 0 1 0 -2.1 0M302.91 386.64a1.05 1.05 0 1 0 2.1 0a1.05 1.05 0 1 0 -2.1 0M292.24 394.13a1.05 1.05 0 1 0 2.1 0a1.05 1.05 0 1 0 -2.1 0M295.03 394.2a1.05 1.05 0 1 0 2.1 0a1.05 1.05 0 1 0 -2.1 0M304.13 380.9a1.05 1.05 0 1 0 2.1 0a1.05 1.05 0 1 0 -2.1 0M293.29 396.81a1.05 1.05 0 1 0 2.1 0a1.05 1.05 0 1 0 -2.1 0M306.47 374.58a1.05 1.05 0 1 0 2.1 0a1.05 1.05 0 1 0 -2.1 0M292.38 400.88a1.05 1.05 0 1 0 2.1 0a1.05 1.05 0 1 0 -2.1 0M294.86 385.58a1.05 1.05 0 1 0 2.1 0a1.05 1.05 0 1 0 -2.1 0M293.57 393.81a1.05 1.05 0 1 0 2.1 0a1.05 1.05 0 1 0 -2.1 0M307.1 377.75a1.05 1.05 0 1 0 2.1 0a1.05 1.05 0 1 0 -2.1 0M297.23 388.52a1.05 1.05 0 1 0 2.1 0a1.05 1.05 0 1 0 -2.1 0M300.39 393.38a1.05 1.05 0 1 0 2.1 0a1.05 1.05 0 1 0 -2.1 0M298.38 393.42a1.05 1.05 0 1 0 2.1 0a1.05 1.05 0 1 0 -2.1 0M301.07 378.07a1.05 1.05 0 1 0 2.1 0a1.05 1.05 0 1 0 -2.1 0M294.78 390.63a1.05 1.05 0 1 0 2.1 0a1.05 1.05 0 1 0 -2.1 0M298.36 383.83a1.05 1.05 0 1 0 2.1 0a1.05 1.05 0 1 0 -2.1 0M299.1 384.47a1.05 1.05 0 1 0 2.1 0a1.05 1.05 0 1 0 -2.1 0M301.64 379.16a1.05 1.05 0 1 0 2.1 0a1.05 1.05 0 1 0 -2.1 0M297.55 390.08a1.05 1.05 0 1 0 2.1 0a1.05 1.05 0 1 0 -2.1 0M301.65 377.33a1.05 1.05 0 1 0 2.1 0a1.05 1.05 0 1 0 -2.1 0M301.72 382.26a1.05 1.05 0 1 0 2.1 0a1.05 1.05 0 1 0 -2.1 0M299.53 389.43a1.05 1.05 0 1 0 2.1 0a1.05 1.05 0 1 0 -2.1 0M294.5 393a1.05 1.05 0 1 0 2.1 0a1.05 1.05 0 1 0 -2.1 0M305.38 376.13a1.05 1.05 0 1 0 2.1 0a1.05 1.05 0 1 0 -2.1 0M299.8 379.88a1.05 1.05 0 1 0 2.1 0a1.05 1.05 0 1 0 -2.1 0M307.11 377.12a1.05 1.05 0 1 0 2.1 0a1.05 1.05 0 1 0 -2.1 0M291.27 399.36a1.05 1.05 0 1 0 2.1 0a1.05 1.05 0 1 0 -2.1 0M301.3 385.99a1.05 1.05 0 1 0 2.1 0a1.05 1.05 0 1 0 -2.1 0M296.31 388.96a1.05 1.05 0 1 0 2.1 0a1.05 1.05 0 1 0 -2.1 0M298.2 397.6a1.05 1.05 0 1 0 2.1 0a1.05 1.05 0 1 0 -2.1 0M302.16 390.14a1.05 1.05 0 1 0 2.1 0a1.05 1.05 0 1 0 -2.1 0M301.88 378.48a1.05 1.05 0 1 0 2.1 0a1.05 1.05 0 1 0 -2.1 0M304.02 377.17a1.05 1.05 0 1 0 2.1 0a1.05 1.05 0 1 0 -2.1 0M305.22 378.87a1.05 1.05 0 1 0 2.1 0a1.05 1.05 0 1 0 -2.1 0M298.09 387.62a1.05 1.05 0 1 0 2.1 0a1.05 1.05 0 1 0 -2.1 0M306.26 379.01a1.05 1.05 0 1 0 2.1 0a1.05 1.05 0 1 0 -2.1 0M295.27 388.27a1.05 1.05 0 1 0 2.1 0a1.05 1.05 0 1 0 -2.1 0M300.34 383.13a1.05 1.05 0 1 0 2.1 0a1.05 1.05 0 1 0 -2.1 0M299.99 387.32a1.05 1.05 0 1 0 2.1 0a1.05 1.05 0 1 0 -2.1 0M293.37 401.05a1.05 1.05 0 1 0 2.1 0a1.05 1.05 0 1 0 -2.1 0M292.82 388.83a1.05 1.05 0 1 0 2.1 0a1.05 1.05 0 1 0 -2.1 0M304.4 381.41a1.05 1.05 0 1 0 2.1 0a1.05 1.05 0 1 0 -2.1 0M295.75 400.01a1.05 1.05 0 1 0 2.1 0a1.05 1.05 0 1 0 -2.1 0M294.95 386.37a1.05 1.05 0 1 0 2.1 0a1.05 1.05 0 1 0 -2.1 0M306.95 378.89a1.05 1.05 0 1 0 2.1 0a1.05 1.05 0 1 0 -2.1 0M302.01 381.99a1.05 1.05 0 1 0 2.1 0a1.05 1.05 0 1 0 -2.1 0M297.27 396.95a1.05 1.05 0 1 0 2.1 0a1.05 1.05 0 1 0 -2.1 0M301.14 377.51a1.05 1.05 0 1 0 2.1 0a1.05 1.05 0 1 0 -2.1 0M296.44 387.39a1.05 1.05 0 1 0 2.1 0a1.05 1.05 0 1 0 -2.1 0M299.35 394.3a1.05 1.05 0 1 0 2.1 0a1.05 1.05 0 1 0 -2.1 0M298.14 383.87a1.05 1.05 0 1 0 2.1 0a1.05 1.05 0 1 0 -2.1 0M299.54 388.16a1.05 1.05 0 1 0 2.1 0a1.05 1.05 0 1 0 -2.1 0M294.39 395.87a1.05 1.05 0 1 0 2.1 0a1.05 1.05 0 1 0 -2.1 0M296.72 386.25a1.05 1.05 0 1 0 2.1 0a1.05 1.05 0 1 0 -2.1 0M302.43 385.79a1.05 1.05 0 1 0 2.1 0a1.05 1.05 0 1 0 -2.1 0M301.04 391.3a1.05 1.05 0 1 0 2.1 0a1.05 1.05 0 1 0 -2.1 0M303.6 381.08a1.05 1.05 0 1 0 2.1 0a1.05 1.05 0 1 0 -2.1 0M290.96 399.13a1.05 1.05 0 1 0 2.1 0a1.05 1.05 0 1 0 -2.1 0M296 390.2a1.05 1.05 0 1 0 2.1 0a1.05 1.05 0 1 0 -2.1 0M301.51 384.97a1.05 1.05 0 1 0 2.1 0a1.05 1.05 0 1 0 -2.1 0M297.6 392.45a1.05 1.05 0 1 0 2.1 0a1.05 1.05 0 1 0 -2.1 0M301.44 380.76a1.05 1.05 0 1 0 2.1 0a1.05 1.05 0 1 0 -2.1 0M293.98 395.52a1.05 1.05 0 1 0 2.1 0a1.05 1.05 0 1 0 -2.1 0M303.67 380.21a1.05 1.05 0 1 0 2.1 0a1.05 1.05 0 1 0 -2.1 0M295.82 396.08a1.05 1.05 0 1 0 2.1 0a1.05 1.05 0 1 0 -2.1 0M297.64 396.1a1.05 1.05 0 1 0 2.1 0a1.05 1.05 0 1 0 -2.1 0M295.22 402.67a1.05 1.05 0 1 0 2.1 0a1.05 1.05 0 1 0 -2.1 0M292.45 393.33a1.05 1.05 0 1 0 2.1 0a1.05 1.05 0 1 0 -2.1 0M302.13 380.14a1.05 1.05 0 1 0 2.1 0a1.05 1.05 0 1 0 -2.1 0M293.75 398.42a1.05 1.05 0 1 0 2.1 0a1.05 1.05 0 1 0 -2.1 0M303.06 387.24a1.05 1.05 0 1 0 2.1 0a1.05 1.05 0 1 0 -2.1 0M292.63 395.54a1.05 1.05 0 1 0 2.1 0a1.05 1.05 0 1 0 -2.1 0M297.64 383a1.05 1.05 0 1 0 2.1 0a1.05 1.05 0 1 0 -2.1 0M305.41 379.03a1.05 1.05 0 1 0 2.1 0a1.05 1.05 0 1 0 -2.1 0M291.07 400.48a1.05 1.05 0 1 0 2.1 0a1.05 1.05 0 1 0 -2.1 0M298.36 387.41a1.05 1.05 0 1 0 2.1 0a1.05 1.05 0 1 0 -2.1 0M306.4 381.78a1.05 1.05 0 1 0 2.1 0a1.05 1.05 0 1 0 -2.1 0M304.97 378.84a1.05 1.05 0 1 0 2.1 0a1.05 1.05 0 1 0 -2.1 0M299.97 381.34a1.05 1.05 0 1 0 2.1 0a1.05 1.05 0 1 0 -2.1 0M294.31 397.05a1.05 1.05 0 1 0 2.1 0a1.05 1.05 0 1 0 -2.1 0M293.01 391.44a1.05 1.05 0 1 0 2.1 0a1.05 1.05 0 1 0 -2.1 0M296.9 392.33a1.05 1.05 0 1 0 2.1 0a1.05 1.05 0 1 0 -2.1 0M299.84 382.62a1.05 1.05 0 1 0 2.1 0a1.05 1.05 0 1 0 -2.1 0M298.93 390.76a1.05 1.05 0 1 0 2.1 0a1.05 1.05 0 1 0 -2.1 0M293.7 399.79a1.05 1.05 0 1 0 2.1 0a1.05 1.05 0 1 0 -2.1 0M299.29 393.98a1.05 1.05 0 1 0 2.1 0a1.05 1.05 0 1 0 -2.1 0M298.05 389.72a1.05 1.05 0 1 0 2.1 0a1.05 1.05 0 1 0 -2.1 0M293.76 399.4a1.05 1.05 0 1 0 2.1 0a1.05 1.05 0 1 0 -2.1 0M295.01 402.81a1.05 1.05 0 1 0 2.1 0a1.05 1.05 0 1 0 -2.1 0M299.26 384.97a1.05 1.05 0 1 0 2.1 0a1.05 1.05 0 1 0 -2.1 0M295.62 401.95a1.05 1.05 0 1 0 2.1 0a1.05 1.05 0 1 0 -2.1 0M293.89 394.4a1.05 1.05 0 1 0 2.1 0a1.05 1.05 0 1 0 -2.1 0M292.43 392.62a1.05 1.05 0 1 0 2.1 0a1.05 1.05 0 1 0 -2.1 0M291.91 398.35a1.05 1.05 0 1 0 2.1 0a1.05 1.05 0 1 0 -2.1 0M294.93 386.27a1.05 1.05 0 1 0 2.1 0a1.05 1.05 0 1 0 -2.1 0M306.93 376.59a1.05 1.05 0 1 0 2.1 0a1.05 1.05 0 1 0 -2.1 0M294.59 384.84a1.05 1.05 0 1 0 2.1 0a1.05 1.05 0 1 0 -2.1 0M295.37 401.73a1.05 1.05 0 1 0 2.1 0a1.05 1.05 0 1 0 -2.1 0M294.63 398.38a1.05 1.05 0 1 0 2.1 0a1.05 1.05 0 1 0 -2.1 0M294.95 402.35a1.05 1.05 0 1 0 2.1 0a1.05 1.05 0 1 0 -2.1 0M302.49 382.86a1.05 1.05 0 1 0 2.1 0a1.05 1.05 0 1 0 -2.1 0M300.68 384.84a1.05 1.05 0 1 0 2.1 0a1.05 1.05 0 1 0 -2.1 0M301.44 391.5a1.05 1.05 0 1 0 2.1 0a1.05 1.05 0 1 0 -2.1 0M295.96 390.94a1.05 1.05 0 1 0 2.1 0a1.05 1.05 0 1 0 -2.1 0M299.02 390.29a1.05 1.05 0 1 0 2.1 0a1.05 1.05 0 1 0 -2.1 0M304.48 376.76a1.05 1.05 0 1 0 2.1 0a1.05 1.05 0 1 0 -2.1 0M303.45 382.74a1.05 1.05 0 1 0 2.1 0a1.05 1.05 0 1 0 -2.1 0M296.4 392.46a1.05 1.05 0 1 0 2.1 0a1.05 1.05 0 1 0 -2.1 0M301.95 384.9a1.05 1.05 0 1 0 2.1 0a1.05 1.05 0 1 0 -2.1 0M299.96 379.68a1.05 1.05 0 1 0 2.1 0a1.05 1.05 0 1 0 -2.1 0M297.93 386.36a1.05 1.05 0 1 0 2.1 0a1.05 1.05 0 1 0 -2.1 0M298.78 385.64a1.05 1.05 0 1 0 2.1 0a1.05 1.05 0 1 0 -2.1 0M299.31 389.73a1.05 1.05 0 1 0 2.1 0a1.05 1.05 0 1 0 -2.1 0M298.69 391.97a1.05 1.05 0 1 0 2.1 0a1.05 1.05 0 1 0 -2.1 0M297.28 393.24a1.05 1.05 0 1 0 2.1 0a1.05 1.05 0 1 0 -2.1 0M301.64 377.46a1.05 1.05 0 1 0 2.1 0a1.05 1.05 0 1 0 -2.1 0M303.3 385.3a1.05 1.05 0 1 0 2.1 0a1.05 1.05 0 1 0 -2.1 0M307.21 379.19a1.05 1.05 0 1 0 2.1 0a1.05 1.05 0 1 0 -2.1 0M298.48 392.55a1.05 1.05 0 1 0 2.1 0a1.05 1.05 0 1 0 -2.1 0M295.64 392.41a1.05 1.05 0 1 0 2.1 0a1.05 1.05 0 1 0 -2.1 0M294.77 400.31a1.05 1.05 0 1 0 2.1 0a1.05 1.05 0 1 0 -2.1 0M295.31 392.78a1.05 1.05 0 1 0 2.1 0a1.05 1.05 0 1 0 -2.1 0M294.81 385.68a1.05 1.05 0 1 0 2.1 0a1.05 1.05 0 1 0 -2.1 0M301.63 387.86a1.05 1.05 0 1 0 2.1 0a1.05 1.05 0 1 0 -2.1 0" fill="#4FC2CA" stroke="none"/>
<path d="M293.3 403.05a1 1 0 1 0 2 0a1 1 0 1 0 -2 0M294.63 398.36a1 1 0 1 0 2 0a1 1 0 1 0 -2 0M294.41 398.23a1 1 0 1 0 2 0a1 1 0 1 0 -2 0M295.19 397a1 1 0 1 0 2 0a1 1 0 1 0 -2 0M293.95 398.56a1 1 0 1 0 2 0a1 1 0 1 0 -2 0M294.42 393.2a1 1 0 1 0 2 0a1 1 0 1 0 -2 0M293.14 395.92a1 1 0 1 0 2 0a1 1 0 1 0 -2 0M294.92 397.02a1 1 0 1 0 2 0a1 1 0 1 0 -2 0M294.34 402.44a1 1 0 1 0 2 0a1 1 0 1 0 -2 0M295.29 401.59a1 1 0 1 0 2 0a1 1 0 1 0 -2 0M293.03 400.08a1 1 0 1 0 2 0a1 1 0 1 0 -2 0M297.68 397.36a1 1 0 1 0 2 0a1 1 0 1 0 -2 0M295.32 398.54a1 1 0 1 0 2 0a1 1 0 1 0 -2 0M295.61 396.08a1 1 0 1 0 2 0a1 1 0 1 0 -2 0M295.31 394.49a1 1 0 1 0 2 0a1 1 0 1 0 -2 0M295.19 395.97a1 1 0 1 0 2 0a1 1 0 1 0 -2 0M294.27 396.55a1 1 0 1 0 2 0a1 1 0 1 0 -2 0M292.17 401.43a1 1 0 1 0 2 0a1 1 0 1 0 -2 0M293.4 399.17a1 1 0 1 0 2 0a1 1 0 1 0 -2 0M295.05 399.86a1 1 0 1 0 2 0a1 1 0 1 0 -2 0" fill="#2FA8AE" stroke="none"/>
<path d="M322.73 331.63L323.94 333.74L321.53 333.74zM315.88 338.16L317.09 340.27L314.68 340.27zM317.56 331.71L318.77 333.82L316.35 333.82zM316.67 337.12L317.88 339.24L315.46 339.24zM320.55 341.44L321.76 343.55L319.34 343.55zM322.54 335.51L323.75 337.63L321.34 337.63zM313.07 332.92L314.28 335.03L311.86 335.03zM317.53 329.66L318.74 331.78L316.33 331.78zM316.18 333.63L317.38 335.74L314.97 335.74zM316.56 338.31L317.76 340.42L315.35 340.42zM313.69 338.62L314.9 340.73L312.48 340.73zM316.75 337.52L317.96 339.63L315.54 339.63zM322.27 329.81L323.48 331.92L321.06 331.92zM322.62 332.32L323.82 334.43L321.41 334.43zM317.29 339.31L318.5 341.42L316.08 341.42zM321.79 328.15L323 330.26L320.58 330.26zM316.6 339.35L317.81 341.46L315.39 341.46zM317.25 333.86L318.46 335.97L316.04 335.97zM315.76 341.49L316.97 343.6L314.56 343.6zM317.13 329.8L318.33 331.91L315.92 331.91zM315.13 331.19L316.34 333.31L313.92 333.31zM316.45 335.63L317.66 337.74L315.24 337.74zM319.27 326.76L320.48 328.87L318.06 328.87zM312.46 336.12L313.66 338.23L311.25 338.23zM321.02 328.92L322.23 331.03L319.81 331.03zM322.85 324.39L324.06 326.5L321.64 326.5zM323.06 338.54L324.27 340.65L321.86 340.65zM312.42 335.32L313.63 337.43L311.21 337.43zM317.93 332.29L319.14 334.41L316.72 334.41zM316.76 333.05L317.97 335.17L315.55 335.17zM318.27 330.29L319.48 332.4L317.06 332.4zM315.31 336.31L316.52 338.42L314.1 338.42zM320.47 328.88L321.68 331L319.26 331zM314.34 340.75L315.55 342.86L313.13 342.86zM317.5 341.99L318.71 344.11L316.29 344.11zM315.06 328.79L316.27 330.91L313.85 330.91zM313.9 324.28L315.1 326.39L312.69 326.39zM317.7 329.45L318.91 331.56L316.5 331.56zM315.36 330.47L316.57 332.59L314.16 332.59zM316.02 337.78L317.23 339.89L314.81 339.89zM321.06 327.05L322.27 329.16L319.85 329.16zM321.9 333.93L323.11 336.05L320.7 336.05zM314.83 333.43L316.03 335.55L313.62 335.55zM318.03 327.96L319.24 330.07L316.82 330.07zM322.38 332.9L323.59 335.01L321.17 335.01zM312.6 347.79L313.81 349.91L311.39 349.91zM310 326.29L311.21 328.41L308.79 328.41zM313 328.79L314.21 330.91L311.79 330.91zM318 327.79L319.21 329.91L316.79 329.91z" fill="none" stroke="#6B46A8" stroke-width="0.55"/>
<path d="M315.68 338.89a1 1 0 1 0 2 0a1 1 0 1 0 -2 0M320.68 338.7a1 1 0 1 0 2 0a1 1 0 1 0 -2 0M315.02 338.54a1 1 0 1 0 2 0a1 1 0 1 0 -2 0M319.43 338.33a1 1 0 1 0 2 0a1 1 0 1 0 -2 0M318.42 335.32a1 1 0 1 0 2 0a1 1 0 1 0 -2 0M316.85 331.1a1 1 0 1 0 2 0a1 1 0 1 0 -2 0M315.42 333.02a1 1 0 1 0 2 0a1 1 0 1 0 -2 0M317.01 342.24a1 1 0 1 0 2 0a1 1 0 1 0 -2 0M312.05 332.37a1 1 0 1 0 2 0a1 1 0 1 0 -2 0M314.95 336.69a1 1 0 1 0 2 0a1 1 0 1 0 -2 0M319.56 334.27a1 1 0 1 0 2 0a1 1 0 1 0 -2 0M315.27 341.26a1 1 0 1 0 2 0a1 1 0 1 0 -2 0M317.82 338.85a1 1 0 1 0 2 0a1 1 0 1 0 -2 0M318.83 334.4a1 1 0 1 0 2 0a1 1 0 1 0 -2 0M317.49 334.69a1 1 0 1 0 2 0a1 1 0 1 0 -2 0M315.41 337.47a1 1 0 1 0 2 0a1 1 0 1 0 -2 0M317.96 332.53a1 1 0 1 0 2 0a1 1 0 1 0 -2 0M315.3 339.14a1 1 0 1 0 2 0a1 1 0 1 0 -2 0M317.36 339.34a1 1 0 1 0 2 0a1 1 0 1 0 -2 0M316.3 334.18a1 1 0 1 0 2 0a1 1 0 1 0 -2 0M318.72 339.11a1 1 0 1 0 2 0a1 1 0 1 0 -2 0M310.74 340.04a1 1 0 1 0 2 0a1 1 0 1 0 -2 0M315.32 339.35a1 1 0 1 0 2 0a1 1 0 1 0 -2 0M320.46 336.02a1 1 0 1 0 2 0a1 1 0 1 0 -2 0M314.86 337.9a1 1 0 1 0 2 0a1 1 0 1 0 -2 0" fill="#6B46A8" stroke="none"/>
<path d="M313.25 315.27L314.46 317.38L312.04 317.38zM309.06 314.44L310.26 316.55L307.85 316.55zM315.51 315.62L316.71 317.73L314.3 317.73zM314.76 316.92L315.97 319.03L313.55 319.03zM310.68 316.98L311.89 319.1L309.47 319.1zM313.58 311.2L314.79 313.31L312.38 313.31zM312.16 314.5L313.37 316.61L310.95 316.61zM313.93 317.31L315.14 319.43L312.72 319.43zM313.54 312.46L314.74 314.57L312.33 314.57zM319.14 312.93L320.34 315.05L317.93 315.05zM310.68 316.21L311.89 318.32L309.48 318.32zM311.83 311.74L313.04 313.85L310.62 313.85zM310.01 316.89L311.22 319L308.8 319zM310.01 314.06L311.22 316.18L308.81 316.18zM311.71 313.3L312.92 315.41L310.51 315.41zM310.7 314.19L311.91 316.3L309.49 316.3zM314.7 316.54L315.9 318.66L313.49 318.66zM311.99 310.76L313.2 312.87L310.78 312.87zM308.83 313.82L310.04 315.93L307.62 315.93zM306.02 317.27L307.23 319.38L304.81 319.38zM313.08 314.12L314.29 316.23L311.87 316.23zM309.08 312.12L310.28 314.23L307.87 314.23z" fill="none" stroke="#E9A3BD" stroke-width="0.55"/>
<path d="M310.11 319.46l1.8 1.8M310.11 321.26l1.8 -1.8M310.78 319.35l1.8 1.8M310.78 321.15l1.8 -1.8M312.63 314.25l1.8 1.8M312.63 316.05l1.8 -1.8M311.13 320.64l1.8 1.8M311.13 322.44l1.8 -1.8M310.57 318.37l1.8 1.8M310.57 320.17l1.8 -1.8M311.35 315.65l1.8 1.8M311.35 317.45l1.8 -1.8M315.98 317.84l1.8 1.8M315.98 319.64l1.8 -1.8M312.88 317.21l1.8 1.8M312.88 319.01l1.8 -1.8M314.41 320.42l1.8 1.8M314.41 322.22l1.8 -1.8M313.97 320.02l1.8 1.8M313.97 321.82l1.8 -1.8M313.01 320.89l1.8 1.8M313.01 322.69l1.8 -1.8M312.41 318.38l1.8 1.8M312.41 320.18l1.8 -1.8" fill="none" stroke="#A46A86" stroke-width="0.55"/>
<path d="M326.56 318.16a1.05 1.05 0 1 0 2.1 0a1.05 1.05 0 1 0 -2.1 0M317.83 323.62a1.05 1.05 0 1 0 2.1 0a1.05 1.05 0 1 0 -2.1 0M324.85 318.76a1.05 1.05 0 1 0 2.1 0a1.05 1.05 0 1 0 -2.1 0M323.75 317.96a1.05 1.05 0 1 0 2.1 0a1.05 1.05 0 1 0 -2.1 0M322.25 321.62a1.05 1.05 0 1 0 2.1 0a1.05 1.05 0 1 0 -2.1 0M324.77 323.69a1.05 1.05 0 1 0 2.1 0a1.05 1.05 0 1 0 -2.1 0M324.21 323.05a1.05 1.05 0 1 0 2.1 0a1.05 1.05 0 1 0 -2.1 0M326.23 318.78a1.05 1.05 0 1 0 2.1 0a1.05 1.05 0 1 0 -2.1 0M320.04 318.83a1.05 1.05 0 1 0 2.1 0a1.05 1.05 0 1 0 -2.1 0M323.79 319.32a1.05 1.05 0 1 0 2.1 0a1.05 1.05 0 1 0 -2.1 0M330.21 318.84a1.05 1.05 0 1 0 2.1 0a1.05 1.05 0 1 0 -2.1 0M325.69 318.58a1.05 1.05 0 1 0 2.1 0a1.05 1.05 0 1 0 -2.1 0M326.25 316.99a1.05 1.05 0 1 0 2.1 0a1.05 1.05 0 1 0 -2.1 0M326.93 321.61a1.05 1.05 0 1 0 2.1 0a1.05 1.05 0 1 0 -2.1 0M323.4 317.2a1.05 1.05 0 1 0 2.1 0a1.05 1.05 0 1 0 -2.1 0M328.8 319.18a1.05 1.05 0 1 0 2.1 0a1.05 1.05 0 1 0 -2.1 0M328.21 313.32a1.05 1.05 0 1 0 2.1 0a1.05 1.05 0 1 0 -2.1 0M321.32 326.83a1.05 1.05 0 1 0 2.1 0a1.05 1.05 0 1 0 -2.1 0M329.1 321.09a1.05 1.05 0 1 0 2.1 0a1.05 1.05 0 1 0 -2.1 0M327.05 322.97a1.05 1.05 0 1 0 2.1 0a1.05 1.05 0 1 0 -2.1 0M323.51 321.45a1.05 1.05 0 1 0 2.1 0a1.05 1.05 0 1 0 -2.1 0M321.46 316.74a1.05 1.05 0 1 0 2.1 0a1.05 1.05 0 1 0 -2.1 0M324.77 323.37a1.05 1.05 0 1 0 2.1 0a1.05 1.05 0 1 0 -2.1 0M324.87 317.11a1.05 1.05 0 1 0 2.1 0a1.05 1.05 0 1 0 -2.1 0M326.66 321.32a1.05 1.05 0 1 0 2.1 0a1.05 1.05 0 1 0 -2.1 0M326.41 320.11a1.05 1.05 0 1 0 2.1 0a1.05 1.05 0 1 0 -2.1 0M323.76 324.4a1.05 1.05 0 1 0 2.1 0a1.05 1.05 0 1 0 -2.1 0M328.03 317.19a1.05 1.05 0 1 0 2.1 0a1.05 1.05 0 1 0 -2.1 0M321.56 324.13a1.05 1.05 0 1 0 2.1 0a1.05 1.05 0 1 0 -2.1 0M325.39 321.2a1.05 1.05 0 1 0 2.1 0a1.05 1.05 0 1 0 -2.1 0M321.89 324.27a1.05 1.05 0 1 0 2.1 0a1.05 1.05 0 1 0 -2.1 0M324.94 321.73a1.05 1.05 0 1 0 2.1 0a1.05 1.05 0 1 0 -2.1 0M325.46 319.36a1.05 1.05 0 1 0 2.1 0a1.05 1.05 0 1 0 -2.1 0M325.49 321.46a1.05 1.05 0 1 0 2.1 0a1.05 1.05 0 1 0 -2.1 0M326.33 322.25a1.05 1.05 0 1 0 2.1 0a1.05 1.05 0 1 0 -2.1 0M321.11 318.78a1.05 1.05 0 1 0 2.1 0a1.05 1.05 0 1 0 -2.1 0M323.75 324.75a1.05 1.05 0 1 0 2.1 0a1.05 1.05 0 1 0 -2.1 0M322.75 324.66a1.05 1.05 0 1 0 2.1 0a1.05 1.05 0 1 0 -2.1 0M327.26 323.83a1.05 1.05 0 1 0 2.1 0a1.05 1.05 0 1 0 -2.1 0M330.33 321.01a1.05 1.05 0 1 0 2.1 0a1.05 1.05 0 1 0 -2.1 0M325.29 324.94a1.05 1.05 0 1 0 2.1 0a1.05 1.05 0 1 0 -2.1 0M325.51 324.21a1.05 1.05 0 1 0 2.1 0a1.05 1.05 0 1 0 -2.1 0M324.11 325.56a1.05 1.05 0 1 0 2.1 0a1.05 1.05 0 1 0 -2.1 0M325.37 314.93a1.05 1.05 0 1 0 2.1 0a1.05 1.05 0 1 0 -2.1 0M327.28 320.43a1.05 1.05 0 1 0 2.1 0a1.05 1.05 0 1 0 -2.1 0M322.15 320.09a1.05 1.05 0 1 0 2.1 0a1.05 1.05 0 1 0 -2.1 0M323.71 324.7a1.05 1.05 0 1 0 2.1 0a1.05 1.05 0 1 0 -2.1 0M325.32 320.82a1.05 1.05 0 1 0 2.1 0a1.05 1.05 0 1 0 -2.1 0M324.41 318.17a1.05 1.05 0 1 0 2.1 0a1.05 1.05 0 1 0 -2.1 0M322.78 319.55a1.05 1.05 0 1 0 2.1 0a1.05 1.05 0 1 0 -2.1 0M323.86 317.32a1.05 1.05 0 1 0 2.1 0a1.05 1.05 0 1 0 -2.1 0M323.41 324.24a1.05 1.05 0 1 0 2.1 0a1.05 1.05 0 1 0 -2.1 0M325.63 321.04a1.05 1.05 0 1 0 2.1 0a1.05 1.05 0 1 0 -2.1 0M325.35 320.27a1.05 1.05 0 1 0 2.1 0a1.05 1.05 0 1 0 -2.1 0M321.35 323.86a1.05 1.05 0 1 0 2.1 0a1.05 1.05 0 1 0 -2.1 0M330.31 322.67a1.05 1.05 0 1 0 2.1 0a1.05 1.05 0 1 0 -2.1 0M326.24 328.89a1.05 1.05 0 1 0 2.1 0a1.05 1.05 0 1 0 -2.1 0M321.29 322.72a1.05 1.05 0 1 0 2.1 0a1.05 1.05 0 1 0 -2.1 0M323.56 320.16a1.05 1.05 0 1 0 2.1 0a1.05 1.05 0 1 0 -2.1 0M320.13 320.79a1.05 1.05 0 1 0 2.1 0a1.05 1.05 0 1 0 -2.1 0" fill="#55B947" stroke="none"/>
<path d="M322 317.26a1 1 0 1 0 2 0a1 1 0 1 0 -2 0M320.45 320.58a1 1 0 1 0 2 0a1 1 0 1 0 -2 0M318.49 323.93a1 1 0 1 0 2 0a1 1 0 1 0 -2 0M325.12 323.29a1 1 0 1 0 2 0a1 1 0 1 0 -2 0M323.58 324.31a1 1 0 1 0 2 0a1 1 0 1 0 -2 0M320.84 323.78a1 1 0 1 0 2 0a1 1 0 1 0 -2 0M324.33 320.77a1 1 0 1 0 2 0a1 1 0 1 0 -2 0M320.63 317.93a1 1 0 1 0 2 0a1 1 0 1 0 -2 0M316.33 319.61a1 1 0 1 0 2 0a1 1 0 1 0 -2 0M323.25 323.13a1 1 0 1 0 2 0a1 1 0 1 0 -2 0M321.65 325.96a1 1 0 1 0 2 0a1 1 0 1 0 -2 0M316.57 326.16a1 1 0 1 0 2 0a1 1 0 1 0 -2 0M321.21 324.36a1 1 0 1 0 2 0a1 1 0 1 0 -2 0M324.47 319.62a1 1 0 1 0 2 0a1 1 0 1 0 -2 0M318.82 323.25a1 1 0 1 0 2 0a1 1 0 1 0 -2 0M320.86 320.31a1 1 0 1 0 2 0a1 1 0 1 0 -2 0M320.68 319.88a1 1 0 1 0 2 0a1 1 0 1 0 -2 0M321.34 320.9a1 1 0 1 0 2 0a1 1 0 1 0 -2 0M325.27 318.94a1 1 0 1 0 2 0a1 1 0 1 0 -2 0M322.46 322.27a1 1 0 1 0 2 0a1 1 0 1 0 -2 0" fill="none" stroke="#55B947" stroke-width="0.55"/>
<path d="M326.81 307.39h2v2h-2zM332.3 303.89h2v2h-2zM331.08 301.33h2v2h-2zM326.63 300.85h2v2h-2zM323.32 301.21h2v2h-2zM334.71 297.85h2v2h-2zM324.37 299.63h2v2h-2zM324.57 310.46h2v2h-2zM324.73 308.74h2v2h-2zM326.06 303.1h2v2h-2zM333.88 298.79h2v2h-2zM332.64 302.28h2v2h-2zM327.31 301.75h2v2h-2zM329.44 297.57h2v2h-2zM327.36 303.51h2v2h-2zM329.67 300.86h2v2h-2zM325.51 300.87h2v2h-2zM324.41 308.56h2v2h-2zM324.7 304.87h2v2h-2zM324.94 302.25h2v2h-2zM329.25 307.92h2v2h-2zM331 299.06h2v2h-2zM329.78 300.43h2v2h-2zM333.35 298.78h2v2h-2zM328.39 305.95h2v2h-2zM331.45 298.62h2v2h-2zM328.42 300.29h2v2h-2zM332.68 302.13h2v2h-2zM329.87 306.07h2v2h-2zM332.79 300.64h2v2h-2zM330.47 307.81h2v2h-2zM326.42 306.34h2v2h-2zM326.55 302.11h2v2h-2zM331.53 298.15h2v2h-2zM332.34 305.65h2v2h-2zM327.18 300.94h2v2h-2zM332.43 299.96h2v2h-2zM332.67 300.61h2v2h-2zM326.91 303.93h2v2h-2zM328.48 300.24h2v2h-2zM334.36 302.11h2v2h-2zM330.07 303.34h2v2h-2zM328.73 308.76h2v2h-2zM325.93 307.04h2v2h-2zM328.25 305.16h2v2h-2z" fill="#C9C33E" stroke="none"/>
<path d="M323 305.2h2M324 304.2v2" fill="none" stroke="#8A8E34" stroke-width="0.6"/>
<path d="M334.73 297.59a1.05 1.05 0 1 0 2.1 0a1.05 1.05 0 1 0 -2.1 0M332.12 290.23a1.05 1.05 0 1 0 2.1 0a1.05 1.05 0 1 0 -2.1 0M329.4 286.44a1.05 1.05 0 1 0 2.1 0a1.05 1.05 0 1 0 -2.1 0M330.77 296.89a1.05 1.05 0 1 0 2.1 0a1.05 1.05 0 1 0 -2.1 0M334.19 284.37a1.05 1.05 0 1 0 2.1 0a1.05 1.05 0 1 0 -2.1 0M335.56 284.04a1.05 1.05 0 1 0 2.1 0a1.05 1.05 0 1 0 -2.1 0M338.25 292.7a1.05 1.05 0 1 0 2.1 0a1.05 1.05 0 1 0 -2.1 0M329.2 296.12a1.05 1.05 0 1 0 2.1 0a1.05 1.05 0 1 0 -2.1 0M336.83 294.12a1.05 1.05 0 1 0 2.1 0a1.05 1.05 0 1 0 -2.1 0M331.57 280.04a1.05 1.05 0 1 0 2.1 0a1.05 1.05 0 1 0 -2.1 0M331.39 296.32a1.05 1.05 0 1 0 2.1 0a1.05 1.05 0 1 0 -2.1 0M335.04 280.16a1.05 1.05 0 1 0 2.1 0a1.05 1.05 0 1 0 -2.1 0M334.13 282.73a1.05 1.05 0 1 0 2.1 0a1.05 1.05 0 1 0 -2.1 0M332.51 290.84a1.05 1.05 0 1 0 2.1 0a1.05 1.05 0 1 0 -2.1 0M336.6 297.78a1.05 1.05 0 1 0 2.1 0a1.05 1.05 0 1 0 -2.1 0M334.73 293.35a1.05 1.05 0 1 0 2.1 0a1.05 1.05 0 1 0 -2.1 0M330.41 279.51a1.05 1.05 0 1 0 2.1 0a1.05 1.05 0 1 0 -2.1 0M336.28 287.54a1.05 1.05 0 1 0 2.1 0a1.05 1.05 0 1 0 -2.1 0M331.53 298.28a1.05 1.05 0 1 0 2.1 0a1.05 1.05 0 1 0 -2.1 0M331.94 294a1.05 1.05 0 1 0 2.1 0a1.05 1.05 0 1 0 -2.1 0M331.31 287.02a1.05 1.05 0 1 0 2.1 0a1.05 1.05 0 1 0 -2.1 0M330.45 283.15a1.05 1.05 0 1 0 2.1 0a1.05 1.05 0 1 0 -2.1 0M335.17 294.8a1.05 1.05 0 1 0 2.1 0a1.05 1.05 0 1 0 -2.1 0M332.05 293.49a1.05 1.05 0 1 0 2.1 0a1.05 1.05 0 1 0 -2.1 0M330.69 288.22a1.05 1.05 0 1 0 2.1 0a1.05 1.05 0 1 0 -2.1 0M335.19 287.69a1.05 1.05 0 1 0 2.1 0a1.05 1.05 0 1 0 -2.1 0M334.31 296.66a1.05 1.05 0 1 0 2.1 0a1.05 1.05 0 1 0 -2.1 0M335.37 296a1.05 1.05 0 1 0 2.1 0a1.05 1.05 0 1 0 -2.1 0M333.76 282.13a1.05 1.05 0 1 0 2.1 0a1.05 1.05 0 1 0 -2.1 0M329.75 288.15a1.05 1.05 0 1 0 2.1 0a1.05 1.05 0 1 0 -2.1 0M337.28 298.76a1.05 1.05 0 1 0 2.1 0a1.05 1.05 0 1 0 -2.1 0M330.8 279.95a1.05 1.05 0 1 0 2.1 0a1.05 1.05 0 1 0 -2.1 0M336.37 298.59a1.05 1.05 0 1 0 2.1 0a1.05 1.05 0 1 0 -2.1 0M332.1 285.58a1.05 1.05 0 1 0 2.1 0a1.05 1.05 0 1 0 -2.1 0M332.62 282.23a1.05 1.05 0 1 0 2.1 0a1.05 1.05 0 1 0 -2.1 0M330.89 291.29a1.05 1.05 0 1 0 2.1 0a1.05 1.05 0 1 0 -2.1 0M333.93 284.75a1.05 1.05 0 1 0 2.1 0a1.05 1.05 0 1 0 -2.1 0M333.29 297.22a1.05 1.05 0 1 0 2.1 0a1.05 1.05 0 1 0 -2.1 0M337.81 296.74a1.05 1.05 0 1 0 2.1 0a1.05 1.05 0 1 0 -2.1 0M333.75 288.1a1.05 1.05 0 1 0 2.1 0a1.05 1.05 0 1 0 -2.1 0M334.34 290a1.05 1.05 0 1 0 2.1 0a1.05 1.05 0 1 0 -2.1 0M330.14 282.5a1.05 1.05 0 1 0 2.1 0a1.05 1.05 0 1 0 -2.1 0M335.71 288.84a1.05 1.05 0 1 0 2.1 0a1.05 1.05 0 1 0 -2.1 0M334.01 294.29a1.05 1.05 0 1 0 2.1 0a1.05 1.05 0 1 0 -2.1 0M333.57 287.62a1.05 1.05 0 1 0 2.1 0a1.05 1.05 0 1 0 -2.1 0M330.61 289.91a1.05 1.05 0 1 0 2.1 0a1.05 1.05 0 1 0 -2.1 0M335.54 286.02a1.05 1.05 0 1 0 2.1 0a1.05 1.05 0 1 0 -2.1 0M330.12 295.82a1.05 1.05 0 1 0 2.1 0a1.05 1.05 0 1 0 -2.1 0M333.3 282.17a1.05 1.05 0 1 0 2.1 0a1.05 1.05 0 1 0 -2.1 0M335.76 291.91a1.05 1.05 0 1 0 2.1 0a1.05 1.05 0 1 0 -2.1 0M332.15 293.67a1.05 1.05 0 1 0 2.1 0a1.05 1.05 0 1 0 -2.1 0M331.06 281.18a1.05 1.05 0 1 0 2.1 0a1.05 1.05 0 1 0 -2.1 0M333.75 279.14a1.05 1.05 0 1 0 2.1 0a1.05 1.05 0 1 0 -2.1 0M330.91 281.18a1.05 1.05 0 1 0 2.1 0a1.05 1.05 0 1 0 -2.1 0M334.14 295.48a1.05 1.05 0 1 0 2.1 0a1.05 1.05 0 1 0 -2.1 0M333.04 287.78a1.05 1.05 0 1 0 2.1 0a1.05 1.05 0 1 0 -2.1 0M330.31 280.1a1.05 1.05 0 1 0 2.1 0a1.05 1.05 0 1 0 -2.1 0M334.74 293.29a1.05 1.05 0 1 0 2.1 0a1.05 1.05 0 1 0 -2.1 0M336.73 290.91a1.05 1.05 0 1 0 2.1 0a1.05 1.05 0 1 0 -2.1 0M333.18 297.87a1.05 1.05 0 1 0 2.1 0a1.05 1.05 0 1 0 -2.1 0M331.2 284.19a1.05 1.05 0 1 0 2.1 0a1.05 1.05 0 1 0 -2.1 0M334.97 287.51a1.05 1.05 0 1 0 2.1 0a1.05 1.05 0 1 0 -2.1 0M336.02 288.75a1.05 1.05 0 1 0 2.1 0a1.05 1.05 0 1 0 -2.1 0M333.74 295.2a1.05 1.05 0 1 0 2.1 0a1.05 1.05 0 1 0 -2.1 0M332.26 298.11a1.05 1.05 0 1 0 2.1 0a1.05 1.05 0 1 0 -2.1 0M333.25 287.8a1.05 1.05 0 1 0 2.1 0a1.05 1.05 0 1 0 -2.1 0M330.24 282.72a1.05 1.05 0 1 0 2.1 0a1.05 1.05 0 1 0 -2.1 0M332.93 289.17a1.05 1.05 0 1 0 2.1 0a1.05 1.05 0 1 0 -2.1 0M332.23 279.45a1.05 1.05 0 1 0 2.1 0a1.05 1.05 0 1 0 -2.1 0M335.28 300.16a1.05 1.05 0 1 0 2.1 0a1.05 1.05 0 1 0 -2.1 0M333.98 298.5a1.05 1.05 0 1 0 2.1 0a1.05 1.05 0 1 0 -2.1 0M335.47 291a1.05 1.05 0 1 0 2.1 0a1.05 1.05 0 1 0 -2.1 0M333.62 290.51a1.05 1.05 0 1 0 2.1 0a1.05 1.05 0 1 0 -2.1 0M331.24 288.88a1.05 1.05 0 1 0 2.1 0a1.05 1.05 0 1 0 -2.1 0M332.58 279.77a1.05 1.05 0 1 0 2.1 0a1.05 1.05 0 1 0 -2.1 0M332.7 288.82a1.05 1.05 0 1 0 2.1 0a1.05 1.05 0 1 0 -2.1 0M337.81 290.96a1.05 1.05 0 1 0 2.1 0a1.05 1.05 0 1 0 -2.1 0M337.39 294.72a1.05 1.05 0 1 0 2.1 0a1.05 1.05 0 1 0 -2.1 0M330.02 296.59a1.05 1.05 0 1 0 2.1 0a1.05 1.05 0 1 0 -2.1 0M330.83 293.17a1.05 1.05 0 1 0 2.1 0a1.05 1.05 0 1 0 -2.1 0M330.49 281.04a1.05 1.05 0 1 0 2.1 0a1.05 1.05 0 1 0 -2.1 0M331.03 284.04a1.05 1.05 0 1 0 2.1 0a1.05 1.05 0 1 0 -2.1 0M331.05 288.9a1.05 1.05 0 1 0 2.1 0a1.05 1.05 0 1 0 -2.1 0M330.79 284.57a1.05 1.05 0 1 0 2.1 0a1.05 1.05 0 1 0 -2.1 0M330.03 288.98a1.05 1.05 0 1 0 2.1 0a1.05 1.05 0 1 0 -2.1 0M331.23 287.88a1.05 1.05 0 1 0 2.1 0a1.05 1.05 0 1 0 -2.1 0M330.1 283.23a1.05 1.05 0 1 0 2.1 0a1.05 1.05 0 1 0 -2.1 0M333.57 282.73a1.05 1.05 0 1 0 2.1 0a1.05 1.05 0 1 0 -2.1 0M333.55 295.14a1.05 1.05 0 1 0 2.1 0a1.05 1.05 0 1 0 -2.1 0M330.66 278.48a1.05 1.05 0 1 0 2.1 0a1.05 1.05 0 1 0 -2.1 0" fill="#EDE447" stroke="none"/>
<path d="M335.62 282.72h2M336.62 281.72v2M341.02 281.87h2M342.02 280.87v2M340.22 274.83h2M341.22 273.83v2M339.59 285.65h2M340.59 284.65v2M338.08 284.78h2M339.08 283.78v2M342.02 273.98h2M343.02 272.98v2M341.31 282.84h2M342.31 281.84v2M339.17 276.83h2M340.17 275.83v2M342.36 274.37h2M343.36 273.37v2M336.03 283.21h2M337.03 282.21v2M341.42 273.65h2M342.42 272.65v2M340.95 281.66h2M341.95 280.66v2M336.91 282.01h2M337.91 281.01v2M341.76 281.47h2M342.76 280.47v2M342.09 279.81h2M343.09 278.81v2M337.31 285.17h2M338.31 284.17v2M342.47 274.52h2M343.47 273.52v2M342.95 276.95h2M343.95 275.95v2M339.96 281.92h2M340.96 280.92v2M340.25 277.58h2M341.25 276.58v2M341.13 281.05h2M342.13 280.05v2M339.38 283.02h2M340.38 282.02v2M341.57 280.7h2M342.57 279.7v2M337.39 284.41h2M338.39 283.41v2M339.34 284.99h2M340.34 283.99v2M341.42 279.9h2M342.42 278.9v2M335.95 281.91h2M336.95 280.91v2M340.5 279.6h2M341.5 278.6v2M337.58 281.08h2M338.58 280.08v2M336.81 282.24h2M337.81 281.24v2M340.74 275.62h2M341.74 274.62v2M340.99 277.52h2M341.99 276.52v2M336.29 284.12h2M337.29 283.12v2M342.43 278.93h2M343.43 277.93v2M335.5 283.23h2M336.5 282.23v2M336.6 284.98h2M337.6 283.98v2M343.04 278.35h2M344.04 277.35v2M337.96 278.37h2M338.96 277.37v2M336.52 281.58h2M337.52 280.58v2M338.24 284.08h2M339.24 283.08v2M337.51 279.77h2M338.51 278.77v2M339.98 284.92h2M340.98 283.92v2M340.73 278.89h2M341.73 277.89v2M337.01 282.78h2M338.01 281.78v2M342.83 279.41h2M343.83 278.41v2M337.73 277.47h2M338.73 276.47v2M336.77 285.13h2M337.77 284.13v2M341.27 278.76h2M342.27 277.76v2M338.88 284.22h2M339.88 283.22v2M341.89 274.32h2M342.89 273.32v2M339.63 282.61h2M340.63 281.61v2M342.81 275.46h2M343.81 274.46v2M338.86 277.3h2M339.86 276.3v2M335.88 285.94h2M336.88 284.94v2M341.15 273.42h2M342.15 272.42v2M340.36 284.51h2M341.36 283.51v2M340.09 283.6h2M341.09 282.6v2M335.48 286.74h2M336.48 285.74v2M339.54 285.35h2M340.54 284.35v2M340.87 282.25h2M341.87 281.25v2M338.52 280.47h2M339.52 279.47v2M335.75 281.9h2M336.75 280.9v2M341.47 282.38h2M342.47 281.38v2M336.3 286.48h2M337.3 285.48v2M339.63 274.75h2M340.63 273.75v2M337.84 287.42h2M338.84 286.42v2M337.41 287.83h2M338.41 286.83v2M339.5 275.42h2M340.5 274.42v2M338.08 285.67h2M339.08 284.67v2M336.75 285.37h2M337.75 284.37v2M339.43 280.94h2M340.43 279.94v2M335.99 281.73h2M336.99 280.73v2M337.82 278.99h2M338.82 277.99v2M340.75 284.28h2M341.75 283.28v2M341.22 278.77h2M342.22 277.77v2M338.37 278.29h2M339.37 277.29v2M336.62 282.21h2M337.62 281.21v2M342.26 279.13h2M343.26 278.13v2M335.42 284.85h2M336.42 283.85v2M337.69 279.87h2M338.69 278.87v2M342.03 281.69h2M343.03 280.69v2M335.74 287.53h2M336.74 286.53v2M335.48 284.25h2M336.48 283.25v2M342.34 280.36h2M343.34 279.36v2M339.42 281.2h2M340.42 280.2v2M342.6 278.49h2M343.6 277.49v2M341.5 273.2h2M342.5 272.2v2M342.1 279.96h2M343.1 278.96v2M338.53 286.6h2M339.53 285.6v2M336.02 285.94h2M337.02 284.94v2M339.6 282.25h2M340.6 281.25v2M341.83 273.87h2M342.83 272.87v2M339.34 279.21h2M340.34 278.21v2M337.23 281.78h2M338.23 280.78v2M342.43 277.99h2M343.43 276.99v2M340.22 277.67h2M341.22 276.67v2M337 281.18h2M338 280.18v2M339.36 279.05h2M340.36 278.05v2M339.49 280.06h2M340.49 279.06v2M337.48 283.49h2M338.48 282.49v2M341.02 282.62h2M342.02 281.62v2M340.75 274.23h2M341.75 273.23v2M337.48 280.59h2M338.48 279.59v2M336.5 279.69h2M337.5 278.69v2M338.82 281.09h2M339.82 280.09v2M339.16 280.54h2M340.16 279.54v2M335.54 282.46h2M336.54 281.46v2M337.29 282.86h2M338.29 281.86v2M337.2 286.78h2M338.2 285.78v2M337.61 284.87h2M338.61 283.87v2M340.04 280.97h2M341.04 279.97v2M342.97 275.16h2M343.97 274.16v2M342.44 275.94h2M343.44 274.94v2M339.18 285.5h2M340.18 284.5v2M340.93 276.73h2M341.93 275.73v2M341.24 274.14h2M342.24 273.14v2M341.21 280.69h2M342.21 279.69v2M337.06 285.58h2M338.06 284.58v2M336.73 280.77h2M337.73 279.77v2M342.22 274.14h2M343.22 273.14v2M340.42 274.72h2M341.42 273.72v2M337.67 280.53h2M338.67 279.53v2M341.03 279.76h2M342.03 278.76v2M340.25 279.71h2M341.25 278.71v2M340.51 284.55h2M341.51 283.55v2M340.23 274.78h2M341.23 273.78v2M342.02 273.85h2M343.02 272.85v2M340.58 279.9h2M341.58 278.9v2M342.16 279.77h2M343.16 278.77v2M340.95 274.18h2M341.95 273.18v2M340.91 274.28h2M341.91 273.28v2M338.65 277.01h2M339.65 276.01v2M339.12 278.05h2M340.12 277.05v2M341.08 283.42h2M342.08 282.42v2M338.09 286.96h2M339.09 285.96v2M336.93 280.26h2M337.93 279.26v2M340.44 278.67h2M341.44 277.67v2M340.44 279.78h2M341.44 278.78v2M335.82 283.3h2M336.82 282.3v2M335.59 282.07h2M336.59 281.07v2M337.29 285.07h2M338.29 284.07v2M340 282.88h2M341 281.88v2M335.3 285.25h2M336.3 284.25v2M340.48 280.71h2M341.48 279.71v2M336.45 282.66h2M337.45 281.66v2M336.05 285.88h2M337.05 284.88v2M340.12 283.13h2M341.12 282.13v2M336.69 284.1h2M337.69 283.1v2M339.33 276.21h2M340.33 275.21v2M341.06 273.94h2M342.06 272.94v2M337.64 283.75h2M338.64 282.75v2M338.94 285.64h2M339.94 284.64v2M343.03 275.35h2M344.03 274.35v2M340.49 282.94h2M341.49 281.94v2M338.63 277.28h2M339.63 276.28v2M340.02 282.54h2M341.02 281.54v2M335.53 282.63h2M336.53 281.63v2M337.06 279.36h2M338.06 278.36v2M340.95 282.11h2M341.95 281.11v2M338.53 278.87h2M339.53 277.87v2M337.7 285.06h2M338.7 284.06v2M341.57 281.45h2M342.57 280.45v2M336.92 285.44h2M337.92 284.44v2M338.28 281.08h2M339.28 280.08v2M336.57 285.02h2M337.57 284.02v2M337.91 279.21h2M338.91 278.21v2M338.25 283.35h2M339.25 282.35v2M342.14 273.97h2M343.14 272.97v2M335.72 281.77h2M336.72 280.77v2M338.57 279.95h2M339.57 278.95v2M336.6 286.29h2M337.6 285.29v2M339.26 278.5h2M340.26 277.5v2M341.59 277.4h2M342.59 276.4v2M340.05 280.47h2M341.05 279.47v2M338.2 279.09h2M339.2 278.09v2M339.46 283.46h2M340.46 282.46v2M338.77 282.22h2M339.77 281.22v2M338.2 284.98h2M339.2 283.98v2M336.44 279.7h2M337.44 278.7v2M342.66 277.53h2M343.66 276.53v2M340.47 277.49h2M341.47 276.49v2M338.85 284.61h2M339.85 283.61v2M337.79 281.38h2M338.79 280.38v2M337.32 286.6h2M338.32 285.6v2M342.18 278.1h2M343.18 277.1v2M335.36 285.09h2M336.36 284.09v2M338.19 277.64h2M339.19 276.64v2M338.87 278.06h2M339.87 277.06v2M341.18 280.32h2M342.18 279.32v2M339.09 283.29h2M340.09 282.29v2M342.22 280.08h2M343.22 279.08v2M342.07 276.88h2M343.07 275.88v2M341.74 280.88h2M342.74 279.88v2M341.02 279.52h2M342.02 278.52v2M335.88 282.48h2M336.88 281.48v2M338.16 279.06h2M339.16 278.06v2M341.03 274.27h2M342.03 273.27v2M337.67 285.41h2M338.67 284.41v2M337.9 277.86h2M338.9 276.86v2M335.91 282.5h2M336.91 281.5v2M339.41 280.76h2M340.41 279.76v2M339.02 283.78h2M340.02 282.78v2M340.68 282.21h2M341.68 281.21v2M339.17 277.33h2M340.17 276.33v2M342.51 273.92h2M343.51 272.92v2M340.62 275.93h2M341.62 274.93v2M343.36 275.41h2M344.36 274.41v2M338.08 280.1h2M339.08 279.1v2M339.71 280.04h2M340.71 279.04v2M337.38 285.35h2M338.38 284.35v2M335.41 286.42h2M336.41 285.42v2M338.52 277.22h2M339.52 276.22v2M337.45 279.36h2M338.45 278.36v2M340.27 274.17h2M341.27 273.17v2M338.15 276.83h2M339.15 275.83v2M335.83 286.14h2M336.83 285.14v2M339.84 283.96h2M340.84 282.96v2M336.28 288.04h2M337.28 287.04v2M336.24 281.22h2M337.24 280.22v2M342.96 274.7h2M343.96 273.7v2M338.07 277.88h2M339.07 276.88v2M341.32 281.93h2M342.32 280.93v2M340.45 280.06h2M341.45 279.06v2M338.25 280.86h2M339.25 279.86v2M339.91 274.94h2M340.91 273.94v2M340.98 275.07h2M341.98 274.07v2M340.23 274.65h2M341.23 273.65v2M338.11 283.68h2M339.11 282.68v2M336.13 284.15h2M337.13 283.15v2M342.4 277.91h2M343.4 276.91v2M338.13 282.76h2M339.13 281.76v2M340.38 279.54h2M341.38 278.54v2M342.45 274.51h2M343.45 273.51v2M342.26 273.63h2M343.26 272.63v2M336.36 280.26h2M337.36 279.26v2M338.03 283.19h2M339.03 282.19v2M335.71 287.77h2M336.71 286.77v2M335.46 285.79h2M336.46 284.79v2M337.21 286.59h2M338.21 285.59v2M336.76 279.71h2M337.76 278.71v2M338.14 283.72h2M339.14 282.72v2M339.18 281.89h2M340.18 280.89v2M337.02 287.38h2M338.02 286.38v2M338.34 278.17h2M339.34 277.17v2M342.13 280.66h2M343.13 279.66v2M342.55 275.03h2M343.55 274.03v2M340.81 280.9h2M341.81 279.9v2M340.13 281.8h2M341.13 280.8v2M338.75 282.64h2M339.75 281.64v2M341.33 277.31h2M342.33 276.31v2M339.35 278.78h2M340.35 277.78v2M339.15 283.22h2M340.15 282.22v2M338.62 281.27h2M339.62 280.27v2M337.34 281.9h2M338.34 280.9v2M342.21 279.64h2M343.21 278.64v2M338.09 285.54h2M339.09 284.54v2M340.26 280.46h2M341.26 279.46v2M339.84 277.91h2M340.84 276.91v2M340.15 280.6h2M341.15 279.6v2M343.01 274.59h2M344.01 273.59v2M339.5 277.94h2M340.5 276.94v2M339.23 275.29h2M340.23 274.29v2M341.81 274.8h2M342.81 273.8v2M340.04 281.77h2M341.04 280.77v2M342.3 281.17h2M343.3 280.17v2M338.43 278.51h2M339.43 277.51v2M338.36 279.66h2M339.36 278.66v2M336.89 281.96h2M337.89 280.96v2M335.65 283.42h2M336.65 282.42v2M336.22 281.75h2M337.22 280.75v2M342.3 281.01h2M343.3 280.01v2M338.55 281.34h2M339.55 280.34v2M336.44 288.15h2M337.44 287.15v2M339.65 285.44h2M340.65 284.44v2M339.56 285.67h2M340.56 284.67v2M339.87 283.84h2M340.87 282.84v2M343.1 278.45h2M344.1 277.45v2M339.03 279.13h2M340.03 278.13v2M336.27 283.51h2M337.27 282.51v2M335.55 286.06h2M336.55 285.06v2M339.85 284.13h2M340.85 283.13v2M336.02 287.99h2M337.02 286.99v2M337.48 279.65h2M338.48 278.65v2M338.99 276.99h2M339.99 275.99v2M339.11 276.15h2M340.11 275.15v2M340.8 274.47h2M341.8 273.47v2M335.31 284.13h2M336.31 283.13v2M337.88 282.22h2M338.88 281.22v2M338.65 275.77h2M339.65 274.77v2M336.36 282.4h2M337.36 281.4v2M338.52 285.93h2M339.52 284.93v2M341.93 273.2h2M342.93 272.2v2M340.5 277.34h2M341.5 276.34v2M336.31 284.59h2M337.31 283.59v2M336.86 282.4h2M337.86 281.4v2M339.83 282.88h2M340.83 281.88v2M340.9 279.25h2M341.9 278.25v2M335.62 284.49h2M336.62 283.49v2M337.73 278.16h2M338.73 277.16v2M343.46 276.33h2M344.46 275.33v2M339.89 281.28h2M340.89 280.28v2M337.09 285.06h2M338.09 284.06v2M341.66 276.67h2M342.66 275.67v2M341.08 279.11h2M342.08 278.11v2M340.04 280.24h2M341.04 279.24v2M338.04 282.75h2M339.04 281.75v2M339.97 274.87h2M340.97 273.87v2M337.46 280.37h2M338.46 279.37v2M337.66 281.65h2M338.66 280.65v2M338.13 284.14h2M339.13 283.14v2M338.84 283.53h2M339.84 282.53v2M338.19 274.21h2M339.19 273.21v2M336.39 279.88h2M337.39 278.88v2M339.64 281.19h2M340.64 280.19v2M341.13 280.76h2M342.13 279.76v2M337.26 279.2h2M338.26 278.2v2M339.91 275.96h2M340.91 274.96v2M339.62 281.07h2M340.62 280.07v2M338.35 283.1h2M339.35 282.1v2M338.94 275.56h2M339.94 274.56v2M336.69 284.94h2M337.69 283.94v2M337.44 280.35h2M338.44 279.35v2M337.69 287.47h2M338.69 286.47v2M338.06 278.79h2M339.06 277.79v2M339.93 279.02h2M340.93 278.02v2M337.77 279.41h2M338.77 278.41v2M339.67 281.51h2M340.67 280.51v2M335.8 284.82h2M336.8 283.82v2M343.09 279.13h2M344.09 278.13v2M340.02 278.77h2M341.02 277.77v2M337.46 283.36h2M338.46 282.36v2M339.58 281.57h2M340.58 280.57v2M342.23 282.76h2M343.23 281.76v2M338.06 275.72h2M339.06 274.72v2M337.88 283.83h2M338.88 282.83v2M341.04 278.17h2M342.04 277.17v2M333.8 287.22h2M334.8 286.22v2M341.73 277.27h2M342.73 276.27v2M343.48 274.06h2M344.48 273.06v2M341.87 280.24h2M342.87 279.24v2M338.05 281.53h2M339.05 280.53v2M338.4 283.54h2M339.4 282.54v2M341.07 279.96h2M342.07 278.96v2M341.9 277.01h2M342.9 276.01v2M340.49 277.09h2M341.49 276.09v2M339.09 283.69h2M340.09 282.69v2M342.3 278.62h2M343.3 277.62v2M338.49 280.8h2M339.49 279.8v2M339.34 281.83h2M340.34 280.83v2M339.01 280.64h2M340.01 279.64v2M339.24 279.75h2M340.24 278.75v2M338.94 279.34h2M339.94 278.34v2M337.02 284.68h2M338.02 283.68v2M340.56 274.95h2M341.56 273.95v2M342.19 278.89h2M343.19 277.89v2M338.98 282.26h2M339.98 281.26v2M337.27 287.22h2M338.27 286.22v2M341.43 276.5h2M342.43 275.5v2M336.12 285.74h2M337.12 284.74v2M338.55 282.72h2M339.55 281.72v2M339.12 279.59h2M340.12 278.59v2M337.86 280.99h2M338.86 279.99v2M340.27 279.16h2M341.27 278.16v2M339.07 279.37h2M340.07 278.37v2M339.52 279.08h2M340.52 278.08v2M339.46 279.7h2M340.46 278.7v2M337.06 281.79h2M338.06 280.79v2M335.24 284.93h2M336.24 283.93v2M344.16 281.25h2M345.16 280.25v2M336.23 284.64h2M337.23 283.64v2M343.99 282.73h2M344.99 281.73v2M337.53 280.49h2M338.53 279.49v2M342.57 280.68h2M343.57 279.68v2M334.35 287.6h2M335.35 286.6v2M339.29 276.53h2M340.29 275.53v2M338.35 280.53h2M339.35 279.53v2M338.33 277.66h2M339.33 276.66v2M339.98 279.88h2M340.98 278.88v2M340.56 279.31h2M341.56 278.31v2M337.16 279.14h2M338.16 278.14v2" fill="none" stroke="#EE312C" stroke-width="0.65"/>
</svg>
<svg x="401" y="221.7" width="236" height="190.2" viewBox="401 221.7 236 190.2" overflow="hidden">
<path d="M410.5 229.8h2v2h-2zM415.2 265.4h2v2h-2zM413.9 269h2v2h-2zM435.2 274.4h2v2h-2zM448.2 265.2h2v2h-2zM448.5 266.7h2v2h-2zM453.4 265.4h2v2h-2zM455.7 263.1h2v2h-2zM460.5 271.3h2v2h-2zM466.2 273.4h2v2h-2zM473.6 260.5h2v2h-2zM482.3 269.8h2v2h-2zM464.9 280h2v2h-2zM459.3 283.6h2v2h-2zM458 286.2h2v2h-2zM458.2 288.2h2v2h-2zM442.6 290h2v2h-2zM462.8 292.6h2v2h-2zM452.8 295.4h2v2h-2zM476.4 282.6h2v2h-2zM490.8 304.1h2v2h-2zM470.8 311.3h2v2h-2z" fill="#7FD0DA" stroke="none"/>
<path d="M467.2 296.9a0.8 0.8 0 1 0 1.6 0a0.8 0.8 0 1 0 -1.6 0M522.2 333a0.8 0.8 0 1 0 1.6 0a0.8 0.8 0 1 0 -1.6 0M515.4 355a0.8 0.8 0 1 0 1.6 0a0.8 0.8 0 1 0 -1.6 0" fill="#1F9FA8" stroke="none"/>
<path d="M460.3 300.8l2.4 2.4M460.3 303.2l2.4 -2.4M508.3 323.2l2.4 2.4M508.3 325.6l2.4 -2.4M519.1 326.2l2.4 2.4M519.1 328.6l2.4 -2.4M527.4 325.4l2.4 2.4M527.4 327.8l2.4 -2.4M537.8 331.4l2.4 2.4M537.8 333.8l2.4 -2.4M549.8 343.1l2.4 2.4M549.8 345.5l2.4 -2.4M509.7 322.7l2.4 2.4M509.7 325.1l2.4 -2.4" fill="none" stroke="#B8B44C" stroke-width="0.6"/>
<path d="M505.5 329.11L507 330.6L505.5 332.1L504 330.6zM492.6 332.7L494.1 334.2L492.6 335.69L491.11 334.2zM536 324.2L537.5 325.7L536 327.19L534.5 325.7zM515.6 343.31L517.1 344.8L515.6 346.3L514.11 344.8zM535 342.5L536.5 344L535 345.5L533.5 344zM493.8 332L495.3 333.5L493.8 335L492.31 333.5zM508.2 360.4L509.69 361.9L508.2 363.39L506.7 361.9zM534.7 342.81L536.2 344.3L534.7 345.8L533.21 344.3zM537.4 349.9L538.89 351.4L537.4 352.89L535.9 351.4zM542.7 349.11L544.2 350.6L542.7 352.1L541.21 350.6zM543.2 356L544.7 357.5L543.2 359L541.71 357.5zM552.7 356L554.2 357.5L552.7 359L551.21 357.5zM556.5 353.5L558 355L556.5 356.5L555 355zM562.5 353.5L564 355L562.5 356.5L561 355zM530 368.5L531.5 370L530 371.5L528.5 370zM535.7 371.11L537.2 372.6L535.7 374.1L534.21 372.6zM549 363.5L550.5 365L549 366.5L547.5 365zM540 357.5L541.5 359L540 360.5L538.5 359zM546 368.5L547.5 370L546 371.5L544.5 370z" fill="#6A4BB0" stroke="none"/>
<path d="M495.05 333.85h1.9v1.9h-1.9zM559.05 361.55h1.9v1.9h-1.9zM564.05 367.05h1.9v1.9h-1.9z" fill="#C2BC5A" stroke="none"/>
<path d="M499.5 338.4h2v2h-2zM507.3 339.6h2v2h-2zM519 337.3h2v2h-2zM518 342.5h2v2h-2zM521 342.5h2v2h-2zM535 336.7h2v2h-2zM497.6 339h2v2h-2z" fill="#7CCB6C" stroke="none"/>
<path d="M523.5 338.35L524.65 340.36L522.35 340.36zM526 343.85L527.15 345.86L524.85 345.86zM536.5 338.35L537.65 340.36L535.35 340.36zM520 351.05L521.15 353.06L518.85 353.06zM525.5 343.85L526.65 345.86L524.35 345.86zM528.5 364.35L529.65 366.36L527.35 366.36zM524 366.55L525.15 368.56L522.85 368.56z" fill="#3FC0CF" stroke="none"/>
<path d="M514 348.5a1 1 0 1 0 2 0a1 1 0 1 0 -2 0M526.5 348a1 1 0 1 0 2 0a1 1 0 1 0 -2 0M526.6 348a1 1 0 1 0 2 0a1 1 0 1 0 -2 0M525.4 350.9a1 1 0 1 0 2 0a1 1 0 1 0 -2 0" fill="#3FC0CF" stroke="none"/>
<path d="M533.5 349.9a1.1 1.1 0 1 0 2.2 0a1.1 1.1 0 1 0 -2.2 0M535.7 357.8a1.1 1.1 0 1 0 2.2 0a1.1 1.1 0 1 0 -2.2 0M532.4 360.7a1.1 1.1 0 1 0 2.2 0a1.1 1.1 0 1 0 -2.2 0M527.4 359.6a1.1 1.1 0 1 0 2.2 0a1.1 1.1 0 1 0 -2.2 0M525.5 363.2a1.1 1.1 0 1 0 2.2 0a1.1 1.1 0 1 0 -2.2 0M525.9 367.7a1.1 1.1 0 1 0 2.2 0a1.1 1.1 0 1 0 -2.2 0M531.1 366.8a1.1 1.1 0 1 0 2.2 0a1.1 1.1 0 1 0 -2.2 0M536.9 362a1.1 1.1 0 1 0 2.2 0a1.1 1.1 0 1 0 -2.2 0" fill="#F08A28" stroke="none"/>
<path d="M546.25 373.57L547.68 375L546.25 376.43L544.82 375zM551.25 374.01L552.68 375.44L551.25 376.87L549.82 375.44zM552.37 379.59L553.8 381.02L552.37 382.45L550.94 381.02zM552.47 382.25L553.9 383.68L552.47 385.11L551.04 383.68zM549.99 368.89L551.42 370.32L549.99 371.75L548.56 370.32zM549.54 381.77L550.97 383.2L549.54 384.63L548.11 383.2zM549.85 381.48L551.28 382.91L549.85 384.34L548.42 382.91zM546.92 377.02L548.35 378.45L546.92 379.88L545.49 378.45zM550.6 368.1L552.03 369.53L550.6 370.96L549.17 369.53zM548.91 374.32L550.34 375.75L548.91 377.18L547.48 375.75zM553.68 381.68L555.11 383.11L553.68 384.54L552.25 383.11zM548.82 370.18L550.25 371.61L548.82 373.04L547.39 371.61zM552.59 372.19L554.02 373.62L552.59 375.05L551.16 373.62zM552.54 379.76L553.97 381.19L552.54 382.62L551.11 381.19zM550.16 380.19L551.59 381.62L550.16 383.05L548.73 381.62zM548.42 372.49L549.85 373.92L548.42 375.35L546.99 373.92zM545.47 372.07L546.9 373.5L545.47 374.93L544.04 373.5zM554.76 373.82L556.19 375.25L554.76 376.68L553.33 375.25zM551.28 369.85L552.71 371.28L551.28 372.71L549.85 371.28zM550.61 369.86L552.04 371.29L550.61 372.72L549.18 371.29zM550.65 375.36L552.08 376.79L550.65 378.22L549.22 376.79zM547.67 378.58L549.1 380.01L547.67 381.44L546.24 380.01zM547.89 372.95L549.32 374.38L547.89 375.81L546.46 374.38zM543.77 373.29L545.2 374.72L543.77 376.15L542.34 374.72zM555.52 373.32L556.95 374.75L555.52 376.18L554.09 374.75zM549.4 379.39L550.83 380.82L549.4 382.25L547.97 380.82zM543.56 374.07L544.99 375.5L543.56 376.93L542.13 375.5zM554.2 380.8L555.63 382.23L554.2 383.66L552.77 382.23zM551.07 375.91L552.5 377.34L551.07 378.77L549.64 377.34zM553.63 366.46L555.06 367.89L553.63 369.32L552.2 367.89zM560 364.86L561.43 366.29L560 367.72L558.57 366.29zM546.47 371.54L547.9 372.97L546.47 374.4L545.04 372.97zM543.96 378.16L545.39 379.59L543.96 381.02L542.53 379.59zM557.76 366.9L559.19 368.33L557.76 369.76L556.33 368.33z" fill="#F0E845" stroke="none"/>
<path d="M547.6 379.02L549.03 380.45L547.6 381.88L546.17 380.45zM545.39 376.21L546.82 377.64L545.39 379.07L543.96 377.64zM555.51 365.99L556.94 367.42L555.51 368.85L554.08 367.42zM549.34 376.01L550.77 377.44L549.34 378.87L547.91 377.44zM548.18 376.95L549.61 378.38L548.18 379.81L546.75 378.38zM541.11 375.24L542.54 376.67L541.11 378.1L539.68 376.67zM548.13 372.1L549.56 373.53L548.13 374.96L546.7 373.53zM557.95 388.23L559.38 389.66L557.95 391.09L556.52 389.66zM555.4 372.97L556.83 374.4L555.4 375.83L553.97 374.4zM558.82 380.24L560.25 381.67L558.82 383.1L557.39 381.67zM546.5 380.8L547.93 382.23L546.5 383.66L545.07 382.23zM547.82 380.62L549.25 382.05L547.82 383.48L546.39 382.05zM556.06 383.73L557.49 385.16L556.06 386.59L554.63 385.16zM545.2 376.9L546.63 378.33L545.2 379.76L543.77 378.33zM560 390.57L561.43 392L560 393.43L558.57 392zM545 396.57L546.43 398L545 399.43L543.57 398zM541 402.57L542.43 404L541 405.43L539.57 404zM564 380.57L565.43 382L564 383.43L562.57 382zM557 386.57L558.43 388L557 389.43L555.57 388z" fill="none" stroke="#E6E060" stroke-width="0.6"/>
<path d="M548.02 370.27h2v2h-2zM550.08 377.69h2v2h-2zM541.09 372.87h2v2h-2zM542.47 370.07h2v2h-2zM542.66 380.33h2v2h-2zM544.68 373.47h2v2h-2zM552.95 378.97h2v2h-2zM555.04 366.96h2v2h-2zM551.78 368.2h2v2h-2zM544.83 373.39h2v2h-2zM545.15 382.62h2v2h-2zM547.16 379.55h2v2h-2z" fill="none" stroke="#E8E26A" stroke-width="0.6"/>
<path d="M572.1 343.2h2.2v2.2h-2.2z" fill="#C2BC5A" stroke="none"/>
<path d="M561.4 357.5a1.1 1.1 0 1 0 2.2 0a1.1 1.1 0 1 0 -2.2 0M563.9 368a1.1 1.1 0 1 0 2.2 0a1.1 1.1 0 1 0 -2.2 0M557.9 392a1.1 1.1 0 1 0 2.2 0a1.1 1.1 0 1 0 -2.2 0M558.9 395a1.1 1.1 0 1 0 2.2 0a1.1 1.1 0 1 0 -2.2 0M543.9 398a1.1 1.1 0 1 0 2.2 0a1.1 1.1 0 1 0 -2.2 0M539.9 404a1.1 1.1 0 1 0 2.2 0a1.1 1.1 0 1 0 -2.2 0" fill="none" stroke="#E6E060" stroke-width="0.55"/>
<path d="M544.18 363.77a1.1 1.1 0 1 0 2.2 0a1.1 1.1 0 1 0 -2.2 0M546.94 365.72a1.1 1.1 0 1 0 2.2 0a1.1 1.1 0 1 0 -2.2 0M546.9 357.28a1.1 1.1 0 1 0 2.2 0a1.1 1.1 0 1 0 -2.2 0M546.93 365.24a1.1 1.1 0 1 0 2.2 0a1.1 1.1 0 1 0 -2.2 0M547.3 363.8a1.1 1.1 0 1 0 2.2 0a1.1 1.1 0 1 0 -2.2 0M546.54 358.94a1.1 1.1 0 1 0 2.2 0a1.1 1.1 0 1 0 -2.2 0M549.43 359.29a1.1 1.1 0 1 0 2.2 0a1.1 1.1 0 1 0 -2.2 0M550.51 367.93a1.1 1.1 0 1 0 2.2 0a1.1 1.1 0 1 0 -2.2 0M544.65 362.86a1.1 1.1 0 1 0 2.2 0a1.1 1.1 0 1 0 -2.2 0M548.01 362.82a1.1 1.1 0 1 0 2.2 0a1.1 1.1 0 1 0 -2.2 0M540.14 365.08a1.1 1.1 0 1 0 2.2 0a1.1 1.1 0 1 0 -2.2 0M540.01 362.23a1.1 1.1 0 1 0 2.2 0a1.1 1.1 0 1 0 -2.2 0M552.08 367.14a1.1 1.1 0 1 0 2.2 0a1.1 1.1 0 1 0 -2.2 0M543.1 363.73a1.1 1.1 0 1 0 2.2 0a1.1 1.1 0 1 0 -2.2 0M542.31 363.96a1.1 1.1 0 1 0 2.2 0a1.1 1.1 0 1 0 -2.2 0M539.1 366.65a1.1 1.1 0 1 0 2.2 0a1.1 1.1 0 1 0 -2.2 0M544.96 361.63a1.1 1.1 0 1 0 2.2 0a1.1 1.1 0 1 0 -2.2 0M542.44 374.22a1.1 1.1 0 1 0 2.2 0a1.1 1.1 0 1 0 -2.2 0M553.4 353.5a1.1 1.1 0 1 0 2.2 0a1.1 1.1 0 1 0 -2.2 0M536.4 363.5a1.1 1.1 0 1 0 2.2 0a1.1 1.1 0 1 0 -2.2 0M539.9 374a1.1 1.1 0 1 0 2.2 0a1.1 1.1 0 1 0 -2.2 0M556.4 372a1.1 1.1 0 1 0 2.2 0a1.1 1.1 0 1 0 -2.2 0M564.9 349a1.1 1.1 0 1 0 2.2 0a1.1 1.1 0 1 0 -2.2 0M560.9 350a1.1 1.1 0 1 0 2.2 0a1.1 1.1 0 1 0 -2.2 0" fill="#6E7FD2" stroke="none"/>
<path d="M543 360h2v2h-2zM545.5 363h2v2h-2zM549 360.8h2v2h-2zM544 366h2v2h-2zM549 370h2v2h-2zM536.9 377.9h2v2h-2zM533 380.5h2v2h-2zM547 368h2v2h-2z" fill="#1E3A9C" stroke="none"/>
<path d="M540.9 359.92a1.1 1.1 0 1 0 2.2 0a1.1 1.1 0 1 0 -2.2 0M540.28 359.84a1.1 1.1 0 1 0 2.2 0a1.1 1.1 0 1 0 -2.2 0M548.79 364.96a1.1 1.1 0 1 0 2.2 0a1.1 1.1 0 1 0 -2.2 0M544.79 363.6a1.1 1.1 0 1 0 2.2 0a1.1 1.1 0 1 0 -2.2 0M537.78 351.44a1.1 1.1 0 1 0 2.2 0a1.1 1.1 0 1 0 -2.2 0M549.7 365.13a1.1 1.1 0 1 0 2.2 0a1.1 1.1 0 1 0 -2.2 0M543.88 363.22a1.1 1.1 0 1 0 2.2 0a1.1 1.1 0 1 0 -2.2 0M543.8 362.09a1.1 1.1 0 1 0 2.2 0a1.1 1.1 0 1 0 -2.2 0M541.72 352.26a1.1 1.1 0 1 0 2.2 0a1.1 1.1 0 1 0 -2.2 0M545.46 362.21a1.1 1.1 0 1 0 2.2 0a1.1 1.1 0 1 0 -2.2 0M547.3 363.35a1.1 1.1 0 1 0 2.2 0a1.1 1.1 0 1 0 -2.2 0M541.61 364.64a1.1 1.1 0 1 0 2.2 0a1.1 1.1 0 1 0 -2.2 0M543.75 360.06a1.1 1.1 0 1 0 2.2 0a1.1 1.1 0 1 0 -2.2 0M541.21 360.15a1.1 1.1 0 1 0 2.2 0a1.1 1.1 0 1 0 -2.2 0" fill="#5A3EA0" stroke="none"/>
<path d="M546.1 365.85L547.25 363.84L544.95 363.84zM549.95 375.67L551.1 373.65L548.8 373.65zM546.66 370.42L547.81 368.41L545.51 368.41zM541.08 357.72L542.23 355.71L539.93 355.71zM545.58 366.7L546.73 364.68L544.43 364.68zM544.77 363.18L545.92 361.17L543.62 361.17z" fill="none" stroke="#A03A52" stroke-width="0.55"/>
<path d="M549.9 361.9h2.2v2.2h-2.2zM567.5 366.5h2.2v2.2h-2.2zM567.9 369.9h2.2v2.2h-2.2zM562.9 377.9h2.2v2.2h-2.2zM560.9 374.9h2.2v2.2h-2.2zM533.7 386.9h2.2v2.2h-2.2zM548.9 381.6h2.2v2.2h-2.2z" fill="none" stroke="#F1A9C2" stroke-width="0.6"/>
<path d="M528.9 376.5a1.1 1.1 0 1 0 2.2 0a1.1 1.1 0 1 0 -2.2 0M523.9 383.5a1.1 1.1 0 1 0 2.2 0a1.1 1.1 0 1 0 -2.2 0M525.2 383a1.1 1.1 0 1 0 2.2 0a1.1 1.1 0 1 0 -2.2 0M524.7 381.6a1.1 1.1 0 1 0 2.2 0a1.1 1.1 0 1 0 -2.2 0M538.9 395a1.1 1.1 0 1 0 2.2 0a1.1 1.1 0 1 0 -2.2 0M543.9 392a1.1 1.1 0 1 0 2.2 0a1.1 1.1 0 1 0 -2.2 0" fill="none" stroke="#3E9A50" stroke-width="0.55"/>
<path d="M532.2 399.04L533.47 401.25L530.94 401.25zM530 403.74L531.26 405.95L528.74 405.95zM539 388.74L540.26 390.95L537.74 390.95zM547 395.74L548.26 397.95L545.74 397.95zM536 406.74L537.26 408.95L534.74 408.95z" fill="none" stroke="#4CB050" stroke-width="0.55"/>
<path d="M595.6 335.24h3M597.1 333.74v3M598.99 333.87h3M600.49 332.37v3M594.72 336.23h3M596.22 334.73v3M602.43 330.05h3M603.93 328.55v3M600.67 337.43h3M602.17 335.93v3M595.66 335.01h3M597.16 333.51v3M609.83 332.92h3M611.33 331.42v3M597.59 336.35h3M599.09 334.85v3M599.53 335.19h3M601.03 333.69v3M600.01 333.41h3M601.51 331.91v3M590.68 336.56h3M592.18 335.06v3M597.48 331.27h3M598.98 329.77v3M600.19 339.38h3M601.69 337.88v3M598.79 332.91h3M600.29 331.41v3M600.96 337.4h3M602.46 335.9v3M591.84 334.92h3M593.34 333.42v3M596.29 335.08h3M597.79 333.58v3M597.88 333.69h3M599.38 332.19v3M599.46 335.03h3M600.96 333.53v3M594.46 335.52h3M595.96 334.02v3M595.56 337.96h3M597.06 336.46v3M600.77 336.18h3M602.27 334.68v3M595.5 335.23h3M597 333.73v3M592.1 339.02h3M593.6 337.52v3M594.47 338.78h3M595.97 337.28v3M603.01 334.18h3M604.51 332.68v3M601.29 334.44h3M602.79 332.94v3M601.52 336.7h3M603.02 335.2v3M605.88 337.83h3M607.38 336.33v3M599.38 337.58h3M600.88 336.08v3M602.32 334.52h3M603.82 333.02v3M597.99 331.33h3M599.49 329.83v3M601.1 330.81h3M602.6 329.31v3M595.72 334.02h3M597.22 332.52v3M599.33 331.55h3M600.83 330.05v3M601.24 335.6h3M602.74 334.1v3M598.82 333.96h3M600.32 332.46v3M602.76 337.24h3M604.26 335.74v3M596.03 333.18h3M597.53 331.68v3M595.85 333.86h3M597.35 332.36v3M598.03 335.04h3M599.53 333.54v3M593.96 342.82h3M595.46 341.32v3M595.84 335.38h3M597.34 333.88v3M590.04 333.55h3M591.54 332.05v3M596.17 337.4h3M597.67 335.9v3M599.01 328.91h3M600.51 327.41v3M601.9 338.42h3M603.4 336.92v3M599.46 337.82h3M600.96 336.32v3M598.62 332.11h3M600.12 330.61v3M601.2 331.68h3M602.7 330.18v3M599.52 333.35h3M601.02 331.85v3M598.55 335.77h3M600.05 334.27v3M600.66 328.38h3M602.16 326.88v3M595.68 337.26h3M597.18 335.76v3M601.76 332.78h3M603.26 331.28v3M599.18 336.66h3M600.68 335.16v3M602.58 329.89h3M604.08 328.39v3M593.62 337.16h3M595.12 335.66v3M599.47 330.31h3M600.97 328.81v3M603.87 335.34h3M605.37 333.84v3M600.22 331.45h3M601.72 329.95v3M595.93 338.97h3M597.43 337.47v3M600.81 336.26h3M602.31 334.76v3M590.51 329.97h3M592.01 328.47v3M603.94 335.51h3M605.44 334.01v3M598.13 335.48h3M599.63 333.98v3M601.49 336.07h3M602.99 334.57v3M597.66 334.04h3M599.16 332.54v3M597.45 339.34h3M598.95 337.84v3M594.35 326.24h3M595.85 324.74v3M599.23 332.94h3M600.73 331.44v3M594.29 336h3M595.79 334.5v3M594.37 336.16h3M595.87 334.66v3M598.04 337.27h3M599.54 335.77v3M593.2 332.24h3M594.7 330.74v3M595.11 332.62h3M596.61 331.12v3M601 333.15h3M602.5 331.65v3M592.52 335.8h3M594.02 334.3v3M598.85 334.95h3M600.35 333.45v3M593.08 337.98h3M594.58 336.48v3M601.35 336.95h3M602.85 335.45v3M602.23 332.72h3M603.73 331.22v3M594.4 336.39h3M595.9 334.89v3M599.68 331.51h3M601.18 330.01v3M601.52 330.32h3M603.02 328.82v3M596.7 339.11h3M598.2 337.61v3M599.15 335.99h3M600.65 334.49v3M598.09 335.62h3M599.59 334.12v3M599.93 340.82h3M601.43 339.32v3M600.85 333.51h3M602.35 332.01v3M601.68 336.25h3M603.18 334.75v3M597.61 336.39h3M599.11 334.89v3M598.81 333.21h3M600.31 331.71v3M596.3 335.88h3M597.8 334.38v3M597.47 334.51h3M598.97 333.01v3M593.06 338.68h3M594.56 337.18v3M601.14 334.01h3M602.64 332.51v3M605.58 334.09h3M607.08 332.59v3M596.91 333.94h3M598.41 332.44v3M600.01 333.16h3M601.51 331.66v3M594.14 338.21h3M595.64 336.71v3M597.75 334.97h3M599.25 333.47v3M601.18 334.39h3M602.68 332.89v3M604.21 329.51h3M605.71 328.01v3M599.14 335.95h3M600.64 334.45v3M596.88 334.5h3M598.38 333v3M602.33 328.21h3M603.83 326.71v3M597.53 329.97h3M599.03 328.47v3M597.26 329.57h3M598.76 328.07v3M597.02 339.95h3M598.52 338.45v3M603.97 332.56h3M605.47 331.06v3M592.02 342.42h3M593.52 340.92v3M598.15 331.78h3M599.65 330.28v3M595.98 332.32h3M597.48 330.82v3M598.58 334.95h3M600.08 333.45v3M600.52 336.76h3M602.02 335.26v3M593.8 330.62h3M595.3 329.12v3M593.54 333.94h3M595.04 332.44v3M597.22 334.56h3M598.72 333.06v3M600.84 338.51h3M602.34 337.01v3M597.52 332.25h3M599.02 330.75v3M596.77 333.35h3M598.27 331.85v3M599.09 336.88h3M600.59 335.38v3M596.5 338.79h3M598 337.29v3M606.75 335.61h3M608.25 334.11v3M604.18 332.31h3M605.68 330.81v3M597.7 342.45h3M599.2 340.95v3M599.17 335.67h3M600.67 334.17v3M596.53 333.28h3M598.03 331.78v3M598.9 330.39h3M600.4 328.89v3M595.52 338.85h3M597.02 337.35v3M596.62 333.57h3M598.12 332.07v3M602.6 337.67h3M604.1 336.17v3M597.92 335.17h3M599.42 333.67v3M602.09 336.34h3M603.59 334.84v3M603.19 334.84h3M604.69 333.34v3M597.7 337.52h3M599.2 336.02v3M596.57 330.74h3M598.07 329.24v3M603.66 334.22h3M605.16 332.72v3M603.16 332.38h3M604.66 330.88v3M601.15 333.52h3M602.65 332.02v3M600.82 336.98h3M602.32 335.48v3M600.06 336.42h3M601.56 334.92v3M600.66 338.13h3M602.16 336.63v3M598.63 329.69h3M600.13 328.19v3M604.79 333.12h3M606.29 331.62v3M596.51 334.36h3M598.01 332.86v3M605.3 331.66h3M606.8 330.16v3M601.44 335.58h3M602.94 334.08v3M599.67 340.44h3M601.17 338.94v3M604.4 329.28h3M605.9 327.78v3M600.17 328.89h3M601.67 327.39v3M598.05 335.76h3M599.55 334.26v3M599.98 336.33h3M601.48 334.83v3M600.79 335.21h3M602.29 333.71v3M599.02 336h3M600.52 334.5v3M600.11 340.9h3M601.61 339.4v3M600.98 337.98h3M602.48 336.48v3M599.11 334.44h3M600.61 332.94v3M596.58 332.1h3M598.08 330.6v3M606.04 332.31h3M607.54 330.81v3M598.74 333.61h3M600.24 332.11v3M602.5 331.89h3M604 330.39v3M596.8 334.47h3M598.3 332.97v3M604.23 333.01h3M605.73 331.51v3M597.63 333.66h3M599.13 332.16v3M603.4 333.42h3M604.9 331.92v3M599.27 337.82h3M600.77 336.32v3M600.29 330.96h3M601.79 329.46v3M604.13 335.66h3M605.63 334.16v3M596.35 332.12h3M597.85 330.62v3M601.9 332.19h3M603.4 330.69v3M597.97 334.65h3M599.47 333.15v3M599.37 337.56h3M600.87 336.06v3M596.39 338.28h3M597.89 336.78v3M604.11 335.55h3M605.61 334.05v3M601.62 334.37h3M603.12 332.87v3M598.24 335.05h3M599.74 333.55v3M598.71 340.72h3M600.21 339.22v3M597.2 332.7h3M598.7 331.2v3M603.75 337.26h3M605.25 335.76v3M599.42 333.71h3M600.92 332.21v3M596.51 338.58h3M598.01 337.08v3M597.32 333.78h3M598.82 332.28v3M599.02 330.72h3M600.52 329.22v3M597.81 327.65h3M599.31 326.15v3M595.07 332.55h3M596.57 331.05v3M599.41 337.41h3M600.91 335.91v3M596.96 340.68h3M598.46 339.18v3M596.24 335.01h3M597.74 333.51v3M601.04 331.42h3M602.54 329.92v3M603.21 331.9h3M604.71 330.4v3M597.36 332.78h3M598.86 331.28v3M602.47 332.79h3M603.97 331.29v3M596.18 333.5h3M597.68 332v3M596.94 335.88h3M598.44 334.38v3M597.96 338.23h3M599.46 336.73v3M598.04 333.52h3M599.54 332.02v3M602.48 337.7h3M603.98 336.2v3M593.16 339.56h3M594.66 338.06v3M602.54 333.41h3M604.04 331.91v3M599.36 329.72h3M600.86 328.22v3M598.18 338.81h3M599.68 337.31v3M598.84 335.3h3M600.34 333.8v3M601.49 334.78h3M602.99 333.28v3M599.71 332.96h3M601.21 331.46v3M599.99 338.75h3M601.49 337.25v3M595.48 332.3h3M596.98 330.8v3M599.24 337.81h3M600.74 336.31v3M604.74 332.18h3M606.24 330.68v3M598.01 337.58h3M599.51 336.08v3M601.65 337.36h3M603.15 335.86v3M601.71 335.92h3M603.21 334.42v3M601.2 335.11h3M602.7 333.61v3M596.03 336.18h3M597.53 334.68v3M605.83 335.44h3M607.33 333.94v3M602.56 334.25h3M604.06 332.75v3M599.21 336.03h3M600.71 334.53v3M599.6 338.24h3M601.1 336.74v3M597.02 333.65h3M598.52 332.15v3M596.35 341.64h3M597.85 340.14v3M595.54 334.18h3M597.04 332.68v3M602.85 338.69h3M604.35 337.19v3M600.62 332.98h3M602.12 331.48v3M599.61 331.94h3M601.11 330.44v3M598.34 335.49h3M599.84 333.99v3M600.22 336.86h3M601.72 335.36v3M603.39 338.66h3M604.89 337.16v3M601.2 332.81h3M602.7 331.31v3M598.65 332.43h3M600.15 330.93v3M616.89 317.15h3M618.39 315.65v3M617.8 320.68h3M619.3 319.18v3M616.38 316.26h3M617.88 314.76v3M611.81 315.71h3M613.31 314.21v3M616.28 310.96h3M617.78 309.46v3M610.4 321.9h3M611.9 320.4v3M608.12 325.41h3M609.62 323.91v3M620.27 320.14h3M621.77 318.64v3M605.76 328.4h3M607.26 326.9v3M616.3 319.35h3M617.8 317.85v3M624.76 308.78h3M626.26 307.28v3M619.98 311.18h3M621.48 309.68v3M624.04 308.2h3M625.54 306.7v3M607.41 315.69h3M608.91 314.19v3M615.38 313.71h3M616.88 312.21v3M615.84 310.25h3M617.34 308.75v3M619.18 309.62h3M620.68 308.12v3M618.52 318.14h3M620.02 316.64v3M622.69 307.58h3M624.19 306.08v3M623.45 312.83h3M624.95 311.33v3M619.05 312.09h3M620.55 310.59v3M606.4 323.82h3M607.9 322.32v3M610.09 320.93h3M611.59 319.43v3M616.84 313.94h3M618.34 312.44v3M607.22 325.86h3M608.72 324.36v3M616.26 317.81h3M617.76 316.31v3M624.8 308h3M626.3 306.5v3M597.5 319h3M599 317.5v3M598.5 322h3M600 320.5v3M618.5 326h3M620 324.5v3M612.5 336h3M614 334.5v3M588.5 330h3M590 328.5v3M586.5 333h3M588 331.5v3M607.5 341h3M609 339.5v3M611.5 345h3M613 343.5v3M620.5 313h3M622 311.5v3M623.5 317h3M625 315.5v3" fill="none" stroke="#EE312C" stroke-width="0.7" stroke-opacity="0.85"/>
</svg>
<g fill="none" stroke="#1a1a1a" stroke-width="1.15">
<path d="M331.3 26.8H340.2M350.7 26.8H352.3V33.6M352.3 44V53.6M351.7 59.9H343.3M332.8 59.9H323.9M319.7 53.6V44.1M319.7 32.6V26.8H321"/>
<path d="M332 264.7H341M351.2 264.7H353V272.1M353 282V291.3M353 297.6H344.2M333.9 297.6H325M320.8 291.5V282.6M320.8 272.6V264.7H322.5"/>
<line x1="352.3" y1="26.8" x2="399" y2="11" stroke-dasharray="10.3 9.4"/>
<line x1="352.3" y1="59.9" x2="399" y2="195.7" stroke-dasharray="9.5 9.5"/>
<line x1="353" y1="264.7" x2="401" y2="221.7" stroke-dasharray="10.3 9.4"/>
<line x1="353" y1="297.6" x2="401" y2="412" stroke-dasharray="10.3 9.4"/>
</g>
<g fill="#000">
<text x="0.9" y="36.4" font-size="8.2" font-weight="bold">Population</text>
<path d="M0.1 45h3.8M2 43.1v3.8" fill="none" stroke="#EE312C" stroke-width="0.65"/>
<text x="6.1" y="47.16" font-size="6">CPHC</text>
<text x="0.9" y="58.36" font-size="6" font-weight="bold">Africa</text>
<path d="M1.26 66.2a1.04 1.04 0 1 0 2.08 0a1.04 1.04 0 1 0 -2.08 0" fill="#222" stroke="none"/>
<text x="6.1" y="68.36" font-size="6">ACB</text>
<path d="M25.4 64.85L26.75 67.21L24.05 67.21z" fill="none" stroke="#222" stroke-width="0.5"/>
<text x="29.9" y="68.36" font-size="6">GWD</text>
<path d="M1.26 74.66l2.08 2.08M1.26 76.74l2.08 -2.08" fill="none" stroke="#222" stroke-width="0.6"/>
<text x="6.1" y="77.86" font-size="6">MSL</text>
<path d="M25.4 74.35L26.75 75.7L25.4 77.05L24.05 75.7z" fill="none" stroke="#222" stroke-width="0.5"/>
<text x="29.9" y="77.86" font-size="6">ESN</text>
<path d="M2.3 86.45L3.65 84.09L0.95 84.09z" fill="none" stroke="#222" stroke-width="0.55"/>
<text x="6.1" y="87.26" font-size="6">YRI</text>
<path d="M24.36 84.06h2.08v2.08h-2.08z" fill="#222" stroke="none"/>
<text x="29.9" y="87.26" font-size="6">LWK</text>
<path d="M1.13 93.9a1.17 1.17 0 1 0 2.34 0a1.17 1.17 0 1 0 -2.34 0" fill="#222" stroke="none"/>
<text x="6.1" y="96.06" font-size="6">ASW</text>
<text x="68.3" y="58.66" font-size="6" font-weight="bold">America</text>
<path d="M68.93 65.9a1.17 1.17 0 1 0 2.34 0a1.17 1.17 0 1 0 -2.34 0" fill="#6CC35A" stroke="none"/>
<text x="73.9" y="68.06" font-size="6">PUR</text>
<path d="M92.5 64.55L93.85 66.91L91.15 66.91z" fill="#4FAE5A" stroke="none"/>
<text x="96.3" y="68.06" font-size="6">CLM</text>
<path d="M69.06 74.16l2.08 2.08M69.06 76.24l2.08 -2.08" fill="none" stroke="#6CC35A" stroke-width="0.55"/>
<text x="73.9" y="77.36" font-size="6">PEL</text>
<path d="M91.33 75.2a1.17 1.17 0 1 0 2.34 0a1.17 1.17 0 1 0 -2.34 0" fill="#3C8E52" stroke="none"/>
<text x="96.3" y="77.36" font-size="6">MXL</text>
<text x="68.7" y="96.16" font-size="6" font-weight="bold">Europe</text>
<path d="M69.63 102.7a1.17 1.17 0 1 0 2.34 0a1.17 1.17 0 1 0 -2.34 0" fill="#7FD0DA" stroke="none"/>
<text x="73.9" y="104.86" font-size="6">CEU</text>
<path d="M92.8 101.35L94.15 103.71L91.45 103.71z" fill="#5CC8D4" stroke="none"/>
<text x="97.2" y="104.86" font-size="6">TSI</text>
<path d="M69.76 110.96l2.08 2.08M69.76 113.04l2.08 -2.08" fill="none" stroke="#2A8C8A" stroke-width="0.55"/>
<text x="73.9" y="114.16" font-size="6">FIN</text>
<path d="M91.63 112a1.17 1.17 0 1 0 2.34 0a1.17 1.17 0 1 0 -2.34 0" fill="#8DD6DE" stroke="none"/>
<text x="97.2" y="114.16" font-size="6">IBS</text>
<path d="M70.8 121.9L72.3 119.28L69.3 119.28z" fill="#3FC0C6" stroke="none"/>
<text x="73.9" y="122.56" font-size="6">GBR</text>
<text x="0.9" y="106.66" font-size="6" font-weight="bold">East Asia</text>
<path d="M3.3 112.05L4.65 114.41L1.95 114.41z" fill="#D6D27A" stroke="none"/>
<text x="6.5" y="115.56" font-size="6">CHB</text>
<path d="M24.73 113.4a1.17 1.17 0 1 0 2.34 0a1.17 1.17 0 1 0 -2.34 0" fill="#EDE98A" stroke="none"/>
<text x="29.9" y="115.56" font-size="6">JPT</text>
<path d="M2.13 122.4a1.17 1.17 0 1 0 2.34 0a1.17 1.17 0 1 0 -2.34 0" fill="#EDE98A" stroke="none"/>
<text x="6.5" y="124.56" font-size="6">CHS</text>
<path d="M24.86 121.36h2.08v2.08h-2.08z" fill="#B8B42C" stroke="none"/>
<text x="30.3" y="124.56" font-size="6">KHV</text>
<path d="M2.26 129.76l2.08 2.08M2.26 131.84l2.08 -2.08" fill="none" stroke="#B5B070" stroke-width="0.55"/>
<text x="7" y="132.96" font-size="6">CDX</text>
<text x="0" y="143.26" font-size="6" font-weight="bold">South Asia</text>
<path d="M0.73 151.6a1.17 1.17 0 1 0 2.34 0a1.17 1.17 0 1 0 -2.34 0" fill="#8D7FC8" stroke="none"/>
<text x="6.1" y="153.76" font-size="6">PJL</text>
<path d="M23.8 150.25L25.15 152.61L22.45 152.61z" fill="#8D7FC8" stroke="none"/>
<text x="28.5" y="153.76" font-size="6">STU</text>
<path d="M0.86 159.16l2.08 2.08M0.86 161.24l2.08 -2.08" fill="none" stroke="#8D7FC8" stroke-width="0.55"/>
<text x="7" y="162.36" font-size="6">ITU</text>
<path d="M22.63 160.2a1.17 1.17 0 1 0 2.34 0a1.17 1.17 0 1 0 -2.34 0" fill="#8D7FC8" stroke="none"/>
<text x="28.5" y="162.36" font-size="6">BEB</text>
<path d="M1.9 169.59L3.39 166.98L0.41 166.98z" fill="#8D7FC8" stroke="none"/>
<text x="6.1" y="170.26" font-size="6">GIH</text>
</g>
<g fill="#000">
<text x="1.7" y="235.5" font-size="8.3" font-weight="bold">Population</text>
<path d="M0.7 242.9h3.8M2.6 241v3.8" fill="none" stroke="#EE312C" stroke-width="0.65"/>
<text x="7" y="245.06" font-size="6">CPHC</text>
<text x="2.2" y="253.76" font-size="6" font-weight="bold">Africa</text>
<path d="M1.72 259a1.38 1.38 0 1 0 2.76 0a1.38 1.38 0 1 0 -2.76 0" fill="none" stroke="#111" stroke-width="0.65"/>
<text x="8.1" y="261.16" font-size="6">BantuKenya</text>
<path d="M42.8 257.17L44.52 260.19L41.07 260.19z" fill="none" stroke="#111" stroke-width="0.65"/>
<text x="48.1" y="261.06" font-size="6">Biaka</text>
<path d="M1.72 264.22l2.76 2.76M1.72 266.98l2.76 -2.76" fill="none" stroke="#111" stroke-width="0.65"/>
<text x="8.1" y="267.76" font-size="6">San</text>
<path d="M42.8 264.41L44.59 266.2L42.8 267.99L41.01 266.2z" fill="none" stroke="#111" stroke-width="0.65"/>
<text x="48.1" y="268.36" font-size="6">Mandenka</text>
<path d="M3.1 270.81L4.89 272.6L3.1 274.39L1.31 272.6z" fill="none" stroke="#111" stroke-width="0.65"/>
<text x="8.1" y="274.76" font-size="6">Yoruba</text>
<path d="M42.8 274.73L44.52 271.71L41.07 271.71z" fill="none" stroke="#111" stroke-width="0.65"/>
<text x="48.1" y="275.16" font-size="6">Mbuti</text>
<path d="M1.72 277.52h2.76v2.76h-2.76z" fill="#111" stroke="none"/>
<text x="8.1" y="281.06" font-size="6">BantuSouthAfrica</text>
<text x="2.1" y="290.16" font-size="6" font-weight="bold">America</text>
<path d="M2.82 295.4a1.38 1.38 0 1 0 2.76 0a1.38 1.38 0 1 0 -2.76 0" fill="none" stroke="#55B947" stroke-width="0.65"/>
<text x="7.7" y="297.56" font-size="6">Colombian</text>
<path d="M41.7 294.67L43.43 297.69L39.98 297.69z" fill="none" stroke="#55B947" stroke-width="0.65"/>
<text x="46.9" y="298.56" font-size="6">Maya</text>
<path d="M2.82 300.72l2.76 2.76M2.82 303.48l2.76 -2.76" fill="none" stroke="#55B947" stroke-width="0.65"/>
<text x="7.7" y="304.26" font-size="6">Karitiana</text>
<path d="M41.7 300.91L43.49 302.7L41.7 304.49L39.91 302.7z" fill="none" stroke="#55B947" stroke-width="0.65"/>
<text x="46.9" y="304.86" font-size="6">Pima</text>
<path d="M4.2 311.12L5.92 308.11L2.48 308.11z" fill="none" stroke="#55B947" stroke-width="0.65"/>
<text x="8.7" y="311.56" font-size="6">Surui</text>
<text x="2.1" y="319.66" font-size="6" font-weight="bold">Centrol South Asia</text>
<path d="M2.12 324.5a1.38 1.38 0 1 0 2.76 0a1.38 1.38 0 1 0 -2.76 0" fill="none" stroke="#6B46A8" stroke-width="0.65"/>
<text x="8.7" y="326.66" font-size="6">Balochi</text>
<path d="M41.7 322.77L43.43 325.79L39.98 325.79z" fill="none" stroke="#6B46A8" stroke-width="0.65"/>
<text x="45.9" y="326.66" font-size="6">Hazara</text>
<path d="M2.12 330.12l2.76 2.76M2.12 332.88l2.76 -2.76" fill="none" stroke="#6B46A8" stroke-width="0.65"/>
<text x="8.7" y="333.66" font-size="6">Brahui</text>
<path d="M41.7 330.21L43.49 332L41.7 333.79L39.91 332z" fill="none" stroke="#6B46A8" stroke-width="0.65"/>
<text x="45.9" y="334.16" font-size="6">Kalash</text>
<path d="M3.5 339.83L5.22 336.81L1.78 336.81z" fill="none" stroke="#6B46A8" stroke-width="0.65"/>
<text x="9.1" y="340.26" font-size="6">Burusho</text>
<path d="M40.32 337.72h2.76v2.76h-2.76z" fill="#6B46A8" stroke="none"/>
<text x="46.2" y="341.26" font-size="6">Makrani</text>
<path d="M4.2 343.77L5.83 345.4L4.2 347.02L2.58 345.4z" fill="#6B46A8" stroke="none"/>
<text x="9.1" y="347.56" font-size="6">Pathan</text>
<path d="M41.7 344.15L43.65 346.1L41.7 348.05L39.75 346.1z" fill="#6B46A8" stroke="none"/>
<text x="46.2" y="348.26" font-size="6">Sindhi</text>
<path d="M2.82 352a1.38 1.38 0 1 0 2.76 0a1.38 1.38 0 1 0 -2.76 0" fill="#6B46A8" stroke="none"/>
<text x="8.1" y="354.16" font-size="6">Uygur</text>
<text x="1.1" y="362.66" font-size="6" font-weight="bold">East Asia</text>
<path d="M1.72 368a1.38 1.38 0 1 0 2.76 0a1.38 1.38 0 1 0 -2.76 0" fill="none" stroke="#E6E060" stroke-width="0.65"/>
<text x="8.1" y="370.16" font-size="6">Cambodian</text>
<path d="M41.4 366.27L43.12 369.29L39.67 369.29z" fill="none" stroke="#E6E060" stroke-width="0.65"/>
<text x="46" y="370.16" font-size="6">Lahu</text>
<path d="M61.62 367.02l2.76 2.76M61.62 369.78l2.76 -2.76" fill="none" stroke="#C9C33E" stroke-width="0.65"/>
<text x="66.9" y="370.56" font-size="6">Mongolian</text>
<path d="M3.1 373.21L4.89 375L3.1 376.79L1.31 375z" fill="none" stroke="#A6A24A" stroke-width="0.65"/>
<text x="8.4" y="377.16" font-size="6">Dai</text>
<path d="M41.4 376.53L43.12 373.51L39.67 373.51z" fill="none" stroke="#E6E060" stroke-width="0.65"/>
<text x="46" y="376.96" font-size="6">Naxi</text>
<path d="M61.38 373.08h3.24v3.24h-3.24z" fill="#A6A24A" stroke="none"/>
<text x="66.9" y="376.86" font-size="6">Tujia</text>
<path d="M1.22 382.4a1.88 1.88 0 1 0 3.76 0a1.88 1.88 0 1 0 -3.76 0" fill="#EDE447" stroke="none"/>
<text x="8.4" y="384.56" font-size="6">Daur</text>
<path d="M41.4 379.93L43.87 382.4L41.4 384.87L38.93 382.4z" fill="#EDE447" stroke="none"/>
<text x="46" y="384.56" font-size="6">She</text>
<path d="M61.5 382a1.5 1.5 0 1 0 3 0a1.5 1.5 0 1 0 -3 0" fill="#A6A24A" stroke="none"/>
<text x="66.9" y="384.16" font-size="6">NorthernHan</text>
<path d="M1.72 388.62h2.76v2.76h-2.76z" fill="none" stroke="#A6A24A" stroke-width="0.65"/>
<text x="8.4" y="392.16" font-size="6">Han</text>
<path d="M39.71 388.31h3.38v3.38h-3.38z" fill="#EDE98A" stroke="none"/>
<text x="46" y="392.16" font-size="6">Oroqen</text>
<path d="M67.68 388.38h3.24v3.24h-3.24z" fill="#D6D27A" stroke="none"/>
<text x="73.7" y="392.16" font-size="6">Yakut</text>
<path d="M1.85 397.25h2.5v2.5h-2.5z" fill="none" stroke="#EDE447" stroke-width="0.65"/>
<text x="8.4" y="400.66" font-size="6">Miao</text>
<path d="M39.9 398.5a1.5 1.5 0 1 0 3 0a1.5 1.5 0 1 0 -3 0" fill="#C9C33E" stroke="none"/>
<text x="46" y="400.66" font-size="6">Yi</text>
<path d="M61.56 398.5a1.44 1.44 0 1 0 2.88 0a1.44 1.44 0 1 0 -2.88 0" fill="#8A8E34" stroke="none"/>
<text x="66.9" y="400.37" font-size="5.2" font-family='Liberation Serif'>Japanese</text>
<path d="M3.1 403.81L4.69 406.59L1.51 406.59z" fill="#EDE447" stroke="none"/>
<text x="8.4" y="407.56" font-size="6">Hezhen</text>
<path d="M40.52 405a0.88 0.88 0 1 0 1.76 0a0.88 0.88 0 1 0 -1.76 0" fill="#8A8E34" stroke="none"/>
<text x="46" y="407.16" font-size="6">Xibo</text>
<path d="M61.12 405.4a1.88 1.88 0 1 0 3.76 0a1.88 1.88 0 1 0 -3.76 0" fill="#EDE447" stroke="none"/>
<text x="66.9" y="407.56" font-size="6">Tu</text>
<text x="77.1" y="254.36" font-size="6" font-weight="bold">Oceania</text>
<path d="M77.82 259.9a1.38 1.38 0 1 0 2.76 0a1.38 1.38 0 1 0 -2.76 0" fill="none" stroke="#E9A3BD" stroke-width="0.65"/>
<text x="82.7" y="262.06" font-size="6">Bougainville</text>
<path d="M79.2 264.57L80.92 267.59L77.48 267.59z" fill="none" stroke="#C68AA4" stroke-width="0.65"/>
<text x="82.7" y="268.46" font-size="6">PapuanSepik</text>
<path d="M77.82 270.92l2.76 2.76M77.82 273.68l2.76 -2.76" fill="none" stroke="#8E5A75" stroke-width="0.65"/>
<text x="82.7" y="274.46" font-size="6">PapuanHighlands</text>
<text x="77.5" y="286.66" font-size="6" font-weight="bold">Middle East</text>
<path d="M78.52 291.7a1.38 1.38 0 1 0 2.76 0a1.38 1.38 0 1 0 -2.76 0" fill="none" stroke="#F5A033" stroke-width="0.6"/>
<text x="83.4" y="293.86" font-size="6">Bedouin</text>
<path d="M79.9 296.47L81.62 299.49L78.18 299.49z" fill="none" stroke="#C58A3A" stroke-width="0.6"/>
<text x="83.4" y="300.36" font-size="6">Mozabite</text>
<path d="M78.52 303.22l2.76 2.76M78.52 305.98l2.76 -2.76" fill="none" stroke="#F5A033" stroke-width="0.6"/>
<text x="83.4" y="306.76" font-size="6">Druze</text>
<path d="M78.52 311.7a1.38 1.38 0 1 0 2.76 0a1.38 1.38 0 1 0 -2.76 0" fill="none" stroke="#F5A033" stroke-width="0.6"/>
<text x="83.4" y="313.86" font-size="6">Palestinian</text>
<text x="78.5" y="323.11" font-size="5.3" font-weight="bold">Europe</text>
<path d="M78.52 329a1.38 1.38 0 1 0 2.76 0a1.38 1.38 0 1 0 -2.76 0" fill="none" stroke="#4FC2CA" stroke-width="0.65"/>
<text x="84.1" y="331.16" font-size="6">Adygei</text>
<path d="M106.9 326.88L108.62 329.89L105.18 329.89z" fill="none" stroke="#4FC2CA" stroke-width="0.65"/>
<text x="111.1" y="330.76" font-size="6">French</text>
<path d="M78.65 333.05l2.5 2.5M78.65 335.55l2.5 -2.5" fill="none" stroke="#4FC2CA" stroke-width="0.65"/>
<text x="84.1" y="336.46" font-size="6">Bergamoitalian</text>
<path d="M79.9 338.71L81.69 340.5L79.9 342.29L78.11 340.5z" fill="none" stroke="#2FA8AE" stroke-width="0.6"/>
<text x="84.1" y="342.66" font-size="6">Tuscan</text>
<path d="M107.2 342.62L108.92 339.61L105.48 339.61z" fill="none" stroke="#4FC2CA" stroke-width="0.65"/>
<text x="111.1" y="343.06" font-size="6">Basque</text>
<path d="M78.52 344.62h2.76v2.76h-2.76z" fill="#4FC2CA" stroke="none"/>
<text x="84.1" y="348.16" font-size="6">Sardinian</text>
<path d="M78.4 352.5h3M79.9 351v3M78.78 351.38l2.25 2.25M78.78 353.62l2.25 -2.25" fill="none" stroke="#7FD0DA" stroke-width="0.6"/>
<text x="84.1" y="354.66" font-size="6">Russian</text>
<path d="M79.9 356.83L82.18 359.1L79.9 361.38L77.62 359.1z" fill="#2FA8AE" stroke="none"/>
<text x="84.1" y="361.26" font-size="6">Orcadian</text>
</g>
<g fill="#000">
<text x="642.0" y="65.9" font-size="7.85" font-weight="bold">Population</text>
<path d="M644.1 76.2h2.4M645.3 75v2.4" fill="none" stroke="#EE312C" stroke-width="0.6"/>
<text x="652.3" y="78.32" font-size="5.9">CPHC</text>
<path d="M644.3 84.2l2 2M644.3 86.2l2 -2" fill="none" stroke="#5CC8D4" stroke-width="0.55"/>
<text x="652.3" y="87.32" font-size="5.9">CDX</text>
<path d="M645.3 93.53L646.56 95.75L644.03 95.75z" fill="none" stroke="#2F52A6" stroke-width="0.55"/>
<text x="652.3" y="96.92" font-size="5.9">CHB</text>
<path d="M644.2 104a1.1 1.1 0 1 0 2.2 0a1.1 1.1 0 1 0 -2.2 0" fill="none" stroke="#E6E050" stroke-width="0.55"/>
<text x="652.3" y="106.12" font-size="5.9">CHS</text>
<path d="M645.3 112.4L646.6 113.7L645.3 115L644 113.7z" fill="none" stroke="#6E52AE" stroke-width="0.55"/>
<text x="652.3" y="115.82" font-size="5.9">JPT</text>
<path d="M644.3 121.6h2v2h-2z" fill="#5CB848" stroke="none"/>
<text x="652.3" y="124.72" font-size="5.9">KHV</text>
</g>
<g fill="#000">
<text x="641.8" y="235.1" font-size="7.7" font-weight="bold">Population</text>
<path d="M644.3 244.1h3M645.8 242.6v3" fill="none" stroke="#EE312C" stroke-width="0.6"/>
<text x="650.9" y="246.21" font-size="5.85">CPHC</text>
<path d="M644.75 254.1a1.05 1.05 0 1 0 2.1 0a1.05 1.05 0 1 0 -2.1 0" fill="none" stroke="#3E9A50" stroke-width="0.6"/>
<text x="650.9" y="256.21" font-size="5.85">Cambodian</text>
<path d="M645.8 261.74L647.16 263.1L645.8 264.47L644.43 263.1z" fill="none" stroke="#E6E060" stroke-width="0.6"/>
<text x="650.9" y="265.21" font-size="5.85">Dai</text>
<path d="M644.75 272.4h2.1M645.8 271.35v2.1M645.01 271.61l1.58 1.58M645.01 273.19l1.58 -1.58" fill="none" stroke="#6A4BB0" stroke-width="0.6"/>
<text x="650.9" y="274.51" font-size="5.85">Daur</text>
<path d="M644.65 279.85h2.3v2.3h-2.3z" fill="none" stroke="#E8E26A" stroke-width="0.6"/>
<text x="650.9" y="283.11" font-size="5.85">Han</text>
<path d="M645.8 287.49L647.01 289.61L644.59 289.61z" fill="#3FC0CF" stroke="none"/>
<text x="650.9" y="290.81" font-size="5.85">Hezhen</text>
<path d="M644.75 296.6a1.05 1.05 0 1 0 2.1 0a1.05 1.05 0 1 0 -2.1 0" fill="#5A3EA0" stroke="none"/>
<text x="650.9" y="298.71" font-size="5.85">Japanese</text>
<path d="M645.8 303.99L647.01 306.11L644.59 306.11z" fill="none" stroke="#4CB050" stroke-width="0.6"/>
<text x="650.9" y="307.31" font-size="5.85">Lahu</text>
<path d="M644.7 313.6h2.2v2.2h-2.2z" fill="none" stroke="#F1A9C2" stroke-width="0.6"/>
<text x="650.9" y="316.81" font-size="5.85">Miao</text>
<path d="M644.75 322.45l2.1 2.1M644.75 324.55l2.1 -2.1" fill="none" stroke="#B8B44C" stroke-width="0.6"/>
<text x="650.9" y="325.61" font-size="5.85">Mongolian</text>
<path d="M645.8 333.01L647.01 330.89L644.59 330.89z" fill="none" stroke="#A03A52" stroke-width="0.6"/>
<text x="650.9" y="333.91" font-size="5.85">Naxi</text>
<path d="M644.75 340.5a1.05 1.05 0 1 0 2.1 0a1.05 1.05 0 1 0 -2.1 0" fill="#6E7FD2" stroke="none"/>
<text x="650.9" y="342.61" font-size="5.85">NorthernHan</text>
<path d="M644.65 346.85h2.3v2.3h-2.3z" fill="#7CCB6C" stroke="none"/>
<text x="650.9" y="350.11" font-size="5.85">Oroqen</text>
<path d="M645.8 355.31L647.49 357L645.8 358.69L644.11 357z" fill="#F0E845" stroke="none"/>
<text x="650.9" y="359.11" font-size="5.85">She</text>
<path d="M644.65 365.5a1.15 1.15 0 1 0 2.3 0a1.15 1.15 0 1 0 -2.3 0" fill="#F08A28" stroke="none"/>
<text x="650.9" y="367.61" font-size="5.85">Tu</text>
<path d="M644.6 372.8h2.4v2.4h-2.4z" fill="#C2BC5A" stroke="none"/>
<text x="650.9" y="376.11" font-size="5.85">Tujia</text>
<path d="M645.1 382.8a0.7 0.7 0 1 0 1.4 0a0.7 0.7 0 1 0 -1.4 0" fill="#1F9FA8" stroke="none"/>
<text x="650.9" y="384.91" font-size="5.85">Xibo</text>
<path d="M644.65 390.35h2.3v2.3h-2.3z" fill="#7FD0DA" stroke="none"/>
<text x="650.9" y="393.61" font-size="5.85">Yakut</text>
<path d="M644.75 399.05h2.1v2.1h-2.1z" fill="#1E3A9C" stroke="none"/>
<text x="650.9" y="402.21" font-size="5.85">Yi</text>
</g>
</svg></body></html>
